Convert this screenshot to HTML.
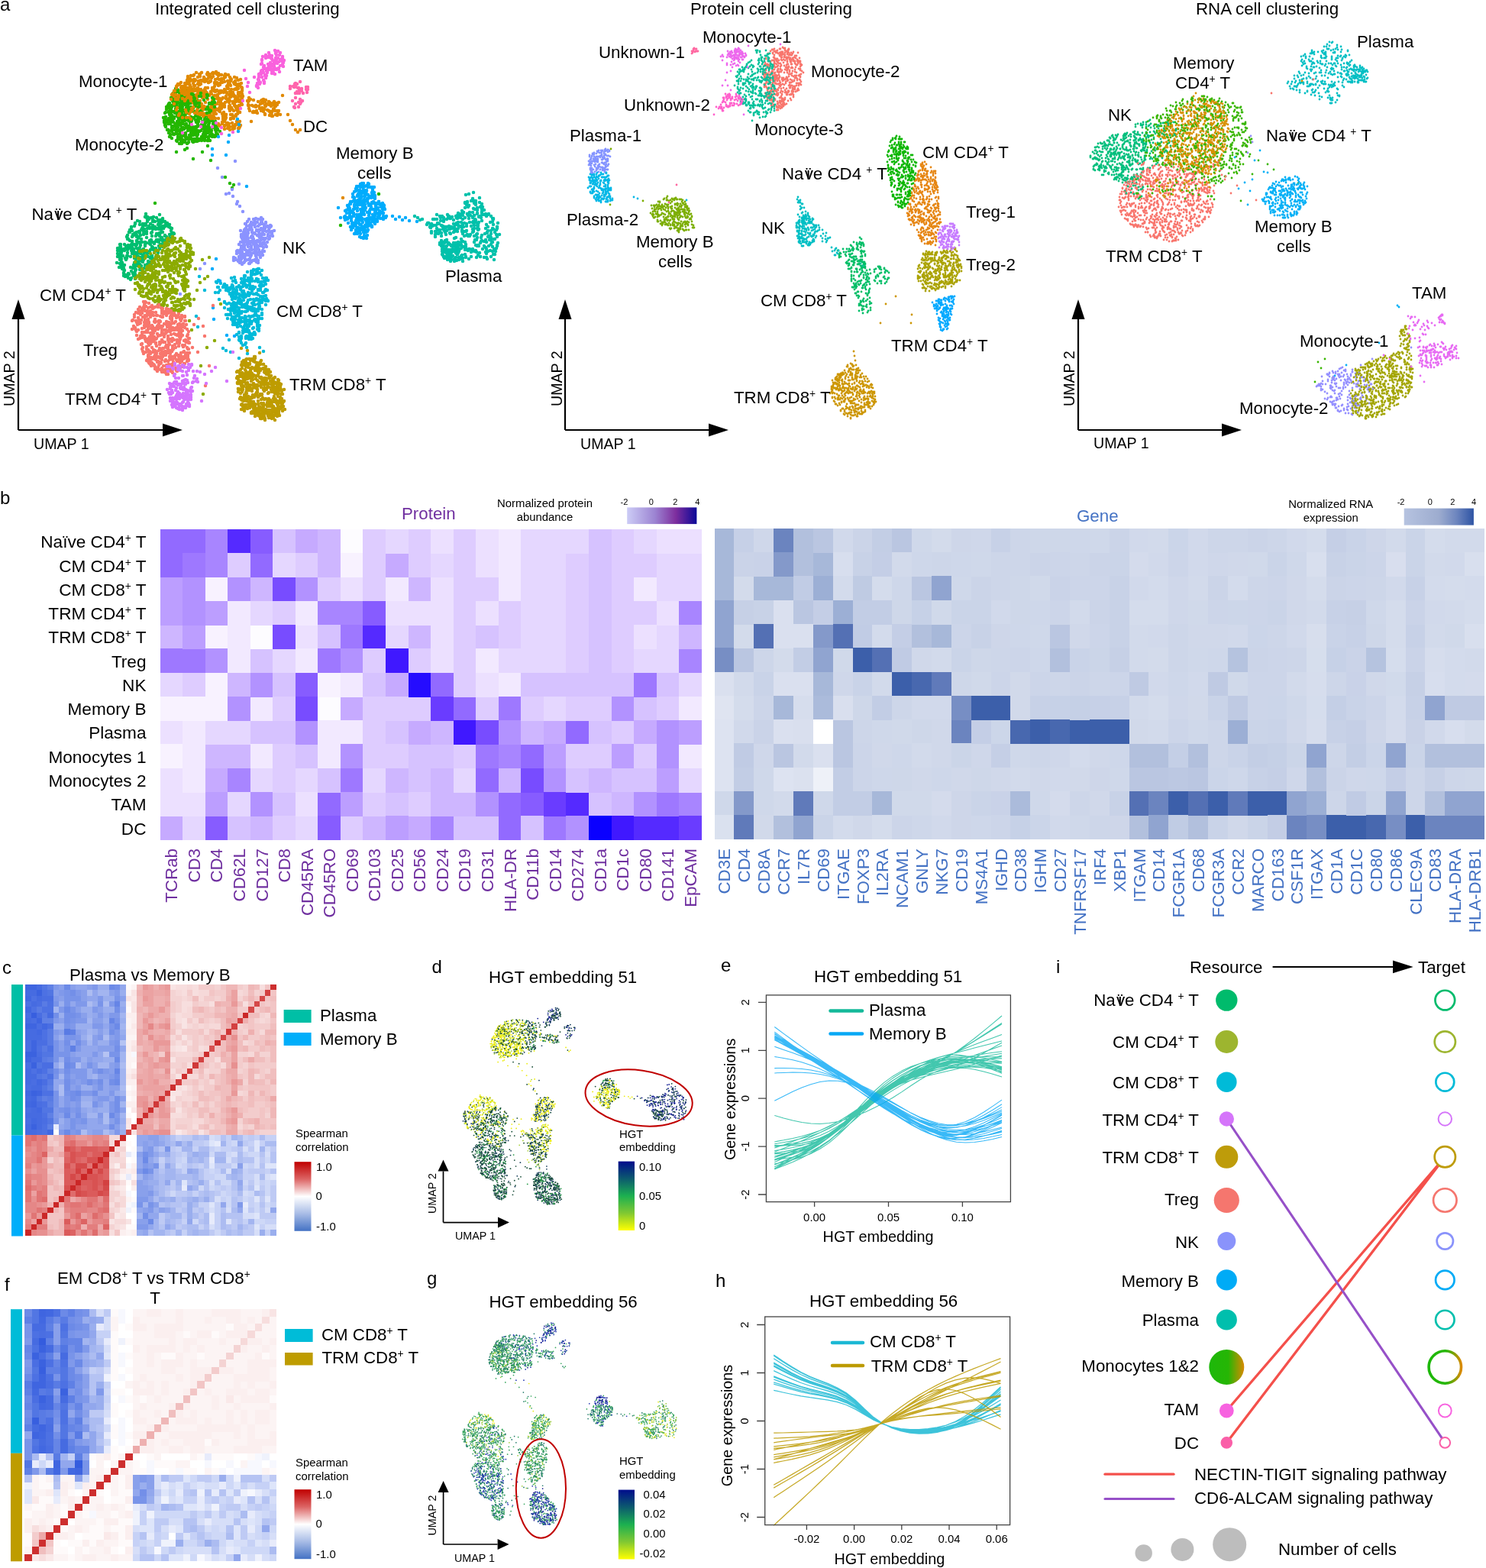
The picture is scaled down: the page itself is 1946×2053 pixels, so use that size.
<!DOCTYPE html>
<html><head><meta charset="utf-8"><title>Figure</title>
<style>
html,body{margin:0;padding:0;background:#fff;overflow:hidden;}
svg{display:block;}
text{font-family:"Liberation Sans", Arial, Helvetica, sans-serif;}
</style></head><body>
<svg width="1946" height="2053" viewBox="0 0 1946 2053">
<rect width="1946" height="2053" fill="#fff"/>
<defs><path id="q0_0" d="M208 299h0m-29 9h0m9-2h0m-6 4h0m-9 6h0m46-22h0m-5 5h0m8 12h0m-43 4h0m13-11h0m-22 11h0m56-3h0m-14-1h0m-7-12h0m-13 4h0m25-7h0m-4 0h0m-6-7h0m-25 14h0m-13 1h0m28-11h0m-30 15h0m49 0h0m-49 4h0"/><path id="q0_1" d="M176 296h0m16 10h0m17 3h0m-11-11h0m25 0h0m-39 10h0m26 6h0m-19-31h0m22 21h0m-20-5h0m26 15h0m-4-17h0m-45 7h0m39 1h0m9 9h0m-24-29h0m1 11h0m13-7h0m0 10h0m-7-9h0m7 1h0m-2 25h0m11-23h0"/><path id="q0_2" d="M199 304h0m9-6h0m-16-13h0m-6 14h0m-10 8h0m35 4h0m14 5h0m-29-1h0m2-10h0m-15-1h0m-10 6h0m27-10h0m-15 17h0m38-5h0m3 2h0m-57-10h0m38-16h0m-8 21h0m-3-10h0m4-11h0m9 4h0m4-5h0m-27 12h0"/><path id="q0_3" d="M185 313h0m42-8h0m-17-17h0m12 19h0m-14-7h0m-7-2h0m27 8h0m-16 8h0m-9-17h0m5 20h0m9-23h0m-16-10h0m-12 16h0m15 9h0m5-28h0m14 34h0m-33-20h0m-11 21h0m6-15h0m27-4h0m0-6h0m4-1h0m9 15h0"/><path id="q0_4" d="M179 304h0m29-5h0m9 15h0m-38-4h0m14-22h0m0-4h0m-3 0h0m16 23h0m-2-7h0m-11-10h0m-2-10h0m-10 32h0m-7-5h0m39 9h0m-26-17h0m-7-10h0m-3 16h0m29 1h0m-11-19h0m-7 16h0m22-13h0m-7 0h0m-13 3h0"/><path id="q0_5" d="M221 297h0m-10 4h0m-36 7h0m35-3h0m-43 8h0m48 3h0m1-20h0m-50 14h0m50-1h0m-16 8h0m18-7h0m-31-17h0m9 23h0m18-20h0m-46 17h0m9-20h0m51 20h0m-28-18h0m5 19h0m4-17h0m-11-12h0m-8 32h0m-7-27h0"/><path id="q0_6" d="M223 307h0m-14 1h0m-39-7h0m18 0h0m25-11h0m-30 4h0m42 5h0m-5 16h0m4-13h0m-17-8h0m-19 13h0m17-22h0m22 21h0m-36-13h0m-5 24h0m-8-11h0m-6-8h0m15-2h0m32-4h0m-15 24h0m9-30h0m-31 31h0m26-3h0"/><path id="q0_7" d="M172 297h0m22-12h0m-21 31h0m3-10h0m38-7h0m-13-10h0m-9 22h0m-15-19h0m35 7h0m-2-6h0m-3 21h0m10 2h0m-15-19h0m-29 5h0m25 12h0m16 0h0m-9-8h0m-5-16h0m20 26h0m2-22h0m-39 11h0m8-10h0m11 2h0"/><path id="q1_0" d="M162 351h0m32-9h0m-20 16h0m10-21h0m22-3h0m-27-1h0m0 11h0m-4-18h0m9 36h0m-11-32h0m9-2h0m25 1h0m-29 17h0m-16 7h0m16-17h0m6 17h0m21-17h0m-11 10h0m-26-24h0m1 3h0m37 4h0m11-8h0m-52 19h0m24 16h0m-31-31h0m8 13h0m34 2h0m-13 19h0m0-16h0"/><path id="q1_1" d="M210 320h0m-35 27h0m-10-23h0m-7 22h0m24-15h0m-3 4h0m-20 4h0m29-3h0m-30-16h0m41 4h0m-11 2h0m-11 39h0m-15-7h0m-4-25h0m0-10h0m41 17h0m-27-12h0m17 28h0m-22-25h0m31 16h0m-39-4h0m-2-18h0m2 23h0m34-2h0m11-20h0m0-1h0m-22 6h0m-3 2h0m-20 17h0"/><path id="q1_2" d="M207 330h0m-31 6h0m22 0h0m-39 10h0m14-14h0m14-5h0m-31 7h0m20 17h0m-7 8h0m7-21h0m5-2h0m15 13h0m-7-18h0m7 17h0m-9-14h0m-22-12h0m15 10h0m-3 17h0m-17-5h0m54-23h0m-35-1h0m33 0h0m-35 39h0m5-12h0m2-15h0m2 7h0m-15-17h0m22 26h0m-26-13h0"/><path id="q1_3" d="M167 362h0m11-20h0m-11-15h0m18 21h0m-7 5h0m21-16h0m5-1h0m-14 11h0m0-11h0m-22 28h0m4-44h0m3 7h0m26 0h0m-33 31h0m15-40h0m5 12h0m-24 8h0m-9-12h0m18-7h0m15 21h0m-7-11h0m7 27h0m0-17h0m-7-13h0m2 27h0m-1-11h0m-4-3h0m-18 13h0"/><path id="q1_4" d="M173 323h0m6 8h0m-23 19h0m19 0h0m-4 16h0m-15-38h0m31 30h0m10-31h0m-9 9h0m-27-1h0m17-13h0m-7 14h0m-17-8h0m5 0h0m17 2h0m23-7h0m-9-3h0m-36 5h0m29 15h0m-6 15h0m5-27h0m27-2h0m-44 34h0m11-40h0m7 26h0m-23-18h0m15 2h0m10-2h0"/><path id="q1_5" d="M190 322h0m-33-2h0m20 23h0m-20-5h0m15 26h0m11-40h0m3 28h0m-32-20h0m5-1h0m50-9h0m1-1h0m-51 22h0m15 8h0m-17-27h0m-2 1h0m8-5h0m21 1h0m-26 10h0m18 3h0m27-6h0m-32 22h0m-14-5h0m0-5h0m7 22h0m-11-18h0m26 4h0m6 4h0m3-17h0"/><path id="q1_6" d="M196 329h0m-1 15h0m16-22h0m-17 14h0m3 2h0m-5-9h0m4-10h0m6 20h0m0-20h0m-10-1h0m7 17h0m-33-10h0m23 26h0m-3-9h0m-14 13h0m-6-20h0m30 8h0m-34 14h0m15-21h0m1 27h0m-14-2h0m15-36h0m34-2h0m-51 38h0m20-15h0m-14-25h0m11-1h0m-20 30h0"/><path id="q1_7" d="M207 331h0m-32 30h0m34-38h0m-12-3h0m-21 40h0m32-38h0m-54 14h0m35-8h0m-5 21h0m-22-2h0m41-8h0m-44-4h0m17 22h0m33-32h0m-10 10h0m-23 9h0m-14-18h0m38-2h0m-37 23h0m-2 5h0m32-20h0m-20-7h0m6 9h0m33-14h0m-35 24h0m-14-16h0m0 26h0m15 8h0"/><path id="q2_0" d="M247 156h0m8-30h0m0 3h0m-32 33h0m23 25h0m28-26h0m3-3h0m-52-3h0m7-5h0m2 7h0m16 14h0m2-42h0m-19 52h0m41-25h0m-26 9h0m34 0h0m-44 2h0m-16-12h0m21-2h0m10-11h0m27 25h0m-36-2h0m39 13h0m-30-47h0m-10 17h0m-12 24h0m24 3h0m-22 1h0m6-41h0m-8 64h0m-5-68h0m33 34h0m12 3h0m-46-1h0m46-11h0m-46 9h0m56 14h0m-29 4h0m-1-1h0m-9-4h0m-25-18h0m19-30h0m-3 49h0m15-9h0m-8-8h0m4-42h0m5 45h0m3-42h0m-22 1h0m-8 33h0m22-16h0m-7 43h0m31-17h0m-9-35h0m-7 51h0m16-3h0m-47-40h0m24 48h0m37-18h0m-14 8h0m-30-25h0m17-17h0m5 19h0m-20-11h0m-13-10h0m-6 28h0m22-43h0m-17 19h0m31 44h0m-10-46h0m-2-6h0m20 49h0m-24-3h0m42-9h0m-66-14h0m40-2h0"/><path id="q2_1" d="M257 177h0m-27-15h0m18-5h0m-6 29h0m-8-66h0m33 48h0m-33-12h0m23 2h0m1 20h0m19 0h0m-3-9h0m-28-1h0m-22-40h0m15 0h0m10-10h0m0 14h0m1 32h0m-11-11h0m6-5h0m-23 2h0m45 12h0m-40-16h0m45 45h0m3-7h0m-22 24h0m-14-84h0m-24 36h0m25-7h0m-13-31h0m8 17h0m-15 31h0m23-39h0m-4-5h0m6 68h0m-19-48h0m-2 11h0m29 20h0m15-15h0m-13-33h0m-34 26h0m23-19h0m-1-5h0m-5-12h0m66 127h0m-66-109h0m11-5h0m20 28h0m-47-25h0m35 4h0m17 13h0m-2 32h0m-37-32h0m24 24h0m-24-56h0m5 31h0m18 9h0m-29 10h0m7 10h0m21-14h0m-14-34h0m-12 16h0m35 28h0m-31-15h0m38-6h0m-21 30h0m6-28h0m-26-9h0m16 20h0m33-7h0m-34-15h0m31 12h0m-42-13h0m6-8h0m35 34h0m-54-32h0m11 19h0"/><path id="q2_2" d="M259 141h0m-21 32h0m29 0h0m-41-3h0m37-20h0m-25-7h0m68 99h0m-18-70h0m-46 12h0m-26-20h0m19 24h0m14-11h0m4-46h0m-2 10h0m-19-23h0m5 67h0m10-52h0m-4 42h0m-9-27h0m-3-28h0m5 25h0m11-26h0m4 35h0m-22-32h0m17 16h0m1 20h0m11 19h0m-25 4h0m17-35h0m11 26h0m22 6h0m-32-4h0m-5-53h0m0 45h0m22-10h0m-52 6h0m18-42h0m3 36h0m11-26h0m-1 24h0m-9-3h0m47 18h0m-34 8h0m-8-22h0m14 4h0m-6-31h0m-6 3h0m28 53h0m-27-37h0m-26 23h0m23-37h0m-5 16h0m1 3h0m21 7h0m-32-4h0m2-38h0m-5 34h0m48 14h0m-8-21h0m-26 6h0m34 13h0m-24-5h0m9 8h0m-34-21h0m30 40h0m-2-10h0m17-7h0m-45 3h0m24-48h0m-30 34h0m54 11h0m-49 11h0m23-39h0m10-12h0m-10 14h0"/><path id="q2_3" d="M264 184h0m-30-22h0m26 3h0m-5 5h0m-3-4h0m7-5h0m-2 11h0m-29-19h0m31 29h0m-18-29h0m-16 19h0m-8-8h0m19 18h0m43-20h0m-41-5h0m-3 25h0m-11-22h0m50 11h0m11-1h0m-7 6h0m-9-15h0m-28 8h0m-13 7h0m16-9h0m-11-21h0m10 31h0m-18-22h0m7 4h0m41 14h0m-35 6h0m-12-21h0m39 1h0m-41-14h0m26-5h0m-3-15h0m-25 54h0m20-59h0m31 44h0m-8 17h0m-35-37h0m4 27h0m-10-29h0m-9 16h0m57-6h0m-51-5h0m4-9h0m28-6h0m25 35h0m-30-43h0m-27 50h0m18-15h0m39 20h0m-43-38h0m11 3h0m-3-7h0m-11-11h0m53 50h0m-46-46h0m20 23h0m-15 9h0m-13-24h0m3 22h0m16-7h0m-47 113h0m81-91h0m-41-44h0m-11 54h0m35-7h0m-34-11h0m42 11h0m-25-48h0m7 40h0m-19-50h0m9 45h0m-10 23h0"/><path id="q2_4" d="M256 185h0m-31-26h0m4-21h0m37 39h0m-40-54h0m12 16h0m-6 30h0m44 41h0m-39-82h0m16 39h0m-6-40h0m9 3h0m4 24h0m-32-17h0m9 32h0m38 8h0m-34-1h0m-1-43h0m-17 10h0m41 36h0m-40-21h0m18 38h0m-11-30h0m-1-44h0m22 47h0m22-2h0m4 10h0m-49-13h0m9-14h0m-18-12h0m52 31h0m-28-12h0m14-10h0m-33-7h0m31 26h0m-12 14h0m29 1h0m3-8h0m-17-15h0m-11 22h0m-26-33h0m16-11h0m-1-2h0m2 6h0m20 20h0m26 10h0m-20-21h0m-22 31h0m-8-45h0m261 119h0m-273-99h0m40 0h0m-27-25h0m44 34h0m-50-27h0m35 25h0m-22-26h0m3 6h0m8 12h0m-15 29h0m-4-60h0m39 36h0m-32-35h0m-12-8h0m29 21h0m-2 37h0m-36-12h0m61-3h0m-63-1h0m49-5h0m-9-7h0m2 7h0m16 22h0m-31-4h0m22-19h0"/><path id="q2_5" d="M273 179h0m-40-61h0m32 81h0m-29-70h0m-9 31h0m5-19h0m-5 35h0m44-7h0m-4 0h0m-31-44h0m1 4h0m-4 24h0m-2 14h0m11-11h0m-8-4h0m-15 18h0m63 7h0m-38-31h0m-20-1h0m20 0h0m11-9h0m-18 35h0m17 4h0m19-7h0m2-14h0m-30-24h0m-7 44h0m35-7h0m-24-10h0m-5 25h0m4 0h0m-15-47h0m21 19h0m-17-31h0m-10 43h0m-2 2h0m30 1h0m-4-11h0m3-12h0m-23 28h0m38 0h0m-12-14h0m-17 7h0m16-15h0m-14 6h0m-13-24h0m19 43h0m-7-32h0m-12-23h0m27 11h0m5 49h0m7 0h0m-45-6h0m27-32h0m-5 3h0m26 19h0m-8-21h0m-20 4h0m41 16h0m-47-12h0m33 26h0m-24-13h0m-7-14h0m-18 10h0m11-44h0m8 37h0m-18 6h0m37 2h0m-6 23h0m7-2h0m9-11h0m-51-30h0m12 32h0m-1-27h0m21-13h0"/><path id="q2_6" d="M235 175h0m23 10h0m3-34h0m-43 9h0m38-3h0m16 17h0m-34-52h0m4 41h0m-19-9h0m-9 0h0m42-6h0m17 24h0m-52-36h0m-5 12h0m49 2h0m-18-6h0m-9-28h0m20 29h0m-32-13h0m53 34h0m-61-26h0m39 8h0m-40-1h0m15-20h0m-16 27h0m230 141h0m-151-63h0m-59-94h0m19 44h0m-15-51h0m20 53h0m-24-23h0m36-2h0m-22 22h0m-12-25h0m26 7h0m-10 9h0m24 6h0m-28-4h0m-16-22h0m47 12h0m-32-3h0m-5-27h0m39 39h0m-45-37h0m4-14h0m-6 42h0m1 7h0m-6-25h0m44 25h0m-44-38h0m6 45h0m1-7h0m0-15h0m-5-25h0m17 29h0m-23-30h0m5 34h0m3-29h0m3 53h0m5-11h0m25-13h0m-8-9h0m-36-5h0m49 14h0m-29 16h0m-2-54h0m-2 42h0m28 11h0m-24-61h0m-5 28h0m32 28h0m-51-4h0m26-28h0m11 33h0"/><path id="q2_7" d="M232 168h0m26-40h0m-14 26h0m-4-18h0m29 36h0m-19-6h0m-19 18h0m1-32h0m27-5h0m-16 7h0m3-15h0m23 37h0m-10-37h0m-12 47h0m-10-23h0m22 11h0m-2-28h0m-15-19h0m-14 38h0m40 4h0m-13-30h0m-10-6h0m7 44h0m16-13h0m-25 10h0m11 8h0m-14-49h0m32 51h0m-44-50h0m39 32h0m-30 7h0m43-6h0m-33 15h0m2-39h0m-27-1h0m40 41h0m-30-66h0m2 42h0m34 25h0m-41-58h0m11 24h0m34 20h0m-45 5h0m38-7h0m-21-12h0m-18-2h0m24-37h0m17 61h0m-8-7h0m-42-5h0m50 13h0m-24-24h0m15-8h0m-41 11h0m27-26h0m-14 10h0m33 29h0m-22 15h0m19-29h0m-36-10h0m29-6h0m-28 40h0m24-63h0m25 37h0m-29-14h0m12-3h0m6 44h0m-27-19h0m-12-24h0m77 101h0m-33-91h0m-16 6h0m-10-11h0m-21 2h0m16 38h0"/><path id="q3_0" d="M268 106h0m14 14h0m-27-8h0m-9-10h0m39 22h0m-16-18h0m17 6h0m6 24h0m-64-17h0m59 23h0m-20-2h0m16 9h0m-8-42h0m13 39h0m-56-34h0m54 21h0m-23-16h0m18 8h0m-14 15h0m15 15h0m5-51h0m-47 9h0m32-15h0m-7 21h0m-24-5h0m4 1h0m16-4h0m1-14h0m18 33h0m-43-22h0m44 1h0m-1 8h0m-14 5h0m-7-3h0m-21-5h0m52-8h0m-14 49h0m-30-29h0m16 6h0m19 11h0m5-44h0m-49 20h0m52-15h0"/><path id="q3_1" d="M266 152h0m26-49h0m-18 49h0m0-27h0m-44-1h0m15-1h0m42 6h0m-9 3h0m6-13h0m-10-22h0m-6 20h0m-11 7h0m16 18h0m14-20h0m-5-3h0m9 20h0m-47-24h0m47 5h0m-41 4h0m22-29h0m-13 15h0m13 40h0m-11-39h0m24 14h0m-54-10h0m38 35h0m-19-51h0m12 51h0m19-42h0m11 20h0m-42 1h0m27-27h0m-1 18h0m-34 0h0m43 7h0m-42-16h0m43 51h0m0-66h0m-13 28h0m7 14h0m-38-19h0m42 10h0m-30-17h0"/><path id="q3_2" d="M250 119h0m-1 1h0m20 14h0m23 18h0m-50-43h0m-4 4h0m25 35h0m21-30h0m-30-20h0m-21 32h0m26-7h0m10 3h0m-7 14h0m-2-34h0m31 56h0m-13-27h0m-37-15h0m13 8h0m-5 1h0m-23-6h0m43-8h0m5 38h0m-7-4h0m-25-34h0m33-9h0m10 37h0m-39-36h0m40 3h0m-11 25h0m-16-20h0m-10-12h0m-6 17h0m44 44h0m-53-39h0m57 24h0m-13-53h0m6 48h0m-26 0h0m15-20h0m-15 23h0m24-38h0m-39 1h0m14 7h0"/><path id="q3_3" d="M280 141h0m-11-18h0m0 4h0m-25-4h0m32-17h0m14 24h0m-52-14h0m-13 8h0m25-10h0m4-10h0m-25 15h0m16-14h0m43 14h0m-64 11h0m44 13h0m-11-14h0m13-8h0m18 25h0m-29-26h0m16 21h0m17 15h0m-31-39h0m18-17h0m10-2h0m-5 38h0m-28-31h0m21 41h0m1-31h0m-30 12h0m24 14h0m-23-29h0m18-11h0m26 50h0m-60-40h0m51-14h0m-50 30h0m55 8h0m1-32h0m-52 16h0m7-13h0m44 15h0m-42-4h0m-5-1h0"/><path id="q3_4" d="M250 127h0m14 13h0m12-18h0m15 15h0m-58-10h0m35-8h0m9 23h0m-7-21h0m-18-2h0m41 2h0m-58-11h0m14-4h0m40 15h0m-41-2h0m40-8h0m-8 42h0m1-7h0m-26-40h0m36 23h0m-12 26h0m-2-11h0m-24-45h0m0 10h0m-5 9h0m32 20h0m-31-22h0m9 11h0m32 15h0m-52-20h0m40-4h0m-17-12h0m12-4h0m-7 47h0m-26-27h0m-7-12h0m55-1h0m-6-5h0m-19 6h0m17 32h0m-20-32h0m-29 3h0m9 0h0m32 29h0"/><path id="q3_5" d="M281 118h0m-5 34h0m-21-48h0m17 45h0m-24-39h0m28 13h0m-18 22h0m22-49h0m-4 51h0m3-52h0m6 8h0m-16 16h0m8 4h0m-10 16h0m-41-16h0m28 9h0m28 10h0m-43-20h0m32-18h0m16 41h0m-22-39h0m14 35h0m-9-17h0m18 16h0m-24-45h0m-25 25h0m7-20h0m-16 24h0m32-24h0m-16 27h0m37 16h0m-11-28h0m-12-7h0m9 14h0m12-9h0m-35-8h0m1 5h0m8 9h0m17 11h0m20 23h0m-55-34h0m43 30h0"/><path id="q3_6" d="M286 163h0m-2-53h0m2 45h0m-19-35h0m-2 28h0m27-9h0m-29-34h0m12-6h0m12 11h0m-26-13h0m28 36h0m-5-8h0m-5 16h0m-34-34h0m31 36h0m-42-32h0m18-6h0m27 47h0m-40-23h0m28-26h0m-27 12h0m40 11h0m-26-10h0m7 8h0m17 30h0m-32-35h0m19 9h0m26-20h0m-61 22h0m32-11h0m9 3h0m-5 21h0m-2-7h0m9-28h0m15 57h0m-11-10h0m-35-36h0m48 0h0m-28 30h0m-16-26h0m7 4h0m28 11h0"/><path id="q3_7" d="M237 115h0m43 4h0m3-25h0m-9 58h0m-6-45h0m23 53h0m-37-41h0m23 19h0m-27-23h0m25 32h0m-14-27h0m10-23h0m-32 32h0m34-21h0m-4-2h0m21-8h0m-12 45h0m-18-10h0m10-27h0m5 44h0m1-14h0m-29-21h0m41 5h0m-33-8h0m24 42h0m-20-53h0m29 36h0m-24 4h0m-17-32h0m19 17h0m21 3h0m-22-23h0m15 25h0m-48-1h0m44 6h0m8-28h0m-8 43h0m-18-35h0m-1-21h0m11 45h0m-9 9h0m9-46h0"/><path id="q4_0" d="M293 103h0m14 64h0m6-42h0m-6 43h0m-3-7h0m-10-62h0m15 17h0m-9 23h0m11 10h0m-4-32h0m5 51h0m3-42h0m-3-21h0m0 19h0m-7 41h0m7-49h0m-18 48h0m1-67h0m9 46h0m7-30h0m-15 16h0m2-15h0m12 3h0"/><path id="q4_1" d="M317 117h0m-8-6h0m-14 42h0m11-29h0m4-22h0m-1 8h0m5 37h0m-14-5h0m-4-16h0m5 6h0m3-11h0m-5 44h0m-1 3h0m2-27h0m4 9h0m-10-43h0m1 49h0m22-27h0m-7-1h0m1 0h0m0 13h0m-12-25h0m1 18h0"/><path id="q4_2" d="M314 159h0m-19-6h0m13-23h0m6 17h0m-11-43h0m-5 59h0m18-49h0m-21 42h0m7-6h0m15-25h0m-23-8h0m7 53h0m-6-51h0m4-13h0m9 57h0m1-33h0m4 37h0m-1-5h0m-6-17h0m2-6h0m-1-2h0m1 27h0m-6-40h0"/><path id="q4_3" d="M294 156h0m18-26h0m-14-24h0m3 4h0m4 23h0m-9 17h0m-1 14h0m20-38h0m-2 42h0m-8-33h0m-1-12h0m-2-17h0m-8 53h0m8-17h0m-8-4h0m18-15h0m-10 33h0m10-13h0m-17-9h0m-1 24h0m3-45h0m9 42h0m-12 14h0"/><path id="q4_4" d="M316 135h0m-22 30h0m13-64h0m-7 23h0m14 40h0m-16-32h0m-3-31h0m11 25h0m2-9h0m1 22h0m-8-1h0m-8 9h0m22-43h0m-14 20h0m16 0h0m-3 9h0m-4 11h0m-14 10h0m4 8h0m5 6h0m-8-46h0m4 23h0m-4-24h0"/><path id="q4_5" d="M297 161h0m6-44h0m7 42h0m-12 2h0m10-53h0m1 33h0m7-32h0m-15 11h0m17 6h0m-4 12h0m-16-26h0m7 40h0m-3 3h0m-4-39h0m4 11h0m11 11h0m-4-6h0m8 5h0m-17-27h0m12 51h0m2-29h0m-14-2h0m15 34h0"/><path id="q4_6" d="M294 140h0m13-30h0m-1 15h0m-5 19h0m1-32h0m4-4h0m-4 17h0m-2 42h0m9-17h0m-1-44h0m-7-5h0m11 20h0m-10-18h0m15 20h0m-18-13h0m-3 40h0m14 13h0m3-30h0m-14-35h0m6 23h0m-6 12h0m15 33h0m-18-68h0"/><path id="q4_7" d="M307 167h0m-4-26h0m4-3h0m-6 28h0m8-33h0m7-6h0m-8-1h0m-1 9h0m7-23h0m-1-2h0m-10 13h0m6 29h0m2-7h0m3-24h0m-14 8h0m0-18h0m17 4h0m-23-14h0m11 68h0m10-38h0m-14-5h0m16-7h0m-18-10h0"/><path id="q5_0" d="M332 147h0m-3 12h0m15-15h0m21-10h0m0 11h0m-18-7h0m-19-8h0m7 10h0m24 2h0m-6 4h0m-28-13h0m16 3h0m18 0h0"/><path id="q5_1" d="M356 152h0m-10-10h0m-1 4h0m-20-8h0m38-1h0m-8-1h0m-17-3h0m16 14h0m95 112h0m-101-120h0m-16 8h0m11-13h0m20 17h0"/><path id="q5_2" d="M350 144h0m-26-12h0m32 15h0m5 3h0m-15-7h0m17 2h0m-2-6h0m-29 0h0m20 6h0m35 25h0m-34-36h0m11 12h0m-15-10h0"/><path id="q5_3" d="M347 132h0m9 14h0m-1-7h0m-3-2h0m-26 5h0m19-8h0m-14 13h0m27-4h0m-3-4h0m-12-8h0m16 2h0m-12 16h0"/><path id="q5_4" d="M349 136h0m-2-3h0m-15 13h0m-6-14h0m27 19h0m-16-3h0m-12-11h0m9 10h0m18-14h0m-26-2h0m35 19h0m6 0h0"/><path id="q5_5" d="M393 170h0m-38-24h0m-29-18h0m31 7h0m-21 10h0m54 28h0m-7-10h0m-39-28h0m18 0h0m-15 15h0m-20-5h0m-2-13h0"/><path id="q5_6" d="M348 131h0m16 17h0m-30-9h0m-4-1h0m12-6h0m28-7h0m-11 19h0m-2 8h0m-18-13h0m1 3h0m-5-4h0m25 7h0"/><path id="q5_7" d="M345 130h0m0 1h0m11 20h0m21-1h0m-18-12h0m-27 8h0m11-5h0m37 17h0m-48-27h0m26 12h0m-32-5h0m16 7h0"/><path id="q6_0" d="M322 489h0m23-6h0m-14 14h0m34 1h0m-50 3h0m43 12h0m-17-8h0m-19-31h0m31 21h0m3 18h0m-45-12h0m35 38h0m17-14h0m-28-9h0m-21-23h0m28 30h0m-5-10h0m19-6h0m10 4h0m-23 24h0m-5-15h0m-13-1h0m-11-9h0m24 19h0m23-16h0m-1-19h0m0 8h0m-4 39h0m-21-3h0m10-39h0m-11-14h0m23 51h0m-42-14h0m50-11h0m-13-27h0m-34 48h0m15-14h0m-11-27h0m51 45h0m-55-31h0m-1 24h0m23 9h0m8-2h0m3 1h0m8-42h0m-15 43h0m-11-33h0m28 32h0m-34-47h0m-12-6h0m18 36h0m29 7h0m-38-7h0m19 23h0m11-15h0m-16 13h0m27-26h0m-54-13h0m51 41h0m-29-14h0m-14-51h0m32 66h0m-14-34h0m-10 24h0m25-12h0m-1-38h0m-17 47h0m6 3h0"/><path id="q6_1" d="M312 497h0m11 23h0m7 6h0m8-35h0m17 46h0m9-2h0m-31-65h0m5 21h0m29 33h0m-22 9h0m-25-58h0m33 62h0m-31-51h0m38 38h0m-15-47h0m-20 13h0m5-9h0m11-7h0m14 36h0m-11 11h0m19-17h0m-48 18h0m15 10h0m-6 2h0m24-33h0m-24 9h0m23-26h0m9 25h0m-8-6h0m3 0h0m-6 42h0m17-35h0m-37 24h0m21-47h0m-25 10h0m1-8h0m36 58h0m-38-57h0m17 14h0m-20-22h0m26 63h0m-12-52h0m14-11h0m5 5h0m-20 54h0m39-7h0m-39-44h0m18 32h0m-12 18h0m-22-47h0m-3 8h0m8 5h0m33-20h0m12 11h0m-23 20h0m8-9h0m-11-17h0m33 41h0m-56-33h0m26 49h0m-14-15h0m22-23h0m-3-7h0m11 30h0m-36-40h0m11 9h0m-12 15h0m20 28h0"/><path id="q6_2" d="M341 477h0m-23 45h0m19-16h0m1 34h0m12-37h0m4 21h0m-27-17h0m13-45h0m-8 29h0m37 31h0m-57-9h0m21 23h0m16 5h0m-26-71h0m40 46h0m-51-14h0m35 46h0m0-60h0m-11 26h0m-14-34h0m11-7h0m4 37h0m9 2h0m8-25h0m-8 50h0m-29-59h0m2-6h0m51 66h0m-54-15h0m38 9h0m-36-22h0m49 10h0m-46 14h0m19-16h0m10 14h0m-19-15h0m11-23h0m-22 44h0m49-6h0m-6 4h0m-22-3h0m-26-44h0m22 29h0m13 20h0m-18-56h0m18 45h0m-14-49h0m-9 45h0m40 3h0m-13-27h0m4 40h0m-9-55h0m-39 3h0m45 5h0m-18 6h0m22 38h0m-37-33h0m-11-17h0m27 58h0m-15-23h0m-6-33h0m-4-2h0m51 21h0m-41-13h0m7 27h0m3 17h0m-11-67h0m49 55h0"/><path id="q6_3" d="M360 540h0m8-8h0m-33-36h0m33 28h0m-31-32h0m-3-25h0m35 65h0m-24-1h0m14 13h0m-8-37h0m2 22h0m9-19h0m-5-14h0m1 0h0m-7 48h0m16-39h0m-42-27h0m-10 42h0m49-8h0m-41 3h0m23-7h0m-23 13h0m-4-47h0m39 33h0m-42-29h0m4 57h0m27 15h0m-23-54h0m42 6h0m-25-1h0m2 16h0m-31-8h0m50 3h0m-6 18h0m-40-25h0m35 10h0m-9-21h0m-19 13h0m37 43h0m-5-6h0m-33-22h0m43 16h0m-47-7h0m12-42h0m7 25h0m2-26h0m-23 48h0m14-5h0m-10 1h0m39-8h0m-35 11h0m36 0h0m-45-20h0m18 26h0m-6-64h0m-6 40h0m28-19h0m-26 13h0m42 17h0m-7 10h0m-36-14h0m42 7h0m-13-43h0m1 19h0m18 26h0m-54-24h0m20-30h0m7 37h0"/><path id="q6_4" d="M320 533h0m9-34h0m12-4h0m25 9h0m-41-9h0m42 11h0m-46 13h0m23 17h0m12-35h0m-45-8h0m6 15h0m8 1h0m20 38h0m11-48h0m8 42h0m-12-55h0m-40 23h0m1-16h0m53 51h0m-36-17h0m15-50h0m-27 12h0m5 41h0m11-1h0m-7-40h0m38 49h0m-29-22h0m28 16h0m-34 7h0m36-29h0m-29-28h0m-9 43h0m20-45h0m-12 37h0m25 21h0m-3-4h0m-28-22h0m13-11h0m-1 47h0m27-32h0m-1-6h0m-9-10h0m-34-12h0m13-5h0m7 47h0m-27-7h0m43-16h0m6 17h0m-36-16h0m6 28h0m-6-32h0m-18-2h0m22-21h0m33 22h0m-9 7h0m-10 20h0m9-17h0m-9-27h0m-26 22h0m40 27h0m-24-2h0m25-32h0m-43-17h0m3 17h0m-7-1h0m46 29h0m-46-16h0m11-31h0"/><path id="q6_5" d="M357 526h0m-14 15h0m15-35h0m-24 39h0m9-3h0m-3-48h0m-16-35h0m-7 17h0m6 16h0m41 14h0m-38 24h0m-9-40h0m25 53h0m-3-43h0m-16 25h0m16 15h0m-23-10h0m43 4h0m-40-37h0m29-2h0m-2 50h0m-19-75h0m25 72h0m-2-38h0m-25-27h0m5 43h0m23 5h0m-2-23h0m-8-5h0m0 44h0m12 6h0m10-10h0m-6-18h0m10 10h0m-31-42h0m-6-16h0m30 30h0m-42-5h0m-4-5h0m36 0h0m-17 17h0m-13 25h0m30-19h0m6 18h0m-2-21h0m-27 19h0m23-4h0m-34-5h0m30-23h0m4 49h0m-7-17h0m-28-6h0m-1-20h0m9 2h0m1 21h0m43-15h0m-44 7h0m21-24h0m14 31h0m-11-36h0m-28 40h0m11-57h0m-15 28h0m42 8h0m-35-17h0m30 0h0m-34-16h0m10 19h0"/><path id="q6_6" d="M314 489h0m27 27h0m-13-31h0m28 63h0m-22-15h0m38-23h0m-27 33h0m16-20h0m-10 15h0m-9-66h0m-24 22h0m38 51h0m-13 3h0m-5-23h0m32-9h0m-14 31h0m-25-56h0m-7 32h0m-1-46h0m-7-21h0m36 39h0m-9 34h0m-14 12h0m13-58h0m-16 5h0m10 47h0m24 4h0m-29-46h0m-2 18h0m13-4h0m-21 14h0m6-30h0m-7 44h0m0-35h0m45 5h0m-30 36h0m-8-54h0m-15-1h0m19-4h0m-4-6h0m2 44h0m34-17h0m-38-22h0m2 11h0m15 12h0m8 19h0m-13-48h0m-2 64h0m23-2h0m-13-9h0m-6-50h0m-11 26h0m1-16h0m3 38h0m9 16h0m-27-20h0m21-30h0m16 40h0m19-4h0m-41-45h0m29 39h0m-22-37h0m-8-13h0m5 60h0m39-7h0m-12-3h0m-9 1h0m7-22h0"/><path id="q6_7" d="M335 504h0m-13 10h0m8-43h0m9 61h0m0-50h0m8 21h0m-2 7h0m-18-18h0m3-22h0m8 49h0m15 19h0m-27-68h0m-16 25h0m7 41h0m7-29h0m35 3h0m8-3h0m-40-12h0m11-19h0m-12 35h0m2-16h0m14 33h0m-20-49h0m34 66h0m6-1h0m-30-9h0m-12-15h0m13-53h0m13 56h0m12-19h0m-29 36h0m12-55h0m-10 41h0m15-22h0m2-19h0m-15-3h0m1-13h0m17 15h0m-18 57h0m35-25h0m-34-42h0m33 61h0m-41-31h0m34 34h0m4-19h0m-44-29h0m-3-16h0m11 54h0m-3-52h0m38 69h0m-44-20h0m10-30h0m36 46h0m-17 0h0m-31-29h0m43 3h0m-3 28h0m-2-40h0m-18 39h0m-14-46h0m19 48h0m25-22h0m-37-13h0m5 7h0m18 25h0m-15-4h0m10-52h0"/><path id="q7_0" d="M339 392h0m-40-11h0m12 47h0m-5-45h0m16 59h0m-10-23h0m-11-40h0m21 63h0m7-18h0m-13 19h0m32-64h0m-12 12h0m3 42h0m-18-19h0m11-36h0m-8 24h0m16 24h0m-43-28h0m25 10h0m-15-3h0m19 28h0m-22-29h0m-36-24h0m60 43h0m-6-8h0m-13 10h0m-10-20h0m25-9h0m-21 22h0m27-41h0m-44-1h0m29 70h0m1-6h0m-3-4h0m-5-13h0m20-31h0m2 29h0m18-34h0m-52 72h0"/><path id="q7_1" d="M332 429h0m-30-22h0m13-14h0m-10-11h0m4 6h0m5-12h0m-12 35h0m-17-35h0m31 0h0m15 61h0m-22-23h0m18-36h0m0 7h0m-3 43h0m-21-24h0m29-19h0m16 9h0m-40 29h0m0-32h0m8 5h0m-6-11h0m7-3h0m4 49h0m7-56h0m19 17h0m-34 19h0m36-20h0m-36 33h0m4-22h0m20-9h0m-2-8h0m-26 18h0m13-5h0m7 42h0m15-51h0m-43-5h0m23 23h0m26-27h0m0 13h0"/><path id="q7_2" d="M315 427h0m13 12h0m-17-30h0m15 18h0m-3 6h0m8 5h0m-26-60h0m8 7h0m-11 27h0m39-24h0m-39 73h0m8-77h0m1 28h0m11 31h0m-22-66h0m12 17h0m-2 44h0m31-43h0m-37 3h0m19 0h0m-17 18h0m22-32h0m-12 26h0m-12-26h0m6-1h0m13 51h0m-21-30h0m25 32h0m-35 20h0m22-69h0m-11 13h0m3-4h0m-24-13h0m39 68h0m3-19h0m1-46h0m2 36h0m-13-27h0m-15-17h0"/><path id="q7_3" d="M315 379h0m4 2h0m26 79h0m-16-16h0m9-64h0m-31 41h0m13-4h0m7 22h0m-4 1h0m28-46h0m-57 1h0m29 24h0m-13-39h0m0 21h0m23 34h0m2-14h0m-21-13h0m-16 4h0m18 37h0m1-49h0m-23 3h0m47-25h0m-32 21h0m4 23h0m-1-32h0m21 4h0m-20 3h0m4-11h0m6 0h0m-18 35h0m36-33h0m-2-8h0m-25 66h0m7-22h0m-7-37h0m-6 15h0m6-11h0m-28-8h0m34 19h0"/><path id="q7_4" d="M324 463h0m2-28h0m-23-31h0m22 38h0m22-61h0m-21 6h0m-15 20h0m13 27h0m-3 0h0m5 10h0m17-52h0m-9 46h0m-26-55h0m5 29h0m18 18h0m-13 22h0m-18-55h0m38-11h0m-38 26h0m-13-20h0m26 15h0m10 48h0m-8-78h0m-9 38h0m7 20h0m-17-55h0m21 1h0m22 49h0m-29-54h0m12 73h0m-19-43h0m-5 11h0m18 25h0m-3 3h0m-13 0h0m10-48h0m13 24h0m9-29h0m12 0h0"/><path id="q7_5" d="M325 383h0m0 2h0m-4 4h0m-15 18h0m24-26h0m-29 4h0m8 22h0m-3-22h0m-7 20h0m14 0h0m-10-17h0m5 37h0m3-2h0m-54-9h0m54 10h0m21-48h0m-13 23h0m2 33h0m20-52h0m-36 45h0m39-32h0m1-10h0m-30 11h0m-7 22h0m30 11h0m-19 6h0m2-25h0m-13 10h0m28-34h0m-18 52h0m-4-20h0m28-22h0m-25 27h0m-2-23h0m-19-21h0m22 12h0m-4 3h0m-22-16h0m33 9h0"/><path id="q7_6" d="M329 421h0m-19 3h0m12-21h0m12 34h0m4-15h0m-25-8h0m-5-6h0m0 8h0m9 0h0m-9 1h0m14 24h0m7-64h0m-23 1h0m31 47h0m0 6h0m-33-33h0m19 4h0m-18-2h0m18 33h0m-2-2h0m17-52h0m-25 62h0m32-53h0m-8 39h0m3-33h0m-31-14h0m19 63h0m-40-63h0m29 28h0m-13 9h0m19 8h0m5-41h0m-13 38h0m-11-7h0m-45 13h0m63-28h0m-14-3h0m32 58h0"/><path id="q7_7" d="M334 376h0m-25 25h0m-2 18h0m37-36h0m-40 9h0m1-17h0m8 28h0m-6 7h0m13 11h0m3-45h0m14 48h0m-15-36h0m2 13h0m-11 68h0m18-26h0m-12-56h0m-1 42h0m1-36h0m0-9h0m1 43h0m6-2h0m-17-42h0m-4 18h0m15-17h0m-22 28h0m26 18h0m-21-54h0m-9 20h0m21 22h0m3 15h0m2-49h0m-14 5h0m9-12h0m15 2h0m-18 15h0m13-1h0m6-18h0m-35 37h0"/><path id="q8_0" d="M338 368h0m5-14h0m-55 14h0m42 0h0m-12 7h0m4-2h0m10-14h0m-5 7h0m15-6h0m-15 12h0m9-14h0m4-1h0"/><path id="q8_1" d="M349 364h0m-88-2h0m44 6h0m38 5h0m-2-3h0m-52 1h0m59 1h0m-10-3h0m-22-4h0m30 3h0m-9-10h0m7 6h0"/><path id="q8_2" d="M308 367h0m14 0h0m-15-4h0m13-2h0m13-2h0m-13 12h0m8-7h0m23 3h0m-38 7h0m-19-1h0m33-4h0m21-2h0"/><path id="q8_3" d="M342 369h0m-38 4h0m30-5h0m-13 0h0m15-3h0m7 4h0m-12-14h0m3 13h0m0-9h0m11 15h0m-6-22h0m-15 4h0"/><path id="q8_4" d="M338 366h0m-35-2h0m1 10h0m-18-7h0m39-1h0m7-13h0m-14 18h0m30-7h0m-16-10h0m-8 20h0m0-7h0m-3-6h0"/><path id="q8_5" d="M340 374h0m-11-13h0m-4 7h0m17 3h0m-33-1h0m16-6h0m-28 10h0m25 0h0m8-9h0m-10 1h0m16-13h0m-7 3h0"/><path id="q8_6" d="M342 375h0m-5-19h0m-19 14h0m-34 0h0m-1-1h0m53-11h0m-6 1h0m8-7h0m-2 4h0m-17 13h0m30-3h0m-56 8h0"/><path id="q8_7" d="M347 370h0m-9-4h0m-21 3h0m20-16h0m-8 6h0m-35 13h0m33-6h0m2 0h0m-13 4h0m13-15h0m-9 8h0m22 7h0"/><path id="q9_0" d="M333 407h0m1 11h0m9-1h0m-9-6h0m14-12h0m-15 14h0m-4-8h0"/><path id="q9_1" d="M341 396h0m2 9h0m-16 14h0m11 0h0m-8-17h0m-3 2h0m2 2h0"/><path id="q9_2" d="M325 404h0m2-2h0m6 2h0m-7 10h0m2 1h0m7-7h0"/><path id="q9_3" d="M326 419h0m9-8h0m-4-4h0m7 12h0m-10-14h0m3 9h0"/><path id="q9_4" d="M332 399h0m3 20h0m1-6h0m-6 1h0m10 3h0m0-22h0"/><path id="q9_5" d="M340 404h0m-2-6h0m-7 16h0m12-4h0m-3-9h0m-10-4h0"/><path id="q9_6" d="M333 419h0m4-12h0m3-10h0m-1 17h0m4-2h0m-9-13h0"/><path id="q9_7" d="M343 396h0m-5 11h0m-6-11h0m7 6h0m-2 3h0m1 11h0"/><path id="q10_0" d="M316 307h0m-8-96h0m44 86h0m-32 10h0m4 22h0m22-15h0m-14-20h0m-16 50h0m8-13h0m5-39h0m-5 9h0m15 26h0m1-16h0m0 19h0m2-43h0m-10 30h0m-22-50h0m28 55h0m1-13h0m-3 16h0m15-17h0m-24-9h0m-91 86h0m99-56h0m15-33h0m1 11h0m5-1h0m-38-29h0m19 45h0m-10-3h0m13-25h0m8 18h0m-15 6h0m-15-3h0m11 17h0m15-45h0m-25 28h0m20-11h0"/><path id="q10_1" d="M321 333h0m2-16h0m-4-11h0m8 21h0m5-9h0m9-31h0m-18 22h0m6-14h0m1 14h0m-10 3h0m9-2h0m-14 32h0m-1-72h0m10 20h0m-8 34h0m13 0h0m-4 6h0m7-17h0m-26 28h0m27-21h0m-10 12h0m25-40h0m-5-1h0m-14 52h0m-11-20h0m38-20h0m-40 36h0m4-16h0m14 4h0m19-15h0m-53-59h0m19 84h0m2-33h0m9-3h0m8-5h0m14 5h0m-18 22h0m0-31h0"/><path id="q10_2" d="M262 352h0m79-15h0m12-28h0m-8 15h0m-32 16h0m19-21h0m25-10h0m-34 8h0m31-20h0m-39 20h0m44-15h0m-42 32h0m16-46h0m6 13h0m-4 34h0m10-23h0m8-8h0m-34 40h0m5-36h0m3-13h0m-16 36h0m10-31h0m17 16h0m-16-17h0m14 3h0m6-11h0m14 15h0m-34 7h0m32-18h0m-31 33h0m11-35h0m-13 48h0m-13-3h0m-2-1h0m36-17h0m-8-30h0m-22 52h0m35-43h0"/><path id="q10_3" d="M332 287h0m24 17h0m-29 35h0m21-48h0m-25 5h0m-32-64h0m40 78h0m7-9h0m-32 38h0m23-5h0m8 7h0m8-34h0m-11 34h0m-17-17h0m26 7h0m3-34h0m-12 29h0m-1-9h0m5 9h0m8-8h0m-4 4h0m-23-1h0m-10 19h0m4-3h0m21-45h0m-3 2h0m-2 6h0m-1 31h0m10-16h0m0 29h0m-10-26h0m-2 27h0m25-48h0m-15 23h0m-16-19h0m14 39h0m-18-3h0m31-40h0"/><path id="q10_4" d="M323 305h0m-7 17h0m21-7h0m-21 24h0m4-18h0m16 17h0m-3-45h0m4-2h0m-21 18h0m18 12h0m15 2h0m-11 18h0m-27-13h0m-15-74h0m39 32h0m-10 48h0m15-4h0m12-17h0m-25-17h0m6 35h0m11 3h0m0-28h0m-1 7h0m-26 18h0m23-14h0m-72 28h0m47-12h0m-2-4h0m8-36h0m32 5h0m-32 29h0m17-40h0m6 41h0m-11 13h0m-16-29h0m0 18h0m38-34h0m-38 31h0"/><path id="q10_5" d="M337 331h0m-3 0h0m-12 10h0m18-35h0m-14 10h0m-6-6h0m24-6h0m-10-7h0m-10 14h0m-9 16h0m-1 17h0m22-1h0m6-29h0m-11-2h0m-12-8h0m-8-40h0m17 78h0m-8-17h0m6-24h0m20 1h0m-20-15h0m-3 44h0m2-8h0m25-6h0m-32-9h0m11 3h0m7 23h0m11-21h0m-19-19h0m7 40h0m-18 3h0m8 3h0m-4-5h0m-2-17h0m22-7h0m1-2h0m-17-4h0m11 11h0"/><path id="q10_6" d="M325 312h0m-5 21h0m-10-4h0m32-44h0m-29-44h0m10 75h0m19-17h0m7 4h0m-21 33h0m2-42h0m16 13h0m-10-6h0m-16 35h0m24-18h0m-13-13h0m9 5h0m-18-17h0m11 0h0m-2-1h0m10 27h0m-5 5h0m-7-8h0m4-24h0m11 28h0m-5 2h0m-9-6h0m-15-14h0m-10-45h0m8 79h0m11-29h0m-8 10h0m8 3h0m5-22h0m-2 47h0m10-37h0m-7 19h0m-45-107h0m36 119h0"/><path id="q10_7" d="M335 340h0m-1-48h0m-30-44h0m37 53h0m-7 5h0m-4-2h0m-14 6h0m18 17h0m8-17h0m1 3h0m5 8h0m-11-13h0m-8-9h0m-5 21h0m-11 0h0m-3 12h0m30 2h0m11-25h0m-22-18h0m-1 26h0m18-23h0m-14 22h0m3 18h0m-3-3h0m-3-9h0m-12 24h0m26-53h0m-30 37h0m18 11h0m2-10h0m-13 12h0m13-38h0m-15 4h0m28 20h0m-11-13h0m-13 0h0m22-16h0"/><path id="q11_0" d="M495 280h0m-30-16h0m3 12h0m30 10h0m-1-4h0m-38 15h0m27-2h0m-20 9h0m18-13h0m-16-6h0m13 23h0m9-42h0m12 13h0m-12 6h0m-15 12h0m13-23h0m-7-11h0m15 1h0m-38 3h0m18 11h0m6 18h0m-3 6h0m-21-29h0m37-6h0m-17-3h0m24 4h0m-8 22h0m-32 2h0m27-4h0m-30-24h0m2 14h0m26-13h0m-4 28h0m-204 110h0m218-122h0m-30 19h0m-160 140h0"/><path id="q11_1" d="M464 306h0m9-27h0m-1-16h0m26 4h0m-13 7h0m9 15h0m-33 4h0m37-25h0m-36 29h0m26-16h0m-37 3h0m41-8h0m-30 22h0m30-30h0m7 3h0m-47 17h0m8 1h0m0-3h0m3-7h0m18 24h0m-22-36h0m6-3h0m13 31h0m-12 1h0m19-10h0m16 0h0m-16 8h0m-26-18h0m21 17h0m10-6h0m-23-19h0m12 20h0m16-4h0m-2-12h0m-30 2h0m24 22h0"/><path id="q11_2" d="M469 304h0m32-18h0m-23 12h0m-10 8h0m1-8h0m22-16h0m-16 9h0m-8 13h0m17-25h0m10-5h0m-30-6h0m14 42h0m17-38h0m41 17h0m-72-19h0m12 42h0m-24-28h0m20-3h0m-3-19h0m-15 23h0m39-6h0m-13 33h0m13-23h0m-1-23h0m-11 31h0m-10-9h0m15-15h0m-28 6h0m10 9h0m18-21h0m-15 21h0m28-10h0m-13 17h0m-10-28h0m6 34h0m-12-14h0"/><path id="q11_3" d="M288 368h0m178-67h0m10-22h0m-8-11h0m12 21h0m-3 22h0m-11-19h0m20-7h0m-19 1h0m-1 6h0m-7-7h0m46 0h0m-50-16h0m16 41h0m31-27h0m-39-2h0m33 1h0m22 5h0m-39 22h0m-12-22h0m21 2h0m-1 8h0m-7-6h0m-200 127h0m266-128h0m-72-4h0m-11-23h0m18 23h0m-10-18h0m1 38h0m-11-42h0m4 29h0m-1 0h0m4-10h0m12-20h0m-28 13h0"/><path id="q11_4" d="M452 283h0m16-11h0m21 17h0m-16-7h0m-18 5h0m24-15h0m-7 13h0m-12-1h0m-2-7h0m18-14h0m-20 22h0m15 18h0m12-15h0m1-12h0m1 16h0m18-20h0m-14-8h0m-3 7h0m41 17h0m-28-20h0m-22 2h0m1 32h0m6-7h0m-5 9h0m-201 48h0m212-61h0m-31 6h0m0-19h0m8 3h0m11 6h0m-5-11h0m19 3h0m-22-13h0m1 0h0m32 3h0m20 15h0"/><path id="q11_5" d="M456 274h0m20 30h0m-30-19h0m10 7h0m21 12h0m24-26h0m-29 3h0m30-11h0m-40 8h0m3 28h0m23-41h0m-34 14h0m29-10h0m-186 170h0m157-164h0m6 26h0m11-7h0m29-15h0m-40 22h0m20-12h0m-22-13h0m20-1h0m18-11h0m-17 46h0m-6-11h0m0-33h0m4 15h0m-2-18h0m39 20h0m-32-17h0m10 12h0m-16-1h0m-1-4h0m3-1h0m13 6h0m6-2h0"/><path id="q11_6" d="M503 274h0m-220 65h0m189-54h0m4-17h0m15 7h0m10-1h0m-26-3h0m14 17h0m-14 23h0m2-3h0m-8-42h0m4 45h0m19-41h0m-12 26h0m17-16h0m-35 18h0m39-32h0m-31 34h0m2-26h0m16-8h0m-37 19h0m43 1h0m-36-4h0m73 3h0m-58 13h0m23-31h0m-22 22h0m0 12h0m-9-28h0m26 20h0m-19-25h0m18 6h0m-47-2h0m27 20h0m-2-25h0m4 0h0"/><path id="q11_7" d="M504 274h0m-26 28h0m1 0h0m12-20h0m-8 0h0m9-16h0m-22 17h0m3 11h0m30-10h0m-39 10h0m-1-20h0m24 23h0m-4-11h0m-5-18h0m-11 24h0m-4-9h0m18-5h0m21 9h0m-14 3h0m-14-4h0m16-4h0m-2 3h0m9-8h0m-40-6h0m-1 0h0m14 10h0m-4 8h0m30-24h0m10 18h0m-39-20h0m0 22h0m-4 7h0m23-5h0m3 2h0m-12 11h0m-11 4h0"/><path id="q12_0" d="M462 254h0m24 3h0m-5 4h0m4-16h0m-8 16h0m11-12h0m-10-5h0m8 1h0m-14 5h0m3-5h0m1-5h0m-4 5h0"/><path id="q12_1" d="M482 255h0m0-15h0m-9 13h0m-9-2h0m24 3h0m-165-10h0m146 12h0m2 6h0m9-13h0m-14 1h0m12 1h0"/><path id="q12_2" d="M472 243h0m18 9h0m-9 8h0m-6-17h0m-3-2h0m0 11h0m3-1h0m12 1h0m-10 1h0m-4-9h0m-5 13h0"/><path id="q12_3" d="M467 248h0m21 6h0m3 4h0m-3-13h0m-15 9h0m15-6h0m-6 12h0m-12-10h0m6-2h0m7-7h0m-14 8h0"/><path id="q12_4" d="M480 254h0m7-1h0m-9 4h0m-11-13h0m2 0h0m-158-88h0m155 91h0m11 10h0m-13 2h0m16-9h0m10-5h0"/><path id="q12_5" d="M477 244h0m10 14h0m4 2h0m-1-1h0m-11-5h0m-201-51h0m195 54h0m-4-3h0m3-4h0m-186-71h0m177 79h0"/><path id="q12_6" d="M472 259h0m19-3h0m-27 5h0m16-18h0m-1 7h0m-17 8h0m20-13h0m7 10h0m-189-78h0m-4 26h0m16-31h0"/><path id="q12_7" d="M467 247h0m-154-84h0m-35 32h0m21-9h0m184 71h0m-9-17h0m-3 20h0m0-11h0m15 10h0m-13 0h0m-5-3h0"/><path id="q13_0" d="M579 333h0m12 7h0m-7-15h0m1 13h0m12-7h0m-1 7h0m-2-17h0m-3 16h0m-11-3h0m19-14h0m-8 11h0"/><path id="q13_1" d="M595 342h0m-12-14h0m0-2h0m-4 0h0m1 0h0m-2-4h0m21 4h0m-3-4h0m-6 19h0m7-12h0m-8 3h0"/><path id="q13_2" d="M591 322h0m3 7h0m-4-2h0m8-5h0m-9 8h0m-10-9h0m13 7h0m8-8h0m-19 16h0m17 5h0m-12-4h0"/><path id="q13_3" d="M589 329h0m6 10h0m2-2h0m3-11h0m-13 8h0m3 0h0m10-9h0m-13 13h0m-6-16h0m8 6h0m7 1h0"/><path id="q13_4" d="M584 337h0m7-1h0m-7-10h0m12 1h0m-7-7h0m9 2h0m-5 4h0m7 5h0m-13-1h0m-2 2h0"/><path id="q13_5" d="M598 332h0m-11-5h0m-5 3h0m16-4h0m-5 9h0m-1-13h0m-10 16h0m10-17h0m5 1h0m-7 17h0"/><path id="q13_6" d="M591 335h0m2-12h0m-9 13h0m-4-13h0m14-3h0m-7 12h0m1 0h0m7-3h0m4 4h0m-14-11h0"/><path id="q13_7" d="M590 342h0m-11-13h0m18-4h0m-21-5h0m6 10h0m17 3h0m-14-3h0m-4 6h0m6 1h0m-1 3h0"/><path id="q14_0" d="M604 297h0m13-1h0m3-6h0m17 27h0m-48-18h0m51 10h0m-53-25h0m-26 8h0m30 5h0m-12-1h0m-3 8h0m47-36h0m0 53h0m-26-10h0m33-26h0m8 20h0m-65-4h0m26-16h0m38 47h0m5-18h0m-10-43h0m-6 22h0m-46 7h0m51-23h0m19 48h0m-41-8h0m1 19h0m-21-16h0m27-13h0m-52-9h0m68-17h0m-49 23h0m-6-15h0m4-1h0m8-3h0m57 2h0m-42 34h0m-24-25h0m30 27h0m31-9h0m2-8h0m-24-21h0m-8 8h0m-11-14h0m3 2h0m35 23h0m-12 17h0"/><path id="q14_1" d="M597 319h0m49-19h0m-73-7h0m46-33h0m20 50h0m9-6h0m-50-19h0m-23 8h0m-16 1h0m42 46h0m5-58h0m-34 5h0m-2 16h0m52-16h0m-1 30h0m16-34h0m-65 22h0m25-22h0m54 14h0m-46 4h0m29-26h0m8 16h0m-64 14h0m22-21h0m-19 14h0m40-33h0m-1 8h0m-77 10h0m52 20h0m10-27h0m6 32h0m-8-12h0m22 3h0m-25 18h0m26-16h0m-61 4h0m38-24h0m-22 36h0m42-26h0m-19 0h0m-28 10h0m36-21h0m-3 47h0m-33-44h0m5 2h0m58 17h0m-10 34h0"/><path id="q14_2" d="M643 283h0m-6 43h0m-24-55h0m-7 35h0m12 21h0m-41-42h0m27 28h0m11 13h0m6 3h0m-2-2h0m12-12h0m-46-18h0m-32-10h0m42 10h0m56 2h0m-26 12h0m-13-47h0m2-10h0m9 74h0m-12-26h0m-7 33h0m27-46h0m-31 38h0m-21-44h0m42-1h0m24 4h0m-18 14h0m-26 21h0m13 18h0m-13-19h0m45-34h0m-21-13h0m20 17h0m1 43h0m-41 1h0m37-23h0m-58-4h0m6-1h0m38-41h0m11 16h0m4 39h0m-17-24h0m-52 5h0m4 14h0m6-17h0m-6 11h0m11-23h0"/><path id="q14_3" d="M623 288h0m-22 49h0m18-53h0m6 38h0m-53-23h0m50-12h0m-9 22h0m-40-17h0m56 26h0m-24-15h0m2-6h0m36 5h0m-49 16h0m13 5h0m17-16h0m19 5h0m-5 27h0m-7-65h0m-20-6h0m-4 10h0m38 39h0m-32-35h0m37 25h0m-89-15h0m8-5h0m37 7h0m8-8h0m6-23h0m-9 33h0m24 10h0m-15-14h0m23 19h0m-26-48h0m13 7h0m-67 27h0m63-3h0m-26 31h0m31-58h0m-11 36h0m-10 0h0m-1-31h0m23 54h0m-27-29h0m14-36h0m-20 25h0m-25 20h0m69 8h0"/><path id="q14_4" d="M621 309h0m7 22h0m-64-33h0m40-18h0m43 60h0m-40-62h0m-31 40h0m24-27h0m15 0h0m-12 48h0m-24-22h0m58-23h0m-23 15h0m-19 3h0m-10-25h0m36 12h0m8 37h0m-28 2h0m-33-43h0m-3-2h0m5 14h0m49-7h0m15-19h0m13 45h0m-3-9h0m-49-14h0m-12-6h0m47 19h0m-16-47h0m-2 38h0m7 19h0m6-47h0m-1 51h0m-35-25h0m47-6h0m-13-33h0m-9 60h0m-4-71h0m-8 83h0m28-27h0m-35-12h0m-6 1h0m48 37h0m5-9h0m10-10h0m-26 16h0"/><path id="q14_5" d="M645 323h0m-39 15h0m6-58h0m9 15h0m0-13h0m-1-30h0m-33 66h0m19 24h0m40-48h0m-27 10h0m32 6h0m-3 3h0m-56-29h0m42 53h0m-9-62h0m-12 53h0m-21-29h0m32 15h0m-18 2h0m-2 1h0m-33-22h0m-5 1h0m61-5h0m-17 29h0m-6 5h0m47-4h0m-75-1h0m-4-39h0m47 10h0m21-11h0m-15 15h0m-47 0h0m33 32h0m9-37h0m-3 46h0m-23-43h0m28 21h0m0-51h0m-1 3h0m-13 43h0m-58-21h0m38 31h0m-6-17h0m43-22h0m-24 49h0m26-45h0"/><path id="q14_6" d="M616 282h0m-56 10h0m67 30h0m24-25h0m-15 33h0m14-29h0m-21-18h0m-1-24h0m-29 44h0m1 15h0m20-16h0m23 34h0m9-44h0m-38-23h0m-14 26h0m-10-9h0m49 11h0m-39 2h0m25-27h0m-27 20h0m44 17h0m-40 29h0m-38-44h0m81 5h0m-64-9h0m50 18h0m-49 10h0m33-9h0m-48-22h0m69 43h0m11-17h0m-11 11h0m-26 13h0m-1-71h0m20 5h0m-6 58h0m-36-11h0m35-44h0m14 6h0m-27 53h0m-6-48h0m-20 30h0m2 2h0m60 12h0m-47-44h0m25-22h0"/><path id="q14_7" d="M570 310h0m79 19h0m-68-31h0m-34-13h0m65-20h0m22 51h0m20-9h0m-67 11h0m38-12h0m4-23h0m-20-18h0m39 68h0m-40-41h0m7-14h0m-27 18h0m43-17h0m-14 51h0m-8-6h0m-15-36h0m42 26h0m-39-20h0m-32 9h0m74 26h0m-42-29h0m25 29h0m-34-46h0m18 4h0m-9 31h0m12-33h0m-21 15h0m31-22h0m-25 10h0m8 38h0m6-23h0m-4 18h0m-5-39h0m25 55h0m-39-23h0m0-12h0m55 20h0m-54-41h0m48 41h0m17 0h0m-57-18h0m16 22h0m-1-1h0"/><path id="q15_0" d="M343 92h0m22-2h0m-15 5h0m20-16h0m-24 11h0m-1-2h0m3-16h0m4-3h0m10 9h0m-8 4h0m-1-10h0m11 18h0m-2 1h0m-42 1h0m41-23h0m1 13h0m-15 16h0"/><path id="q15_1" d="M348 102h0m13-26h0m-8 15h0m10-9h0m-13 11h0m4-10h0m-3-9h0m8 10h0m-13 4h0m3 2h0m-2 9h0m11-14h0m-25 16h0m6 5h0m5-13h0m-2 3h0m1-17h0"/><path id="q15_2" d="M356 86h0m0 10h0m5-26h0m-5 23h0m-18 11h0m29-35h0m-5 3h0m3 9h0m-10-7h0m-6 25h0m7-15h0m5 6h0m-18-7h0m-53 92h0m25-33h0m36-58h0m1 2h0"/><path id="q15_3" d="M356 77h0m-4-3h0m20 5h0m-27 16h0m25-21h0m-25 31h0m-7 10h0m21-33h0m-22 27h0m9-23h0m19 3h0m-15-14h0m-1 15h0m-10 7h0m4-19h0m5-5h0m13 8h0"/><path id="q15_4" d="M360 66h0m9 11h0m-8 0h0m-15 32h0m24-25h0m-4 10h0m-25 2h0m23-29h0m-6 17h0m1 7h0m-13 16h0m-10 6h0m3-8h0m9-3h0m1-9h0m20-15h0m-17-3h0"/><path id="q15_5" d="M359 87h0m8-1h0m-25 7h0m-17 15h0m41-36h0m-8 18h0m-4-3h0m8 3h0m-22 20h0m30-34h0m-33 37h0m-32 60h0m48-88h0m4-6h0m-9-3h0m21 4h0m-25-6h0"/><path id="q15_6" d="M357 84h0m-33 29h0m36-33h0m-38 23h0m5 18h0m35-30h0m-19 10h0m-2 7h0m16-12h0m14-14h0m-32 19h0m32-14h0m-15-14h0m-2 18h0m-3-2h0m12-6h0"/><path id="q15_7" d="M360 97h0m-10-4h0m17-15h0m-31 34h0m6-28h0m22-8h0m-25 22h0m-21 34h0m44-64h0m-20 29h0m11-8h0m11-22h0m-6 28h0m-3-19h0m0 14h0m4-3h0"/><path id="q16_0" d="M393 130h0m-3-15h0m-3 7h0m4 18h0m-2-30h0m12 4h0"/><path id="q16_1" d="M385 140h0m5-18h0m-3-13h0m8 7h0m-8 12h0m-7-15h0"/><path id="q16_2" d="M392 122h0m-1 12h0m-5 7h0m-6-25h0m22 5h0m-16-11h0"/><path id="q16_3" d="M387 122h0m8-3h0m-8-6h0m5 5h0m9-1h0"/><path id="q16_4" d="M394 134h0m-7 2h0m-2-22h0m18 3h0m-14 3h0"/><path id="q16_5" d="M386 114h0m10 18h0m-5-17h0m-4-5h0m-4 22h0"/><path id="q16_6" d="M397 122h0m-4 14h0m10-22h0m-10-7h0m-9 6h0"/><path id="q17_0" d="M207 380h0m-1 13h0m16-59h0m-14 33h0m16-39h0m2-13h0m-19 84h0m-4-26h0m-7-1h0m20-23h0m-3 33h0m19-65h0m7 23h0m-13 37h0m16 4h0m-35-1h0m3-1h0m7 2h0m13-30h0m-38 26h0m31-13h0m1-49h0m-37 67h0m28-12h0m-20 13h0m51-8h0m-36-35h0m29 27h0m-25-28h0m-10 10h0m13-18h0m-25 22h0m51-17h0m-21 50h0m15-55h0m-54 52h0m98 63h0m-37-118h0m-62 47h0m64 11h0m-29-67h0m37 73h0m-36-17h0m4-42h0m-29 20h0m19 14h0m-9-6h0m45 24h0m-3 11h0m1-10h0m-16-55h0m-14 31h0m-18-1h0m23-27h0m28 58h0m-60-4h0m47-46h0m-10-24h0m-6 24h0m-1 3h0m2 8h0m14 52h0"/><path id="q17_1" d="M228 332h0m-26 48h0m-2-1h0m51-38h0m-35 28h0m31-17h0m-64 6h0m13 10h0m42-31h0m-34 42h0m31-41h0m-54 36h0m61 14h0m4 9h0m-53-35h0m19 6h0m-4-9h0m25-1h0m-32 15h0m0-21h0m36 40h0m-5-12h0m-4 27h0m-11-14h0m-14 1h0m18-44h0m17 12h0m3 8h0m-31-21h0m19 19h0m-31-15h0m45 13h0m-28-26h0m-16 11h0m19-22h0m18-14h0m-11 34h0m-6-35h0m-21 54h0m27-21h0m-17 9h0m24-16h0m-48 38h0m43-34h0m8 13h0m-29 37h0m16-8h0m4-75h0m14 65h0m5-47h0m-14 72h0m-38-52h0m-1 17h0m36 14h0m16-44h0m-21 13h0m-10 14h0m15-20h0m-41 45h0m33-17h0m18 1h0m11-38h0"/><path id="q17_2" d="M250 333h0m15 7h0m-86 31h0m70-23h0m-31 4h0m-33 15h0m59-36h0m-15 15h0m-33 23h0m48 6h0m-26 14h0m-8-41h0m-3 42h0m24-6h0m3 11h0m4-62h0m-17 51h0m12 8h0m-39-29h0m21 32h0m11-20h0m-32-3h0m16-50h0m20 48h0m-19 22h0m9-5h0m-1-60h0m6 27h0m-12 0h0m-25 24h0m52 13h0m-38-29h0m13 36h0m10-2h0m11-47h0m-16 34h0m-21-18h0m9-29h0m27 12h0m-26 43h0m24 15h0m-51-22h0m51-36h0m-31 1h0m-9 25h0m0 14h0m52-67h0m-4 40h0m31 1h0m-37 45h0m-24-8h0m-8-35h0m31-8h0m-39 24h0m26-26h0m7 51h0m-30-52h0m34-8h0m-3 38h0m-21 5h0m16-71h0"/><path id="q17_3" d="M201 374h0m2-25h0m-13 20h0m13 26h0m31-54h0m9 57h0m20 81h0m-19-144h0m-45 8h0m21-16h0m27 23h0m-2-26h0m-16 81h0m-20-35h0m40 28h0m-8-33h0m-42-21h0m41 34h0m-6 30h0m-11-73h0m-45 29h0m41-29h0m-4 4h0m-32 38h0m58-11h0m-17-17h0m7 57h0m18-80h0m-8 77h0m-22-71h0m-1 5h0m2-25h0m29 9h0m-50 21h0m42 32h0m-40 5h0m3-6h0m-2-33h0m27-28h0m-42 48h0m19-13h0m12 2h0m-7 26h0m-11-1h0m44-15h0m-29 32h0m32-46h0m-65 28h0m55 27h0m-12-72h0m17-12h0m2 55h0m-67 0h0m62 3h0m0-59h0m-35 60h0m30-14h0m-49 26h0m22-7h0m23 15h0m-43-40h0"/><path id="q17_4" d="M183 374h0m5-9h0m34 14h0m31-48h0m-67 31h0m29 27h0m21 18h0m-22-69h0m3-16h0m27 11h0m-8-20h0m-40 37h0m27-21h0m-29 38h0m52 8h0m-11-46h0m-43 57h0m-4 2h0m17-50h0m-17 18h0m10 20h0m48-8h0m-38-22h0m22 33h0m-47-3h0m65 21h0m-41-69h0m6 0h0m28 10h0m-42 11h0m24 11h0m-14 34h0m32-31h0m-25-9h0m1-34h0m26 28h0m2-11h0m-26-20h0m-5 83h0m-7-6h0m17-14h0m50-43h0m-46 9h0m3-20h0m-50 35h0m45-51h0m3 22h0m-10 68h0m21-58h0m-7-16h0m10 30h0m-12-5h0m7 51h0m-29-28h0m44-41h0m-14 14h0m-49 16h0m52 16h0m7-30h0m-41-1h0m-7 45h0"/><path id="q17_5" d="M228 390h0m-30-5h0m5-13h0m25-46h0m-1 8h0m-1 55h0m7 11h0m-38-35h0m22-24h0m-2-17h0m10 4h0m-25 63h0m36-39h0m-40 15h0m6 13h0m18-24h0m3-12h0m-1-16h0m-14 18h0m27-12h0m-18 51h0m-21-1h0m43 21h0m-14-24h0m11-59h0m-20 26h0m-6 22h0m23 24h0m12-27h0m-17 33h0m-24-42h0m58 12h0m-57-36h0m17 8h0m19 55h0m-38-9h0m-9-23h0m18 12h0m19 23h0m-23-2h0m-7-20h0m88 20h0m-97-12h0m35-34h0m6 17h0m14 19h0m-5-23h0m-13 14h0m-14-35h0m36 88h0m-26-28h0m33-24h0m-9-37h0m17 173h0m-26-175h0m-20 33h0m16-23h0m-56 11h0m49-26h0m-7-1h0m-29 18h0"/><path id="q17_6" d="M250 325h0m-51 35h0m29-18h0m-1 37h0m-29-16h0m40 37h0m-58-30h0m69-32h0m-46 7h0m28 9h0m6 44h0m-40-16h0m7-27h0m-21 10h0m21 2h0m-2-10h0m21-43h0m21 72h0m-67-7h0m70-56h0m-35 46h0m25 29h0m-8-48h0m-12-7h0m-11 20h0m19 20h0m22 13h0m-27-42h0m27-5h0m-17 52h0m17-4h0m-33-51h0m32-11h0m-4 57h0m-16-82h0m11 2h0m-18 64h0m52 79h0m-85-98h0m60-37h0m-44 38h0m-10 8h0m22-44h0m-2 9h0m2 8h0m-12 4h0m15-8h0m8 16h0m-9-33h0m21 16h0m9 56h0m-22 1h0m-23-49h0m42 3h0m-2 8h0m-64 11h0m39 19h0m-17-29h0m17-16h0m10 58h0m13-60h0"/><path id="q17_7" d="M228 357h0m-14 39h0m-1-60h0m10 35h0m-1-10h0m-39 21h0m37-34h0m12-31h0m-31 65h0m50-52h0m-43 26h0m28-18h0m-6 42h0m12-62h0m-42 39h0m42-4h0m-26 9h0m-20 2h0m48 4h0m-31 11h0m7-53h0m-35 37h0m12-15h0m-7 9h0m7-3h0m-1 8h0m32-46h0m19 74h0m-36-50h0m45 12h0m-36-14h0m-26 52h0m33-25h0m3-22h0m14 7h0m4 70h0m-13-104h0m-39 75h0m45-25h0m0-33h0m-21-12h0m48 44h0m-64-28h0m45-7h0m-43 53h0m16-3h0m18-45h0m1 45h0m-55-5h0m44-51h0m-38 60h0m50-6h0m7 22h0m-55-41h0m-9 5h0m29 23h0m26-49h0m-5 57h0m-14-75h0m23 19h0m-27-10h0"/><path id="q18_0" d="M217 454h0m3-14h0m-2 40h0m27-13h0m-54-45h0m31 61h0m13-42h0m2-11h0m-27 46h0m-32-44h0m39 22h0m8-22h0m-27 16h0m39-28h0m-21 44h0m22 9h0m-18-11h0m-2 16h0m19-42h0m-41 36h0m27 9h0m11-10h0m-40-6h0m-2-8h0m34-28h0m-45 15h0m63 19h0m-16-40h0m-25 42h0m-8-38h0m34 5h0m40 73h0m-68-47h0m-20-14h0m57 27h0m-1-30h0m-12 36h0m-1-8h0m20-44h0m-49-3h0m20 10h0m17 17h0m-15-17h0m27 16h0m-19 12h0m-36-20h0m27 44h0m15-55h0m-7-5h0m-15 5h0m21 36h0m-26-44h0m31 25h0m-23-18h0m-11 8h0m7-15h0m25 5h0m13 43h0"/><path id="q18_1" d="M205 429h0m26 56h0m-17 2h0m4-35h0m-26-8h0m22 4h0m34 14h0m-48-31h0m7 52h0m-20-28h0m5-33h0m21 14h0m-3 33h0m31-2h0m-15-14h0m-11-14h0m-11 32h0m23-39h0m-27 0h0m37 2h0m-45 38h0m13-19h0m69 26h0m-28-41h0m-46-10h0m-6 21h0m1 3h0m8-30h0m-4 53h0m18-15h0m8-28h0m-26-6h0m24 43h0m-37-12h0m12-20h0m32 1h0m-4 46h0m-7-56h0m-30-2h0m37-3h0m19 50h0m-24-11h0m-14 5h0m-22-16h0m11 10h0m42-34h0m-24 37h0m32 0h0m-35-6h0m-20 3h0m37-31h0m-14 49h0m13-5h0m13-50h0m-43 50h0m15-39h0m0 36h0m-5 10h0"/><path id="q18_2" d="M226 488h0m17-41h0m3 24h0m-22-33h0m22 28h0m-39-37h0m9 19h0m-6-27h0m29 31h0m-54-1h0m24 5h0m-14-7h0m52 22h0m-9-46h0m6 40h0m-63-33h0m13 35h0m0-39h0m13 55h0m14-57h0m1 25h0m-25-1h0m23 32h0m-28-49h0m14 4h0m31 33h0m-24-43h0m29 25h0m-7 19h0m-9 8h0m-18-55h0m14 47h0m26-22h0m-22-6h0m-8-8h0m9-5h0m-44 13h0m21 18h0m10 24h0m-23-50h0m10-3h0m3 17h0m-9-6h0m25 9h0m-22-13h0m-4 34h0m53-16h0m-27 5h0m-10 22h0m0-35h0m29-16h0m-13 23h0m-14-19h0m-5 3h0m6 24h0m16 5h0m-13-9h0m1 5h0"/><path id="q18_3" d="M210 439h0m10 34h0m1-29h0m-18 39h0m-11-61h0m48 47h0m-50-25h0m35 16h0m-6-35h0m-15 38h0m6 4h0m-7-6h0m35 19h0m-5-55h0m9 51h0m-28-13h0m20 16h0m-3-8h0m-19-11h0m11-33h0m-33 15h0m57 7h0m-14-17h0m-29 18h0m-9 0h0m16-23h0m19 28h0m-34 15h0m38-3h0m1-43h0m-49 14h0m5-14h0m27 64h0m10-51h0m-16 50h0m20-57h0m-35 38h0m35-23h0m-17-21h0m7 9h0m13 7h0m-25 23h0m35-16h0m-13-8h0m-16 34h0m-30-23h0m20 36h0m34-58h0m-38 2h0m-7 17h0m37 39h0m4-6h0m16-25h0m-28 28h0m-22-38h0m29 18h0m3-10h0m6 1h0"/><path id="q18_4" d="M235 449h0m-12 33h0m-29-24h0m23-22h0m-20 35h0m47-8h0m-31 4h0m-8 16h0m54-22h0m-50 13h0m-11-44h0m-23-3h0m60 12h0m-2-10h0m-32 18h0m45 0h0m-43 33h0m-26-51h0m46 34h0m16-24h0m-53-9h0m26 8h0m8 19h0m-33 3h0m8-36h0m29 62h0m13-20h0m10 6h0m-52-11h0m9-12h0m-27-19h0m39 33h0m-14-42h0m16 31h0m-23 15h0m19-11h0m9 3h0m11 6h0m-31-45h0m23 38h0m-20 16h0m28-42h0m-39 11h0m22 28h0m5-43h0m7 38h0m-6-22h0m-24-4h0m3 39h0m16-58h0m27 19h0m-42 19h0m37-5h0m-20-21h0m-24 8h0m-7-12h0m18 10h0"/><path id="q18_5" d="M217 488h0m-26-41h0m44-15h0m8 32h0m-27 1h0m-14-24h0m-1-11h0m-2-1h0m-20 5h0m13 20h0m28 36h0m-10-41h0m-10-21h0m18-3h0m-45-5h0m20 27h0m19-2h0m56-5h0m-35-8h0m-20 15h0m8 30h0m-19-17h0m45-26h0m-61 8h0m54 28h0m-28 12h0m-14-44h0m-4-7h0m36 51h0m-28-15h0m-13-32h0m-9-10h0m12 2h0m44 15h0m-15 17h0m-16 2h0m-1-1h0m44-17h0m-27-21h0m-16 41h0m-21-23h0m41-11h0m-20 14h0m23 2h0m-27-2h0m22-9h0m-27 26h0m-1 15h0m9 8h0m-3-47h0m36-6h0m-2-5h0m-38 16h0m35 32h0m13-18h0m-19 16h0m-33 0h0"/><path id="q18_6" d="M213 456h0m-13-16h0m8 38h0m39-30h0m-61-13h0m20-8h0m1 41h0m15-1h0m-23-21h0m38 16h0m-28-14h0m-2-22h0m-4 7h0m-3 37h0m7 3h0m20-16h0m39-30h0m-32 26h0m-11 27h0m2 5h0m-2-1h0m-16-53h0m13 54h0m1-41h0m-33 19h0m54 6h0m-30-37h0m12 54h0m-23-9h0m24-33h0m-25-11h0m29 18h0m14-6h0m-40 24h0m-3-8h0m35-27h0m-17 21h0m-21 22h0m46-11h0m-40-46h0m33 24h0m-39-8h0m-13-13h0m57 37h0m-49-36h0m48 37h0m-6 12h0m13-30h0m-10-15h0m-34 3h0m-14-9h0m33 9h0m-10 14h0m16 22h0m-35-32h0m28 13h0m20-20h0"/><path id="q18_7" d="M241 476h0m-62-37h0m17 37h0m29-9h0m-9-30h0m16-6h0m-23 20h0m13-17h0m12 48h0m8-53h0m-17 18h0m-26 8h0m37 27h0m-25-7h0m-7-31h0m-11-10h0m-14-12h0m37 39h0m-11 23h0m-10-15h0m17 14h0m18-62h0m6 54h0m-2-38h0m-26 22h0m-32-29h0m20 15h0m44 23h0m-57-47h0m61 42h0m-32 23h0m-15-43h0m48-12h0m-7 39h0m-18-16h0m26 3h0m-39 26h0m13-38h0m-38-21h0m33 17h0m4-18h0m-21 56h0m20 11h0m-12-23h0m-8 1h0m-1-5h0m44-17h0m-23 38h0m14-36h0m13 14h0m-25-19h0m-18 35h0m1-57h0m51 4h0m-81 6h0m49 47h0m0-11h0"/><path id="q19_0" d="M194 408h0m3-1h0m-16-2h0m31 10h0m13 2h0m-22 1h0m-12-22h0m34 24h0m0-1h0m5-6h0m-30-4h0m23 6h0m-9-4h0m-18-2h0m-15 1h0m37-6h0"/><path id="q19_1" d="M224 413h0m14 4h0m-49-21h0m6 1h0m-1 21h0m15 2h0m-24-13h0m28 8h0m-31 4h0m-4-10h0m37-1h0m-5 6h0m2-7h0m-23-2h0m11-2h0m-18 4h0"/><path id="q19_2" d="M186 404h0m17-2h0m-7 7h0m38 2h0m-27-9h0m27 13h0m-3 1h0m-7-9h0m-33 7h0m32-5h0m-26-7h0m-8 1h0m-6-1h0m23-1h0m-5 2h0m-7 17h0"/><path id="q19_3" d="M186 410h0m31-2h0m-33 4h0m9-5h0m4 1h0m3-4h0m-8 10h0m20-4h0m11 7h0m-8-9h0m-14 5h0m78-13h0m-74 13h0m-17-18h0m30 10h0m15 10h0"/><path id="q19_4" d="M181 416h0m10-15h0m-5 9h0m-2-1h0m40 5h0m-4-4h0m8 0h0m-2 0h0m16 4h0m-68 5h0m20-16h0m27 2h0m0 3h0m21 12h0m-52-7h0m0-6h0"/><path id="q19_5" d="M213 404h0m-19 8h0m-18 3h0m0-3h0m67 8h0m-50-10h0m19-6h0m-1-1h0m-21 15h0m48-5h0m-54-6h0m76 10h0m-63-4h0m39 5h0m-50-14h0"/><path id="q19_6" d="M218 410h0m-14-1h0m38 6h0m-34-16h0m-20 3h0m7 10h0m4-12h0m-14 19h0m2-4h0m38 1h0m-28-1h0m1-6h0m-8 10h0m-2-17h0m30 11h0"/><path id="q19_7" d="M208 420h0m25-6h0m-18-4h0m-9 3h0m-24 6h0m17-9h0m29 1h0m-3 6h0m-47 3h0m10-5h0m2-20h0m48 19h0m-50-8h0m1-7h0m39 14h0"/><path id="q20_0" d="M246 513h0m-6-13h0m-12 32h0m2-37h0m14 23h0m6-1h0m-10-2h0m-9 4h0m11 4h0m-21-9h0m7-8h0m17-15h0m-10 41h0m42-46h0m-38 48h0m0-56h0m6 20h0m-15 29h0m5-12h0m-7 7h0m-1 8h0m19-18h0m-1-1h0m-12 18h0m4-20h0m8-28h0"/><path id="q20_1" d="M244 530h0m-18-9h0m10-4h0m-1 19h0m35-34h0m-28 1h0m-13-27h0m12 31h0m-14 19h0m17-14h0m14-16h0m-32 18h0m13-15h0m20 1h0m-12 12h0m4-5h0m-29-5h0m18 24h0m5-13h0m1 18h0m-16-29h0m11-23h0m-15 46h0m20-24h0m0 26h0"/><path id="q20_2" d="M237 504h0m-15 12h0m4 11h0m-1-2h0m10-22h0m0 26h0m19-34h0m-8 36h0m-2-14h0m2 12h0m-15-29h0m19 13h0m-13 6h0m2-33h0m-13 36h0m2 0h0m11-30h0m29-2h0m-49-10h0m45 45h0m-39-22h0m18 31h0m-18-20h0m18-12h0m-11 25h0"/><path id="q20_3" d="M241 522h0m7 10h0m-1-49h0m-13-4h0m-8 25h0m16 17h0m-9-17h0m24-5h0m-35-19h0m12 49h0m15-48h0m4 19h0m-17 3h0m26-16h0m-36-5h0m14 28h0m3 0h0m-12-10h0m-5 33h0m-1-3h0m13-22h0m-2 0h0m-8-7h0m15 31h0m9-20h0"/><path id="q20_4" d="M229 490h0m3 39h0m12-10h0m-19-8h0m57-30h0m23-20h0m-62 36h0m8-20h0m-3 53h0m-25-21h0m25 12h0m-6-19h0m-11 20h0m2-19h0m5 14h0m-5-37h0m8 1h0m-2 18h0m-16 26h0m24-40h0m-2 37h0m-6 15h0m11-14h0m-21-23h0m18 22h0"/><path id="q20_5" d="M249 511h0m-11 25h0m2-18h0m10-10h0m-21-30h0m-5 38h0m7-8h0m18 15h0m-5-10h0m-21-6h0m9 9h0m65-17h0m-61 19h0m2 2h0m-11-37h0m20 47h0m-8-3h0m-7-24h0m-9 0h0m24 25h0m-10-21h0m-7 13h0m4-17h0m-6-11h0m12 42h0"/><path id="q20_6" d="M250 520h0m-11 12h0m-16-18h0m2-8h0m26-28h0m-28 43h0m2-15h0m15 13h0m-8-16h0m5 17h0m-4-7h0m0 22h0m22-43h0m-14 17h0m6-32h0m-16 52h0m13 0h0m-5 6h0m8-18h0m-17 13h0m0-19h0m4 6h0m-3 17h0m-7-29h0m12-20h0"/><path id="q20_7" d="M243 503h0m-24 7h0m22 0h0m-5-29h0m4 40h0m4-34h0m-5 15h0m19-16h0m-23 35h0m18-35h0m-13 6h0m-7 27h0m-2 4h0m15 1h0m6-23h0m-17 21h0m-2-38h0m8 14h0m-10 20h0m3-23h0m10 20h0m-7 14h0m-14-13h0m-3-30h0m28 35h0"/></defs>
<g stroke-width="4.5" stroke-linecap="round" fill="none"><g stroke="#00BE70"><use href="#q0_0"/><use href="#q0_1"/><use href="#q0_2"/><use href="#q0_3"/><use href="#q0_4"/><use href="#q0_5"/><use href="#q0_6"/><use href="#q0_7"/><use href="#q1_0"/><use href="#q1_1"/><use href="#q1_2"/><use href="#q1_3"/><use href="#q1_4"/><use href="#q1_5"/><use href="#q1_6"/><use href="#q1_7"/></g><g stroke="#24B700"><use href="#q2_0"/><use href="#q2_1"/><use href="#q2_2"/><use href="#q2_3"/><use href="#q2_4"/><use href="#q2_5"/><use href="#q2_6"/><use href="#q2_7"/></g><g stroke="#E18A00"><use href="#q3_0"/><use href="#q3_1"/><use href="#q3_2"/><use href="#q3_3"/><use href="#q3_4"/><use href="#q3_5"/><use href="#q3_6"/><use href="#q3_7"/><use href="#q4_0"/><use href="#q4_1"/><use href="#q4_2"/><use href="#q4_3"/><use href="#q4_4"/><use href="#q4_5"/><use href="#q4_6"/><use href="#q4_7"/><use href="#q5_0"/><use href="#q5_1"/><use href="#q5_2"/><use href="#q5_3"/><use href="#q5_4"/><use href="#q5_5"/><use href="#q5_6"/><use href="#q5_7"/></g><g stroke="#BE9C00"><use href="#q6_0"/><use href="#q6_1"/><use href="#q6_2"/><use href="#q6_3"/><use href="#q6_4"/><use href="#q6_5"/><use href="#q6_6"/><use href="#q6_7"/></g><g stroke="#00BBDA"><use href="#q7_0"/><use href="#q7_1"/><use href="#q7_2"/><use href="#q7_3"/><use href="#q7_4"/><use href="#q7_5"/><use href="#q7_6"/><use href="#q7_7"/><use href="#q8_0"/><use href="#q8_1"/><use href="#q8_2"/><use href="#q8_3"/><use href="#q8_4"/><use href="#q8_5"/><use href="#q8_6"/><use href="#q8_7"/><use href="#q9_0"/><use href="#q9_1"/><use href="#q9_2"/><use href="#q9_3"/><use href="#q9_4"/><use href="#q9_5"/><use href="#q9_6"/><use href="#q9_7"/></g><g stroke="#8B93FF"><use href="#q10_0"/><use href="#q10_1"/><use href="#q10_2"/><use href="#q10_3"/><use href="#q10_4"/><use href="#q10_5"/><use href="#q10_6"/><use href="#q10_7"/></g><g stroke="#00ACFC"><use href="#q11_0"/><use href="#q11_1"/><use href="#q11_2"/><use href="#q11_3"/><use href="#q11_4"/><use href="#q11_5"/><use href="#q11_6"/><use href="#q11_7"/><use href="#q12_0"/><use href="#q12_1"/><use href="#q12_2"/><use href="#q12_3"/><use href="#q12_4"/><use href="#q12_5"/><use href="#q12_6"/><use href="#q12_7"/></g><g stroke="#00C1AB"><use href="#q13_0"/><use href="#q13_1"/><use href="#q13_2"/><use href="#q13_3"/><use href="#q13_4"/><use href="#q13_5"/><use href="#q13_6"/><use href="#q13_7"/><use href="#q14_0"/><use href="#q14_1"/><use href="#q14_2"/><use href="#q14_3"/><use href="#q14_4"/><use href="#q14_5"/><use href="#q14_6"/><use href="#q14_7"/></g><g stroke="#F962DD"><use href="#q15_0"/><use href="#q15_1"/><use href="#q15_2"/><use href="#q15_3"/><use href="#q15_4"/><use href="#q15_5"/><use href="#q15_6"/><use href="#q15_7"/></g><g stroke="#FF65AC"><use href="#q16_0"/><use href="#q16_1"/><use href="#q16_2"/><use href="#q16_3"/><use href="#q16_4"/><use href="#q16_5"/><use href="#q16_6"/></g><g stroke="#8CAB00"><use href="#q17_0"/><use href="#q17_1"/><use href="#q17_2"/><use href="#q17_3"/><use href="#q17_4"/><use href="#q17_5"/><use href="#q17_6"/><use href="#q17_7"/></g><g stroke="#F8766D"><use href="#q18_0"/><use href="#q18_1"/><use href="#q18_2"/><use href="#q18_3"/><use href="#q18_4"/><use href="#q18_5"/><use href="#q18_6"/><use href="#q18_7"/><use href="#q19_0"/><use href="#q19_1"/><use href="#q19_2"/><use href="#q19_3"/><use href="#q19_4"/><use href="#q19_5"/><use href="#q19_6"/><use href="#q19_7"/></g><g stroke="#D575FE"><use href="#q20_0"/><use href="#q20_1"/><use href="#q20_2"/><use href="#q20_3"/><use href="#q20_4"/><use href="#q20_5"/><use href="#q20_6"/><use href="#q20_7"/></g></g>
<path d="M253 140h0m-11-16h0m17 18h0m-28-13h0m19-8h0m4 9h0m5 7h0m-10-17h0m-21 16h0m20 18h0m-4-7h0m4 2h0m5-23h0m-8-4h0m-6 32h0m13-10h0m7-9h0m-28 9h0m23-11h0m-4 13h0m5 2h0m-5 8h0m-5-28h0m-1 26h0m-1-10h0m8-23h0m-7 1h0m-10 29h0m12-29h0m6 8h0m-21 0h0m11 2h0m6 22h0m-13-5h0m-7-23h0m15 4h0m-11 11h0m18-9h0m1 10h0m2-7h0" stroke="#E18A00" stroke-width="4.5" stroke-linecap="round" fill="none"/>
<path d="M257 135h0m13 8h0m2-1h0m2-7h0m-20-7h0m27 12h0m-3-12h0m-4 8h0m7-2h0m-14-3h0m13-1h0m-6 14h0m-11-18h0m8 17h0m7-9h0m0 2h0m-27-13h0m5 14h0m15 11h0m5-3h0m-22-13h0m17-8h0m-8-2h0m-8 7h0m0 6h0m17 5h0m-11-1h0m10-11h0m-10-2h0m-8-2h0m7 16h0m1-5h0m-2 0h0m15 12h0m-2-22h0" stroke="#24B700" stroke-width="4.5" stroke-linecap="round" fill="none"/>
<path d="M204 328h0m-12 24h0m4-3h0m-5-14h0m-3-7h0m-7 10h0m26 3h0m-17-3h0m-7-9h0m9-1h0m2 23h0m7-7h0m7 1h0m-6-14h0m-19 8h0m-7-3h0m30-1h0m-9-3h0m-1 15h0m14-8h0m-14 10h0m-10-20h0m-9 14h0m5 6h0m4 3h0" stroke="#8CAB00" stroke-width="4.5" stroke-linecap="round" fill="none"/>
<path d="M283 161h0m7 6h0m-12-1h0m-15 0h0m-12-3h0m-12 11h0m26-14h0" stroke="#F962DD" stroke-width="4.5" stroke-linecap="round" fill="none"/>
<text x="0.0" y="14.0" font-size="24" text-anchor="start" fill="#000">a</text>
<text x="203.0" y="19.0" font-size="22.3" text-anchor="start" fill="#000">Integrated cell clustering</text>
<text x="384.0" y="93.0" font-size="22.3" text-anchor="start" fill="#000">TAM</text>
<text x="103.0" y="114.0" font-size="22.3" text-anchor="start" fill="#000">Monocyte-1</text>
<text x="397.0" y="173.0" font-size="22.3" text-anchor="start" fill="#000">DC</text>
<text x="98.0" y="197.0" font-size="22.3" text-anchor="start" fill="#000">Monocyte-2</text>
<text x="440.0" y="208.0" font-size="22.3" text-anchor="start" fill="#000">Memory B</text>
<text x="468.0" y="234.0" font-size="22.3" text-anchor="start" fill="#000">cells</text>
<text x="583.0" y="369.0" font-size="22.3" text-anchor="start" fill="#000">Plasma</text>
<text x="370.0" y="332.0" font-size="22.3" text-anchor="start" fill="#000">NK</text>
<text x="41.5" y="288.0" font-size="22.3" text-anchor="start" fill="#000">Na<tspan dx="3.1">ï</tspan><tspan dx="-8.1">ve</tspan> CD4 <tspan font-size="13.8" dy="-8">+</tspan><tspan dy="8"> T</tspan></text>
<text x="52.0" y="394.0" font-size="22.3" text-anchor="start" fill="#000">CM CD4<tspan font-size="13.8" dy="-8.0">+</tspan><tspan dy="8.0"> T</tspan></text>
<text x="109.0" y="466.0" font-size="22.3" text-anchor="start" fill="#000">Treg</text>
<text x="85.0" y="530.0" font-size="22.3" text-anchor="start" fill="#000">TRM CD4<tspan font-size="13.8" dy="-8.0">+</tspan><tspan dy="8.0"> T</tspan></text>
<text x="362.0" y="415.0" font-size="22.3" text-anchor="start" fill="#000">CM CD8<tspan font-size="13.8" dy="-8.0">+</tspan><tspan dy="8.0"> T</tspan></text>
<text x="379.0" y="511.0" font-size="22.3" text-anchor="start" fill="#000">TRM CD8<tspan font-size="13.8" dy="-8.0">+</tspan><tspan dy="8.0"> T</tspan></text>
<path d="M24 563V418M24 563H213" stroke="#000" stroke-width="2.2" fill="none"/>
<path d="M15.5 418L24 392L32.5 418Z" fill="#000"/>
<path d="M213 554.5L239 563L213 571.5Z" fill="#000"/>
<text transform="translate(19 532) rotate(-90)" font-size="19.6">UMAP 2</text>
<text x="44.0" y="588.0" font-size="19.6" text-anchor="start" fill="#000">UMAP 1</text>
<path d="M1022 111h0m-14 9h0m23-14h0m0-29h0m-9 58h0m-5-51h0m8 45h0m-3-21h0m12-37h0m-16 23h0m12-2h0m-15-15h0m18 11h0m-23 50h0m9-52h0m-16 19h0m14 5h0m-2-9h0m5-22h0m13 33h0m-16 27h0m32-42h0m-24 39h0m20-67h0m-21 1h0m18 14h0m-26 4h0m20 1h0m-15 45h0m0 5h0m25-40h0m-35 41h0m17-49h0m-26 10h0m-1 13h0m18-28h0m-8 39h0m14-57h0m-10 38h0m30 10h0m-28 4h0m22-4h0m-21 9h0m0-33h0m-4-20h0m4 68h0m29-59h0m-33 15h0m34-12h0m-10 31h0m6-30h0m-25 55h0m17-59h0m-14 2h0m23-1h0m-1 3h0m-7-1h0m-2 30h0m-18 30h0m29-54h0m-38 0h0m20 47h0m13-56h0m-12 22h0m-6-25h0m-11 27h0m13 1h0m-3 27h0m-15-56h0m39 34h0m-16-10h0m-8-10h0m4 39h0m-18-27h0m33-30h0m-8 39h0m-6 19h0m-21-51h0m-1 38h0m18-2h0m5 14h0m13-50h0m-31 40h0m-8-25h0m41 4h0m-37-10h0m36-5h0m-32 30h0m23-14h0m15-8h0m-35-13h0m28 34h0m-40-17h0m6-11h0m5 24h0m36-28h0m-34 2h0m-12 27h0m25 1h0m21-1h0m-18 26h0m14-31h0m-13-13h0m-7 10h0m2-20h0m4 3h0m-15 3h0m24-20h0m-8 13h0m-10 20h0m28 10h0m-31-30h0m24 39h0m-26-16h0m-10 23h0m29-55h0m11 40h0m-9 0h0m-23-29h0m-2-13h0m18 51h0m-10 17h0m14-30h0m-29-23h0m27 34h0m-13 3h0m-12-33h0m40-13h0m-17 1h0m-9-13h0m-5 5h0m7 59h0m26-42h0m-34-3h0m-5 52h0m3-60h0m-7 47h0m15-28h0m14 21h0m-13-2h0m-6-15h0m17-34h0m-13 30h0m-5 10h0m19 20h0m5-11h0m-6-41h0m-5-9h0m14 13h0m-21-4h0m-13 29h0m18 32h0m-16 2h0m1-40h0m37 10h0m-36-6h0m-8 6h0m14-36h0m4 18h0m0 4h0m-2 7h0m-1-8h0m2 49h0m-12-34h0m27 26h0m-32-35h0m39 16h0m-37-15h0m19-35h0m-5 40h0m28 3h0m-23-36h0m-24 31h0m30-20h0m-3-11h0m-15 36h0m2-5h0m20-23h0m6 17h0m-10-23h0m5 53h0m-25-31h0m19 23h0m1 8h0m11-23h0m-38 6h0m31 22h0m-9-14h0m-13 24h0m20-52h0m-20 12h0m12 33h0m-3-11h0m-6-20h0m-1-6h0m20-14h0m-11 43h0m-25-28h0m39 21h0m3-34h0m-10 5h0m-27 39h0m10-4h0m0 6h0m-3-12h0m-9 5h0m30-55h0m-3 54h0m-18-24h0m7 20h0m-10-9h0m3-29h0m27 28h0m1 10h0m3-15h0m-32 28h0m-1-26h0m5 13h0m9 15h0m-1-60h0m-7 37h0m-2 11h0m8 8h0m24-45h0m-34 52h0m9-40h0m9 12h0m12 10h0m-6-20h0m-10 35h0m18-20h0m-14-24h0m-6-10h0m1-10h0m-12 17h0m11 34h0m-18-4h0m33-39h0m-32-6h0m25 25h0m-13-29h0m21 12h0m-22 62h0m7-68h0m-10 27h0m34-19h0m-15 40h0m11-2h0m-26-19h0m5 12h0m3-40h0m12 22h0m-8-5h0m11 3h0m-16 47h0m-2 2h0m18-38h0m-15 3h0m-13-14h0m8 15h0m22-4h0m-15 19h0m8-9h0m0-40h0m0 8h0m-12-1h0m-3 53h0m-8-18h0m-10-1h0m32 0h0m-11 10h0m-14-5h0m4-51h0m4 58h0m-11 1h0m10-23h0m-14-27h0m10 43h0m20-32h0m-32 16h0m47-13h0m-15-15h0m1 2h0m-13 23h0m9-33h0m-10 48h0m6-37h0m-12 29h0m-2 26h0m-3-30h0m32 14h0m-36-33h0m14 20h0m29-13h0m-30 15h0m-8 25h0m36-41h0m-8 33h0m0-6h0m-11-31h0m-6-14h0m10 33h0m-15-27h0m-7 48h0m7-59h0m25 32h0m-9 22h0m4-13h0m1 12h0m-15-30h0m26 20h0m-2-29h0m-39 43h0m26-27h0m-8 42h0m9-31h0m-20-32h0m4 11h0m25-2h0m-29 27h0m28-24h0m-29 14h0m26-2h0m5 19h0m-43-34h0m25 19h0m-23-18h0m16 18h0m7-41h0m2 55h0m-3-8h0m9 5h0m5-35h0m-37 17h0m37 27h0m-20 0h0m20 3h0m9-26h0m-32 17h0m-10-40h0m-2 37h0m-3-13h0m36-18h0m-27 27h0m13 26h0m8-35h0m-19 29h0m3-1h0m20-22h0m-6 12h0m-22-22h0m-6 12h0m14-33h0m5 64h0m24-61h0m-11-11h0m-32 44h0m35-34h0m-13-4h0m18-2h0m-31 50h0m14 10h0m20-30h0m-21 23h0m13-37h0m11 15h0m-35-10h0m8 9h0m-4-3h0m-3-13h0m5-6h0m-8 21h0m11-33h0m5 33h0m6 3h0m-28 10h0m13-38h0m-7 18h0m-5-8h0m30-11h0m-10 27h0m-11-20h0m-9 20h0m26-8h0m-4 0h0m6 24h0m4-31h0m-18-6h0m-13 6h0m6-2h0m11 8h0m13-10h0m-12 45h0m-21-45h0m0 19h0m15-1h0m-7-37h0m-3 58h0m9 0h0m13 1h0m20-39h0m-6-7h0m-4-3h0m-31 22h0m1 32h0m-9-38h0m27 37h0m21-21h0m-40-26h0m21-6h0m-8 67h0m-13-58h0m17 51h0m-8-2h0m10-61h0m-14 19h0m18-1h0m-8 2h0m7-17h0m-12 60h0m-5-33h0m24 18h0m-15-52h0m16 58h0m-16-32h0m-1-21h0m-13 46h0m28 0h0m-8-44h0m-11 66h0m30-54h0m-30-10h0m-1 22h0m-4 38h0m-10-39h0m0-6h0m35-22h0m-9 39h0m-1-5h0m3-20h0m-18 43h0m-5 4h0m37-22h0m-32-10h0m12 21h0m22-22h0m-38-11h0m38-7h0m-35-15h0m18 36h0m11 14h0m-8 4h0m-10-33h0m-23 9h0m18 11h0m0-26h0m20 9h0m-21-9h0m-14 45h0m19-17h0m5 27h0m-4-50h0m1-10h0m-6 6h0m4-11h0m-1 39h0m12-9h0m1-22h0m-4 25h0m16 15h0m-11-38h0m-12 52h0m20-59h0m-29 7h0m26 26h0m-4-37h0m-14 39h0m-8 8h0m18-32h0m11 25h0m-31-1h0m-6 12h0m20 19h0m-7-48h0m-16 12h0m19-39h0m-17 66h0m42-21h0m-26-36h0m18 47h0m-5-26h0m-20-13h0m16 8h0m2-23h0m-18 20h0m14-20h0m-17 73h0m-10-48h0m23-20h0m-10 43h0m2-5h0m17-44h0m-14 57h0m29-22h0m-17 3h0m-4 32h0m-15-11h0m19-34h0m1-23h0m-20 27h0m20-29h0m-6 72h0m-7 7h0m0-26h0m-19-27h0m0 7h0m11-4h0m-6 30h0m29-13h0m-13 1h0m-3 5h0m0 19h0m-3-17h0m22-23h0m-23-32h0m35 20h0m-42 26h0m37-32h0m-32-9h0m22 23h0m-1-27h0m4 7h0m12 13h0m-25 45h0m7-61h0m6 36h0m-30 11h0m8 15h0m1-13h0m11-43h0m-25 36h0m30 21h0m-17-1h0m22-53h0m0 21h0m-28-17h0m7 42h0m-9-9h0m33-10h0m-13-31h0m-17 56h0m33-35h0m-26-16h0m30 19h0m-2-19h0m-42 30h0m14-7h0m-14-25h0m21 27h0m12 19h0m-18-24h0m-4-24h0m5 35h0m-12-22h0m6 40h0m11 13h0m4-76h0m-17 31h0m-5 13h0m-4-27h0m33 22h0m-26-37h0m0 20h0m11-4h0m-13 11h0m21 10h0m-6 4h0m28-15h0m-22-14h0m-9-9h0m29 30h0m4-5h0" stroke="#F8766D" stroke-width="2.8" stroke-linecap="round" fill="none"/>
<path d="M1223 291h0m-4-65h0m-25 31h0m3-1h0m23 5h0m-28 7h0m21-7h0m-11 13h0m14 15h0m1-5h0m-14-30h0m4 32h0m2-29h0m11 38h0m-25-49h0m34 51h0m-20-10h0m-9-40h0m8-24h0m-19 60h0m14-18h0m-6 6h0m-6 16h0m21-15h0m-16-25h0m6-14h0m9-11h0m-5 20h0m24 51h0m-20 13h0m7-42h0m-19 28h0m28 18h0m-2-64h0m-11-4h0m-6 26h0m-10 14h0m10 16h0m10-41h0m2 15h0m-24-9h0m24 18h0m10 0h0m-24-20h0m10-10h0m10 23h0m-4 31h0m2-37h0m-23 1h0m27 27h0m-20-54h0m-1 67h0m25-18h0m-41-11h0m12-35h0m1-16h0m-12 53h0m14-4h0m8 15h0m-21-26h0m12 10h0m3-32h0m2-15h0m14 39h0m-20 7h0m-7-28h0m5 5h0m17 63h0m-1-55h0m-14 18h0m25-27h0m-30-16h0m19 32h0m-2-36h0m14 26h0m-32 6h0m11 34h0m11-79h0m-3 59h0m13 14h0m-17-19h0m1 18h0m11-47h0m-15-26h0m10 58h0m-14-9h0m22-22h0m-25 8h0m6-21h0m-1 72h0m-9-70h0m28 14h0m-1 42h0m0-57h0m-15 46h0m2-44h0m-3 68h0m12-55h0m8 28h0m-7 30h0m4-65h0m-19-5h0m4 30h0m-5-27h0m0-11h0m10 80h0m11-20h0m-14-64h0m-14 54h0m25 19h0m-9-29h0m-25 19h0m35-4h0m-22-5h0m11-4h0m1 24h0m7 1h0m-27-25h0m29-2h0m-27-24h0m3 12h0m0-25h0m6 75h0m19-13h0m-14-48h0m-9 39h0m29-7h0m-13 12h0m-17-2h0m12-76h0m-4 46h0m14 35h0m-10 5h0m9-71h0m2 10h0m-13-10h0m5 34h0m-21 20h0m0 6h0m-1-2h0m5-44h0m7 56h0m8-60h0m11 47h0m-11 1h0m-16-51h0m3-7h0m15 89h0m8-34h0m-26-2h0m7-25h0m-9 32h0m35-12h0m-15 29h0m-23-48h0m15-37h0m10 29h0m-7 14h0m-4-47h0m-1 69h0m0-56h0m6 42h0m-5 43h0m1-65h0m7 53h0m2-47h0m8-20h0m-7 59h0m-18-60h0m11 52h0m2-17h0m-21 3h0m23 26h0m0-33h0m0-43h0m10 0h0m-21 27h0m19 35h0m-18-50h0m9 7h0m14 23h0m-14-39h0m-2-6h0m-16 71h0m4-32h0m9-28h0m13 46h0m-16 7h0m19 36h0m-8-31h0m-12-40h0m9 8h0m1-10h0m-6 38h0m11-62h0m-13 29h0m18-14h0m-14-27h0m16 60h0m-28-4h0m32 19h0m-22 12h0m5-39h0m5-19h0m-5-10h0m0 88h0m1-2h0m10-75h0m-12-14h0m5 80h0m2-26h0m-13 5h0m-2 21h0m3-22h0m2 6h0m-3-1h0m-1-52h0m14 68h0m-18-23h0m-11-7h0m27-40h0m-11-7h0m-9 12h0m30 7h0m-11 46h0m-22-39h0m34 2h0m-19 21h0m-15-16h0m34 4h0m-31-15h0m22 21h0m9-13h0m-8-24h0m-2 81h0m-11-62h0m8-20h0m-7 25h0m4 47h0m-2-64h0m13 7h0m-15 30h0m4-32h0m-5 17h0m18 49h0m-6-26h0m0 9h0m-1 23h0m-19-50h0m2-42h0m19 64h0m-16 20h0m25-21h0m-13-45h0m15 45h0m-24-56h0m12 67h0m-7-66h0m16 40h0m-18-53h0m-6 29h0m-8-2h0m29-4h0m1 47h0m-2 11h0m-19-16h0m8-56h0m-4 3h0m-4 46h0m19-49h0m-19 69h0m0-14h0m4 2h0m0 25h0m16-9h0m-11-35h0m-13-36h0m2 31h0m10-38h0m-11 77h0m21-66h0m-19-2h0m-12 58h0m4-6h0m31-19h0m-15 14h0m-8-60h0m17 93h0m-27-38h0m4 6h0m18-8h0m6 0h0m-16 37h0m13-16h0m-3-19h0m8 18h0m3-14h0m-23 2h0m10-9h0m9 35h0m-4-27h0m4 0h0m-17-6h0m5-29h0m-9-19h0m23 10h0m-3 57h0m-20 12h0m22 5h0m-16-48h0m20 5h0m-36 6h0m26-44h0m9 35h0m-24 42h0m20-59h0m-18-35h0m20 101h0m-26-25h0m7-49h0m0 10h0m16 1h0m-12-6h0m3-19h0m-21 32h0m-5 19h0m35-55h0m-1 26h0m-28 25h0m35-2h0m-15 40h0m-15-36h0m5-2h0m19 5h0m-6 37h0m5-25h0m4-15h0m-17 34h0m-6-64h0m8 20h0m-12 7h0m19 17h0m7-64h0m4 33h0m-31 15h0m28-3h0m-28-28h0m9 70h0m-10-55h0m12 29h0m19-21h0m-26 0h0m6-6h0m8-16h0m9 14h0m-31 18h0m22 9h0m3-32h0m2-9h0m0-8h0m-6 41h0m13-33h0m-8 49h0m-10-5h0m7-13h0m-23-23h0m0 32h0m15-65h0m-1-5h0m8 29h0m-25 44h0m2-14h0m29-39h0m-33 45h0m33 32h0m-28-33h0m22-32h0m-24 13h0m20 44h0m-8-70h0m6-17h0m17 26h0m-8 65h0m0-12h0m3-70h0m-22 50h0m27 10h0m-37-19h0m14 16h0m6-21h0m1 46h0m-4-18h0m-15-2h0m14 23h0m17-4h0m1-62h0m-13 74h0m15-61h0m-7 59h0m0-83h0m-1 4h0m-3 13h0m-20 11h0m27 23h0m-8 3h0m-3 6h0m14-27h0m-5 45h0m0-30h0m1 15h0m-32-23h0m15 15h0m13-1h0m-14-63h0m19 44h0m-19 24h0m23-5h0m-26-38h0m6 55h0m16-54h0m-27 35h0m26 32h0m-27-66h0m5 26h0m-1-42h0m17 2h0m13 63h0m-22-84h0m-9 78h0m25-53h0m-13 20h0m1 19h0m3-53h0m5 90h0m-9-28h0m10 27h0m0-12h0m-11-92h0m15 94h0m-30-36h0m34-8h0m-19-43h0m-4 65h0m4 26h0m17-65h0m-8 58h0m-16-3h0m2-65h0m14 63h0m-28-27h0m35-36h0m-21 1h0m12 33h0m3 23h0m-15-69h0m4 90h0m3-12h0m0-75h0m1 46h0m11-45h0m-18 62h0m12-12h0" stroke="#E68613" stroke-width="2.8" stroke-linecap="round" fill="none"/>
<path d="M1122 483h0m-8 26h0m-11 26h0m36-20h0m-36-16h0m13-10h0m-10 48h0m-10-35h0m15 39h0m-6-21h0m33 7h0m-19 13h0m2-21h0m-23-29h0m29 21h0m-19 30h0m4 0h0m24-14h0m-13-22h0m5 22h0m3-24h0m6 26h0m-21-34h0m-20 8h0m35 8h0m-29 16h0m20-10h0m17 2h0m-40-1h0m34 12h0m-34-2h0m26-13h0m-18-21h0m19 26h0m-6 18h0m23-19h0m-39-13h0m17-13h0m-16 32h0m23-31h0m-32 2h0m48 18h0m-35 15h0m20-27h0m-17-19h0m31 25h0m-30 5h0m23-8h0m3 22h0m-22 6h0m-10-11h0m13 10h0m-9-34h0m3 45h0m31-18h0m-7-17h0m-5 15h0m-33 7h0m3-8h0m19-24h0m1-9h0m-1 41h0m-19-18h0m18-28h0m-23 39h0m8-23h0m13 28h0m-9-48h0m-20 18h0m4-2h0m35 46h0m0-43h0m-7 20h0m3 15h0m0-16h0m17-14h0m-16 7h0m-15-3h0m13-2h0m-32 19h0m15-23h0m33 16h0m-48-15h0m29-19h0m-27 24h0m16 13h0m12-4h0m-12-6h0m6 14h0m7-20h0m-15 3h0m-7 29h0m13-12h0m9 20h0m-26-49h0m-3 33h0m29 13h0m-19-54h0m28 31h0m0-14h0m-16-14h0m-11-1h0m33 9h0m6 28h0m-17 5h0m-37-17h0m46 0h0m-36-7h0m8-6h0m-8-7h0m37 27h0m-6-29h0m-19 32h0m14 9h0m-28-16h0m12-4h0m-8 1h0m-1-5h0m12-4h0m-19-11h0m51 31h0m-19-19h0m5 6h0m-18 8h0m7-28h0m-17 15h0m16-7h0m-10-11h0m11 48h0m18-31h0m-30 25h0m-11-33h0m-4 9h0m19-10h0m-2 44h0m-13-19h0m27 13h0m-24-46h0m20 5h0m27 31h0m-46-37h0m-12 21h0m22-16h0m3-11h0m10 2h0m-1 50h0m7-23h0m-13-3h0m9-2h0m-30-9h0m2 13h0m0-20h0m39 32h0m-5 7h0m-22-21h0m10 26h0m2-26h0m-9 16h0m-10-36h0m-4 9h0m30 17h0m-39 5h0m29 19h0m15-46h0m-17 23h0m19 3h0m-18 5h0m3-14h0m-16-2h0m0 18h0m6-11h0m-11-20h0m-1 15h0m20 2h0m2-16h0m-9 16h0m10-7h0m11 9h0m-6-4h0m16 7h0m-35-3h0m30-1h0m-12-1h0m19 16h0m-43-13h0m20 20h0m2-5h0m-33-23h0m8 4h0m23 24h0m-4-56h0m8 55h0m-21-22h0m-2-9h0m27 0h0m-10 6h0m8 4h0m16 9h0m-6-16h0m-17 33h0m20-19h0m3 6h0m-30 21h0m-1-33h0m13-15h0m4 1h0m-16-11h0m13 4h0m5 3h0m-33 5h0m7 38h0m35-27h0m-27-25h0m8 8h0m-5 39h0m27-4h0m-51-10h0m7-28h0m-4 1h0m3 11h0m21 19h0m-23-27h0m4 25h0m36 5h0m-21 18h0m7-22h0m5 10h0m-29-14h0m0-24h0m18 13h0m-18-10h0m10 16h0m-3 3h0m-10-8h0m19 1h0m-7 26h0m35-22h0m-44-8h0m10 29h0m11-3h0m6-46h0m-2 3h0m-12-3h0m12-3h0m22 37h0m-33-28h0m1 36h0m-8-42h0m34 28h0m-5-6h0m-17 30h0m-29-31h0m36 34h0m-15-31h0m8-12h0m13 24h0m-6-6h0m-11 33h0m-16-27h0m12-11h0m6 18h0m10-21h0m11 22h0m-24 4h0m19-5h0m4-23h0m-8 37h0m-1-30h0m-5-28h0m-25 22h0m27 35h0m18-26h0m-19-2h0m-22-20h0m1 22h0m0-4h0m21 3h0m-26 17h0m19 1h0m15 8h0m-21-37h0m4 11h0m-20-13h0m-4 20h0m39 19h0m-42-25h0m35-1h0m-10 22h0m2-54h0m28 50h0m-11-8h0m10-21h0m-19-4h0m-27-5h0m-1 28h0m9-25h0m-2-6h0m19 16h0m18 26h0m-22-49h0m-2 59h0m-7-28h0m-13-18h0m42 29h0m-8 9h0m-32-19h0m-6-5h0m45 11h0m1-26h0m-32 16h0m2-1h0m33 21h0m-46-31h0m37 5h0m-40 4h0m17-14h0m1 36h0m-8-23h0m12-7h0m-6 9h0m7 25h0m3-58h0m2 66h0m4 1h0m-22-22h0m17-43h0m-10 43h0m-10-25h0m42 30h0m-37-37h0m-9 35h0m21 2h0m31-15h0m-48-4h0m5 17h0m19-34h0m-5 2h0m10 26h0m-14-15h0m-6 21h0m-3-24h0m19 12h0m8 26h0m5-18h0m-19-45h0m-23 38h0m26-4h0m-17-13h0m9 12h0m11 29h0m-6-44h0m19 32h0m5-14h0m-27-15h0m15 40h0m5-16h0m-23 12h0m27-20h0m-18-12h0m-5-26h0m-10 59h0m16-44h0m17 40h0m-3-38h0m10 33h0m-13-11h0m-28 3h0m3-10h0m-6-3h0m9 8h0m-18-7h0m24 31h0m-9-13h0m2-22h0m27 28h0m-26-50h0m-12 23h0m36-4h0m-7 0h0m-10 11h0m9-9h0m-24-7h0m32 45h0m2-9h0m-25 15h0m-15-42h0m35 30h0m-2-10h0m-3 2h0m-14-38h0m-8 1h0m34 34h0m-16 8h0m-30-26h0m-2 5h0m44 28h0m-36-47h0m37 14h0m3 29h0m-26-10h0m-16-13h0m-4-6h0m0-3h0m41 12h0m-18-22h0m13 0h0m-36 23h0m25 0h0m-13-23h0m-2 47h0m14-18h0m3 8h0m-2-31h0m-6-19h0m21 32h0m1 23h0m-37-4h0m46-22h0m-24 10h0m3 26h0m-31-30h0m11-22h0m-11 17h0m42-3h0m7 9h0m-32 29h0m15-54h0m-10-3h0m15 30h0m-34-8h0m13-5h0m16-16h0m15 13h0m-11 25h0m-12 15h0m14-37h0m-15 32h0m33-20h0m-3 10h0m-19-40h0m3 9h0m-6 37h0m-12-39h0m32 43h0m-35 7h0m37-21h0m-16-1h0m-19-2h0m8 22h0m-18-19h0m19-18h0m-13 10h0m20-20h0m-5 29h0m22-18h0m-11-15h0m-22-1h0m-9 22h0m28 32h0m-19-46h0m-8-5h0m47 32h0m-28-63h0m1 6h0m1 6h0m1 6h0m-3 6h0m42-86h0m13-10h0m21 24h0m-1 11h0m-40 0h0" stroke="#CD9600" stroke-width="2.8" stroke-linecap="round" fill="none"/>
<path d="M1209 341h0m7 11h0m6 11h0m11-10h0m-10 20h0m24-3h0m-29-20h0m24 12h0m0 10h0m2-14h0m-20-18h0m29 20h0m0 7h0m-37-37h0m27 39h0m-22-36h0m-8 22h0m-4 12h0m3-17h0m-6 5h0m10-24h0m1 50h0m-5-10h0m34-17h0m8 13h0m-29-26h0m4 20h0m1 15h0m10-26h0m-19 11h0m22 0h0m-31-29h0m8 1h0m14 8h0m5-2h0m-13 36h0m-12-30h0m19 31h0m7-48h0m-11 24h0m17 23h0m-35-41h0m-8 28h0m12-1h0m28 10h0m-34-39h0m9 27h0m-8-19h0m14 33h0m6-25h0m-17 24h0m1-22h0m16-12h0m11-7h0m-11 20h0m25-10h0m-31 30h0m28-2h0m-8-25h0m-18 14h0m-18 14h0m25-34h0m15-8h0m-35-1h0m15 24h0m24 1h0m-25-12h0m-11-2h0m20 31h0m-20-20h0m27-5h0m-33 4h0m44 0h0m-27-19h0m1 23h0m-14-9h0m30 26h0m-26-15h0m-7-15h0m18 8h0m3 3h0m-16 6h0m-7 9h0m7-35h0m13 8h0m-3 14h0m20-19h0m9 11h0m-22 24h0m8-34h0m-37 28h0m21-1h0m13 7h0m20-24h0m-3 2h0m-15 1h0m-30-9h0m27-11h0m-15 12h0m32 26h0m-32 10h0m6-35h0m-15-4h0m42 3h0m-31 0h0m4 11h0m17 16h0m-11-30h0m-13 13h0m-8 27h0m0-8h0m11-25h0m-13 6h0m12-10h0m-3 30h0m16-10h0m-20 4h0m32-8h0m-20 8h0m12 7h0m2-24h0m14-8h0m-43 17h0m4-27h0m4 32h0m16 9h0m-21-24h0m22 16h0m-1-28h0m-17 23h0m-3-28h0m12 48h0m6-48h0m1 14h0m-24 17h0m40-27h0m-32 8h0m-2 7h0m31 23h0m8-31h0m-4 0h0m-42 36h0m22-24h0m-21-9h0m15 19h0m26-34h0m-3 32h0m-25-29h0m1 40h0m0 0h0m-9-14h0m-7-13h0m0 14h0m14-20h0m26-13h0m-13 25h0m-10 21h0m-17-8h0m25 11h0m11-9h0m-33-11h0m36-17h0m-16 4h0m6-7h0m13 9h0m-10 22h0m-32-4h0m44-25h0m-4-4h0m-35 34h0m13-13h0m19 17h0m-38-8h0m43 5h0m-32-30h0m-17 18h0m44-5h0m-43-4h0m27 22h0m25-15h0m-10-20h0m-27 4h0m19 39h0m5-15h0m-24 1h0m19-18h0m-3-8h0m15 16h0m-12 4h0m-27 7h0m35-6h0m2-12h0m-3 20h0m-33 15h0m21-31h0m-8-9h0m15 12h0m-15 27h0m10-34h0m4 3h0m-25-16h0m7 18h0m21 9h0m-17-29h0m5 25h0m12-19h0m-27 34h0m29-6h0m-29 10h0m9 3h0m21-30h0m-43 4h0m10-18h0m11 22h0m34 11h0m-22-37h0m5 21h0m-11 22h0m-10-30h0m16 26h0m-25-5h0m8-8h0m-6-16h0m12-3h0m6 0h0m-6 30h0m-4 11h0m0-47h0m39 18h0m-45 13h0m4-24h0m0 37h0m-5-30h0m33-20h0m1 43h0m-45-3h0m37-2h0m-21 7h0m3-40h0m12 14h0m-23 32h0m25-17h0m-32-10h0m33-21h0m-6 44h0m8-9h0m18-10h0m3 2h0m-21 6h0m-3 8h0m-2-38h0m12 13h0m-30 9h0m-3-16h0m20 6h0m-27 14h0m13 19h0m8-21h0m-10-3h0m1-19h0m-11 35h0m16-16h0m28-26h0m-11 5h0m-31 7h0m28 25h0m11 0h0m-35 18h0m42-38h0m-24 32h0m18-26h0m-6 22h0m-27-38h0m32 33h0m3 4h0m-14-8h0m11-28h0m-30-4h0m34-5h0m-42 48h0m16 6h0m32-31h0m-24 1h0m-25 11h0m23-3h0m3-20h0m-31 11h0m28 16h0m-5-30h0m-14 0h0m9 4h0m24 1h0m-20 23h0m20-2h0m-43 1h0m20-9h0m21-10h0m-19 4h0m14 13h0m12-8h0m-19 3h0m7 14h0m-17 10h0m10-14h0m-19-15h0m2-8h0m-9 10h0m20 11h0m-13 16h0m3-42h0m39-1h0m0 15h0m-16 17h0m11-23h0m-40-11h0m37-2h0m-17 34h0m9-20h0m-8 16h0m16-5h0m-36 7h0m11-24h0m27 14h0m-10-18h0m3 19h0m-25-6h0m31 12h0m-6-18h0m3 4h0m-37-2h0m44 10h0m-34-9h0m9-13h0m7 36h0m-9-34h0m5 10h0m-11 21h0m38-9h0m-7-8h0m-38 21h0m34 1h0m-7-13h0m17-18h0m-17 36h0m16-17h0m-51 10h0m5-16h0m30 2h0m-11 24h0m10-15h0m-22 2h0m3 5h0m26-10h0m-21-19h0m2 12h0m-15 4h0m4 3h0m26-23h0m-38 26h0m16 13h0m20-46h0m-1 33h0m-3-17h0m13 8h0m-17 16h0m-25-15h0m33 2h0m-36-5h0m32-8h0m8 28h0m-30-4h0m41-12h0m-2 9h0m-23-20h0m-3 13h0m-10-27h0m4 26h0m10 9h0m7-31h0m13 10h0m-46 17h0m40 1h0m-6-9h0m-6-13h0m4-10h0m-2 8h0m1 2h0m18-1h0m-16 31h0m-7-22h0m28-2h0m-29 6h0m10-5h0m-19-16h0m25 29h0m15-10h0m-34 14h0m-10-1h0m13 13h0m12-8h0m-1-21h0m-34 15h0m3 14h0m7-15h0m26-32h0m9 40h0m-4-3h0m-26-6h0m4 11h0m28-29h0m-36-4h0m9 26h0m15 7h0m-31 5h0m23-47h0m14 9h0m-27 18h0m12 14h0m-13-38h0m-7 14h0m38-12h0m-11 24h0m-18 16h0m-4-4h0m11-4h0m24-40h0m-35 38h0m23-14h0m14-3h0m-44 11h0m46-9h0m-28-2h0m-19 14h0m38-36h0m-28 38h0m35 5h0m-26-39h0m18-2h0m-34 22h0m26-16h0m7-5h0m-31 37h0m39-23h0m-22 20h0m10-1h0m1-1h0m8-22h0m-11 0h0m-12 27h0m21 0h0m5-4h0m-45-22h0m26-8h0m4 40h0m11-9h0m5-16h0m-17-11h0m-24 11h0m19 12h0m-16-13h0m4-6h0m5 15h0" stroke="#ABA300" stroke-width="2.8" stroke-linecap="round" fill="none"/>
<path d="M860 272h0m-3 4h0m4 4h0m25 1h0m-4-20h0m-2 24h0m4-3h0m3-21h0m-3 23h0m12-8h0m-2 1h0m-37-3h0m44 10h0m-29 1h0m26-7h0m-40 6h0m32-5h0m-9 16h0m3-28h0m8 4h0m-2-10h0m-23 10h0m6-12h0m21 37h0m-21-9h0m-14-7h0m43-2h0m-32 9h0m18-5h0m-3-23h0m-10 24h0m-8-4h0m13-3h0m-9 15h0m20 5h0m-32-22h0m40 5h0m-29 9h0m21-21h0m-11-3h0m-12 8h0m-16 7h0m34 13h0m15 3h0m-26-7h0m31 6h0m-23-32h0m5 31h0m-6-10h0m14-15h0m6 23h0m-13 11h0m4-6h0m-22-29h0m32 14h0m-25-19h0m14 8h0m-17 6h0m23 25h0m-32-26h0m24 24h0m-29-29h0m30 30h0m-4-25h0m14 19h0m-40-17h0m-6 6h0m26 2h0m16-21h0m-35 10h0m25 5h0m11 14h0m-20-27h0m4 10h0m10 7h0m1-14h0m-7 29h0m-5-15h0m-8 10h0m-1-21h0m11 18h0m0-13h0m11-3h0m0 10h0m-24-14h0m24 30h0m14-2h0m-30-27h0m-4-14h0m-9 32h0m23 10h0m-1-4h0m-7-31h0m18 3h0m-3 10h0m-39 8h0m16-13h0m4 20h0m13 0h0m-11-12h0m13 17h0m1-23h0m-19 20h0m14-9h0m-26 3h0m21-27h0m24 33h0m-27-17h0m-6-15h0m-9 8h0m5 21h0m19 1h0m-23-19h0m23 14h0m2-2h0m-36-4h0m49-5h0m-13-6h0m-19 18h0m29-18h0m-9 26h0m-30-6h0m41-17h0m-35 20h0m18-13h0m-5-4h0m4-8h0m-9 16h0m31-1h0m-30-3h0m19-14h0m-17 28h0m29 4h0m-22-1h0m-19-25h0m21 30h0m7-36h0m-2 24h0m-30-9h0m31 14h0m-15-12h0m-2-20h0m-1 10h0m3 27h0m9-17h0m10 7h0m-15 0h0m-16-9h0m-3-13h0m20 10h0m-13 12h0m-15-13h0m30 1h0m-2 21h0m-6-10h0m22 4h0m-2-22h0m9 19h0m-10 12h0m0-28h0m-15 18h0m15 10h0m-32-38h0m41 23h0m-49-6h0m33-9h0m-14 23h0m-12-26h0m17-9h0m-13 35h0m33-22h0m-13 10h0m-25-13h0m15 29h0m6-5h0m3-27h0m9 24h0m-21-29h0m24 6h0m0 17h0m-7-2h0m-1-6h0m11 3h0m5 4h0m-43-11h0m18 21h0m-26-17h0m2 8h0m12-11h0m22 4h0m-30-7h0m7 22h0m17 5h0m-9-20h0m12 23h0m12-29h0m-44-3h0m53 29h0m-22 4h0m-14-25h0m-19-4h0m9 10h0m11 6h0m13-16h0m-24-4h0m35 22h0m-29-7h0m19-10h0m5-10h0m7 26h0m-26-20h0m4-4h0m17 35h0m1-23h0m-13 9h0m-12-6h0m29-6h0m-40 5h0m23-20h0m16 11h0m-35 11h0m20 9h0m0-19h0m-15-11h0m-1 9h0m31 0h0m-3 7h0m-17 5h0m-15-17h0m14 6h0m3 16h0m7 7h0m-27-16h0m41 23h0m-37-8h0m6 1h0m15-20h0m2 19h0m1 11h0m-18-29h0m4-4h0m-1 13h0m9 12h0m-16-27h0m-6 12h0m36 0h0m2-9h0m1 21h0m5-13h0m-19-19h0m8 1h0m-16 26h0m-25-19h0m8 11h0m30 18h0m3-5h0m-7-15h0m-2-18h0m-6 13h0m2-12h0m-20 23h0m28-11h0m0 15h0m-9-18h0m-18-6h0m-4 5h0m45 18h0m-20-7h0m-14 0h0m9 15h0m-11-1h0m8-26h0m22 26h0m3-11h0m-3-8h0m-7 0h0m7 0h0m-10-6h0m-29 8h0m34 18h0m8-10h0m-10-4h0m-34 0h0m11 10h0m21-15h0m-8-3h0m10 12h0m-33-14h0m16-3h0m23 12h0m-7 20h0m-15-6h0m23-11h0m3-8h0m-31-14h0m-2 7h0m32 24h0m5-6h0m-44-18h0m28 9h0m10 20h0m-10-30h0m20 28h0m-18-18h0m-7-15h0m4 4h0m-32 14h0m47-4h0m-38 6h0m25-3h0m2 5h0m6 7h0m-35-1h0m4-20h0m23 31h0m2-8h0m6-10h0m3-13h0m-1 31h0m-29-41h0m22 1h0m-13 38h0m-79-104h0m-1 73h0m43-5h0" stroke="#7CAE00" stroke-width="2.8" stroke-linecap="round" fill="none"/>
<path d="M1172 213h0m13 46h0m9-29h0m-24 27h0m16-50h0m-10-5h0m-2 58h0m5-66h0m7 0h0m-1 74h0m13-56h0m-6 18h0m7-17h0m-27-19h0m-1 13h0m12-17h0m6 39h0m-14-5h0m3 46h0m-5-90h0m13 53h0m-8-12h0m2 28h0m-10-27h0m3-28h0m17 59h0m-6-27h0m-7 14h0m6-38h0m-9 2h0m23 31h0m-20-32h0m7 60h0m-6-71h0m-2 16h0m0 22h0m6-35h0m1 42h0m6 14h0m-2-35h0m1 29h0m12-32h0m-30 14h0m-4 9h0m1-17h0m13-33h0m1 46h0m-3-41h0m-15 33h0m20-22h0m-19-5h0m4 6h0m12-15h0m-13 37h0m29-16h0m0 17h0m-15 46h0m1-33h0m-3-42h0m2 49h0m-3-46h0m-8 55h0m10 16h0m4-46h0m9-22h0m-13 60h0m2-32h0m-1-38h0m8 43h0m7-12h0m-4 32h0m-11-27h0m6-34h0m-16 7h0m15 41h0m-3-24h0m6 0h0m-18 26h0m-3-13h0m-1-4h0m11-27h0m-7 10h0m18 44h0m2-3h0m-22-27h0m17-21h0m-3 8h0m1 27h0m-8-14h0m4-36h0m9 23h0m-9 34h0m5 24h0m-7-15h0m1 11h0m-17-54h0m20 53h0m0-33h0m-2 32h0m-16-44h0m12 45h0m16-34h0m-1 14h0m-23-10h0m22 16h0m-14-41h0m2-28h0m6 38h0m-7 23h0m15 7h0m-20-48h0m0 41h0m5-44h0m-8-6h0m0 64h0m12-63h0m9 23h0m-18 44h0m6-27h0m20-22h0m-29 23h0m26-11h0m-11-26h0m-8 36h0m8-42h0m-1 39h0m-6 4h0m8 32h0m-17-16h0m22-21h0m-21 5h0m-3-13h0m8-44h0m-3 37h0m-3-10h0m26 7h0m-15-14h0m7 23h0m-3 21h0m-20-37h0m1-7h0m30 24h0m-15 16h0m-5-48h0m1 58h0m-9-15h0m25-17h0m-18 7h0m15-31h0m-14 6h0m4 43h0m6-41h0m5-5h0m10 22h0m-22-15h0m7-16h0m-21 30h0m5 5h0m-5-22h0m35 30h0m-4-3h0m-19-36h0m7 82h0m13-69h0m-4 21h0m-6-26h0m-13-2h0m13-10h0m1 13h0m-12 30h0m-2-48h0m9 36h0m15 9h0m-25 1h0m5 32h0m1-23h0m0-37h0m7 23h0m-1 2h0m2 18h0m-5 13h0m8 6h0m-2-7h0m-10 15h0m-1-22h0m14-47h0m0 11h0m5 36h0m5-20h0m-15-20h0m12 33h0m-18 2h0m11 9h0m-21-58h0m20 21h0m3 19h0m-17-11h0m17 11h0m-4-39h0m-16-5h0m13 59h0m-7-53h0m17 29h0m-4-16h0m-6 53h0m-13-24h0m-6-28h0m19 16h0m5-8h0m-12 12h0m-10-35h0m14-12h0m-13 53h0m-2-31h0m11 43h0m11-36h0m-22-25h0m2 53h0m11 9h0m9-8h0m-14-38h0m-1-9h0m8 47h0m-18-20h0m28 34h0m-1-32h0m-16 38h0m7 8h0m12-59h0m1 25h0m-28-1h0m6-46h0m10 81h0m-7-13h0m1-45h0m16 26h0m-6-2h0m-9 37h0m17-41h0m-11-15h0m-4-14h0m-11-11h0m-5 27h0m15-27h0m8 54h0m-14-49h0m6 64h0m13-53h0m-2 25h0m-10-49h0m3 29h0m8 7h0m9 0h0m-5-6h0m-6 45h0m-7 1h0m5 2h0m-6-68h0m-8 4h0m19 23h0m-27 3h0m25-15h0m-15-3h0m22 28h0m-16-13h0m-3 1h0m18 11h0m-1 10h0m-4-6h0m9-18h0m-15 49h0m-2-67h0m-6 66h0m11-40h0m9-9h0m-16 55h0m2-71h0m12 36h0m-7 31h0m-19-26h0m9-53h0m-9 24h0m18 18h0m2-20h0m-18-11h0m-1 56h0m14-32h0m-2-7h0m-14-32h0m5 75h0m8 11h0m11-21h0m-11-17h0m-13 11h0m3-22h0m21 31h0m-1-46h0m-20-11h0m15 47h0m-7-16h0m-8-29h0m-8 6h0m16 17h0m19 13h0m-8 7h0m-20-5h0m4-53h0m16 11h0m1 64h0m-2-41h0m-20-8h0m7-7h0m8 40h0m-9-29h0m20 8h0m-4-14h0m-15 22h0m-10-37h0m13-12h0m13 52h0m-22-19h0m11 39h0m-13-9h0m24-27h0m-8-22h0m-17 33h0m17-22h0m-8 45h0m17-22h0m-18-21h0m16 48h0m1-32h0m-12-20h0m15 19h0m-4 40h0m-1 4h0m-13-1h0m-12-43h0m13-35h0m0 29h0m15 38h0m-7-39h0m-11 10h0m-10 5h0m22-10h0m3-18h0m-12-19h0m-4 86h0m-4-87h0m17 71h0m-4-42h0m1 30h0m-6-33h0m-8-24h0m5 25h0m9 34h0m-9-45h0m11 50h0m8-21h0m-19 29h0m-7-16h0m15 5h0m-9-45h0m6 60h0" stroke="#0CB702" stroke-width="2.8" stroke-linecap="round" fill="none"/>
<path d="M1116 376h0m-5-31h0m27 37h0m-20-11h0m-7-19h0m8 27h0m10-31h0m0-5h0m-6 3h0m-7-14h0m23 63h0m-6-38h0m5 7h0m-13-45h0m0 26h0m-6 28h0m1-6h0m7-25h0m-15-9h0m21 18h0m-24-6h0m19-24h0m1 15h0m0 18h0m-1-41h0m0 5h0m7 84h0m3-22h0m-15 2h0m-10-53h0m25 40h0m-3 30h0m-13-79h0m-8 1h0m1 1h0m3 25h0m23 50h0m-11-23h0m-3-38h0m7 24h0m-7 39h0m-1-46h0m11 6h0m-6 5h0m-3 3h0m-20-23h0m20-16h0m2 49h0m-2 5h0m2 11h0m0-75h0m-12 26h0m13 29h0m-7 17h0m3 6h0m0-56h0m-2 48h0m6-38h0m-16 16h0m10-4h0m0 6h0m-7-32h0m7 37h0m-2-31h0m8-22h0m-19 25h0m15 14h0m-10-17h0m14 49h0m-19-51h0m17-22h0m2 42h0m-3-9h0m0-31h0m-3 22h0m-7-25h0m2 67h0m19 6h0m-11 5h0m11-23h0m-21-33h0m10 61h0m6-16h0m-7-55h0m-11 47h0m6-24h0m-5-28h0m12 82h0m-20-63h0m24-8h0m-8 63h0m-10-61h0m12 3h0m-5 13h0m-10-20h0m15-13h0m2 57h0m-1 18h0m-2-78h0m-11 33h0m9 37h0m7-67h0m1 9h0m1 46h0m-4-35h0m-1 17h0m-3-16h0m3-11h0m-5 26h0m14 51h0m-16-36h0m15 16h0m-3-38h0m-11-10h0m8 17h0m-5 44h0m9-21h0m2-12h0m-8 33h0m7-1h0m0-35h0m-20 4h0m11-57h0m7 22h0m7 73h0m-13-82h0m-4-2h0m8 83h0m-19-79h0m19 37h0m-13-2h0m5-40h0m2 67h0m2-20h0m5-39h0m-17 26h0m18-9h0m-18 9h0m0-13h0m0 20h0m17 10h0m-21-43h0m6 18h0m-2 9h0m20-2h0m-12 15h0m7 32h0m-13-77h0m12 30h0m-15-26h0m20 42h0m0 24h0m-5-43h0m1 59h0m0-67h0m-11-2h0m14 4h0m-12 32h0m-3-1h0m2-36h0m15 23h0m-16-7h0m3-38h0m14 51h0m-2 32h0m2 8h0m-1-36h0m-6-38h0m-7 40h0m2-3h0m-2-16h0m-2-20h0m19 42h0m-7-35h0m-13 1h0m4-21h0m17 80h0m-2-20h0m-14-1h0m-8-45h0m6-12h0m-11 16h0m10 11h0m-6-1h0m21 41h0m-18-27h0m7-4h0m-2-35h0m14 58h0m-7-55h0m6 33h0m-20-36h0m11 22h0m-5-22h0m2 1h0m-13 2h0m25 29h0m-14 29h0m9-40h0m-10 37h0m18 14h0m-25-65h0m11 74h0m6-6h0m0-6h0m-6-49h0m-7-20h0m15 51h0m-22-29h0m1-1h0m22 19h0m-3-21h0m-16 15h0m-2-8h0m25 13h0m-25-29h0m18-6h0m-16 35h0m12 29h0m-10-66h0m12 76h0m7-18h0m-15-13h0m0-37h0m10-14h0m-3 10h0m-8 43h0m-7-23h0m6 23h0m8-4h0m-20-38h0m1 2h0m0 0h0m-7-3h0m3-6h0m4 4h0m1-4h0m-10 7h0m-1-5h0m7 2h0m-6 7h0m2-1h0m-2-1h0m1-4h0m-3-3h0m50 24h0m7 1h0m4 9h0m-6-10h0m7 13h0m-5 6h0m10-14h0m-5 0h0m-12 5h0m5-4h0m8-4h0m-15 13h0m17-1h0m-13-6h0m-4-7h0m14 3h0m4 8h0m-14 7h0m-2-7h0m6-14h0m-1 18h0m2 0h0m-14-10h0m10-9h0m-11 4h0m11 9h0m8-10h0m-8 9h0m9 10h0m2-2h0m-4-6h0m1-12h0m4 4h0m-10-6h0m-6 19h0m4-7h0m-5-5h0m6-6h0m13 14h0m-10-7h0" stroke="#00BE67" stroke-width="2.8" stroke-linecap="round" fill="none"/>
<path d="M989 122h0m18-7h0m4-27h0m-41 12h0m10-3h0m27-7h0m5 13h0m-31 32h0m31-24h0m-7-23h0m-24 29h0m-6-28h0m-3-1h0m34 48h0m-38-40h0m32 46h0m-8-12h0m-17 5h0m31-34h0m-11 21h0m-33-10h0m23-13h0m23-29h0m-31 49h0m17 0h0m2 1h0m-3-36h0m-9 1h0m24 4h0m-6 52h0m-4-39h0m-11 12h0m7 36h0m-18-16h0m36-47h0m-23 60h0m8-39h0m2 45h0m-30-62h0m1 43h0m36-57h0m-40 17h0m32 40h0m-12-12h0m24 22h0m-42-15h0m35 17h0m-19-67h0m3 18h0m-5 41h0m15-12h0m0-50h0m-32 24h0m42 23h0m-2-2h0m-5 21h0m13-11h0m-8-60h0m-31 21h0m-5 30h0m8 10h0m33-5h0m-26-6h0m24 8h0m0-8h0m-42-7h0m27-23h0m16-5h0m-39 7h0m10 52h0m17-70h0m2 67h0m-32-32h0m8-20h0m27 63h0m-25-40h0m17-34h0m4 53h0m-29-14h0m4 15h0m4-7h0m20-10h0m-16 18h0m6-29h0m12-11h0m4 11h0m-2 23h0m11-27h0m-23 1h0m11-15h0m13 46h0m-17-42h0m9 57h0m-1-1h0m4-40h0m-42 7h0m45 26h0m-16-8h0m3-26h0m-30-15h0m21 26h0m21-33h0m-27 29h0m-7-4h0m15-41h0m21 45h0m-41 17h0m16-43h0m-4 21h0m-1-21h0m2 17h0m15-22h0m-33 39h0m31-42h0m-3 46h0m1-38h0m-12 60h0m-13-32h0m33 17h0m-17-46h0m10 20h0m16-18h0m-6 17h0m-9 18h0m4-19h0m-16 0h0m17 22h0m-6-54h0m-19 32h0m8-6h0m25 38h0m-7 11h0m-2-55h0m8 10h0m-29 5h0m3 35h0m22-10h0m-31-28h0m-10-4h0m47-10h0m-3-10h0m-8 7h0m-14 33h0m-6-38h0m13 55h0m-18-7h0m-7-7h0m10-38h0m9 18h0m5 43h0m1-53h0m2-26h0m-4 79h0m13 3h0m-12-11h0m7-47h0m-2-1h0m-11 50h0m21-34h0m-36-13h0m16 55h0m0 2h0m23-34h0m-7-26h0m-35 29h0m-3-13h0m30 27h0m14-50h0m-1 26h0m-13-2h0m12-15h0m-10 38h0m-2 2h0m2-14h0m0-41h0m-12 17h0m16 17h0m-1 15h0m10 16h0m-23-1h0m17-68h0m-31 54h0m21 11h0m-21-29h0m32-11h0m-1 6h0m-23 20h0m26 19h0m-27-23h0m3 21h0m21-17h0m2-14h0m-13-31h0m6 11h0m-16 30h0m13-5h0m-21 9h0m22-7h0m-6-48h0m20 27h0m-34 10h0m37 33h0m-22 10h0m-13-43h0m-8-3h0m40 21h0m-20-11h0m5 6h0m-10-9h0m-19-5h0m31-21h0m-21 53h0m29-62h0m-22 63h0m19-72h0m-24 35h0m35 22h0m-19 16h0m-11-1h0m-19-37h0m18-1h0m7 13h0m-17 23h0m16-40h0m24 32h0m-21-33h0m-17-4h0m19-9h0m-13 21h0m-14 4h0m22 40h0m-4-21h0m13-46h0m-7 25h0m18-7h0m-12 3h0m10 27h0m-22 2h0m16-50h0m-1 67h0m-1-10h0m16 0h0m-28-22h0m16 7h0m-26 16h0m-3-44h0m32-18h0m-29 11h0m2 14h0m28-25h0m-30 54h0m4-20h0m-2 5h0m0-10h0m10 33h0m1-15h0m7 7h0m-11 5h0m23 12h0m-39-15h0m7-44h0m37 57h0m-11-42h0m11 13h0m0 13h0m-8 15h0m-11-76h0m13 35h0m-34 8h0m-4-5h0m24-1h0m-21-14h0m36 35h0m-22 25h0m-2-39h0m6 33h0m-1-15h0m-6-39h0m-4-2h0m6 29h0m20-38h0m-20 33h0m20 15h0m-11-3h0m-9 13h0m20-22h0m-38-13h0m10 35h0m2-35h0m2-22h0m10 21h0m20 18h0m2 22h0m-13-65h0m-5 17h0m-9 39h0m5-43h0m-12 30h0m7 18h0m28-22h0m-35 20h0m28-1h0m-41-18h0m38-16h0m1-22h0m-16 36h0m14-14h0m-28 28h0m-8-32h0m19 39h0m-2-21h0m13 10h0m15-19h0m-21-40h0m-19 45h0m0 5h0m33-45h0m-31 38h0m18-8h0m17 15h0m-8-21h0m-20 47h0m12 5h0m4-72h0m-32 24h0m33-2h0m3 8h0m-25 8h0m17-36h0m0 2h0m20 34h0m-41-20h0m20 32h0m7-21h0m-5 11h0m-17-31h0m5 43h0m-13-5h0m28 16h0m5-12h0m-9 21h0m18-62h0m-16 2h0m-30 29h0m7 19h0m13-47h0m10 49h0m-14 10h0m20-74h0m0 13h0m-4 54h0m-29-46h0m40 14h0m-29 26h0m1-26h0m5 14h0m12 10h0m-8-66h0m12 69h0m-1-31h0m-16 54h0m10-4h0m8-2h0m124 193h0m3 3h0" stroke="#00C19A" stroke-width="2.8" stroke-linecap="round" fill="none"/>
<path d="M1049 319h0m5-35h0m-8 9h0m4-2h0m15-4h0m-15 16h0m18 8h0m-12-23h0m8 10h0m-17 1h0m5-15h0m4 16h0m-5-9h0m1 17h0m-6-16h0m10 10h0m7-4h0m-10-11h0m-2-1h0m13 2h0m0 21h0m-1 1h0m-20-12h0m21-12h0m-6 12h0m-3 9h0m0-26h0m-4 34h0m-1-36h0m-4 23h0m18 13h0m5-6h0m-17 3h0m-5-24h0m2 18h0m5-15h0m3 25h0m-10 2h0m19-10h0m-16-2h0m-7-14h0m11 21h0m-7 4h0m3-14h0m-6 6h0m9-23h0m-6 16h0m6 12h0m13 2h0m-6 2h0m0-12h0m-14 5h0m12-30h0m1 5h0m1 31h0m2-19h0m-12 12h0m0 2h0m1 5h0m1 5h0m-9-26h0m3 11h0m1 7h0m-4-19h0m12 22h0m-11-20h0m9-8h0m-1 4h0m-4 19h0m8 4h0m1-30h0m-1 0h0m-4-4h0m1 14h0m-7 2h0m0 12h0m4-25h0m16 29h0m1-19h0m-19 21h0m-2 0h0m17-14h0m-17 15h0m19-10h0m-7 14h0m-7-25h0m0 3h0m0-11h0m9 19h0m-15-16h0m15-1h0m-4 28h0m3-29h0m-3 30h0m-11-38h0m16 25h0m-7 2h0m-7-19h0m15 29h0m-4-13h0m-11 7h0m12-29h0m-7 8h0m8 30h0m-6-22h0m14 4h0m-20 13h0m3-23h0m12-3h0m-5 2h0m-3-9h0m-8 14h0m18-10h0m-2 5h0m-11-10h0m3 10h0m-9 13h0m8-12h0m-7 4h0m-3-5h0m7-14h0m6 33h0m-7 11h0m8-41h0m-3-4h0m7 32h0m-8-25h0m-10 14h0m14-19h0m-2 4h0m5 4h0m-5 26h0m-13-18h0m4-4h0m6-5h0m6 33h0m-15-16h0m10-3h0m-7-16h0m6 19h0m-3 19h0m11-32h0m-9 9h0m15 1h0m-17 7h0m-2 4h0m17-2h0m0 4h0m-18-3h0m14-18h0m5 5h0m-13-14h0m-3 6h0m-2 17h0m16 11h0m-9-31h0m4 24h0m9 1h0m-16-22h0m-2-3h0m3-1h0m6 15h0m-15 2h0m9 15h0m-1-26h0m-6-2h0m21 16h0m-19-9h0m12-12h0m-6 0h0m1 20h0m-8-9h0m3 15h0m10-26h0m-4 10h0m-6 3h0m-7 0h0m7 5h0m11 18h0m-8-24h0m-7 8h0m1 9h0m16-21h0m-4 9h0m2 4h0m-1-15h0m0 2h0m6 3h0m1 9h0m-22 8h0m6-45h0m-3-2h0m-2-2h0m-1-5h0m5 21h0m0-12h0m-2 3h0m-3-5h0m8 7h0m-5 2h0m0-12h0m0 3h0m2 7h0m-3-7h0m2 8h0m-5-12h0m50 73h0m-28-27h0m-1-6h0m17 4h0m-14-7h0m14 19h0m-5-16h0m-4-3h0m21 28h0m-9-14h0m-10-3h0m-2-8h0m20 27h0m3 3h0m-18-25h0m15 28h0m-6-23h0m-10 1h0m18 13h0m-12-10h0m1-3h0m-3-3h0m-10-7h0m1-7h0m-2 8h0m20 26h0m-9-16h0m-4 3h0m20 16h0m-8-8h0m-22-20h0m2-9h0m-4-1h0m4 3h0m29 31h0" stroke="#00BFC4" stroke-width="2.8" stroke-linecap="round" fill="none"/>
<path d="M778 228h0m18 34h0m-14-26h0m-5 2h0m6 20h0m1-12h0m-4 9h0m1-12h0m16 14h0m-1-8h0m-22-21h0m17 8h0m-15-2h0m17 30h0m7-2h0m-19-25h0m13-10h0m-14 10h0m13 14h0m-16-10h0m11-9h0m8 14h0m-20 4h0m18-18h0m-9 21h0m-12-25h0m12 15h0m12-13h0m-19 15h0m18 0h0m-4-9h0m-6 4h0m14 9h0m-13 15h0m-13-25h0m7 20h0m-9-25h0m6 2h0m14-1h0m-8-5h0m-6 8h0m-1 3h0m6 10h0m17-4h0m-2-11h0m-10 13h0m-15-5h0m23-5h0m-18 8h0m8 16h0m1-26h0m-12-5h0m6 30h0m12-15h0m-9-16h0m-8-2h0m10 17h0m-11-17h0m2 18h0m17 0h0m-13-6h0m16 5h0m-5-14h0m-12 4h0m0 25h0m-6-33h0m25 35h0m-5-12h0m-18 0h0m1-2h0m18-18h0m-4 24h0m-10-18h0m8 16h0m-11 4h0m12 4h0m-17-22h0m0-6h0m5 26h0m16-12h0m-2 10h0m0-20h0m-10-5h0m12 29h0m-8-24h0m10-1h0m-12 27h0m10-27h0m-1 18h0m-15-15h0m4 16h0m-12-9h0m30 2h0m-11 12h0m1-28h0m6-2h0m-7 2h0m-4 13h0m9-13h0m3 6h0m0 19h0m0-17h0m-13 20h0m-6-31h0m-5 7h0m23 15h0m2-2h0m-20 2h0m8-22h0m13 31h0m-8-12h0m-9-4h0m14-9h0m-3-9h0m-9 29h0m15 4h0m-16 2h0m-1-20h0m-11-9h0m16 15h0m11 10h0m-26-13h0m16 3h0m-14-15h0m16 7h0m12 21h0m-18-2h0m4-2h0m-15-16h0m19 8h0m2 4h0m-19-4h0m10-18h0m2 35h0m-11-17h0m17-4h0m0 8h0m-1-16h0m4 2h0m-2 22h0m4-5h0m-3 9h0m-5-14h0m8 6h0m-4-5h0m-10 11h0m7-18h0m-1-16h0m-8 29h0m-6-4h0m-2-21h0m4 14h0m7 11h0m2-21h0m10-2h0m-25 2h0m10-10h0m3 33h0m-4 4h0m15 1h0m3-5h0m-18-9h0m-5-14h0m11-10h0m4 34h0m5-2h0m-12-12h0m7-6h0m-4 22h0m1-2h0m-15-9h0m0-12h0m20 3h0m-13-9h0m16 9h0m-8-14h0m-12 0h0m23 29h0m-4 2h0m3-1h0m4 4h0m-2-16h0m-6 15h0m-20-8h0m16-5h0m3 1h0m-3 3h0m-18-17h0m9-4h0m-1 9h0m11 4h0m2-9h0m-15-5h0m2 25h0m5 2h0m-6-15h0m-5 2h0m22 18h0m0-26h0m-18-4h0m3 3h0m-8 17h0m18 5h0m-8-18h0m15 8h0m-3 11h0m6 4h0m-3-8h0m-17-26h0m3 6h0m-5 2h0m17 7h0m-2 11h0m0-28h0m-8 32h0m7-3h0m-7-13h0m-10-9h0m-1 4h0m1 4h0m5-5h0m18 27h0m-2-10h0m-20-14h0m53 19h0m5 2h0m64 2h0" stroke="#00B8E7" stroke-width="2.8" stroke-linecap="round" fill="none"/>
<path d="M1226 398h0m10 10h0m0-5h0m4 12h0m-5-4h0m13-22h0m-1 15h0m-9 9h0m4 12h0m-4-9h0m0 8h0m-3-1h0m8-29h0m3 18h0m-20-18h0m14 37h0m9-33h0m-3 2h0m-12-1h0m8-10h0m6 5h0m-7 18h0m-18-11h0m6-7h0m3-1h0m0 39h0m-1-7h0m16-37h0m-14 10h0m12-10h0m-9 43h0m-8-31h0m6 14h0m-5-18h0m9 18h0m8-25h0m-14 11h0m-3 16h0m19-20h0m-11 24h0m-4-27h0m3 21h0m4 13h0m-5-28h0m6 4h0m4 8h0m-18-9h0m13 10h0m4-12h0m-3 25h0m3-6h0m2-28h0m-19 13h0m9 12h0m-9-9h0m5 2h0m10 8h0m-13-12h0m5 7h0m-8-8h0m10 7h0m-7 8h0m13-27h0m-12 11h0m-1-6h0m12 24h0m-5-5h0m-1-11h0m2-1h0m6-15h0m-4 20h0m-8 8h0m-4-6h0m0-10h0m13 7h0m2 5h0m-2 6h0m-9-23h0m14 12h0m-15-16h0m8 11h0m1 1h0m4-9h0m2 9h0m-15-9h0m16 0h0m-16 9h0m6 3h0m11-6h0m-5-10h0m-4 3h0m-4 39h0m-1-36h0m5 31h0m5-36h0m-6-2h0m-11 14h0m8 6h0m15-18h0m-17 37h0m8-2h0m2-3h0m-7 8h0m5-30h0m-10 22h0m5 7h0m3-25h0m1-4h0m0-11h0m5 16h0m-2-3h0m-14-10h0m16 12h0m-13-10h0m8 28h0m-18-28h0m22 23h0m-10-23h0m6 10h0m3 3h0m-11 19h0m18-36h0m-5 24h0m-11-8h0m5-10h0m-7 0h0m-5 3h0m14-1h0m-12 1h0m1-9h0m-3 10h0m12 19h0m-7 4h0m9-20h0m-10 15h0m11-5h0m-15-17h0m11 28h0m-14-27h0m18-7h0m-9 36h0m-1-1h0m10-4h0m0-7h0m1-23h0m-11 31h0m0-3h0m-2-5h0m2-13h0m5-11h0m-3 17h0m17-21h0m-3 13h0m-4-12h0m2 16h0m-9-14h0m5 39h0m0-16h0m-8 8h0m1-8h0m-1-15h0m15-10h0m-6 22h0m-7 7h0m4-12h0m-15-2h0m13-1h0m-12-3h0" stroke="#00A9FF" stroke-width="2.8" stroke-linecap="round" fill="none"/>
<path d="M779 210h0m17 7h0m-7-8h0m-4-9h0m3 13h0m0-4h0m-9 9h0m-5-10h0m18-12h0m-3 27h0m-16-3h0m16-1h0m2-18h0m-6 14h0m-3-3h0m-1-7h0m3 11h0m9-13h0m-19 19h0m21-14h0m-21-1h0m18-10h0m-9 2h0m6 14h0m4-11h0m-3 5h0m-15-2h0m21-6h0m-11 1h0m13-2h0m-5 0h0m-16 24h0m5-24h0m9 23h0m0-16h0m5-9h0m-5 19h0m-8-5h0m6 12h0m6 0h0m3-25h0m-6 16h0m5-9h0m-7 10h0m-9 6h0m12-1h0m-4-22h0m-6 20h0m9 8h0m3-15h0m-7-11h0m-5 9h0m-2 0h0m6 11h0m9-8h0m-19 0h0m22-6h0m-23-3h0m13 17h0m4-17h0m2 2h0m-5 4h0m-4 14h0m-12 2h0m13-27h0m-9 11h0m7-3h0m-10 6h0m13-7h0m6 8h0m-21 4h0m7-1h0m13-20h0m-11 13h0m-6-7h0m2 15h0m11-10h0m-1-4h0m-5 3h0m-11 0h0m22 13h0m-19 6h0m0-10h0m7 7h0m13-24h0m-17 3h0m9 0h0m7 15h0m-19 5h0m-2 2h0m3-11h0m0 15h0m14-4h0m3-25h0m-7 8h0m5-1h0m0 19h0m-19-20h0m13 15h0m-1 1h0m9-10h0m-2 11h0m-18-8h0m5-10h0m-4 21h0m18-16h0m-12-1h0m16 2h0m-12 8h0m7-9h0m2 15h0m-14 3h0m-2-17h0m15 13h0m-9-2h0m-12-3h0m10-15h0m0 10h0m-8 3h0m20 3h0m-7-13h0m-5 19h0m-10-12h0m6-10h0m-1 0h0m-2 25h0m2-25h0m4 7h0m16 14h0m-23-1h0m17-14h0m-6 18h0m0-28h0m-6 12h0m0-4h0m12 17h0m-15 0h0m-2-13h0m2-5h0m18 12h0m-4-10h0m-8 16h0m-3-21h0m-6 13h0m2 3h0m5-5h0m18 3h0m-6-16h0m5 10h0m-7 11h0m-6 1h0m0-9h0m3-6h0m6 17h0" stroke="#8494FF" stroke-width="2.8" stroke-linecap="round" fill="none"/>
<path d="M1236 323h0m9-22h0m9 3h0m-3 3h0m-10 7h0m0 7h0m0-15h0m2 10h0m8-9h0m-4 13h0m2-25h0m-11 12h0m-2 10h0m-1-7h0m9-5h0m1-1h0m1 23h0m1-17h0m-3-17h0m-7 16h0m-7 7h0m19-4h0m-8-10h0m8 3h0m-15 4h0m0-7h0m-4 22h0m21-17h0m-15 6h0m-2-16h0m8 10h0m-10 11h0m21-15h0m-11 20h0m8-28h0m-4 8h0m10 14h0m-24-6h0m15 6h0m9 4h0m-25-20h0m-1 10h0m19-15h0m-1 21h0m3-8h0m-14 15h0m12-28h0m-11 0h0m-3 21h0m13-20h0m-14 19h0m8-4h0m6 13h0m-5-9h0m-2 10h0m7-29h0m-19 9h0m26 5h0m-15 9h0m9-21h0m-12 1h0m5 2h0m7-4h0m-6 17h0m9-2h0m-10-3h0m-11 7h0m15-7h0m-7-14h0m-3 29h0m4-9h0m6-23h0m-4 27h0m2-12h0m4-15h0m2 5h0m-5 22h0m0-27h0m-4 20h0m11-8h0m2 0h0m-12-1h0m7 12h0m-13-5h0m-3 4h0m4-2h0m11-3h0m-16-5h0m3 6h0m15 2h0m-15-13h0m18 4h0m-21 17h0m18-19h0m-12-3h0m9-2h0m-4 4h0m-2-5h0m14 18h0m-6-5h0m-15 7h0m1 9h0m21-16h0m-27 3h0m11 11h0m10 1h0m-18-14h0m21-1h0m-14 15h0m15-10h0m-18-16h0m-4 12h0m5-3h0m10 0h0m-1 11h0m-13-11h0m23 10h0m-9-1h0m-8 2h0m-5-9h0m19-8h0m-9-4h0m1 27h0m-6-1h0m0-4h0m-6-4h0m2-12h0m-5 2h0m4 15h0m3-24h0m17 17h0m-19 11h0m2-24h0m4 15h0m-2-5h0m-3-10h0m8 2h0m2 21h0m-12-10h0m7 13h0m5-9h0m-11 0h0m18-13h0m-10 5h0m7 1h0m2-4h0m-20-1h0m4 17h0m6-9h0m-13-6h0m3 10h0m14-15h0m-3 12h0m2 9h0" stroke="#C77CFF" stroke-width="2.8" stroke-linecap="round" fill="none"/>
<path d="M973 74h0m-17-3h0m15 4h0m1-7h0m0 0h0m-16 1h0m10-1h0m2 5h0m-9 0h0m3 1h0m-1 2h0m2-4h0m7-1h0m-14-3h0m11-5h0m6 10h0m-13 0h0m2 2h0m0-9h0m13 8h0m-3-2h0m1-2h0m-5-6h0m-1 12h0m3-1h0m-5 2h0m-2-12h0m6 5h0m-6 6h0m-6-3h0m6-1h0m2-7h0m1 12h0m-12-6h0m23 1h0m-21-2h0m2 4h0m8-6h0m-7 9h0m13-7h0m-9 5h0m-6-7h0m9-3h0m-3 10h0m-9-5h0m8 8h0m14-8h0m-4-1h0m-15 3h0m-2 2h0m10-9h0m12 8h0m-7-4h0m-12-2h0m13 1h0m-1 3h0m-13 0h0m9-3h0m-9 5h0m6-8h0m5 6h0m-3 1h0m-2-2h0m2 5h0m-1-6h0m6-3h0m-17 6h0m14 5h0m-4-1h0m5-9h0m-6 1h0m5 9h0m-5-11h0m0 2h0m1-4h0m4 9h0m5 5h0m-10-5h0m2-6h0m11 8h0m-23 10h0m15-5h0m2 2h0m-12 3h0m-11-6h0m15-7h0m5 13h0m-19-11h0m-1-2h0m15 7h0m-9 4h0m0 0h0m5-8h0m5 8h0m5 3h0m-14-19h0m-1 8h0m16 3h0m-12-10h0m12 0h0m-4 18h0m5-16h0m-12 23h0m3-9h0m-1-15h0m20 19h0m-21-7h0m-14-7h0m15 14h0m14-10h0m-21 17h0m-2 10h0m3 7h0m4 6h0m-11-6h0m28 38h0m48-92h0m-42 2h0" stroke="#ED68ED" stroke-width="2.8" stroke-linecap="round" fill="none"/>
<path d="M950 123h0m15 13h0m-11 4h0m-7-12h0m-2 14h0m26-6h0m-23-7h0m22-1h0m-19 11h0m13-16h0m-16 18h0m4-2h0m15-1h0m-4-11h0m1 3h0m-11 9h0m12-13h0m-4 9h0m-6 4h0m16-5h0m-25 0h0m27-4h0m-23 4h0m-3 11h0m-6-3h0m15-16h0m-3-2h0m3 0h0m-10 19h0m6-4h0m15-10h0m-25 11h0m5-8h0m21-3h0m-12 6h0m-2 5h0m7-5h0m9-4h0m-16-7h0m-9 16h0m19-16h0m-13 13h0m1-6h0m5 0h0m-9-3h0m24 5h0m-3 4h0m-14-9h0m1 9h0m11-9h0m-19 2h0m5-1h0m5 6h0m-14 2h0m-2 3h0m1 0h0m25-15h0m-20 8h0m7-10h0m13 3h0m-16 5h0m0-5h0m10 5h0m-5-2h0m-11 16h0m5-17h0m3 11h0m-6 2h0m6-15h0m-3 0h0m15 6h0m4 3h0m-16 5h0m5-2h0m-15 4h0m12-3h0m6-3h0m-11 2h0m4-14h0m-2 16h0m6-13h0m0 2h0m-8 10h0m10-1h0m-26 12h0m3-10h0" stroke="#FF61CC" stroke-width="2.8" stroke-linecap="round" fill="none"/>
<path d="M906 67h0m2 0h0m4-3h0m0 3h0m1 0h0m-2 0h0m-3 0h0m-2 3h0m4-6h0m-1 0h0m3 0h0m-4 2h0m2 2h0m4-1h0m-6-3h0m1-1h0m-2 6h0m-31 196h0m10-23h0" stroke="#FF68A1" stroke-width="2.8" stroke-linecap="round" fill="none"/>
<text x="904.0" y="19.0" font-size="22.3" text-anchor="start" fill="#000">Protein cell clustering</text>
<text x="920.0" y="56.0" font-size="22.3" text-anchor="start" fill="#000">Monocyte-1</text>
<text x="784.0" y="76.0" font-size="22.3" text-anchor="start" fill="#000">Unknown-1</text>
<text x="1062.0" y="101.0" font-size="22.3" text-anchor="start" fill="#000">Monocyte-2</text>
<text x="817.0" y="145.0" font-size="22.3" text-anchor="start" fill="#000">Unknown-2</text>
<text x="988.0" y="177.0" font-size="22.3" text-anchor="start" fill="#000">Monocyte-3</text>
<text x="746.0" y="185.0" font-size="22.3" text-anchor="start" fill="#000">Plasma-1</text>
<text x="742.0" y="295.0" font-size="22.3" text-anchor="start" fill="#000">Plasma-2</text>
<text x="833.0" y="324.0" font-size="22.3" text-anchor="start" fill="#000">Memory B</text>
<text x="862.0" y="350.0" font-size="22.3" text-anchor="start" fill="#000">cells</text>
<text x="1024.0" y="235.0" font-size="22.3" text-anchor="start" fill="#000">Na<tspan dx="3.1">ï</tspan><tspan dx="-8.1">ve</tspan> CD4 <tspan font-size="13.8" dy="-8">+</tspan><tspan dy="8"> T</tspan></text>
<text x="1208.0" y="207.0" font-size="22.3" text-anchor="start" fill="#000">CM CD4<tspan font-size="13.8" dy="-8.0">+</tspan><tspan dy="8.0"> T</tspan></text>
<text x="997.0" y="306.0" font-size="22.3" text-anchor="start" fill="#000">NK</text>
<text x="1265.0" y="285.0" font-size="22.3" text-anchor="start" fill="#000">Treg-1</text>
<text x="1265.0" y="354.0" font-size="22.3" text-anchor="start" fill="#000">Treg-2</text>
<text x="996.0" y="401.0" font-size="22.3" text-anchor="start" fill="#000">CM CD8<tspan font-size="13.8" dy="-8.0">+</tspan><tspan dy="8.0"> T</tspan></text>
<text x="1167.0" y="460.0" font-size="22.3" text-anchor="start" fill="#000">TRM CD4<tspan font-size="13.8" dy="-8.0">+</tspan><tspan dy="8.0"> T</tspan></text>
<text x="961.0" y="528.0" font-size="22.3" text-anchor="start" fill="#000">TRM CD8<tspan font-size="13.8" dy="-8.0">+</tspan><tspan dy="8.0"> T</tspan></text>
<path d="M740 563V418M740 563H928" stroke="#000" stroke-width="2.2" fill="none"/>
<path d="M731.5 418L740 392L748.5 418Z" fill="#000"/>
<path d="M928 554.5L954 563L928 571.5Z" fill="#000"/>
<text transform="translate(736 532) rotate(-90)" font-size="19.6">UMAP 2</text>
<text x="760.0" y="588.0" font-size="19.6" text-anchor="start" fill="#000">UMAP 1</text>
<path d="M1758 108h0m-4 17h0m-47-52h0m54 20h0m-32-10h0m-12 4h0m26 24h0m8 5h0m-65-7h0m55 16h0m11-8h0m0 8h0m-15-51h0m-35 22h0m62-4h0m-7-27h0m30 28h0m-20-7h0m-47 2h0m28-5h0m-37 4h0m73 15h0m-44 18h0m-2-56h0m-40 50h0m36-43h0m34 10h0m-4 18h0m-75 14h0m27-22h0m17 19h0m3 0h0m-36 0h0m58 2h0m-42-10h0m57-10h0m-61 15h0m73-11h0m-41-18h0m21-11h0m-9 6h0m0 23h0m16 6h0m8-11h0m-62-23h0m18 2h0m-29 33h0m-6-9h0m-7 23h0m-7-10h0m64 24h0m14-47h0m-49-14h0m47 19h0m-14 45h0m-45-26h0m53-11h0m-36-29h0m3 32h0m-1 3h0m13-35h0m-22 32h0m17 7h0m-16 4h0m20-25h0m23-9h0m-32 5h0m28 44h0m-6-57h0m-41 15h0m36 45h0m9-56h0m-13 43h0m34-24h0m-47 23h0m-30-2h0m32-1h0m-13-32h0m-20 23h0m-5 13h0m56-26h0m-41 14h0m9-26h0m27-18h0m-5 16h0m-2-6h0m44 33h0m-13-37h0m-21 69h0m-26-69h0m30 46h0m-33-38h0m19 36h0m10-36h0m26 26h0m-25-15h0m-33 28h0m6 5h0m46-30h0m-8 12h0m-11 31h0m34-26h0m-44-6h0m7-5h0m2 13h0m-34-31h0m38 21h0m-49 15h0m43 16h0m-2-32h0m-49 14h0m19-34h0m37 34h0m-48-11h0m47 14h0m-16-6h0m43-8h0m6-5h0m-8 14h0m-19-13h0m17 12h0m-13-22h0m30 21h0m-63-11h0m0 15h0m60-5h0m3 0h0m-60 1h0m25 16h0m-15-1h0m-28-41h0m23-4h0m-13 8h0m47 10h0m-9-33h0m33 31h0m-51 27h0m9-26h0m-36 9h0m34 10h0m-21-25h0m25-9h0m-29-9h0m40 24h0m6 5h0m5 10h0m-36-1h0m21-39h0m-23-2h0m30 32h0m10-12h0m-64 9h0m5 18h0m69-16h0m-45-39h0m8 7h0m-42 9h0m32-2h0m-8 58h0m0-4h0m-2-58h0m-4 57h0m25-42h0m-40 25h0m20 14h0m15-10h0m-35-14h0m42-12h0m-6 45h0m-14-51h0m2 47h0m26-48h0m-18 49h0m-21-37h0m-26 16h0m60-6h0m15-29h0m6 14h0m-70 23h0m40-12h0m-22-14h0m24 45h0m15-14h0m-23-53h0m-42 38h0m14 23h0m2-33h0m53-7h0m10 4h0m-56 24h0m1-6h0m41-1h0m26-10h0m-55 16h0m-6-29h0m-8 44h0m18-17h0m-18-14h0m57 8h0m-78 12h0m39-44h0m-18 11h0m11 9h0m3 10h0m1-15h0m-20 25h0m64-12h0m-6-18h0m-19-17h0m-20 22h0m6-4h0m3 3h0m-28 37h0m18-45h0m35 32h0m-23 23h0m4-20h0m-6-46h0m-18 56h0m-18-21h0m7 4h0m9 8h0m-22 7h0m21-36h0m55 3h0m-12-13h0m-46 40h0m-4 7h0m9-23h0m-19 25h0m7-38h0m14 28h0m34-10h0m-53-21h0m12 30h0m-20-2h0m48-17h0m30 12h0m-38-19h0m8-28h0m40 38h0m-15-4h0m0 18h0m-32-16h0m45 13h0m-89 11h0m62-42h0m-12 9h0m-21 37h0m-1-49h0m32 36h0m-53-6h0m58-25h0m-8 11h0m-8 48h0m1-69h0m-2-11h0m27 30h0m-63-7h0m26-11h0m35 16h0m6 8h0m-67-5h0m59-3h0m-58-1h0m54 1h0m-16 31h0m-5 5h0m-20-2h0m26-19h0m-43 10h0m7-37h0m12 50h0m-19-16h0m48-29h0m17 31h0m-65 11h0m50-35h0m-57 30h0m68-9h0m-22 10h0m8-50h0m-43 44h0m24-13h0m22-30h0m32 37h0m-59 5h0m13-19h0m-4-12h0m25 29h0m-61 8h0m42-2h0m4-22h0m7-30h0m-6-4h0m17 20h0m-28 41h0m-27-6h0m56-37h0m-16 24h0m-28-20h0m4 41h0m32-22h0m-23-27h0m48 32h0m-11 2h0m-37 3h0m-4-11h0m32-21h0m-44-4h0m3 51h0m-5-25h0m29-6h0m-33-16h0m29 28h0m-37-6h0m42-20h0m-26-6h0m18 25h0m12 13h0m18-1h0m-27 13h0m7-51h0m30 23h0m-11 5h0m-8-9h0m-45 2h0m9-2h0m36 3h0m-5-15h0m-18-15h0m-4 31h0m34 5h0m-13-17h0m-31 2h0m16-7h0m24 13h0m-30-15h0m18-5h0m-51 38h0m86-17h0m3 11h0m-7-9h0m2 2h0m-8-5h0m6 20h0m-6-20h0m15 19h0m-17-16h0m16 13h0m3-1h0m-12 5h0m1-9h0m-1 4h0m8 4h0m-5-21h0m-6 13h0m0 2h0m-5 3h0m3-17h0m4 1h0m-11 6h0m17 5h0m-6-8h0m4 8h0m-9-7h0m1 1h0m18 9h0m-1-10h0m-8 8h0m2 5h0m-7-5h0m11-6h0m-21-3h0m3 0h0m0 5h0m2 3h0m3-12h0m3 20h0m4-6h0m-6 1h0m13 5h0m-26-10h0m19 8h0m4-12h0m-2-5h0m-4 17h0m-2-7h0m3-7h0m3 0h0m-17 10h0m7 2h0m0 0h0m9-9h0m-12 12h0m12-8h0m6 0h0m-5-6h0m-10-1h0m13 10h0m-13 6h0m1-12h0m12-1h0m-13-8h0m1 10h0m-7 7h0m17-8h0m-4-7h0m10 6h0m-5-4h0" stroke="#00BFC4" stroke-width="2.8" stroke-linecap="round" fill="none"/>
<path d="M1474 177h0m-10 24h0m31-18h0m-47 24h0m24-26h0m5 49h0m15-39h0m-61 8h0m41 7h0m-32-8h0m14-3h0m-5 8h0m11-4h0m36 13h0m-48-21h0m34 31h0m7 8h0m-36-32h0m10 25h0m-5-43h0m22 35h0m17-33h0m-59 21h0m17-3h0m-15 21h0m43-18h0m-14 29h0m-20-12h0m20-1h0m-9 0h0m-1-32h0m-7 12h0m2 6h0m16 20h0m2-37h0m8 8h0m10 17h0m11-14h0m-40-17h0m27 30h0m-26-32h0m-12 25h0m-8-17h0m33-12h0m12 24h0m-21 34h0m14-47h0m-7 9h0m-34-3h0m21 19h0m25-17h0m-23 27h0m3-22h0m16-8h0m-6 4h0m12 7h0m-25 0h0m-7 1h0m10-14h0m1 14h0m-2-4h0m8 1h0m5 20h0m-2-41h0m20 29h0m-28 21h0m9 3h0m4-26h0m-14 22h0m-5-28h0m36 21h0m-65-14h0m30 24h0m36-38h0m-20 3h0m-34-2h0m45 36h0m-5-36h0m-25-13h0m-26 35h0m18-26h0m18 38h0m-3-26h0m5 16h0m-19-10h0m-8-21h0m3 31h0m20-19h0m3-16h0m24 45h0m-7-29h0m-8 5h0m-23-15h0m35 25h0m-31-7h0m12 0h0m-7 21h0m-23-12h0m26 12h0m-32-13h0m21 0h0m40-21h0m-11 14h0m-9-6h0m22 6h0m-22-25h0m1 41h0m7-41h0m-31 35h0m13-24h0m13-5h0m-1 26h0m-21-16h0m-1-10h0m20 7h0m20-11h0m-34 1h0m7 18h0m-37 12h0m4-25h0m14 23h0m47-4h0m-10-12h0m-24 24h0m11-30h0m4 19h0m-26 5h0m36 5h0m-30-20h0m17 33h0m-2-54h0m-2 55h0m-6-22h0m-7-19h0m19 18h0m-40-4h0m47 20h0m-23-9h0m4-15h0m-7 30h0m16-18h0m5-11h0m11-1h0m-17 17h0m-2 0h0m-10-26h0" stroke="#00BF7D" stroke-width="2.8" stroke-linecap="round" fill="none"/>
<path d="M1561 273h0m-9-29h0m18 40h0m-100-25h0m36 11h0m-19 19h0m103-36h0m-62 37h0m-16 2h0m27-50h0m8 33h0m-49-44h0m-13 44h0m80 6h0m3-19h0m-23-33h0m-65 15h0m92 17h0m-5-34h0m-37 17h0m-31 48h0m-14-37h0m69-27h0m4 41h0m-76-2h0m50-5h0m-38 26h0m69-12h0m5-14h0m-12-4h0m-90 0h0m86 4h0m-19 12h0m48-25h0m-89-14h0m-13 18h0m83-18h0m-50 30h0m2-28h0m4 71h0m-6-68h0m52-9h0m-23 9h0m-3 28h0m-37-28h0m-27 11h0m26 28h0m6-56h0m48 24h0m-7 42h0m-7 8h0m-24-34h0m-51 8h0m66 23h0m17 8h0m-6-11h0m-32 1h0m-24-10h0m-7-41h0m102-1h0m-40-17h0m-8 61h0m-26-42h0m15 22h0m-18-27h0m-27 1h0m46 5h0m-26 33h0m80-5h0m-19-3h0m-61-19h0m-27-3h0m67 3h0m45 25h0m-104 8h0m62 5h0m-65-37h0m31-24h0m-30 17h0m22 35h0m79-27h0m-83-3h0m74 24h0m-88-23h0m11 38h0m31 9h0m9-73h0m-16 59h0m-31-48h0m36 53h0m-13-49h0m4 29h0m51-9h0m15-10h0m-2 29h0m-107-8h0m17-26h0m68 62h0m-3-27h0m-65-42h0m40 68h0m-2-19h0m29-10h0m-34-46h0m26 66h0m-42-33h0m10 26h0m23 28h0m4-22h0m-25-13h0m-23-10h0m50 39h0m19-42h0m4 16h0m-49 3h0m23-58h0m-19 62h0m-17-6h0m57-50h0m-80 32h0m80-13h0m24 19h0m6-23h0m-74 6h0m6 18h0m-16-51h0m11 48h0m40 28h0m-33-43h0m16 56h0m-3-78h0m-20 21h0m13-24h0m51 46h0m-21 27h0m-60-22h0m23 7h0m31 14h0m-17-22h0m-13-15h0m12 7h0m-39-28h0m42 48h0m23-18h0m13-25h0m-43 66h0m-3-66h0m-56-8h0m38-9h0m16 57h0m-17-46h0m13-20h0m-25 12h0m58 20h0m-13 13h0m26 27h0m-38-29h0m-7 6h0m-8 39h0m-28-77h0m49 16h0m4-18h0m-52 25h0m16-22h0m27 69h0m-18-10h0m8-33h0m-9 11h0m-31-16h0m2 10h0m77-13h0m-49-9h0m33 30h0m-77 1h0m73 10h0m-67-27h0m14 12h0m100-5h0m-74-30h0m65 51h0m-76-2h0m-9-48h0m82 54h0m-49 4h0m41-22h0m-68-41h0m4 2h0m-20 42h0m36 30h0m19-63h0m6 27h0m-26-31h0m34 4h0m26 41h0m-102-18h0m50 22h0m-13-15h0m-3-32h0m0 46h0m-14-52h0m16 74h0m38-84h0m-53 1h0m52 13h0m-41 45h0m-19-29h0m-20-1h0m72-17h0m33 52h0m-45-41h0m-27-24h0m80 52h0m-40 6h0m43-36h0m-106-1h0m90 8h0m-86 41h0m94-48h0m-71 62h0m-12-12h0m-19-28h0m-6 4h0m21-17h0m43 45h0" stroke="#F8766D" stroke-width="2.8" stroke-linecap="round" fill="none"/>
<path d="M1540 134h0m-3 19h0m12 18h0m-15 43h0m-6-9h0m84-65h0m-25 24h0m-57 41h0m12-58h0m-16 70h0m69-17h0m43-13h0m-78-43h0m-28 1h0m60-9h0m27 59h0m-45-41h0m46-3h0m-50 48h0m38-55h0m8 38h0m-82 36h0m96-30h0m-51-24h0m-24 58h0m67-48h0m-95-32h0m50 11h0m-22 15h0m-16-25h0m85 34h0m-55-47h0m2 13h0m-42 18h0m1-7h0m84 23h0m-94-23h0m26 66h0m39-57h0m15 46h0m-59-47h0m37-15h0m1 69h0m-68-10h0m36-25h0m-1-43h0m67 56h0m-52-12h0m70-22h0m-40-24h0m11 5h0m-55 61h0m15 5h0m-29-41h0m80 24h0m-34 5h0m19 0h0m-6-41h0m-32 14h0m-21 23h0m27 21h0m-41-51h0m74 47h0m23-11h0m-115-19h0m119-31h0m-57-4h0m21 25h0m-21-9h0m-49 2h0m52-9h0m26 1h0m24 5h0m-11 46h0m-21 7h0m-40 14h0m-31-60h0m42 0h0m-44 45h0m111 5h0m-18 5h0m-95-68h0m42 68h0m42 1h0m-66-41h0m80 41h0m-73-13h0m-4-69h0m84 88h0m-81-67h0m15 45h0m68-49h0m-89 47h0m83-49h0m-27-1h0m3 68h0m-13-16h0m-4-51h0m11-20h0m-16 85h0m3 7h0m-45-10h0m66-80h0m4 15h0m-13 38h0m3 11h0m-72 10h0m9-11h0m51-73h0m5 92h0m11 22h0m-7-62h0m-12 12h0m8-45h0m-6 57h0m-16-65h0m-36 13h0m65 30h0m23 12h0m-106 12h0m114 1h0m-64-71h0m-7 30h0m0 3h0m34-5h0m48 1h0m-115 3h0m36 49h0m9-19h0m-22 7h0m43 3h0m-25-25h0m-30 34h0m0-61h0m20 18h0m-31-19h0m105 24h0m-97 3h0m104 22h0m-24 13h0m-11-35h0m8-12h0m-98 32h0m112 3h0m-10 28h0m-24-59h0m16-40h0m-36 63h0m14 0h0m10 15h0m52-5h0m-70-24h0m-48-23h0m89-7h0m9 33h0m-3 27h0m-64-81h0m-7 62h0m89-9h0m-115 12h0m117-27h0m-62 45h0m31-37h0m-63 10h0m54-11h0m35 28h0m-29-45h0m27 23h0m-15 26h0m-64-51h0m-14-18h0m14 59h0m8-64h0m17 25h0m36-21h0m-42 51h0m-32 25h0m52 6h0m33-66h0m-79 36h0m55-22h0m-88 23h0m58-42h0" stroke="#39B600" stroke-width="2.8" stroke-linecap="round" fill="none"/>
<path d="M1585 186h0m-32 26h0m33-51h0m-65 25h0m78-40h0m-60 38h0m53-28h0m-48 59h0m36-58h0m-32 25h0m48 31h0m-4-43h0m8 38h0m-3-43h0m-4 34h0m-15-12h0m-53-14h0m79-12h0m-48 54h0m11-23h0m-30-18h0m53 10h0m14-20h0m-38 5h0m-17 53h0m37-39h0m-25-49h0m-37 53h0m74 20h0m-1-38h0m-66-11h0m44 67h0m-56-25h0m31 13h0m29-82h0m-42 75h0m7 6h0m20-66h0m-32 70h0m50-26h0m-57-11h0m10-8h0m46 28h0m18-6h0m-61-11h0m28 43h0m-27-28h0m47-17h0m-43-16h0m30-34h0m-20 82h0m11-51h0m39 1h0m-35 59h0m-21-5h0m23-39h0m26-40h0m-20-1h0m7 50h0m-1 35h0m-49-23h0m7-22h0m29-20h0m-57 41h0m63 23h0m-11-10h0m-42-11h0m55-49h0m-17 30h0m42-7h0m-54 3h0m53-6h0m-4-18h0m-8 10h0m-67 44h0m81-58h0m-58-4h0m46 68h0m3-35h0m-77 18h0m57-2h0m-47-17h0m68-3h0m-48 25h0m-17-18h0m65-44h0m-25-7h0m-43 33h0m-1 35h0m6-22h0m16 22h0m22-52h0m3 8h0m19 70h0m-30-33h0m8 19h0m-33 4h0m41-54h0m5 65h0m-10-91h0m-15 41h0m-11 6h0m-1-33h0m19-8h0m20 67h0m-21-40h0m6 38h0m7-42h0m-1 10h0m-12-2h0m5-36h0m28 12h0m-21 66h0m-49-41h0m50-24h0m27 12h0m2-1h0m-65 52h0m-13-48h0m31-16h0m24 9h0m-30 35h0m-17-21h0m70-16h0m-38 37h0m-11 0h0m-18-15h0m-13-6h0m43 18h0m-10-36h0m-32 40h0m53-55h0m2 82h0m1-21h0m-60-26h0m83-19h0m-67 19h0m61-19h0m-72 57h0m41 3h0m-6 2h0m14 6h0m-15-82h0m24 19h0m-31 2h0m15-28h0m3 37h0m26-33h0m-36 54h0m-37 21h0m24-21h0m-11-19h0m51 48h0m-63-42h0m73-22h0m2 31h0m-69-21h0m36 30h0m2-37h0m1 50h0m-43-14h0m-11-14h0m77 37h0m-31-23h0m-43 12h0m2-1h0m85-31h0m-23 14h0m-28 34h0m32-29h0m-3-42h0m-4-12h0m-33 10h0m-1 45h0m16 1h0m-35-25h0m65 47h0m-25-19h0" stroke="#D89000" stroke-width="2.8" stroke-linecap="round" fill="none"/>
<path d="M1447 220h0m28-25h0m14 16h0m-26 21h0m9-55h0m-1 46h0m12 10h0m-40-26h0m11-3h0m36-1h0m-56 20h0m30-14h0m-19 8h0m42-34h0m-35 45h0m-6-9h0m-15-11h0m46-2h0m22-12h0m-26-16h0m12 14h0m-17 24h0m-35-9h0m50 32h0m-9-6h0m6-57h0m17 10h0m-50 8h0m-11 13h0m32 8h0m-17-7h0m43 13h0m-26-14h0m-27-20h0m56 6h0m-42 25h0m47-20h0m-37 9h0m-28-8h0m17 4h0m-22 19h0m42 15h0m7-46h0m-33 20h0m38-24h0m-15 30h0m9-34h0m-23 28h0m-1 11h0m13-6h0m19-40h0m9 39h0m-47-2h0m8-29h0m-1-7h0m26 27h0m10 17h0m-33-15h0m39 1h0m-24-22h0m-17-1h0m11 48h0m-11-52h0m38 42h0m-26-2h0m15-30h0m-29-12h0m15 27h0m-25-19h0m-6 33h0m12-7h0m10-20h0m27 36h0m-40-8h0m40-9h0m-36-31h0m13 50h0m9-28h0m-47 2h0m52 1h0m-3-20h0m11-4h0m-51 34h0m44-36h0m-26 32h0m10 9h0m-26-11h0m41 8h0m-8-41h0m-2 14h0m-5 47h0m2-8h0m27-23h0m-39 14h0m40-22h0m5 6h0m-39 29h0m-17-22h0m2-20h0m-12 2h0m-2 25h0m55-31h0m-17 6h0m-20-9h0m29 22h0m-20-3h0m-4-2h0m21 11h0m-8-29h0m11 27h0m7-31h0m-46 38h0m8 7h0m28-27h0m-17 25h0m12 3h0m-26 4h0m8-43h0m28 13h0m7-5h0m-42 29h0m25-28h0m-21 20h0m39 15h0m-13-33h0m-18 11h0m25 2h0m14 10h0m-55-21h0m10-10h0m31 25h0m7-4h0m1-7h0m-39 24h0m2-46h0m-2 45h0m17-27h0m-34-2h0m46 37h0m-30-35h0m8 1h0m14-25h0m5 36h0m-23-15h0m8-18h0m2 51h0" stroke="#00BF7D" stroke-width="2.8" stroke-linecap="round" fill="none"/>
<path d="M1537 302h0m-40-5h0m70-56h0m-49-2h0m16 6h0m8-19h0m-18 21h0m-17 16h0m-23-11h0m70 30h0m-26-60h0m-42 67h0m44-14h0m-49 4h0m24-13h0m56 3h0m-70 26h0m75 1h0m-69-3h0m-12-27h0m30-16h0m-38 31h0m107-4h0m-55-16h0m5 46h0m6-36h0m-59 7h0m4-21h0m54 26h0m-6-34h0m52 30h0m-89-28h0m15 56h0m49-80h0m-47 73h0m34-68h0m-20-3h0m30 40h0m-39-39h0m27 76h0m-67-46h0m47 27h0m-57-9h0m86-19h0m28-14h0m-76 27h0m40 33h0m-45-46h0m7-29h0m5-1h0m27 86h0m-51-69h0m76-4h0m-23-11h0m14-3h0m-71 9h0m32 34h0m15-18h0m-11 23h0m37-35h0m-14 7h0m10 47h0m-35-2h0m30-9h0m13-35h0m16 36h0m-95-32h0m22-17h0m-6 54h0m-20-9h0m84-25h0m-44-29h0m-39 42h0m105-8h0m-51 29h0m-32-63h0m46 25h0m-2 44h0m-51-36h0m11-12h0m71 18h0m-7-12h0m0 42h0m-69-41h0m29 24h0m32 23h0m-63-28h0m25-30h0m7 48h0m7 5h0m27-62h0m-23 58h0m23 2h0m-90-41h0m14-13h0m24 61h0m-8-82h0m39 39h0m8 1h0m-41 1h0m24 49h0m-11 4h0m-9-50h0m-13 36h0m26 7h0m-48-14h0m57 3h0m-7 1h0m-8-56h0m7-1h0m-37 1h0m47 21h0m2 32h0m-4 13h0m-32-36h0m39 8h0m-16 35h0m18-71h0m-54 39h0m57-43h0m-4 9h0m26 35h0m-47 15h0m-8-32h0m65-18h0m-96 33h0m59 25h0m-45-30h0m21 4h0m-26-8h0m-20-18h0m80 24h0m-67 17h0m45 5h0m-3-32h0m32-12h0m-47 48h0m-30-27h0m1-47h0m71 38h0m-84-8h0m4 11h0m43 32h0m-5-16h0m-15-21h0m81-19h0m-37-6h0m-52-5h0m91 16h0m-106 27h0m33-26h0m50 36h0m-6-57h0m21 1h0m-15 21h0m-76 36h0m71-3h0m-10 19h0m-29-8h0m-35-63h0m11 38h0m-8-36h0m21 19h0m77 7h0m-12-7h0m-36-19h0m-62 38h0m34-50h0m22 35h0m-38-12h0m20 5h0m79 18h0m-55-48h0m-35 69h0m22 17h0m-31-14h0m17-5h0m53-27h0m-56 41h0m23-67h0m34 56h0m-75 4h0m84-1h0m2-1h0m-56-4h0m-10-57h0m14 74h0m-3-73h0m56 43h0m-2-28h0m-9-16h0m-74 26h0m-13 16h0m67-53h0m-12 77h0m8 15h0m13-64h0m-3-2h0m-60-3h0m19 9h0m43 3h0m-28-24h0m-2 44h0m43-18h0m-57 28h0m-31-39h0m73 16h0m-28-34h0m60 36h0m-98 16h0m34 27h0m-33-34h0m-9 10h0m43 0h0m17 23h0m31-71h0m-33 27h0m-30 22h0m53-12h0m-27 12h0m-7-62h0m18 78h0m-24-28h0m-36-21h0" stroke="#F8766D" stroke-width="2.8" stroke-linecap="round" fill="none"/>
<path d="M1580 143h0m10-12h0m-52 45h0m-23-21h0m-3 38h0m79 23h0m-1-72h0m-49 35h0m49 43h0m-75-27h0m100-37h0m-61 24h0m-15 9h0m22-58h0m63 75h0m-87 7h0m28-2h0m49-13h0m-33-43h0m32 16h0m-35-19h0m0 43h0m26-21h0m-28 1h0m16 55h0m-92-32h0m69 19h0m17-49h0m-66 21h0m8-23h0m54-22h0m20-1h0m-82 55h0m70-22h0m-66-2h0m59 33h0m-32 5h0m12-49h0m40-19h0m-15 54h0m0-61h0m36 13h0m-61 13h0m70 26h0m-79-27h0m8-32h0m19 8h0m28 87h0m-58-56h0m12 56h0m52-11h0m-54-88h0m49 82h0m-37-7h0m-5-18h0m-8-4h0m14 31h0m-3-12h0m-16 6h0m7-43h0m17 29h0m47-48h0m-93 71h0m55-14h0m-70-25h0m15 35h0m94-20h0m-99-15h0m47-6h0m-51 2h0m67-37h0m-8 101h0m7-34h0m-32-62h0m71 22h0m-52 47h0m48-10h0m-68 23h0m26-66h0m-29-8h0m22 60h0m5-81h0m-68 81h0m121-22h0m-28 30h0m-61-41h0m-24-20h0m51 18h0m-10-44h0m-17 6h0m-14 36h0m39 47h0m40 1h0m-96-11h0m55-43h0m62 6h0m-30 66h0m23-96h0m-83 65h0m-27 5h0m69-14h0m-9-56h0m49 71h0m-37-45h0m-2 11h0m-8 23h0m-59-36h0m8 0h0m-10-12h0m1-2h0m32-19h0m26 75h0m8 25h0m27-93h0m12 62h0m-93-51h0m94 69h0m-45-85h0m-10 86h0m20-89h0m-36 8h0m72 84h0m9-33h0m-103-10h0m-10 8h0m59-4h0m35 49h0m-11-14h0m8-78h0m-21 57h0m-52 11h0m-9-19h0m69 40h0m8 1h0m-71-35h0m95-23h0m-16 0h0m-84-22h0m107 29h0m-36 8h0m14-1h0m-35-22h0m-47 34h0m96-9h0m-26 14h0m14-58h0m-18 68h0m-9-8h0m-21-54h0m-63 33h0m110-29h0m-16 52h0m-13 27h0m17-36h0m24-37h0m-41 17h0m-83 14h0m66 26h0m28 5h0m-84-21h0m46-33h0m-32-10h0m39 34h0m-6-64h0m37 54h0m-55 38h0m38-67h0m-69 27h0m0 29h0m85-1h0m20 16h0m-2-57h0m-98 39h0m63 4h0m1-28h0m32 5h0m1 1h0m-76-40h0m37 78h0m6-12h0m-25-24h0m-51-8h0m30-37h0" stroke="#39B600" stroke-width="2.8" stroke-linecap="round" fill="none"/>
<path d="M1546 196h0m34-18h0m-10 45h0m-31-73h0m54-16h0m-25 82h0m5-68h0m2 76h0m22-85h0m-42 62h0m9 24h0m37-65h0m2-5h0m-5-12h0m-6-9h0m-19 83h0m9 11h0m20-83h0m-48 29h0m0 1h0m32 43h0m-22-56h0m9 42h0m-21-42h0m46 22h0m-52 10h0m14 21h0m-4-70h0m41-1h0m-5 21h0m-37 46h0m28-27h0m-5-48h0m-27 33h0m-23 17h0m62-52h0m-67 64h0m40 18h0m-19-74h0m34-5h0m30 26h0m-47 42h0m2-32h0m-29-9h0m1-10h0m32 54h0m-15 1h0m4-13h0m-16-8h0m42-5h0m-63-6h0m40 38h0m-27-12h0m40-5h0m-21-29h0m27 29h0m-7-69h0m-5 68h0m0-36h0m-26-15h0m11 39h0m53 4h0m-18 24h0m-3-37h0m18 13h0m-69-4h0m6 14h0m46-53h0m-49 32h0m-10-6h0m51 41h0m4 5h0m-31-13h0m45-52h0m-48 64h0m41-17h0m-9-42h0m-45 35h0m19-10h0m-3-36h0m-20 53h0m28-42h0m-31 9h0m61-35h0m11 77h0m-76-30h0m78-31h0m-72 17h0m22 46h0m-10-55h0m34 15h0m-8 39h0m27-17h0m1-7h0m-42-2h0m36-30h0m-66 49h0m48 20h0m-27-28h0m14-17h0m18-23h0m-27 33h0m8-27h0m5 52h0m-42-21h0m70-59h0m0 85h0m-45-63h0m43 43h0m4 6h0m-31-41h0m-17-12h0m3 3h0m10 49h0m-15-54h0m-20 21h0m66 16h0m-50 22h0m10-5h0m29-74h0m-27 34h0m-7 35h0m-24-23h0m88-16h0m-88 20h0m58-48h0m-7 59h0m24 1h0m-38-16h0m35 17h0m11-1h0m-11-45h0m-11 77h0m13-72h0m-28-3h0m9 54h0m23-33h0m-5 58h0m-32-41h0m2 26h0m10-5h0m-29-13h0m32 29h0m-16-83h0m37 7h0m-39 21h0m8 13h0m22-30h0m-53 17h0m66 2h0m-1 4h0m-26-2h0m-19 49h0m-22-38h0m45-20h0m1 26h0m-11-48h0m-16 61h0m-30-6h0m66-9h0m13 17h0m-4-20h0m8 8h0m-55-33h0m-35 29h0m71 8h0m7 14h0m-1-29h0m-61-24h0m-10 21h0m66 34h0m7 0h0m-21 13h0m-18-16h0m51-45h0m4 4h0m-87 34h0m69-19h0m6 34h0" stroke="#D89000" stroke-width="2.8" stroke-linecap="round" fill="none"/>
<path d="M1464 232h0m-10-36h0m19 8h0m17 30h0m-2-12h0m11-14h0m-40-21h0m1 46h0m-16-41h0m34-14h0m-12 24h0m16 20h0m-13-2h0m-4-30h0m-4-13h0m-26 31h0m43-6h0m-44 14h0m61 10h0m-37-25h0m2-18h0m-20 40h0m-4-22h0m35-12h0m-10 35h0m-3-28h0m28-16h0m-9 54h0m18-48h0m-14 30h0m-21 18h0m-9-33h0m41-12h0m-51 30h0m58-13h0m-42 2h0m-18 13h0m35-1h0m9-5h0m-7 4h0m6 13h0m15-44h0m-6 43h0m-33-6h0m-8-31h0m-8 9h0m39 31h0m-39-19h0m21-21h0m-35 11h0m56 2h0m-11-21h0m-2 49h0m-3-28h0m25 7h0m-59-17h0m9 32h0m20 3h0m-25-10h0m52 11h0m-51-23h0m-6-9h0m46 11h0m-23 17h0m11-34h0m-31 20h0m32 13h0m2-15h0m-38 8h0m38-4h0m0 18h0m21-51h0m8 20h0m-65 2h0m17 21h0m-2-37h0m15-14h0m-2 52h0m40-32h0m-74 10h0m50 16h0m-3 17h0m-7-32h0m-5 8h0m8 15h0m-25-5h0m-6-16h0m-2-21h0m33-10h0m16 31h0m-51-1h0m49 23h0m-39-40h0m13 38h0m-8-45h0m18 38h0m2 2h0m-29-6h0m-5-10h0m-1 6h0m3 4h0m28 10h0m16-7h0m-11-2h0m14 13h0m-15-25h0m4-32h0m-16 7h0m22-6h0m2 34h0m4 1h0m-25 8h0m32-22h0m-59-4h0m45 14h0m-18 28h0m1-15h0m-16-31h0m50 25h0m-25-31h0m-1-2h0m-22 15h0m-1 22h0m24-40h0m-29 42h0m27 19h0m-26-40h0m12 3h0m-4-18h0m24-10h0m-3 59h0m-18-38h0m15-3h0m-27 20h0m11-31h0m15 45h0m-10-43h0m-12 5h0m-7 17h0m14-16h0m7 9h0m-2-4h0m20-7h0m-6 22h0m27 0h0m-21 29h0" stroke="#00BF7D" stroke-width="2.8" stroke-linecap="round" fill="none"/>
<path d="M1578 246h0m-97 23h0m-9 6h0m51 22h0m-15-39h0m-8-21h0m6 3h0m50 22h0m-59 26h0m32 10h0m-33-26h0m30 39h0m-15-74h0m-36 10h0m14-16h0m-7 17h0m63 51h0m-25-46h0m-28 14h0m40-31h0m-2 17h0m49 19h0m-48 27h0m-54-12h0m61 28h0m-23-68h0m60 29h0m-75-14h0m60 35h0m-42-62h0m44 51h0m-51-58h0m35 77h0m-23-37h0m-20 36h0m-1-25h0m16-58h0m4 78h0m-39-15h0m51-16h0m8 5h0m33-31h0m-82 20h0m3-19h0m8 56h0m80-47h0m-21-25h0m14 60h0m-42-57h0m19 34h0m-28 44h0m-52-27h0m35 0h0m38 16h0m10-8h0m-69-60h0m59 76h0m29-41h0m-16 19h0m-15-13h0m-60-30h0m-10 10h0m26-13h0m-14-3h0m85 22h0m-69 5h0m53-6h0m-29-2h0m-32-5h0m-11 4h0m-16 12h0m82 10h0m-21 37h0m27-13h0m-58-74h0m-9 73h0m50-7h0m-27-7h0m12 20h0m-14-64h0m63 36h0m8-12h0m-35 17h0m8-3h0m14 13h0m-16-27h0m16-22h0m-30 39h0m-63 7h0m35 22h0m43-34h0m-46 35h0m78-38h0m-104-28h0m54 67h0m22-67h0m-32 46h0m45-33h0m-70 47h0m45-23h0m-15 13h0m29-10h0m-1-6h0m-71-9h0m49-7h0m20-24h0m3 48h0m-12-53h0m22 26h0m-6-20h0m-30 41h0m30-25h0m-30 35h0m35 5h0m-66-31h0m-15 30h0m6-32h0m74 1h0m8-14h0m-104 22h0m41 19h0m3-58h0m52 17h0m3 34h0m10-41h0m-73 26h0m-18 16h0m70-17h0m-34 15h0m-12 2h0m-36-44h0m67 17h0m-66 0h0m-11 5h0m66-7h0m-46 22h0m29 33h0m39-80h0m-75 8h0m66 4h0m30 45h0m-102-48h0m27 18h0m-16 22h0m50 23h0m9-44h0m-43-25h0m79 31h0m-41-15h0m31 14h0m-19 1h0m-24-30h0m2 47h0m32-31h0m-9 58h0m-13-79h0m-13 28h0m22 32h0m-57-35h0m-4 31h0m31-35h0m3 30h0m43-14h0m-45-22h0m0 48h0m25-32h0m1-37h0m8 62h0m-33 10h0m25-3h0m14-5h0m3 13h0m-8-63h0m-41 74h0m40-41h0m15 0h0m-72-40h0m23 30h0m51 14h0m-35-31h0m-13 0h0m-14 48h0m19-17h0m47-34h0m7 38h0m-86-12h0m70 27h0m-43-21h0m-29-28h0m15 5h0m9 39h0m15-51h0m50 35h0m-50 11h0m-47 4h0m64 22h0m-33-59h0m72 18h0m-63-15h0m-22 5h0m39-1h0m-67 25h0m9 13h0m-7-37h0m-10 8h0m46 39h0m47-64h0m-69 54h0m30-20h0m49-40h0m4 33h0m-58 3h0m32 37h0m-13-84h0m-19 34h0m-13-10h0m79 3h0m-7-12h0m-26 70h0m-50-18h0m2 7h0m-32-47h0m74 63h0m11-28h0" stroke="#F8766D" stroke-width="2.8" stroke-linecap="round" fill="none"/>
<path d="M1530 184h0m44-45h0m-69 45h0m115 27h0m-37-2h0m-60 4h0m66-57h0m3-7h0m-90 25h0m16 42h0m7-46h0m66 62h0m-6-27h0m30-70h0m23 51h0m-98-43h0m55 52h0m-6-6h0m-38 25h0m57-33h0m-48-40h0m57 37h0m8-38h0m-83 44h0m10 17h0m49-9h0m-65-14h0m-22-15h0m76 74h0m-41-59h0m73-30h0m-19-7h0m-37 20h0m52 56h0m-89-17h0m78-21h0m-27-39h0m23 72h0m-88-41h0m91 44h0m-56-47h0m17 10h0m56-2h0m-4-35h0m-116 29h0m15-11h0m106 56h0m-65-55h0m58-6h0m-101 41h0m64-54h0m51 50h0m-82 32h0m51-2h0m-90-67h0m52 71h0m4-19h0m21-29h0m-24-39h0m-26 81h0m20-39h0m12 19h0m-22-44h0m68 18h0m12 18h0m-24-12h0m-24-49h0m35 5h0m-16 16h0m-55 43h0m37-29h0m15-3h0m-67-17h0m39 18h0m55 5h0m-103 36h0m68-41h0m50 39h0m-20-35h0m-70 3h0m-12 34h0m82-65h0m-40-9h0m-37 10h0m56 46h0m-39 32h0m7 0h0m15-51h0m-29 8h0m17-10h0m13 13h0m-31 20h0m48-69h0m-8 67h0m33-29h0m-93-12h0m88 40h0m-46-57h0m17 14h0m-52 63h0m11-73h0m18 86h0m-32-83h0m51-1h0m-3 12h0m-58 40h0m44-53h0m-35 13h0m46 44h0m-21-37h0m75 5h0m-64-18h0m-18 64h0m87-31h0m-136-1h0m33-23h0m94 45h0m-21-13h0m-91 2h0m111-20h0m-66-7h0m51 13h0m-17-46h0m1 79h0m-64-61h0m28 45h0m15-14h0m-65-5h0m46-33h0m7 62h0m-11-42h0m69-13h0m-16-3h0m-58-10h0m47 67h0m-45-61h0m49 45h0m-32-26h0m31-26h0m-83 73h0m63-70h0m-17 82h0m66-21h0m-30 36h0m3-62h0m-91 2h0m113-36h0m-72 43h0m25 7h0m-19-21h0m-57 14h0m93-43h0m42 43h0m-28 15h0m-85-47h0m24 60h0m28-8h0m-20-32h0m15 21h0m-41-22h0m56 36h0m-52 1h0m54-77h0m-83 73h0m31-53h0m15 13h0m-8 34h0m59-18h0m33-13h0m0-5h0m-57 16h0m-44 35h0m65-59h0m17 36h0m-20 9h0m13-65h0m-97 58h0m108-16h0m16 23h0m-71-1h0m52 10h0m-70-39h0m-32 26h0" stroke="#39B600" stroke-width="2.8" stroke-linecap="round" fill="none"/>
<path d="M1532 161h0m15 59h0m55-42h0m-36-23h0m36 16h0m-41 4h0m18-27h0m-33 51h0m54-44h0m-17 72h0m-25-52h0m16 1h0m27 5h0m-30 45h0m-22-29h0m31 29h0m4-23h0m1 19h0m-6-32h0m-36 16h0m12 14h0m18-39h0m-12-47h0m-7 33h0m-21 8h0m-3 27h0m13-43h0m34 38h0m-20-34h0m1 13h0m-20-24h0m48 76h0m-43-43h0m50-38h0m-26 32h0m-1 37h0m20-19h0m15-37h0m-75 9h0m53 24h0m-58-19h0m29-18h0m56 38h0m-30-41h0m-50 28h0m71-36h0m-31 36h0m15-48h0m-27 83h0m34-11h0m-32-53h0m42 3h0m-38 7h0m28 15h0m-53-1h0m-7 15h0m6-40h0m40-1h0m-19 62h0m21 9h0m-32-14h0m24 5h0m1 12h0m-39-24h0m3-24h0m71 9h0m-18 2h0m-31-51h0m-37 39h0m52-7h0m-40 42h0m23-15h0m-3-39h0m44 41h0m-40-51h0m-10 39h0m32 24h0m15-30h0m-37 42h0m6-72h0m30 54h0m13-39h0m-63 39h0m29 14h0m-40-52h0m61-5h0m7-21h0m-56 30h0m24-15h0m4 37h0m-7 23h0m-28-2h0m42 10h0m10-87h0m-21 24h0m-11 51h0m5-29h0m-24-17h0m26 35h0m18 4h0m17-9h0m-12-9h0m-53-13h0m48-28h0m3 42h0m-35 4h0m39-56h0m-46 30h0m13 39h0m49-5h0m-18 20h0m-46-29h0m-1-34h0m24 2h0m33 9h0m-16 35h0m-36-33h0m-17 9h0m41 4h0m23 16h0m-50 7h0m39-16h0m-62-10h0m19-12h0m68-18h0m-59 48h0m39-10h0m-37 9h0m39-56h0m-37 79h0m35-79h0m5 60h0m-59-42h0m4 1h0m46 17h0m2-36h0m-10 48h0m29 9h0m-50-45h0m38 49h0m21-31h0m-60 41h0m6-14h0m-16 10h0m24 9h0m1-63h0m-43 19h0m43 11h0m-24-3h0m51-5h0m-23-11h0m-41 30h0m53-20h0m-7-23h0m-20-10h0m29 30h0m-44 14h0m34-44h0m-24 63h0m47-51h0m-62 45h0m55-9h0m-59 17h0m65 8h0m-25 11h0m30-62h0m-49-10h0m17 9h0m-30 31h0m38-52h0m15 59h0m-53-28h0m28-24h0m0-16h0m-33 83h0m44-1h0m-20-39h0m36-8h0" stroke="#D89000" stroke-width="2.8" stroke-linecap="round" fill="none"/>
<path d="M1455 205h0m-16 17h0m73-49h0m-5 33h0m4-26h0m22 11h0m-22-26h0m19-1h0m-30 28h0m34-33h0m4 17h0m-13 1h0m-6-4h0m-3-9h0m-4 4h0m10 39h0m12-47h0m-33 20h0m8 28h0m20-48h0m-15 55h0m26-44h0m-13 26h0m-15-3h0m13 0h0m0 5h0m-2-38h0m-27 13h0m10 46h0m11-56h0m-7 23h0m-11 1h0m7-15h0m-2 7h0m-3 5h0m39-16h0m-16-1h0m-8 45h0m0-26h0m-8 11h0m29-38h0m-24 37h0m15 1h0m11-21h0m-4 8h0m-3-8h0m-12-15h0m10 0h0m-12 28h0m-5 15h0m18-18h0m-11-5h0m-3-14h0m4 18h0m-12 31h0m13-42h0m-19 45h0m22-49h0m-14 1h0m6 33h0m-11-4h0m0 7h0m-20-33h0m19 3h0m-2 0h0m-16-15h0m3-1h0m-5 11h0m0 19h0m15-3h0m-13-23h0m13 26h0m-11-16h0m10 2h0m-13-6h0m12 25h0m6-32h0m-3 2h0m4-9h0m8 17h0m-22 14h0m6 1h0m4-30h0m6 7h0m-10-4h0m11 20h0m-22 6h0m15 0h0m-2-12h0m-13 15h0m10 4h0m-11 2h0m9-36h0m-1 21h0m4-23h0m-9 26h0m8-2h0m10-27h0m-13 24h0m-2 2h0m3-19h0m2 19h0m-6-10h0m5 24h0m-8-14h0m2 11h0m17-7h0m-5-24h0m-17 10h0m1 11h0m18-7h0m2-13h0m2-2h0m-6 25h0m0-12h0m-10 25h0m-6-22h0m14 19h0m-9-21h0m11-3h0m-8 4h0m3-13h0m5 2h0m-5 1h0m5 19h0m-12 2h0m2-12h0m-10 76h0m10 8h0m-14-16h0m14 1h0m0 4h0m-9-2h0m-9 3h0m15-11h0m-1 4h0m9-1h0m-13-7h0m14 10h0m-2 12h0m-10-3h0m9-6h0m2-1h0m-12-4h0m-9 10h0m17 6h0m-17-24h0" stroke="#00BF7D" stroke-width="2.8" stroke-linecap="round" fill="none"/>
<path d="M1561 228h0m24 50h0m-25-42h0m-53 47h0m56-8h0m-93-28h0m72 54h0m31-55h0m-61 14h0m12-22h0m-6 46h0m-9 14h0m-13-56h0m44 71h0m29-51h0m-2 24h0m-77-28h0m71 17h0m-92 1h0m25 6h0m76-14h0m-92-15h0m58 62h0m-67-34h0m54-38h0m-45 12h0m85-26h0m-35 55h0m-17 11h0m26 3h0m-54-31h0m31-29h0m56 53h0m-14-25h0m23-14h0m-46 52h0m6 0h0m0-47h0m-38 14h0m37-5h0m24 2h0m22-19h0m-32-13h0m-6 6h0m-41 50h0m17-21h0m18-16h0m4 28h0m-8-43h0m-4 68h0m-54-60h0m33 26h0m60 10h0m-97-26h0m16 21h0m-17-8h0m44-3h0m-16-17h0m-20 19h0m32-20h0m58-2h0m-52 59h0m-34-12h0m1-12h0m77-15h0m-52 26h0m49-7h0m-36-40h0m-16 16h0m-15-7h0m33 19h0m-39-35h0m9 53h0m15 5h0m51-66h0m-19 6h0m-26 70h0m-14-71h0m20 65h0m-22-26h0m-1-4h0m-33-18h0m94 21h0m-25 40h0m9-69h0m-40 27h0m53-4h0m-70 26h0m38-54h0m-39 53h0m35-3h0m-11-22h0m7 37h0m51-47h0m-10 31h0m-69 7h0m-18-46h0m83 51h0m-80-59h0m84 56h0m-52-13h0m56-23h0m-18 18h0m13-1h0m15-11h0m-7-23h0m-78 0h0m21 30h0m-32 13h0m35 22h0m-18-83h0m48 71h0m2-74h0m-12 4h0m-36-4h0m-9 51h0m8-6h0m48 34h0m31-56h0m-59 31h0m68 5h0m-2-31h0m-59 47h0m-19-59h0m-25 21h0m15 35h0m-11-56h0m23-4h0m59 44h0m-98-19h0m120 13h0m-111-28h0m57 11h0m0 22h0m45-48h0m-96 62h0m41-64h0m60 37h0m-103 13h0m68-16h0m-11-25h0m-21 27h0m-17-6h0m60-33h0m-35 70h0m2-53h0m-40 39h0m23-15h0m37-40h0m-48-13h0m87 4h0m-48 12h0m23 4h0m36-23h0m-25 26h0m-44 3h0m4-21h0m49 19h0m-62-17h0m12 7h0m76 2h0m-28-15h0m-5 3h0m-62 1h0m-8 2h0m-12-8h0m61 14h0m1-4h0m17 1h0m-78 6h0m39-5h0m23 6h0m3 9h0m-21-26h0m-10-1h0m64 1h0m0 3h0m-94-2h0m53 23h0m50-16h0m-19-4h0m-85 15h0m60-4h0m21 13h0m2-8h0m-82-19h0m63 4h0m-42 13h0m47-5h0m-65-15h0m4 16h0m64-17h0m-54 25h0m-2-19h0m-7 3h0m87 22h0m-37-6h0m-26-18h0m-15 8h0m49 12h0m-24 3h0m2-9h0m-39 8h0m20-22h0m58 7h0m-85 12h0m31 5h0m19-25h0m-43 18h0m12-19h0m8 26h0m-3-27h0m83 13h0m-63-10h0m-33 10h0m18 1h0m0-1h0m27 11h0m116-118h0m55-18h0m-108 149h0m8-10h0m-16-8h0m41 27h0" stroke="#F8766D" stroke-width="2.8" stroke-linecap="round" fill="none"/>
<path d="M1550 221h0m38-71h0m-81 43h0m41 0h0m-17 21h0m88 11h0m-97-10h0m0-14h0m79 15h0m-16-84h0m-28 69h0m-39-24h0m84-20h0m-24 49h0m-1 12h0m-13-61h0m26 34h0m21-19h0m7 48h0m-17-80h0m-91 56h0m80 30h0m-71-22h0m55-78h0m-54 73h0m41 18h0m5 9h0m21-97h0m-10 60h0m-78-11h0m119-24h0m-95 62h0m54 15h0m-25-63h0m-8 38h0m-43-21h0m104-1h0m-89 5h0m76-45h0m-18-12h0m11-2h0m11 101h0m-47-95h0m65 16h0m6 15h0m-20-34h0m26 22h0m-27-6h0m-98 19h0m17 20h0m0-17h0m75 30h0m0-36h0m27-18h0m-1 54h0m-20 16h0m-31-31h0m41-39h0m-99 53h0m72-31h0m-5-43h0m35 70h0m-67 13h0m45-42h0m4-3h0m-79 9h0m14 15h0m15 14h0m76-25h0m-57 42h0m18-74h0m-4-1h0m-35 45h0m-24-32h0m59-18h0m-23 2h0m10 50h0m14-40h0m17-14h0m-54 1h0m-17 57h0m42-4h0m-36-33h0m-29 16h0m102-22h0m1 30h0m-83-17h0m65 25h0m13 49h0m-66-77h0m64-9h0m29 17h0m-89 17h0m41-55h0m-66 31h0m70 10h0m39 29h0m-51-6h0m-1-54h0m17 7h0m-25-21h0m9 87h0m-53-40h0m56 45h0m55-33h0m-55 34h0m36-38h0m-41-28h0m71 27h0m-12-35h0m-24 37h0m-75-5h0m47 49h0m-10-34h0m36 14h0m-22-19h0m-8-45h0m1-14h0m3 38h0m11 50h0m29-3h0m-11-77h0m29 54h0m-47 15h0m-83-48h0m114-15h0m-24 92h0m-27-2h0m-20-1h0m41 2h0m-78 18h0m21-4h0m-11-10h0m68 18h0m-53-3h0m7-15h0m-9-4h0m6 8h0m60-9h0m-32 9h0m4 12h0m-16-5h0m-29 8h0m49-25h0m-51 18h0m-35-16h0m2 18h0m71-17h0m-9 24h0m-42-12h0m76 9h0m-64-8h0m29-8h0m-18 7h0m28 1h0m1 5h0m25-17h0m2-4h0m1 28h0m-97-3h0m89-1h0m-16-10h0m12-8h0m-52 11h0m32 2h0m-70 1h0m60-4h0m-30-5h0m-24-12h0m9 12h0m37-9h0m44 4h0m64-29h0m12 5h0m-20 13h0m-15 35h0m101 211h0m4 8h0m5-12h0m-13 30h0m23-5h0m-45-255h0m-32-18h0" stroke="#39B600" stroke-width="2.8" stroke-linecap="round" fill="none"/>
<path d="M1536 185h0m21-41h0m-10 73h0m0-37h0m36-42h0m-11 19h0m23 30h0m-52-14h0m53 2h0m10-13h0m-33 57h0m-4-2h0m-24-39h0m2-35h0m32 84h0m-12-51h0m24-32h0m-50 32h0m28-11h0m13 43h0m-18 17h0m-11-51h0m-27 19h0m66-21h0m-11 38h0m5-1h0m0-67h0m-52 57h0m33-51h0m-53 42h0m16 23h0m-1-36h0m37 6h0m-26 32h0m-6-56h0m23 4h0m48 33h0m-4-60h0m-41 5h0m-17 45h0m40-6h0m-23-28h0m-21 54h0m30-10h0m31 6h0m-21 16h0m-31-61h0m-21 53h0m23-36h0m-14-3h0m-9 15h0m60-24h0m-37 5h0m32 25h0m-39-18h0m7 48h0m35-60h0m-9 21h0m-3-43h0m-21 41h0m-2-41h0m33 47h0m-35 18h0m40-37h0m-17 15h0m19-48h0m-72 37h0m71 11h0m-42-35h0m3 7h0m13-9h0m27-11h0m12 5h0m-15 24h0m-49 20h0m50 11h0m6-37h0m-44 43h0m43-34h0m-65 41h0m61-11h0m-35 23h0m53-48h0m-6-7h0m-38 42h0m11-19h0m-17 14h0m44-41h0m-40 43h0m36 6h0m0-69h0m7 42h0m-15 6h0m-44 26h0m40-6h0m-31-68h0m5 28h0m36-23h0m-26 53h0m34-52h0m-57 67h0m-15-48h0m13 32h0m58-28h0m4 9h0m0-21h0m-15 42h0m3-21h0m-27-11h0m11-32h0m-19 48h0m-13-13h0m27 26h0m18 6h0m-47-39h0m34-14h0m-14 4h0m38 39h0m-70 17h0m75-54h0m-12-18h0m-4 28h0m-30-30h0m-37 45h0m57 37h0m8-41h0m-34 27h0m-17-22h0m23-14h0m31 55h0m-31-26h0m13 26h0m6-6h0m-10-56h0m-11 13h0m-7 25h0m-15-11h0m33-36h0m-11 49h0m11-3h0m-34-7h0m15 55h0m29-8h0m-52 10h0m-22 9h0m22-13h0m23-4h0m3-1h0m-18 16h0m42-13h0m-60 6h0m-14 5h0m47-17h0m6 1h0m15 2h0m-48 17h0m-17-12h0m50 1h0m-32 13h0m5-18h0m6 8h0m-14-3h0m-8-10h0m19 4h0m50 0h0m-68 4h0m25-6h0m-24-1h0m3 16h0m17-3h0m48-4h0m-70-8h0m16 18h0m26-5h0m-10 0h0m24-3h0m135-141h0m-139 16h0m-3 4h0" stroke="#D89000" stroke-width="2.8" stroke-linecap="round" fill="none"/>
<path d="M1679 235h0m21 13h0m-31-7h0m9 22h0m14 11h0m-11-25h0m21 9h0m-31 1h0m23-14h0m4 36h0m-22-27h0m15 15h0m-8-1h0m0-9h0m3-5h0m-19 12h0m29-4h0m-13-30h0m16 47h0m-41-15h0m45 6h0m-36-5h0m32-33h0m13 12h0m-59 17h0m52-9h0m-25 5h0m-14 9h0m36-22h0m-48 19h0m43 7h0m-17 11h0m-3-21h0m17-15h0m-30 32h0m26-20h0m-2-10h0m11 21h0m-32-28h0m-9 13h0m34-9h0m-5 26h0m-9 3h0m-11-4h0m8-26h0m-14 15h0m38-11h0m-9 8h0m-8 27h0m-2-13h0m11-25h0m7-2h0m4 21h0m-40 1h0m22-25h0m-2 16h0m-15-3h0m13 25h0m9-42h0m17 12h0m-7 21h0m-16 7h0m17-34h0m-16 6h0m-20 11h0m42 7h0m-41 5h0m32-6h0m5 10h0m-25-24h0m22 18h0m-40-14h0m32 12h0m16-25h0m-16 4h0m1 8h0m-14-16h0m17 40h0m-3-16h0m-13 20h0m22-43h0m-9 4h0m5 14h0m-40 11h0m7-9h0m38 8h0m-32-5h0m16-9h0m19-5h0m-17-14h0m-18 44h0m-2 1h0m12-20h0m18 21h0m6-32h0m4-1h0m-31 23h0m1-17h0m4 8h0m-15-7h0m2 29h0m25-42h0m10 2h0m-38 11h0m18 23h0m-17-30h0m16 8h0m17 8h0m9 4h0m-20-33h0m21 24h0m-33 15h0m18-32h0m-9 16h0m-8-11h0m29 20h0m-39 10h0m33-41h0m-28 32h0m15-33h0m-9 15h0m-11 1h0m39 19h0m-28 1h0m2 9h0m3-43h0m9 47h0m4-29h0m-3 29h0m-1-35h0m-8 22h0m-24-21h0m5 27h0m3-28h0m-14 14h0m9 18h0m25-20h0m-3 24h0m-10-7h0m-1-3h0m12-30h0m-24 16h0m6 19h0m35-15h0m-11 7h0m-30 2h0m1-14h0m13-2h0m12-1h0m22-1h0m-31 18h0m14-23h0m17 11h0m-30 25h0m-10-30h0m-1-5h0m-6 2h0m39 6h0m-5 19h0m10-33h0m-8-8h0m-9 47h0m18-20h0m-29-27h0m3 30h0m2-17h0m-22 25h0m17-24h0m-19 13h0m12-21h0m13 9h0m-24-5h0m25 39h0m16-42h0m-44 15h0m17 24h0m-8-33h0m-3 12h0m11 8h0m4-13h0m-2 10h0m-8-19h0m12-11h0m17 28h0m-19-28h0m-4 19h0m-9 10h0m18-9h0m-11 2h0m29 14h0m-35-24h0m9-5h0m31-4h0m4 13h0m-22-1h0m5 17h0m-39-4h0m10-21h0m30-12h0m-22 31h0m-7 4h0m19-16h0m-22 2h0m23-18h0m16 12h0m-23 39h0m6-16h0m4 10h0m8 0h0m-18-7h0m30-7h0m-8-3h0m-16 19h0m-6-37h0m-21 9h0m42-7h0m-37 14h0m25 11h0m20-23h0m-9 26h0m-12-22h0m14 20h0m-5-1h0m-11 2h0m-6-8h0m3-3h0m-12-18h0m-8 26h0m12-31h0m28 31h0m-32-32h0m16-3h0m3 1h0m16 26h0m-15 19h0m4-3h0m-5-26h0m6-1h0m-18 17h0m5-3h0m-4 7h0m-17-6h0m20-16h0m9-8h0m-27 9h0m43-8h0m-6 14h0m-8-22h0m-7 42h0m4 4h0m5-1h0m-26-25h0m26-13h0m-20 32h0m-8 4h0m16 7h0m0-25h0m20-8h0m-10-4h0m-24 1h0m4 33h0m0-8h0m23-24h0m-25 2h0m16 33h0m-12-35h0m16-2h0m10 22h0m-21-35h0m-11 43h0m37-23h0m-41-3h0m25 11h0m-27-17h0m23 6h0m-19-2h0m14 7h0m-4 13h0m-7-3h0m23-13h0m-37 5h0m15 4h0m13-27h0m-26 19h0m5-10h0m32 19h0m-14-16h0m0-11h0m8 10h0m8 11h0m-12-9h0m-20-3h0m15 31h0m-10-6h0m25-24h0m8-7h0m-25 15h0m22 0h0m4 4h0m126 141h0m2 2h0m-182-205h0m-7 13h0m12 15h0m-15 10h0m-10 4h0m-8 8h0m15 3h0m-20-44h0m17 62h0m26-42h0m88 266h0m15-14h0m43-29h0" stroke="#00B0F6" stroke-width="2.8" stroke-linecap="round" fill="none"/>
<path d="M1769 535h0m-45-29h0m36-2h0m-6-21h0m-26 22h0m32-14h0m-4 7h0m15 30h0m-27-30h0m-19 7h0m26 16h0m2-29h0m29 40h0m-34-17h0m11-22h0m33 16h0m3-6h0m-21 31h0m-9-38h0m-24-8h0m1 32h0m28 6h0m-26-25h0m1 25h0m-5-36h0m24 0h0m17 9h0m-13 22h0m11-31h0m7 8h0m-22 38h0m1-36h0m-22 7h0m25-10h0m-2 44h0m-9-53h0m-12 41h0m24-37h0m-20-3h0m5 5h0m-6 8h0m14 5h0m27 17h0m-37 13h0m4 1h0m7-36h0m-8 20h0m-10-36h0m8 30h0m-3-20h0m10 39h0m0-50h0m-5 30h0m12-20h0m11 8h0m-30-1h0m35 13h0m-21-29h0m-30 17h0m61 10h0m-5 16h0m-15-4h0m17-21h0m-60 5h0m27 22h0m19 3h0m-46-23h0m63 17h0m-41-42h0m-11 3h0m24 40h0m-9-36h0m-4-7h0m18 56h0m4-20h0" stroke="#9590FF" stroke-width="2.8" stroke-linecap="round" fill="none"/>
<path d="M1840 474h0m-43 42h0m13 11h0m16-35h0m9-3h0m-22 14h0m-9 30h0m-29-2h0m35-38h0m-22-12h0m37 32h0m10-32h0m-44 9h0m25-21h0m-31 15h0m45 29h0m-20-2h0m-14 33h0m-9-36h0m16-28h0m20 9h0m2 25h0m-5 8h0m-38-41h0m62 30h0m-23 17h0m26-48h0m-64 26h0m32 4h0m19 2h0m3-13h0m-13-28h0m-13 32h0m18-16h0m-19 51h0m11-18h0m-26-1h0m30-26h0m4 0h0m18-6h0m-43-4h0m25 0h0m6 5h0m-65 13h0m6 15h0m10-6h0m-11 29h0m53-42h0m-4 15h0m-16-44h0m-18 19h0m-13 47h0m4 10h0m-10-33h0m64 1h0m-16-26h0m-47 39h0m17-4h0m43-10h0m-22-38h0m23-3h0m-13 24h0m-27 43h0m7 4h0m11-19h0m-26 8h0m39-47h0m12 21h0m-60 34h0m12-12h0m2-37h0m16 26h0m42-44h0m-51 8h0m0 15h0m32 28h0m-9-42h0m-24 50h0m15 12h0m-29-21h0m31-53h0m25 24h0m-27 18h0m29-33h0m-26 22h0m22 15h0m10-4h0m-18-31h0m-40 20h0m42 3h0m-38-22h0m-11 15h0m24-9h0m-23 57h0m36-40h0m-11-10h0m41-11h0m-6-1h0m4 3h0m-26 9h0m-33 21h0m48-32h0m-59 36h0m20-40h0m33 52h0m-24-18h0m-3 7h0m-2 22h0m32-77h0m-13 13h0m26-24h0m4 43h0m-54 14h0m27-39h0m11-4h0m-53 46h0m68-33h0m-69 37h0m71-29h0m-58-2h0m52-16h0m-46 37h0m25 1h0m-26-32h0m6 7h0m3 0h0m14 9h0m9 19h0m-27 35h0m18-72h0m-26 69h0m19-16h0m33-45h0m-2 33h0m-14-36h0m-57 50h0m50-63h0m6 1h0m-29 35h0m40 18h0m-40 9h0m42-52h0m-29 65h0m-31-50h0m62 6h0m5-2h0m-75 32h0m73-47h0m-2 32h0m-55 6h0m5 5h0m40-26h0m-13-7h0m15 1h0m-47 4h0m6 19h0m8-37h0m-13 0h0m51 6h0m0 23h0m-47-30h0m-4 60h0m31-71h0m-1 26h0m12 3h0m-43 26h0m37 0h0m-31 3h0m35-12h0m-33 31h0m47-36h0m-2-46h0m0 41h0m-48-22h0m25 18h0m16 15h0m-57 3h0m-1 27h0m12-51h0m-2 54h0m-4-65h0m5 67h0m19-41h0m15-9h0m-48 24h0m58-24h0m7-25h0m-38 61h0m-30-3h0m53-11h0m-1 0h0m2-30h0m21 12h0m-68 36h0m58-45h0m6-18h0m-34 68h0m-14-3h0m-3 6h0m-13-30h0m40-42h0m-10 51h0m-25 1h0m61-49h0m-36 17h0m1 26h0m2-15h0m8 31h0m6-39h0m-3-1h0m-8 38h0m-25-58h0m47 15h0m6-40h0m-31 60h0m-5-9h0m20-15h0m8-18h0m-18 53h0m-7-39h0m8 25h0" stroke="#A3A500" stroke-width="2.8" stroke-linecap="round" fill="none"/>
<path d="M1726 505h0m22 6h0m31-20h0m-32 21h0m32-13h0m-34-4h0m-15 11h0m53-12h0m-16 7h0m11 29h0m2 6h0m-9-4h0m-6-8h0m13 16h0m4-34h0m-29 2h0m38 2h0m-42-23h0m13-3h0m34 19h0m-14 20h0m-39-18h0m3-17h0m7 44h0m-15-42h0m33-3h0m-42 16h0m21-1h0m26 4h0m-11-9h0m-16 6h0m26-10h0m-21 26h0m38-11h0m1 2h0m-61-11h0m37-1h0m4 4h0m-21 36h0m-14-15h0m50-27h0m-20 31h0m21-7h0m4-20h0m-29 33h0m-2 8h0m-3-32h0m-13-14h0m32 11h0m-46 4h0m33-6h0m-24-11h0m6 32h0m27-6h0m-32 7h0m-12-24h0m28 28h0m-9-1h0m25-10h0m-29-8h0m17-26h0m-17 45h0m20 7h0m-15-16h0m7-4h0m10 0h0m-31-14h0m51 1h0m-35 19h0m6-42h0m3 16h0m-13 34h0m-9-40h0m26 29h0m11-17h0m-26 21h0" stroke="#9590FF" stroke-width="2.8" stroke-linecap="round" fill="none"/>
<path d="M1827 465h0m-8 13h0m-36 13h0m52 21h0m-38 1h0m-17-27h0m50 36h0m16-38h0m-21 17h0m-6 24h0m-28-33h0m1-11h0m32-10h0m-49 14h0m67-20h0m-5 43h0m-3 5h0m11-1h0m-50-36h0m30 4h0m-49 61h0m14-44h0m22-3h0m-39 34h0m17-33h0m18 24h0m34-12h0m-29 30h0m-31-35h0m21 3h0m-14 40h0m30-61h0m-1 28h0m9 10h0m-19-19h0m23 14h0m-56 8h0m39-15h0m-36-22h0m22 31h0m-18 22h0m-7-19h0m32-45h0m16 15h0m-52 42h0m27-6h0m-22-10h0m21-41h0m2 19h0m-2-3h0m27 35h0m-48-3h0m70-20h0m-37-25h0m11-4h0m5 44h0m7-30h0m-40-9h0m38 18h0m-16-33h0m-16 44h0m17-32h0m-10 8h0m34-12h0m-54 46h0m33-39h0m-22 54h0m26-56h0m-1 48h0m-5-11h0m-3-14h0m-44 13h0m41-18h0m32 5h0m-49 34h0m-4-39h0m42-36h0m-54 27h0m48 28h0m-34 17h0m23-43h0m-11 6h0m35 1h0m-49 47h0m21-13h0m36-68h0m-12 45h0m-41-27h0m5 3h0m12 31h0m9-42h0m-7 57h0m-23-12h0m54-67h0m-57 30h0m19 32h0m43-6h0m-19-44h0m15-13h0m-19 43h0m-15-21h0m7 43h0m-21 24h0m26-45h0m-51 28h0m57-3h0m-26-48h0m-7 15h0m25 43h0m-43-44h0m25 42h0m19-4h0m3-47h0m1-4h0m-30 52h0m13-35h0m-26 22h0m0-12h0m11 24h0m31-12h0m-45-27h0m62 31h0m4-46h0m-21 36h0m7 10h0m-42 22h0m46-25h0m-55-7h0m14-15h0m-13 42h0m46-60h0m-23 24h0m-5-23h0m-6 63h0m46-65h0m-49 67h0m52-40h0m-15 17h0m-6-36h0m27 22h0m-35-13h0m31-34h0m-64 82h0m64-25h0m-13-21h0m3-3h0m-34-9h0m-20 56h0m22-22h0m47-19h0m-19 20h0m-41 16h0m57-29h0m-27 32h0m-5-52h0m23-17h0m-27 24h0m-29 23h0m67-26h0m-48 36h0m25-10h0m-32-36h0m-15 29h0m63 16h0m-69 19h0m49-64h0m-18 9h0m20 10h0m-26 53h0m14-31h0m-27 17h0m45-27h0m-11 17h0m5-45h0m14-14h0m-66 55h0m7 5h0m35-8h0m1-8h0m-24-13h0m0 41h0m-6-3h0m26 0h0m-21-3h0m-18-4h0m23-13h0m-19 12h0m18-49h0m29 18h0m22 6h0m-5-11h0m-23 25h0m-1-14h0m-16 24h0m-20 7h0m4-23h0m-12 30h0m53-37h0m1-7h0m-21 50h0m16-35h0m20-4h0m-25-23h0m15 9h0m-51 0h0m47 41h0m-15-59h0m21 25h0m-30 3h0m12 25h0m-27-37h0m44 41h0m-38-24h0m38-37h0m6 50h0m-41-31h0m32 6h0m-40 55h0m18-13h0m-25-8h0m7-44h0" stroke="#A3A500" stroke-width="2.8" stroke-linecap="round" fill="none"/>
<path d="M1765 497h0m15 34h0m-37-12h0m-4-20h0m11 7h0m15-13h0m-5 8h0m12 24h0m-18 14h0m35-32h0m-22 5h0m-24-3h0m39 12h0m-1 1h0m-27-31h0m-4 43h0m-12-19h0m21-8h0m19-5h0m-1 16h0m-1-22h0m-29-2h0m24 49h0m15-44h0m-34-9h0m19 18h0m-11-6h0m38 7h0m-41 3h0m-10-17h0m38-1h0m-37 4h0m-21 5h0m15 5h0m33 10h0m18-18h0m-55-10h0m1 7h0m30 25h0m-34 0h0m10-15h0m21 25h0m-31-19h0m7-8h0m29-18h0m-25 10h0m1 32h0m24-45h0m-27 36h0m31-31h0m-20 19h0m-11 19h0m18-29h0m15 33h0m-28 3h0m27-6h0m-37-7h0m36 8h0m-5-29h0m10-12h0m-26 2h0m-8 3h0m10-11h0m28 36h0m-15-28h0m-6 10h0m-32-7h0m29 44h0m33-30h0m-12 2h0m-143-331h0m2 8h0m-6 14h0m214 255h0m-51 15h0m-15 8h0" stroke="#9590FF" stroke-width="2.8" stroke-linecap="round" fill="none"/>
<path d="M1791 489h0m0 39h0m29-4h0m-45 9h0m42-41h0m-13-12h0m2 59h0m5-19h0m-11-2h0m7-30h0m20 2h0m-41 4h0m19-24h0m6 18h0m-9 33h0m15-38h0m5-14h0m-20 42h0m22 12h0m-33 21h0m-1-22h0m-7 3h0m27-13h0m20-9h0m-20 36h0m-12-13h0m4-36h0m-27-7h0m23 41h0m20 1h0m1-36h0m13 9h0m-48 46h0m23-12h0m33-76h0m8 37h0m-20-3h0m-2 18h0m-19 27h0m13-41h0m-45 45h0m6-50h0m30-20h0m14 58h0m-11-21h0m-13-6h0m-4 35h0m-26-16h0m78-12h0m-13-46h0m-20 55h0m-32-2h0m18 5h0m4-2h0m33-15h0m-19 30h0m4-67h0m-14 71h0m27-42h0m-44 16h0m52 2h0m-18-19h0m17 9h0m-48-25h0m-15 8h0m6 41h0m58-33h0m-29-16h0m-11 49h0m-9 2h0m7-28h0m-5 28h0m-3-18h0m7-34h0m-11 22h0m44 9h0m12-13h0m-71-3h0m12 34h0m15-20h0m20-23h0m-28 27h0m-3-24h0m-20 56h0m53-30h0m-2-13h0m-33 22h0m-15-6h0m51-28h0m-28 6h0m15-20h0m11 14h0m18 11h0m-24 38h0m-42-37h0m12-21h0m57-9h0m-37 50h0m-36-18h0m32-28h0m38 5h0m-33 30h0m27-12h0m-63-1h0m1 23h0m52 8h0m-1-36h0m8 18h0m-28 33h0m38-48h0m-20-10h0m14 21h0m-43-9h0m55 0h0m-51 51h0m-15-8h0m-12-10h0m75-17h0m-51-13h0m50 3h0m-53-25h0m-5 54h0m55-23h0m-34-6h0m-8 29h0m25-23h0m-8 16h0m28-64h0m-40 42h0m14-16h0m-10 1h0m14 27h0m-18-4h0m14 10h0m23-28h0m-17-27h0m7 58h0m18-38h0m-2-17h0m-38 64h0m-15-2h0m42-66h0m-40 70h0m9-46h0m9 13h0m-16 27h0m-23-36h0m31 16h0m-29 22h0m28-31h0m-28 20h0m55-24h0m-23 32h0m14-43h0m-29 10h0m50-1h0m-45 17h0m-17 22h0m-6-36h0m9 13h0m14-11h0m3 47h0m4-9h0m36-76h0m-62 40h0m-9 21h0m11 9h0m4-15h0m22 25h0m-6-65h0m-11 28h0m28-33h0m-24 53h0m-8 11h0m3-53h0m45 22h0m-33 39h0m-14-34h0m46-9h0m-11 17h0m9-52h0m-53 83h0m59-110h0m-5 9h0m8 11h0m-7-19h0m3 11h0m2-3h0m6 2h0m-1-8h0m-9-1h0m10 10h0m-3-4h0m-8-6h0m5 2h0m3-2h0m-1 8h0m-4 6h0m-5-11h0m6-1h0m1-12h0m-5 23h0m11-3h0m-1-7h0m-4 17h0m5-17h0m-7 16h0m-5-3h0m0-19h0m7-7h0m1 4h0m-4 1h0m1 14h0m1-17h0m6 19h0m-10-14h0m1 5h0m4-8h0m-6 1h0m10 9h0m-8-9h0" stroke="#A3A500" stroke-width="2.8" stroke-linecap="round" fill="none"/>
<path d="M1896 466h0m-39-11h0m30-1h0m21 8h0m-39-2h0m36-5h0m-12 14h0m6-3h0m-37 10h0m40-11h0m5-8h0m-44 21h0m-3-14h0m23-13h0m9 16h0m-13-5h0m6 7h0m3-21h0m-5 30h0m3-24h0m-9 3h0m-12 2h0m0 1h0m17 1h0m-8 20h0m6-26h0m-5 3h0m3 23h0m-10-12h0m5 9h0m18-14h0m11-3h0m-6 3h0m-2-6h0m10 9h0m-31 8h0m-1-13h0m12 0h0m-25-8h0m15 4h0m-8 21h0m-8-13h0m49 0h0m-39-11h0m-1 11h0m24 0h0m-8 8h0m-9-2h0m36-3h0m-43 4h0m-5-8h0m36-1h0m0-2h0m-24 16h0m-7-17h0m-6 8h0m8 5h0m-1-15h0m10 6h0m29-8h0m-33 10h0m15-18h0m-22 16h0m20 8h0m-3 3h0m-2 2h0m6-17h0m-12-4h0m-4 2h0m35 10h0m-22-1h0m-17-12h0m31 4h0m-31 8h0m28-1h0m-24-15h0m29 1h0m-21 16h0m7 1h0m15-1h0m-27-16h0m-15 12h0m32-9h0m-23-2h0m-1 21h0m6 4h0m27-19h0m-23-7h0m13 5h0m-12 11h0m0-10h0m-20 16h0m1-11h0m47-7h0m-45 23h0m17-28h0m3 18h0m-12 5h0m7-14h0m4 10h0m-4 4h0m-13-13h0m26-6h0m-23 5h0m26-7h0m-3-4h0m-30 22h0m2 1h0m20-12h0m20 7h0m-8 0h0m-20-6h0m-6 4h0m6-7h0m-1-8h0m7 4h0m-6 10h0m32-9h0m-31 14h0m4-9h0m-9 20h0m37-28h0m-29-3h0m18 16h0m-16-5h0m-17 2h0m23-2h0m14 0h0m-12 16h0m-28-18h0m35 8h0m-31-12h0m16 15h0m21-16h0m-2 17h0m-31 8h0m-4-25h0m36 2h0m-14 11h0m-3-2h0m15-8h0m-16 12h0m1 9h0m-2-3h0m21-9h0m-34 5h0m29-10h0m5-9h0m-22 23h0m16-13h0m8-4h0m-41 1h0m7 0h0m12 8h0m-15-12h0m-4 17h0m-4-25h0m5-23h0m15 2h0m-21-7h0m-8 13h0m-1-17h0m-3 12h0m6-1h0m8 5h0m-13 12h0m6 0h0m10-6h0m3-5h0m-15-10h0m2 3h0m17 4h0m-11 13h0m-15-5h0m4-22h0m17 11h0m-18-9h0m2-2h0m26 8h0m-30 7h0m12-9h0m13 1h0m-1 5h0m-25-13h0m12 9h0m-3-8h0m6 32h0m10-27h0m-15 6h0m13 12h0m-20 6h0m15-16h0m9 2h0m-7 8h0m-4 8h0m28-24h0m-3-7h0m4 5h0m1 1h0m1 2h0m-7-7h0m4-4h0m4 12h0m-6-10h0m2 8h0m-1-9h0m5 10h0m-6-4h0m-1-1h0m2 0h0m2-6h0m0 1h0m1 9h0m-5 0h0m2-8h0m-39 66h0m12 12h0m5 8h0m-45-30h0m-8-5h0" stroke="#E76BF3" stroke-width="2.8" stroke-linecap="round" fill="none"/>
<text x="1566.0" y="19.0" font-size="22.3" text-anchor="start" fill="#000">RNA cell clustering</text>
<text x="1777.0" y="62.0" font-size="22.3" text-anchor="start" fill="#000">Plasma</text>
<text x="1536.0" y="90.0" font-size="22.3" text-anchor="start" fill="#000">Memory</text>
<text x="1539.0" y="116.0" font-size="22.3" text-anchor="start" fill="#000">CD4<tspan font-size="13.8" dy="-8.0">+</tspan><tspan dy="8.0"> T</tspan></text>
<text x="1451.0" y="158.0" font-size="22.3" text-anchor="start" fill="#000">NK</text>
<text x="1658.0" y="185.0" font-size="22.3" text-anchor="start" fill="#000">Na<tspan dx="3.1">ï</tspan><tspan dx="-8.1">ve</tspan> CD4 <tspan font-size="13.8" dy="-8">+</tspan><tspan dy="8"> T</tspan></text>
<text x="1643.0" y="304.0" font-size="22.3" text-anchor="start" fill="#000">Memory B</text>
<text x="1672.0" y="330.0" font-size="22.3" text-anchor="start" fill="#000">cells</text>
<text x="1448.0" y="343.0" font-size="22.3" text-anchor="start" fill="#000">TRM CD8<tspan font-size="13.8" dy="-8.0">+</tspan><tspan dy="8.0"> T</tspan></text>
<text x="1849.0" y="391.0" font-size="22.3" text-anchor="start" fill="#000">TAM</text>
<text x="1702.0" y="454.0" font-size="22.3" text-anchor="start" fill="#000">Monocyte-1</text>
<text x="1623.0" y="542.0" font-size="22.3" text-anchor="start" fill="#000">Monocyte-2</text>
<path d="M1412 563V418M1412 563H1600" stroke="#000" stroke-width="2.2" fill="none"/>
<path d="M1403.5 418L1412 392L1420.5 418Z" fill="#000"/>
<path d="M1600 554.5L1626 563L1600 571.5Z" fill="#000"/>
<text transform="translate(1407 532) rotate(-90)" font-size="19.6">UMAP 2</text>
<text x="1432.0" y="587.0" font-size="19.6" text-anchor="start" fill="#000">UMAP 1</text>
<g transform="translate(209.5 693.3) scale(29.55 31.27)" stroke-width="1.02" fill="none" shape-rendering="crispEdges"><path stroke="#926aff" d="M0 0.5h2M0 1.5h1M4 1.5h1M12 6.5h1M13 7.5h1M18 8.5h1M16 9.5h1M14 10.5h1M7 11.5h1M15 11.5h1M15 12.5h1"/><path stroke="#a885ff" d="M2 0.5h1M2 1.5h1M7 3.5h2M23 3.5h1M23 5.5h1M15 9.5h1M3 10.5h1M23 11.5h1M12 12.5h1"/><path stroke="#552aff" d="M3 0.5h1M9 4.5h1M18 11.5h1M21 12.5h2"/><path stroke="#875cff" d="M4 0.5h1M9 3.5h1M6 6.5h1M16 11.5h1M2 12.5h1M7 12.5h1"/><path stroke="#d6c2ff" d="M5 0.5h1M19 0.5h1M19 1.5h1M19 2.5h1M19 3.5h1M7 4.5h1M14 4.5h1M19 4.5h1M4 5.5h1M19 5.5h1M5 6.5h1M9 6.5h1M16 6.5h5M22 6.5h1M21 7.5h1M4 8.5h2M10 8.5h1M19 8.5h1M6 9.5h1M11 9.5h2M7 10.5h1M11 10.5h1M18 10.5h1M20 10.5h2M5 11.5h1M10 11.5h1M19 11.5h1M3 12.5h1M13 12.5h2M16 12.5h1"/><path stroke="#c6aaff" d="M6 0.5h1M10 1.5h1M10 6.5h1M8 7.5h1M11 8.5h1M17 8.5h1M21 8.5h1M2 10.5h1M0 12.5h1M11 12.5h1"/><path stroke="#ceb6ff" d="M7 0.5h1M7 1.5h1M4 2.5h1M11 2.5h1M0 4.5h1M11 4.5h1M23 4.5h1M3 6.5h1M12 8.5h1M16 8.5h1M2 9.5h2M10 10.5h1M12 10.5h1M15 10.5h1M19 10.5h1M12 11.5h2M20 11.5h1M4 12.5h1M9 12.5h1"/><path stroke="#fdfcff" d="M8 0.5h1M4 4.5h1M7 7.5h1"/><path stroke="#deccff" d="M9 0.5h1M11 0.5h1M13 0.5h1M20 0.5h1M3 1.5h1M6 1.5h1M9 1.5h1M11 1.5h1M13 1.5h1M18 1.5h1M20 1.5h2M7 2.5h1M9 2.5h1M13 2.5h2M18 2.5h1M20 2.5h1M5 3.5h1M13 3.5h1M15 3.5h1M18 3.5h1M20 3.5h2M13 4.5h1M15 4.5h1M18 4.5h1M20 4.5h1M9 5.5h1M11 5.5h1M13 5.5h1M18 5.5h1M20 5.5h1M1 6.5h1M13 6.5h1M5 7.5h1M9 7.5h3M14 7.5h1M16 7.5h1M18 7.5h2M22 7.5h1M9 8.5h1M20 8.5h1M5 9.5h1M9 9.5h2M13 9.5h1M18 9.5h2M21 9.5h1M5 10.5h1M9 11.5h1M11 11.5h1M5 12.5h1M8 12.5h1"/><path stroke="#e5d7ff" d="M10 0.5h1M16 0.5h3M21 0.5h1M5 1.5h1M12 1.5h1M16 1.5h2M22 1.5h2M16 2.5h2M22 2.5h2M4 3.5h1M16 3.5h2M10 4.5h1M16 4.5h2M22 4.5h1M5 5.5h1M15 5.5h3M21 5.5h2M0 6.5h1M23 6.5h1M17 7.5h1M2 8.5h2M4 10.5h1M6 10.5h1M9 10.5h1M13 10.5h1M23 10.5h1M3 11.5h1M1 12.5h1M6 12.5h1"/><path stroke="#ece0ff" d="M12 0.5h1M14 0.5h1M22 0.5h2M14 1.5h1M8 2.5h1M12 2.5h1M10 3.5h3M14 3.5h1M22 3.5h1M6 4.5h1M12 4.5h1M21 4.5h1M12 5.5h1M14 6.5h1M0 8.5h1M0 10.5h1M0 11.5h2M6 11.5h1"/><path stroke="#f2e9ff" d="M15 0.5h1M15 1.5h1M10 2.5h1M15 2.5h1M21 2.5h1M3 3.5h1M6 3.5h1M3 4.5h1M3 5.5h1M6 5.5h1M14 5.5h1M8 6.5h1M15 6.5h1M4 7.5h1M23 7.5h1M1 8.5h1M7 8.5h2M1 9.5h1M4 9.5h1M7 9.5h1M23 9.5h1M1 10.5h1"/><path stroke="#9e78ff" d="M1 1.5h1M8 4.5h1M0 5.5h2M7 5.5h1M21 6.5h1M15 7.5h1M14 9.5h1M8 10.5h1M22 11.5h1M17 12.5h1"/><path stroke="#f8f2ff" d="M8 1.5h1M2 2.5h1M2 4.5h1M2 6.5h1M7 6.5h1M0 7.5h3M0 9.5h1"/><path stroke="#bc9eff" d="M0 2.5h1M0 3.5h1M2 3.5h1M1 4.5h1M23 8.5h1M17 9.5h1M20 9.5h1M22 10.5h1M2 11.5h1M8 11.5h1M10 12.5h1"/><path stroke="#b292ff" d="M1 2.5h1M3 2.5h1M6 2.5h1M1 3.5h1M2 5.5h1M8 5.5h1M4 6.5h1M3 7.5h1M20 7.5h1M6 8.5h1M15 8.5h1M22 8.5h1M8 9.5h1M22 9.5h1M17 10.5h1M4 11.5h1M14 11.5h1M21 11.5h1M18 12.5h1"/><path stroke="#784cff" d="M5 2.5h1M5 4.5h1M6 7.5h1M14 8.5h1M16 10.5h1"/><path stroke="#4018ff" d="M10 5.5h1M13 8.5h1M20 12.5h1"/><path stroke="#250cff" d="M11 6.5h1"/><path stroke="#6a3cff" d="M12 7.5h1M17 11.5h1M23 12.5h1"/><path stroke="#0a00ff" d="M19 12.5h1"/></g>
<g transform="translate(935.5 692.2) scale(25.86 31.27)" stroke-width="1.02" fill="none" shape-rendering="crispEdges"><path stroke="#a7b8d9" d="M0 0.5h1M0 1.5h1M5 1.5h1M0 2.5h1M2 2.5h2M11 4.5h1M5 6.5h1M3 7.5h1M8 11.5h1"/><path stroke="#c6d0e7" d="M1 0.5h1M19 7.5h1"/><path stroke="#cfd7ea" d="M2 0.5h1M13 0.5h1M25 1.5h1M23 2.5h1M23 3.5h1M6 6.5h1M23 7.5h1M2 9.5h1M13 9.5h1M17 9.5h1M29 10.5h1M32 10.5h1"/><path stroke="#6b84bf" d="M3 0.5h1M12 8.5h1M22 11.5h1M29 12.5h1M36 12.5h3"/><path stroke="#b2c0dd" d="M4 0.5h1M4 1.5h1M10 4.5h1M17 5.5h1M21 9.5h2M24 9.5h1M36 9.5h3M30 10.5h1M36 11.5h1M3 12.5h1M21 12.5h1M24 12.5h1"/><path stroke="#bac6e1" d="M5 0.5h1M9 0.5h1M10 2.5h1M4 3.5h1M17 4.5h1M1 5.5h1M6 8.5h1M3 9.5h1M6 9.5h1M21 10.5h2M24 10.5h1"/><path stroke="#d1d9eb" d="M6 0.5h1M21 0.5h1M24 0.5h1M29 0.5h1M22 1.5h1M24 1.5h1M37 1.5h1M21 2.5h1M34 2.5h1M14 3.5h1M36 3.5h1M22 4.5h1M26 4.5h1M29 4.5h1M22 6.5h1M24 6.5h1M10 7.5h2M1 8.5h1M36 8.5h1M17 10.5h1M11 12.5h1M17 12.5h1"/><path stroke="#cbd4e8" d="M7 0.5h1M20 0.5h1M27 0.5h1M16 1.5h1M19 1.5h1M13 2.5h1M25 2.5h1M31 2.5h1M19 3.5h1M27 5.5h1M18 6.5h1M31 10.5h1"/><path stroke="#c3cee5" d="M8 0.5h1M27 9.5h1M32 9.5h1"/><path stroke="#cfd8ea" d="M10 0.5h1M19 0.5h1M13 1.5h1M29 1.5h1M12 2.5h1M33 3.5h1M16 4.5h1M24 5.5h1M29 7.5h1M8 8.5h1M24 8.5h1M15 9.5h1M2 10.5h1M20 10.5h1M0 11.5h1M2 11.5h1M5 11.5h1M16 11.5h1M18 12.5h1"/><path stroke="#d3dbeb" d="M11 0.5h1M1 2.5h1M1 4.5h1M3 5.5h1M22 5.5h1M38 8.5h1"/><path stroke="#ced6e9" d="M12 0.5h1M33 0.5h1M14 4.5h1M33 8.5h1M19 10.5h1M12 11.5h1M12 12.5h1M20 12.5h1"/><path stroke="#c7d1e7" d="M14 0.5h1M35 2.5h1M31 3.5h1M32 4.5h1M35 4.5h1M16 7.5h1M20 7.5h1M35 7.5h1M31 8.5h1M27 10.5h1"/><path stroke="#cdd6e9" d="M15 0.5h1M25 0.5h2M28 0.5h1M11 1.5h1M14 1.5h2M18 1.5h1M14 2.5h1M27 2.5h1M33 2.5h1M23 4.5h1M28 4.5h1M2 5.5h1M14 5.5h1M23 5.5h1M29 5.5h1M17 6.5h1M19 6.5h1M31 6.5h1M9 7.5h1M7 8.5h1M25 8.5h1M16 9.5h1M25 9.5h1M31 9.5h1M35 10.5h1M37 10.5h1M18 11.5h1M31 11.5h1M35 11.5h1M19 12.5h1"/><path stroke="#ced7e9" d="M16 0.5h2M15 2.5h1M9 3.5h1M15 3.5h1M33 4.5h1M13 5.5h1M12 6.5h1M7 7.5h1M10 8.5h1M9 10.5h1M13 10.5h1M38 10.5h1"/><path stroke="#ced7ea" d="M18 0.5h1M10 1.5h1M12 1.5h1M9 2.5h1M16 3.5h1M15 4.5h1M16 5.5h1M25 5.5h1M23 6.5h1M9 9.5h1M20 9.5h1M8 10.5h1M11 10.5h1M26 10.5h1M33 10.5h1M10 12.5h1M13 12.5h1"/><path stroke="#d2daeb" d="M22 0.5h1M34 0.5h1M37 0.5h2M9 1.5h1M36 1.5h1M24 2.5h1M18 3.5h1M30 3.5h1M37 3.5h1M21 4.5h1M36 4.5h1M11 5.5h1M21 5.5h1M38 5.5h1M1 6.5h1M8 6.5h1M29 6.5h1M21 7.5h1M22 8.5h1M4 9.5h1M10 9.5h1M15 10.5h1M3 11.5h1"/><path stroke="#cbd5e9" d="M23 0.5h1M27 4.5h1M28 7.5h1M33 9.5h1M25 10.5h1M16 12.5h1"/><path stroke="#d4dcec" d="M30 0.5h1M36 0.5h1M8 2.5h1M30 2.5h1M37 2.5h1M21 3.5h2M34 3.5h1M38 3.5h1M34 4.5h1M1 7.5h1M22 7.5h1M8 12.5h1"/><path stroke="#c5cfe6" d="M31 0.5h1M32 8.5h1M14 9.5h1M28 10.5h1"/><path stroke="#c9d3e8" d="M32 0.5h1M31 4.5h1M18 5.5h1M2 6.5h1M7 6.5h1M25 7.5h1M32 7.5h1M28 8.5h1M26 9.5h1M25 12.5h1"/><path stroke="#cad4e8" d="M35 0.5h1M20 1.5h1M28 1.5h1M32 1.5h1M35 1.5h1M12 3.5h2M28 3.5h1M12 5.5h1M27 8.5h1M35 9.5h1M13 11.5h1M5 12.5h1M27 12.5h1"/><path stroke="#cad3e8" d="M1 1.5h1M17 2.5h1M35 3.5h1M32 5.5h1M35 5.5h1M2 8.5h1"/><path stroke="#c9d2e8" d="M2 1.5h1M32 6.5h1M14 11.5h1"/><path stroke="#8499ca" d="M3 1.5h1M5 4.5h1M1 11.5h1"/><path stroke="#d7deee" d="M6 1.5h1M36 6.5h1M37 8.5h1"/><path stroke="#c8d2e7" d="M7 1.5h1M31 1.5h1M20 2.5h1M2 3.5h1M20 3.5h1M13 4.5h1M20 4.5h1M20 11.5h1"/><path stroke="#c4cee6" d="M8 1.5h1M5 3.5h1M9 4.5h1M13 8.5h1M34 10.5h1"/><path stroke="#ccd5e9" d="M17 1.5h1M23 1.5h1M33 1.5h1M18 2.5h2M28 2.5h1M32 2.5h1M17 3.5h1M25 3.5h1M27 3.5h1M12 4.5h1M19 4.5h1M15 5.5h1M28 5.5h1M14 6.5h1M16 6.5h1M20 6.5h1M27 6.5h2M2 7.5h1M27 7.5h1M33 7.5h1M23 8.5h1M7 9.5h1M7 10.5h1M9 12.5h1M14 12.5h1"/><path stroke="#d4dbec" d="M21 1.5h1M38 6.5h1M34 8.5h1M11 11.5h1M17 11.5h1"/><path stroke="#d0d8ea" d="M26 1.5h1M29 2.5h1M29 3.5h1M18 4.5h1M24 4.5h2M10 5.5h1M33 6.5h1M11 8.5h1M29 8.5h1M8 9.5h1M11 9.5h1M19 9.5h1M10 10.5h1M12 10.5h1M14 10.5h1M16 10.5h1M19 11.5h1M7 12.5h1M26 12.5h1"/><path stroke="#d0d9ea" d="M27 1.5h1M16 2.5h1M11 3.5h1M24 3.5h1M37 4.5h1M6 5.5h1M13 6.5h1M26 6.5h1M9 8.5h1M9 11.5h2"/><path stroke="#d8dfee" d="M30 1.5h1M38 1.5h1M38 4.5h1"/><path stroke="#d8deee" d="M34 1.5h1"/><path stroke="#c1cce5" d="M4 2.5h1M7 4.5h1"/><path stroke="#9cafd5" d="M5 2.5h1M6 3.5h1M26 8.5h1M30 11.5h1"/><path stroke="#d3dbec" d="M6 2.5h1M22 2.5h1M26 2.5h1M36 2.5h1M38 2.5h1M8 4.5h1M37 5.5h1M37 6.5h1M34 7.5h1M18 9.5h1M6 12.5h1"/><path stroke="#bfcbe3" d="M7 2.5h1"/><path stroke="#90a4d0" d="M11 2.5h1M0 3.5h1M0 4.5h1M5 5.5h1M36 7.5h1M30 9.5h1M34 9.5h1M29 11.5h1M34 11.5h1M37 11.5h2M4 12.5h1M22 12.5h1"/><path stroke="#c6d0e6" d="M1 3.5h1M32 3.5h1M20 5.5h1M35 6.5h1M36 10.5h1"/><path stroke="#dae0ef" d="M3 3.5h1M3 4.5h2M0 6.5h1M3 6.5h2M3 8.5h1M5 9.5h1"/><path stroke="#c2cde5" d="M7 3.5h2M4 5.5h1M8 7.5h1M1 10.5h1M6 10.5h1M6 11.5h2"/><path stroke="#c6d1e7" d="M10 3.5h1M31 5.5h1M17 7.5h1M15 12.5h1"/><path stroke="#ccd6e9" d="M26 3.5h1M14 8.5h1"/><path stroke="#5470b4" d="M2 4.5h1M6 4.5h1M8 5.5h1M21 11.5h1M24 11.5h1"/><path stroke="#d7deed" d="M30 4.5h1"/><path stroke="#778ec4" d="M0 5.5h1M12 7.5h1M30 12.5h1M34 12.5h1"/><path stroke="#3c5faa" d="M7 5.5h1M9 6.5h1M13 7.5h2M16 8.5h1M18 8.5h3M23 11.5h1M25 11.5h1M27 11.5h2M31 12.5h2M35 12.5h1"/><path stroke="#c0cbe4" d="M9 5.5h1M1 9.5h1M32 11.5h1"/><path stroke="#cbd5e8" d="M19 5.5h1M12 9.5h1M29 9.5h1M33 11.5h1"/><path stroke="#b5c3df" d="M26 5.5h1M33 5.5h1"/><path stroke="#d6deed" d="M30 5.5h1"/><path stroke="#d5dded" d="M34 5.5h1M30 7.5h1"/><path stroke="#d6dded" d="M36 5.5h1M30 6.5h1M4 7.5h1M30 8.5h1"/><path stroke="#4868af" d="M10 6.5h1M15 8.5h1M17 8.5h1M33 12.5h1"/><path stroke="#607aba" d="M11 6.5h1M4 11.5h1M26 11.5h1M1 12.5h1"/><path stroke="#d1d9ea" d="M15 6.5h1M15 7.5h1M24 7.5h1M21 8.5h1M18 10.5h1M2 12.5h1"/><path stroke="#bfcae3" d="M21 6.5h1M25 6.5h1M26 7.5h1M37 7.5h2"/><path stroke="#d1daeb" d="M34 6.5h1"/><path stroke="#dfe4f1" d="M0 7.5h1"/><path stroke="#abbbdb" d="M5 7.5h1M15 11.5h1"/><path stroke="#d9dfee" d="M6 7.5h1M4 8.5h1"/><path stroke="#c5d0e6" d="M18 7.5h1M28 9.5h1"/><path stroke="#c4cfe6" d="M31 7.5h1M23 9.5h1"/><path stroke="#dde3f1" d="M0 8.5h1M0 9.5h1M0 10.5h1M3 10.5h1"/><path stroke="#ffffff" d="M5 8.5h1"/><path stroke="#c9d2e7" d="M35 8.5h1"/><path stroke="#dbe1ef" d="M4 10.5h1"/><path stroke="#eef1f8" d="M5 10.5h1"/><path stroke="#bcc8e2" d="M23 10.5h1"/><path stroke="#dae1ef" d="M0 12.5h1"/><path stroke="#c0cce4" d="M23 12.5h1"/><path stroke="#c3cde5" d="M28 12.5h1"/></g>
<text x="0.0" y="660.0" font-size="24" text-anchor="start" fill="#000">b</text>
<text x="191.5" y="717.2" font-size="22.6" text-anchor="end" fill="#000">Naïve CD4<tspan font-size="13.8" dy="-8">+</tspan><tspan dy="8"> T</tspan></text>
<text x="191.5" y="748.5" font-size="22.6" text-anchor="end" fill="#000">CM CD4<tspan font-size="13.8" dy="-8.0">+</tspan><tspan dy="8.0"> T</tspan></text>
<text x="191.5" y="779.8" font-size="22.6" text-anchor="end" fill="#000">CM CD8<tspan font-size="13.8" dy="-8.0">+</tspan><tspan dy="8.0"> T</tspan></text>
<text x="191.5" y="811.0" font-size="22.6" text-anchor="end" fill="#000">TRM CD4<tspan font-size="13.8" dy="-8.0">+</tspan><tspan dy="8.0"> T</tspan></text>
<text x="191.5" y="842.3" font-size="22.6" text-anchor="end" fill="#000">TRM CD8<tspan font-size="13.8" dy="-8.0">+</tspan><tspan dy="8.0"> T</tspan></text>
<text x="191.5" y="873.6" font-size="22.6" text-anchor="end" fill="#000">Treg</text>
<text x="191.5" y="904.9" font-size="22.6" text-anchor="end" fill="#000">NK</text>
<text x="191.5" y="936.1" font-size="22.6" text-anchor="end" fill="#000">Memory B</text>
<text x="191.5" y="967.4" font-size="22.6" text-anchor="end" fill="#000">Plasma</text>
<text x="191.5" y="998.7" font-size="22.6" text-anchor="end" fill="#000">Monocytes 1</text>
<text x="191.5" y="1029.9" font-size="22.6" text-anchor="end" fill="#000">Monocytes 2</text>
<text x="191.5" y="1061.2" font-size="22.6" text-anchor="end" fill="#000">TAM</text>
<text x="191.5" y="1092.5" font-size="22.6" text-anchor="end" fill="#000">DC</text>
<text transform="translate(232.3 1111) rotate(-90)" font-size="22.3" text-anchor="end" fill="#7030A0">TCRab</text>
<text transform="translate(261.8 1111) rotate(-90)" font-size="22.3" text-anchor="end" fill="#7030A0">CD3</text>
<text transform="translate(291.4 1111) rotate(-90)" font-size="22.3" text-anchor="end" fill="#7030A0">CD4</text>
<text transform="translate(320.9 1111) rotate(-90)" font-size="22.3" text-anchor="end" fill="#7030A0">CD62L</text>
<text transform="translate(350.5 1111) rotate(-90)" font-size="22.3" text-anchor="end" fill="#7030A0">CD127</text>
<text transform="translate(380.0 1111) rotate(-90)" font-size="22.3" text-anchor="end" fill="#7030A0">CD8</text>
<text transform="translate(409.6 1111) rotate(-90)" font-size="22.3" text-anchor="end" fill="#7030A0">CD45RA</text>
<text transform="translate(439.1 1111) rotate(-90)" font-size="22.3" text-anchor="end" fill="#7030A0">CD45RO</text>
<text transform="translate(468.7 1111) rotate(-90)" font-size="22.3" text-anchor="end" fill="#7030A0">CD69</text>
<text transform="translate(498.2 1111) rotate(-90)" font-size="22.3" text-anchor="end" fill="#7030A0">CD103</text>
<text transform="translate(527.8 1111) rotate(-90)" font-size="22.3" text-anchor="end" fill="#7030A0">CD25</text>
<text transform="translate(557.3 1111) rotate(-90)" font-size="22.3" text-anchor="end" fill="#7030A0">CD56</text>
<text transform="translate(586.9 1111) rotate(-90)" font-size="22.3" text-anchor="end" fill="#7030A0">CD24</text>
<text transform="translate(616.4 1111) rotate(-90)" font-size="22.3" text-anchor="end" fill="#7030A0">CD19</text>
<text transform="translate(646.0 1111) rotate(-90)" font-size="22.3" text-anchor="end" fill="#7030A0">CD31</text>
<text transform="translate(675.5 1111) rotate(-90)" font-size="22.3" text-anchor="end" fill="#7030A0">HLA-DR</text>
<text transform="translate(705.1 1111) rotate(-90)" font-size="22.3" text-anchor="end" fill="#7030A0">CD11b</text>
<text transform="translate(734.6 1111) rotate(-90)" font-size="22.3" text-anchor="end" fill="#7030A0">CD14</text>
<text transform="translate(764.2 1111) rotate(-90)" font-size="22.3" text-anchor="end" fill="#7030A0">CD274</text>
<text transform="translate(793.7 1111) rotate(-90)" font-size="22.3" text-anchor="end" fill="#7030A0">CD1a</text>
<text transform="translate(823.3 1111) rotate(-90)" font-size="22.3" text-anchor="end" fill="#7030A0">CD1c</text>
<text transform="translate(852.8 1111) rotate(-90)" font-size="22.3" text-anchor="end" fill="#7030A0">CD80</text>
<text transform="translate(882.4 1111) rotate(-90)" font-size="22.3" text-anchor="end" fill="#7030A0">CD141</text>
<text transform="translate(911.9 1111) rotate(-90)" font-size="22.3" text-anchor="end" fill="#7030A0">EpCAM</text>
<text transform="translate(956.4 1111) rotate(-90)" font-size="22.3" text-anchor="end" fill="#4472C4">CD3E</text>
<text transform="translate(982.3 1111) rotate(-90)" font-size="22.3" text-anchor="end" fill="#4472C4">CD4</text>
<text transform="translate(1008.1 1111) rotate(-90)" font-size="22.3" text-anchor="end" fill="#4472C4">CD8A</text>
<text transform="translate(1034.0 1111) rotate(-90)" font-size="22.3" text-anchor="end" fill="#4472C4">CCR7</text>
<text transform="translate(1059.9 1111) rotate(-90)" font-size="22.3" text-anchor="end" fill="#4472C4">IL7R</text>
<text transform="translate(1085.7 1111) rotate(-90)" font-size="22.3" text-anchor="end" fill="#4472C4">CD69</text>
<text transform="translate(1111.6 1111) rotate(-90)" font-size="22.3" text-anchor="end" fill="#4472C4">ITGAE</text>
<text transform="translate(1137.5 1111) rotate(-90)" font-size="22.3" text-anchor="end" fill="#4472C4">FOXP3</text>
<text transform="translate(1163.3 1111) rotate(-90)" font-size="22.3" text-anchor="end" fill="#4472C4">IL2RA</text>
<text transform="translate(1189.2 1111) rotate(-90)" font-size="22.3" text-anchor="end" fill="#4472C4">NCAM1</text>
<text transform="translate(1215.0 1111) rotate(-90)" font-size="22.3" text-anchor="end" fill="#4472C4">GNLY</text>
<text transform="translate(1240.9 1111) rotate(-90)" font-size="22.3" text-anchor="end" fill="#4472C4">NKG7</text>
<text transform="translate(1266.8 1111) rotate(-90)" font-size="22.3" text-anchor="end" fill="#4472C4">CD19</text>
<text transform="translate(1292.6 1111) rotate(-90)" font-size="22.3" text-anchor="end" fill="#4472C4">MS4A1</text>
<text transform="translate(1318.5 1111) rotate(-90)" font-size="22.3" text-anchor="end" fill="#4472C4">IGHD</text>
<text transform="translate(1344.3 1111) rotate(-90)" font-size="22.3" text-anchor="end" fill="#4472C4">CD38</text>
<text transform="translate(1370.2 1111) rotate(-90)" font-size="22.3" text-anchor="end" fill="#4472C4">IGHM</text>
<text transform="translate(1396.0 1111) rotate(-90)" font-size="22.3" text-anchor="end" fill="#4472C4">CD27</text>
<text transform="translate(1421.9 1111) rotate(-90)" font-size="22.3" text-anchor="end" fill="#4472C4">TNFRSF17</text>
<text transform="translate(1447.8 1111) rotate(-90)" font-size="22.3" text-anchor="end" fill="#4472C4">IRF4</text>
<text transform="translate(1473.6 1111) rotate(-90)" font-size="22.3" text-anchor="end" fill="#4472C4">XBP1</text>
<text transform="translate(1499.5 1111) rotate(-90)" font-size="22.3" text-anchor="end" fill="#4472C4">ITGAM</text>
<text transform="translate(1525.4 1111) rotate(-90)" font-size="22.3" text-anchor="end" fill="#4472C4">CD14</text>
<text transform="translate(1551.2 1111) rotate(-90)" font-size="22.3" text-anchor="end" fill="#4472C4">FCGR1A</text>
<text transform="translate(1577.1 1111) rotate(-90)" font-size="22.3" text-anchor="end" fill="#4472C4">CD68</text>
<text transform="translate(1602.9 1111) rotate(-90)" font-size="22.3" text-anchor="end" fill="#4472C4">FCGR3A</text>
<text transform="translate(1628.8 1111) rotate(-90)" font-size="22.3" text-anchor="end" fill="#4472C4">CCR2</text>
<text transform="translate(1654.7 1111) rotate(-90)" font-size="22.3" text-anchor="end" fill="#4472C4">MARCO</text>
<text transform="translate(1680.5 1111) rotate(-90)" font-size="22.3" text-anchor="end" fill="#4472C4">CD163</text>
<text transform="translate(1706.4 1111) rotate(-90)" font-size="22.3" text-anchor="end" fill="#4472C4">CSF1R</text>
<text transform="translate(1732.2 1111) rotate(-90)" font-size="22.3" text-anchor="end" fill="#4472C4">ITGAX</text>
<text transform="translate(1758.1 1111) rotate(-90)" font-size="22.3" text-anchor="end" fill="#4472C4">CD1A</text>
<text transform="translate(1784.0 1111) rotate(-90)" font-size="22.3" text-anchor="end" fill="#4472C4">CD1C</text>
<text transform="translate(1809.8 1111) rotate(-90)" font-size="22.3" text-anchor="end" fill="#4472C4">CD80</text>
<text transform="translate(1835.7 1111) rotate(-90)" font-size="22.3" text-anchor="end" fill="#4472C4">CD86</text>
<text transform="translate(1861.5 1111) rotate(-90)" font-size="22.3" text-anchor="end" fill="#4472C4">CLEC9A</text>
<text transform="translate(1887.4 1111) rotate(-90)" font-size="22.3" text-anchor="end" fill="#4472C4">CD83</text>
<text transform="translate(1913.2 1111) rotate(-90)" font-size="22.3" text-anchor="end" fill="#4472C4">HLA-DRA</text>
<text transform="translate(1939.1 1111) rotate(-90)" font-size="22.3" text-anchor="end" fill="#4472C4">HLA-DRB1</text>
<text x="526.0" y="679.5" font-size="22.3" text-anchor="start" fill="#7030A0">Protein</text>
<text x="713.5" y="664.4" font-size="14.9" text-anchor="middle" fill="#000">Normalized protein</text>
<text x="713.5" y="682.0" font-size="14.9" text-anchor="middle" fill="#000">abundance</text>
<defs><linearGradient id="pgrad" x1="0" x2="1" y1="0" y2="0"><stop offset="0" stop-color="#CCCCF6"/><stop offset="0.4" stop-color="#9C84D2"/><stop offset="0.7" stop-color="#7E2E9E"/><stop offset="1" stop-color="#0C0898"/></linearGradient><linearGradient id="ggrad" x1="0" x2="1" y1="0" y2="0"><stop offset="0" stop-color="#B6C3E0"/><stop offset="0.5" stop-color="#9DACCF"/><stop offset="0.75" stop-color="#6E86BF"/><stop offset="1" stop-color="#2E54A4"/></linearGradient></defs>
<rect x="821.2" y="664.4" width="91.2" height="21.7" fill="url(#pgrad)"/>
<text x="817.5" y="660.9" font-size="11" text-anchor="middle" fill="#000">-2</text>
<text x="852.7" y="660.9" font-size="11" text-anchor="middle" fill="#000">0</text>
<text x="884.2" y="660.9" font-size="11" text-anchor="middle" fill="#000">2</text>
<text x="913.2" y="660.9" font-size="11" text-anchor="middle" fill="#000">4</text>
<text x="1410.0" y="682.5" font-size="22.3" text-anchor="start" fill="#4472C4">Gene</text>
<text x="1742.7" y="665.2" font-size="14.9" text-anchor="middle" fill="#000">Normalized RNA</text>
<text x="1742.7" y="683.0" font-size="14.9" text-anchor="middle" fill="#000">expression</text>
<rect x="1838.7" y="665.6" width="91.2" height="22" fill="url(#ggrad)"/>
<text x="1834.6" y="661.3" font-size="11" text-anchor="middle" fill="#000">-2</text>
<text x="1872.7" y="661.3" font-size="11" text-anchor="middle" fill="#000">0</text>
<text x="1902.2" y="661.3" font-size="11" text-anchor="middle" fill="#000">2</text>
<text x="1930.0" y="661.3" font-size="11" text-anchor="middle" fill="#000">4</text>
<g transform="translate(33.2 1289.1) scale(7.3 7.3)" stroke-width="1.02" fill="none" shape-rendering="crispEdges"><path stroke="#3f65e0" d="M0 0.5h2M2 6.5h1M0 7.5h2M1 10.5h1M1 11.5h1M0 13.5h1M2 19.5h1M1 21.5h1"/><path stroke="#466be1" d="M2 0.5h1M0 1.5h2M2 2.5h1M1 3.5h1M4 5.5h1M0 6.5h1M0 8.5h2M0 9.5h3M1 13.5h2M0 15.5h1M2 15.5h1M0 16.5h2M0 17.5h1M1 18.5h2M0 20.5h1M1 22.5h1M0 23.5h3M2 24.5h1M0 25.5h1M2 25.5h1M0 26.5h2"/><path stroke="#5276e3" d="M3 0.5h1M4 1.5h1M3 12.5h2M2 14.5h1M2 16.5h1M3 18.5h1M2 20.5h1M3 22.5h2M4 24.5h1"/><path stroke="#5f80e5" d="M4 0.5h1M3 6.5h2M8 8.5h1M8 11.5h1M4 13.5h1M4 15.5h1M4 18.5h1M3 20.5h1M4 21.5h1M4 23.5h1M4 25.5h1"/><path stroke="#8099ea" d="M5 0.5h1M12 0.5h1M6 1.5h1M9 1.5h1M16 1.5h1M5 2.5h1M13 2.5h1M9 3.5h2M15 3.5h1M6 4.5h1M12 4.5h1M13 5.5h1M15 5.5h2M5 6.5h1M9 6.5h2M8 7.5h1M12 7.5h2M5 8.5h1M16 8.5h1M9 9.5h1M13 9.5h1M16 9.5h1M15 10.5h1M9 11.5h1M12 12.5h1M8 13.5h2M16 14.5h1M8 15.5h3M12 15.5h1M14 15.5h1M9 16.5h2M15 16.5h1M8 17.5h1M10 17.5h1M12 17.5h1M9 18.5h1M10 19.5h2M15 19.5h1M7 20.5h1M13 20.5h2M7 21.5h1M9 21.5h1M15 21.5h1M5 22.5h1M8 22.5h1M15 22.5h1M5 23.5h1M13 23.5h1M16 23.5h1M9 24.5h1M6 26.5h1M8 26.5h1M16 26.5h1M22 29.5h1M22 30.5h1M21 32.5h1M20 33.5h1M22 37.5h1M20 38.5h2M38 39.5h1M22 40.5h1M20 43.5h2"/><path stroke="#89a0eb" d="M6 0.5h1M8 0.5h1M11 0.5h1M5 1.5h1M10 1.5h1M15 1.5h1M6 2.5h1M10 2.5h1M17 2.5h1M9 4.5h1M13 4.5h1M10 5.5h1M6 6.5h1M12 6.5h2M6 8.5h1M9 8.5h1M13 8.5h1M5 9.5h1M12 9.5h1M15 9.5h1M6 10.5h1M10 10.5h1M12 10.5h1M6 11.5h1M13 11.5h3M8 12.5h1M11 13.5h1M12 14.5h1M15 14.5h1M6 15.5h1M15 15.5h1M8 16.5h1M13 16.5h2M9 17.5h1M8 18.5h1M12 18.5h1M15 18.5h2M12 20.5h1M17 20.5h1M8 21.5h1M13 21.5h1M17 22.5h1M6 23.5h1M8 23.5h1M10 23.5h1M7 24.5h1M13 24.5h1M15 24.5h1M7 25.5h1M9 25.5h2M16 25.5h1M12 26.5h2M22 27.5h2M21 28.5h1M23 28.5h1M21 29.5h1M20 30.5h1M22 32.5h1M38 32.5h1M21 34.5h1M20 35.5h1M20 36.5h2M20 37.5h2M23 39.5h1M21 40.5h1M24 40.5h1M20 42.5h2"/><path stroke="#6c8ae7" d="M7 0.5h1M15 0.5h1M7 4.5h1M16 7.5h1M16 13.5h1M7 14.5h1M16 17.5h1M9 19.5h1M7 23.5h1M15 23.5h1M7 26.5h1M21 31.5h1M21 33.5h1M22 42.5h1"/><path stroke="#92a7ed" d="M9 0.5h2M17 0.5h1M12 1.5h1M11 2.5h2M8 3.5h1M17 4.5h1M12 5.5h1M14 5.5h1M14 7.5h1M10 8.5h1M17 9.5h1M8 10.5h1M10 11.5h3M17 11.5h1M9 12.5h3M13 12.5h1M12 13.5h2M5 14.5h1M10 14.5h1M5 17.5h2M14 17.5h1M5 18.5h1M14 18.5h1M13 19.5h2M6 20.5h1M15 20.5h1M6 21.5h1M10 22.5h1M12 22.5h1M11 24.5h2M6 25.5h1M11 25.5h4M11 26.5h1M20 27.5h2M20 28.5h1M22 28.5h1M24 28.5h1M27 28.5h1M38 28.5h1M23 30.5h1M20 31.5h1M22 31.5h1M20 32.5h1M25 32.5h1M29 33.5h1M22 34.5h1M21 35.5h1M25 35.5h1M38 35.5h1M22 36.5h1M29 36.5h1M22 38.5h1M35 39.5h1M20 40.5h1M25 40.5h1M38 40.5h1M44 40.5h1M22 41.5h2M29 42.5h1M22 43.5h1M25 43.5h1M21 44.5h1"/><path stroke="#9aaeee" d="M13 0.5h2M17 1.5h1M14 2.5h2M6 3.5h1M12 3.5h1M17 3.5h1M10 4.5h2M14 4.5h2M6 5.5h1M11 5.5h1M14 6.5h1M17 6.5h1M5 7.5h2M9 7.5h3M12 8.5h1M14 8.5h1M17 8.5h1M6 9.5h1M10 9.5h1M13 10.5h2M6 13.5h1M10 13.5h1M14 13.5h2M11 15.5h1M11 16.5h1M10 18.5h2M16 19.5h1M10 20.5h2M14 21.5h1M11 22.5h1M13 22.5h2M6 24.5h1M17 24.5h1M15 26.5h1M17 26.5h1M24 27.5h1M29 28.5h1M25 30.5h1M30 30.5h1M30 33.5h1M37 33.5h1M22 35.5h2M31 35.5h1M38 36.5h1M23 37.5h1M24 38.5h1M26 38.5h1M30 38.5h1M32 38.5h1M29 39.5h1M23 40.5h1M29 40.5h1M29 41.5h1M20 44.5h1M42 44.5h1M44 44.5h1"/><path stroke="#738fe8" d="M16 0.5h1M8 1.5h1M16 4.5h1M5 5.5h1M7 5.5h2M7 6.5h1M15 8.5h1M7 10.5h1M9 10.5h1M16 11.5h1M7 13.5h1M8 14.5h1M5 15.5h1M7 15.5h1M13 15.5h1M16 16.5h1M7 17.5h1M11 17.5h1M13 17.5h1M15 17.5h1M7 18.5h1M8 19.5h1M12 19.5h1M8 20.5h1M16 20.5h1M16 21.5h1M7 22.5h1M16 22.5h1M9 23.5h1M15 25.5h1M21 30.5h1M21 41.5h1"/><path stroke="#fefafa" d="M18 0.5h1M18 4.5h1M19 14.5h1M18 18.5h1M18 20.5h1M18 23.5h1M18 28.5h1M19 29.5h1M19 31.5h1M18 35.5h1M19 38.5h1M19 40.5h1M18 43.5h2"/><path stroke="#fcf4f4" d="M19 0.5h1M18 1.5h1M18 3.5h1M18 6.5h1M18 7.5h1M18 9.5h2M18 12.5h1M18 13.5h2M18 14.5h1M19 18.5h1M18 19.5h1M19 20.5h1M17 34.5h1M19 34.5h1M18 38.5h1M18 44.5h1"/><path stroke="#efb7b7" d="M20 0.5h1M36 0.5h2M40 0.5h1M36 1.5h1M20 2.5h1M40 2.5h1M20 3.5h1M35 3.5h2M21 4.5h1M31 4.5h1M43 4.5h1M20 5.5h1M34 5.5h2M44 5.5h1M20 6.5h1M23 6.5h1M20 7.5h1M34 8.5h1M43 8.5h2M21 9.5h1M39 9.5h1M44 10.5h1M39 11.5h1M23 12.5h1M20 13.5h1M23 13.5h1M30 13.5h1M35 13.5h2M31 14.5h1M36 14.5h1M24 15.5h1M40 15.5h1M33 16.5h1M40 16.5h1M40 17.5h1M44 17.5h1M34 18.5h1M40 19.5h1M42 19.5h1M37 20.5h1M36 21.5h1M35 22.5h1M44 22.5h1M44 23.5h1M23 24.5h1M35 24.5h1M40 24.5h1M41 25.5h1M40 26.5h1M6 27.5h1M6 28.5h1M4 30.5h2M6 33.5h1M4 34.5h1M5 36.5h1M5 38.5h1M4 39.5h1M5 40.5h1M6 42.5h1M6 43.5h1M5 44.5h2"/><path stroke="#e99999" d="M21 0.5h1M25 0.5h1M21 2.5h1M37 3.5h1M24 4.5h1M22 5.5h1M21 6.5h1M24 7.5h1M21 8.5h1M23 10.5h3M23 11.5h1M37 11.5h1M21 12.5h1M24 13.5h1M23 14.5h1M20 17.5h1M23 17.5h1M37 17.5h1M37 19.5h1M20 20.5h2M23 20.5h1M20 21.5h1M24 21.5h1M24 22.5h1M37 22.5h1M22 23.5h1M24 23.5h2M37 24.5h1M21 26.5h1M23 26.5h1M9 27.5h2M11 28.5h1M3 31.5h1M1 32.5h1M3 32.5h1M1 35.5h1M9 38.5h1M3 39.5h1M0 41.5h1M2 41.5h1M7 41.5h1M3 42.5h1M8 42.5h1M11 42.5h1M14 44.5h1"/><path stroke="#eba2a2" d="M22 0.5h1M24 0.5h1M21 1.5h2M25 1.5h1M37 1.5h1M22 2.5h1M37 2.5h1M21 3.5h2M25 3.5h1M25 6.5h1M36 6.5h1M21 7.5h1M24 9.5h1M37 10.5h1M25 11.5h1M36 11.5h1M37 12.5h1M22 13.5h1M37 13.5h1M22 14.5h1M24 14.5h2M22 15.5h1M22 16.5h1M25 16.5h1M22 17.5h1M21 18.5h4M37 18.5h1M23 19.5h1M25 22.5h1M37 23.5h1M36 24.5h1M20 25.5h3M24 25.5h1M22 26.5h1M1 33.5h1M1 37.5h1M10 41.5h1M1 42.5h1M13 44.5h1"/><path stroke="#eeb0b0" d="M23 0.5h1M20 1.5h1M23 2.5h2M36 2.5h1M23 3.5h2M34 3.5h1M20 4.5h1M25 4.5h1M36 4.5h2M24 5.5h2M36 5.5h1M24 6.5h1M39 6.5h1M36 7.5h1M23 8.5h2M37 8.5h1M40 8.5h1M25 9.5h1M21 10.5h1M43 10.5h1M21 11.5h2M20 12.5h1M22 12.5h1M35 12.5h1M21 14.5h1M20 15.5h1M23 15.5h1M36 16.5h1M24 17.5h2M36 17.5h1M20 19.5h1M22 20.5h1M25 20.5h1M20 22.5h1M23 22.5h1M20 23.5h1M33 23.5h1M36 23.5h1M38 23.5h1M41 24.5h1M36 25.5h1M4 32.5h1M4 35.5h1M6 39.5h1M10 43.5h1"/><path stroke="#f8e4e4" d="M26 0.5h1M19 1.5h1M18 2.5h1M19 3.5h1M19 4.5h1M28 6.5h1M28 7.5h1M28 9.5h1M19 11.5h1M27 11.5h1M26 13.5h1M27 16.5h1M28 18.5h1M26 19.5h2M27 22.5h1M18 24.5h1M19 26.5h1M31 26.5h1M17 28.5h1M16 34.5h1M16 36.5h1M17 37.5h1M17 41.5h1M15 42.5h1M18 42.5h1M17 43.5h1"/><path stroke="#f7dede" d="M27 0.5h2M30 0.5h1M42 0.5h1M28 1.5h1M30 1.5h1M28 3.5h2M33 3.5h1M39 3.5h1M28 4.5h1M27 5.5h1M27 6.5h1M27 8.5h1M27 10.5h1M29 10.5h1M26 11.5h1M31 11.5h1M34 13.5h1M29 14.5h1M26 15.5h1M19 16.5h1M27 18.5h1M26 23.5h2M30 25.5h1M28 26.5h1M16 29.5h1M17 30.5h1M15 32.5h1M17 35.5h1M19 35.5h1M16 38.5h1M15 39.5h1M16 43.5h1M15 44.5h1"/><path stroke="#f6d9d9" d="M29 0.5h1M27 1.5h1M31 1.5h2M38 1.5h1M28 2.5h1M31 2.5h1M29 4.5h1M28 5.5h2M43 5.5h1M30 6.5h1M42 6.5h1M29 7.5h1M31 7.5h1M33 7.5h2M32 8.5h1M42 8.5h1M26 9.5h1M39 10.5h1M32 11.5h1M27 12.5h3M40 12.5h1M35 14.5h1M32 15.5h1M29 16.5h2M41 16.5h1M33 17.5h1M29 18.5h1M31 18.5h1M28 19.5h1M38 19.5h1M28 20.5h2M27 21.5h1M28 23.5h1M26 24.5h1M30 24.5h2M26 25.5h1M38 25.5h1M15 27.5h2M15 28.5h1M15 31.5h3M15 36.5h1M17 38.5h1M17 39.5h1M16 40.5h1M16 42.5h2"/><path stroke="#f3cccc" d="M31 0.5h3M38 0.5h1M29 1.5h1M34 1.5h2M42 1.5h1M32 2.5h2M35 2.5h1M26 3.5h1M30 3.5h1M43 3.5h1M26 4.5h1M33 4.5h1M38 4.5h2M41 4.5h1M30 5.5h2M26 6.5h1M29 6.5h1M32 6.5h1M34 6.5h1M26 7.5h1M39 7.5h1M41 7.5h3M28 8.5h3M35 8.5h1M38 8.5h1M41 8.5h1M27 9.5h1M30 9.5h1M33 9.5h1M40 9.5h2M30 10.5h1M32 10.5h1M30 11.5h1M40 11.5h2M24 12.5h1M31 12.5h1M33 12.5h1M32 13.5h2M38 13.5h1M43 13.5h1M28 14.5h1M34 14.5h1M38 14.5h1M41 14.5h4M27 15.5h1M30 15.5h1M39 15.5h1M42 15.5h1M39 16.5h1M42 16.5h1M28 17.5h2M32 17.5h1M43 17.5h1M30 18.5h1M32 18.5h2M39 18.5h1M44 18.5h1M30 19.5h1M32 19.5h1M41 19.5h1M44 19.5h1M34 20.5h1M39 20.5h1M28 21.5h1M41 21.5h2M29 22.5h2M33 22.5h2M40 22.5h2M43 22.5h1M29 23.5h1M32 23.5h1M39 23.5h3M32 24.5h1M27 25.5h2M39 25.5h1M30 26.5h1M38 26.5h1M41 26.5h1M4 27.5h1M5 28.5h1M15 33.5h1M6 35.5h1M16 35.5h1M16 39.5h1"/><path stroke="#f4d3d3" d="M34 0.5h1M39 0.5h1M26 1.5h1M39 1.5h1M41 1.5h1M26 2.5h2M29 2.5h1M34 2.5h1M38 2.5h1M27 3.5h1M31 3.5h2M27 4.5h1M26 5.5h1M42 5.5h1M33 6.5h1M41 6.5h1M43 6.5h1M27 7.5h1M30 7.5h1M32 7.5h1M38 7.5h1M39 8.5h1M29 9.5h1M31 9.5h1M26 10.5h1M28 10.5h1M31 10.5h1M40 10.5h1M29 11.5h1M26 12.5h1M30 12.5h1M38 12.5h2M42 12.5h2M27 13.5h3M26 14.5h2M33 14.5h1M39 14.5h1M28 15.5h1M33 15.5h2M38 15.5h1M43 15.5h1M26 16.5h1M32 16.5h1M31 17.5h1M39 17.5h1M29 19.5h1M39 19.5h1M27 20.5h1M30 20.5h1M26 21.5h1M29 21.5h1M31 21.5h1M33 21.5h1M28 22.5h1M30 23.5h1M43 23.5h1M27 24.5h3M38 24.5h1M29 25.5h1M33 25.5h1M40 25.5h1M26 26.5h1M29 26.5h1M32 26.5h1M42 26.5h3M17 29.5h1M15 30.5h1M4 31.5h1M17 32.5h1M16 33.5h1M15 34.5h1M15 37.5h2M15 38.5h1M15 40.5h1M15 43.5h1"/><path stroke="#f2c5c5" d="M35 0.5h1M43 0.5h1M33 1.5h1M44 1.5h1M39 2.5h1M41 2.5h1M43 2.5h1M40 3.5h1M42 3.5h1M44 3.5h1M32 4.5h1M35 4.5h1M44 4.5h1M32 5.5h2M38 5.5h1M40 6.5h1M44 6.5h1M40 7.5h1M26 8.5h1M31 8.5h1M33 8.5h1M32 9.5h1M38 9.5h1M42 9.5h1M44 9.5h1M33 10.5h1M42 10.5h1M34 11.5h1M43 11.5h1M34 12.5h1M32 14.5h1M40 14.5h1M31 16.5h1M34 16.5h1M38 16.5h1M26 17.5h1M30 17.5h1M34 17.5h1M38 18.5h1M40 18.5h4M33 19.5h2M43 19.5h1M33 20.5h1M41 20.5h2M32 21.5h1M34 21.5h1M38 21.5h2M43 21.5h1M26 22.5h1M39 22.5h1M42 22.5h1M34 23.5h1M42 23.5h1M33 24.5h2M42 24.5h3M31 25.5h1M34 25.5h2M43 25.5h1M35 26.5h1M4 28.5h1M16 30.5h1M6 31.5h1M4 33.5h1M5 34.5h2M15 35.5h1M4 36.5h1M4 37.5h2M4 38.5h1M6 40.5h1M4 41.5h3M15 41.5h1M4 42.5h2M5 43.5h1M16 44.5h1"/><path stroke="#f0bebe" d="M41 0.5h1M40 1.5h1M30 2.5h1M44 2.5h1M38 3.5h1M30 4.5h1M34 4.5h1M42 4.5h1M40 5.5h2M31 6.5h1M35 6.5h1M35 7.5h1M44 7.5h1M34 9.5h1M43 9.5h1M35 10.5h1M38 10.5h1M41 10.5h1M20 11.5h1M35 11.5h1M38 11.5h1M42 11.5h1M44 11.5h1M36 12.5h1M41 12.5h1M44 12.5h1M39 13.5h1M41 13.5h2M44 13.5h1M31 15.5h1M35 15.5h1M41 15.5h1M44 15.5h1M35 16.5h1M43 16.5h2M35 17.5h1M41 17.5h2M35 18.5h2M31 19.5h1M35 19.5h2M31 20.5h2M35 20.5h1M38 20.5h1M40 20.5h1M43 20.5h1M30 21.5h1M35 21.5h1M37 21.5h1M40 21.5h1M44 21.5h1M31 22.5h2M38 22.5h1M31 23.5h1M35 23.5h1M39 24.5h1M23 25.5h1M32 25.5h1M42 25.5h1M44 25.5h1M33 26.5h2M39 26.5h1M5 27.5h1M5 29.5h2M5 31.5h1M5 32.5h2M5 33.5h1M5 35.5h1M6 36.5h1M6 37.5h1M4 43.5h1"/><path stroke="#cd2f2f" d="M44 0.5h1M34 10.5h1M32 12.5h1M28 16.5h1M26 18.5h1M22 22.5h1M21 23.5h1M19 25.5h1"/><path stroke="#3b62df" d="M2 1.5h1M0 12.5h2M1 14.5h1M1 19.5h1M1 25.5h1"/><path stroke="#4d71e3" d="M3 1.5h1M1 2.5h1M0 3.5h1M4 3.5h1M1 4.5h1M3 4.5h2M3 8.5h1M3 9.5h1M2 11.5h1M4 11.5h1M1 15.5h1M3 15.5h1M4 16.5h1M3 19.5h2M3 21.5h1M3 23.5h1M3 25.5h1M3 26.5h1"/><path stroke="#7994e9" d="M7 1.5h1M7 2.5h3M16 2.5h1M5 3.5h1M7 3.5h1M13 3.5h1M8 4.5h1M9 5.5h1M8 6.5h1M16 6.5h1M7 7.5h1M15 7.5h1M7 9.5h2M5 10.5h1M16 10.5h1M5 11.5h1M7 11.5h1M5 12.5h3M15 12.5h2M5 13.5h1M11 14.5h1M5 16.5h1M7 16.5h1M13 18.5h1M5 19.5h1M7 19.5h1M5 20.5h1M9 20.5h1M5 21.5h1M12 21.5h1M6 22.5h1M9 22.5h1M5 24.5h1M8 24.5h1M10 24.5h1M16 24.5h1M8 25.5h1M9 26.5h1M25 29.5h1M23 32.5h1M22 33.5h1M20 39.5h1M22 39.5h1"/><path stroke="#acbcf1" d="M11 1.5h1M11 3.5h1M14 3.5h1M11 9.5h1M14 9.5h1M6 14.5h1M9 14.5h1M17 14.5h1M6 18.5h1M17 18.5h1M6 19.5h1M14 23.5h1M14 24.5h1M10 26.5h1M14 26.5h1M30 27.5h1M32 27.5h1M38 27.5h1M42 27.5h1M26 28.5h1M28 28.5h1M43 28.5h2M20 29.5h1M31 29.5h2M29 30.5h1M34 30.5h2M38 30.5h1M25 31.5h1M30 31.5h1M38 31.5h1M26 32.5h1M35 33.5h1M24 34.5h1M27 34.5h3M36 34.5h1M38 34.5h1M42 34.5h1M24 35.5h1M30 35.5h1M24 36.5h1M27 36.5h1M24 37.5h1M32 37.5h1M38 37.5h1M41 37.5h1M23 38.5h1M28 38.5h1M31 38.5h1M25 39.5h1M30 39.5h1M37 40.5h1M25 41.5h1M30 41.5h1M32 41.5h1M35 41.5h1M26 42.5h1M32 42.5h1M35 42.5h1M29 43.5h2M35 43.5h1M29 44.5h1M31 44.5h2M36 44.5h1M38 44.5h1"/><path stroke="#a3b5f0" d="M13 1.5h2M5 4.5h1M17 5.5h1M11 6.5h1M17 7.5h1M11 8.5h1M11 10.5h1M17 12.5h1M17 13.5h1M13 14.5h2M17 15.5h1M6 16.5h1M12 16.5h1M17 16.5h1M17 17.5h1M17 19.5h1M10 21.5h2M17 21.5h1M11 23.5h2M17 23.5h1M17 25.5h1M25 27.5h1M37 27.5h1M25 28.5h1M35 28.5h1M23 29.5h1M28 29.5h2M42 29.5h1M24 30.5h1M31 30.5h2M23 31.5h1M29 31.5h1M31 31.5h1M34 31.5h2M23 33.5h1M25 33.5h2M38 33.5h1M20 34.5h1M23 34.5h1M25 34.5h2M30 34.5h1M37 34.5h1M27 35.5h1M23 36.5h1M30 36.5h1M25 38.5h1M29 38.5h1M21 39.5h1M26 40.5h1M20 41.5h1M26 41.5h2M23 42.5h1M25 42.5h1M40 42.5h1M23 43.5h1M26 43.5h1M38 43.5h1M23 44.5h2M27 44.5h1M30 44.5h1"/><path stroke="#eca9a9" d="M23 1.5h2M25 2.5h1M22 4.5h2M21 5.5h1M23 5.5h1M37 5.5h1M22 6.5h1M37 6.5h1M23 7.5h1M20 8.5h1M22 8.5h1M25 8.5h1M20 9.5h1M23 9.5h1M36 9.5h1M20 10.5h1M22 10.5h1M36 10.5h1M24 11.5h1M21 13.5h1M40 13.5h1M20 14.5h1M21 15.5h1M36 15.5h2M20 16.5h2M23 16.5h2M37 16.5h1M21 17.5h1M38 17.5h1M20 18.5h1M25 18.5h1M21 19.5h2M24 19.5h1M36 20.5h1M44 20.5h1M22 21.5h1M25 21.5h1M36 22.5h1M23 23.5h1M21 24.5h2M24 24.5h2M25 25.5h1M37 25.5h1M20 26.5h1M36 26.5h2M4 29.5h1M6 30.5h1M8 38.5h1M13 43.5h1M4 44.5h1"/><path stroke="#d34141" d="M43 1.5h1M38 6.5h1M37 7.5h1M31 13.5h1M27 17.5h1M9 33.5h1M14 35.5h1"/><path stroke="#4268e1" d="M0 2.5h1M0 4.5h1M3 7.5h1M2 8.5h1M2 17.5h1M0 19.5h1M1 20.5h1M0 21.5h1M2 22.5h1M1 24.5h1M4 26.5h1"/><path stroke="#4a6ee2" d="M3 2.5h2M2 3.5h1M0 5.5h1M2 5.5h1M1 6.5h1M2 7.5h1M4 7.5h1M0 10.5h1M2 10.5h2M0 11.5h1M2 12.5h1M0 14.5h1M3 14.5h2M1 17.5h1M3 17.5h1M0 18.5h1M2 21.5h1M0 22.5h1M0 24.5h1M3 24.5h1M2 26.5h1"/><path stroke="#fae9e9" d="M19 2.5h1M19 7.5h1M19 10.5h1M28 11.5h1M19 15.5h1M18 16.5h1M26 20.5h1M19 22.5h1M18 25.5h1M27 26.5h1M17 33.5h1M19 33.5h1M17 36.5h1M17 40.5h1M16 41.5h1"/><path stroke="#d54949" d="M42 2.5h1M41 3.5h1M40 4.5h1M35 9.5h1M18 26.5h1M9 32.5h2M13 33.5h1M8 34.5h1M14 36.5h1M9 37.5h1M13 37.5h1"/><path stroke="#597be4" d="M3 3.5h1M2 4.5h1M3 5.5h1M4 8.5h1M7 8.5h1M4 9.5h1M4 10.5h1M3 11.5h1M3 13.5h1M3 16.5h1M4 17.5h1M4 20.5h1"/><path stroke="#6685e6" d="M16 3.5h1M15 6.5h1M16 15.5h1"/><path stroke="#385fdf" d="M1 5.5h1"/><path stroke="#fbefef" d="M18 5.5h2M19 6.5h1M18 8.5h2M18 10.5h1M18 11.5h1M18 15.5h1M18 17.5h2M19 19.5h1M18 21.5h2M16 32.5h1M19 32.5h1M18 33.5h1M19 36.5h1M17 44.5h1M19 44.5h1"/><path stroke="#cb2727" d="M39 5.5h1M20 24.5h1M17 27.5h1M16 28.5h1M15 29.5h1M14 30.5h1M13 31.5h1M12 32.5h1M11 33.5h1M10 34.5h1M9 35.5h1M8 36.5h1M7 37.5h1M6 38.5h1M5 39.5h1M4 40.5h1M3 41.5h1M2 42.5h1M1 43.5h1M0 44.5h1"/><path stroke="#e58787" d="M22 7.5h1M8 27.5h1M12 27.5h2M1 28.5h1M3 28.5h1M9 28.5h2M13 28.5h1M0 29.5h1M3 29.5h1M1 30.5h1M0 31.5h2M1 34.5h2M2 35.5h1M2 36.5h1M10 38.5h1M0 39.5h2M13 39.5h1M0 40.5h2M7 40.5h1M11 40.5h2M0 42.5h1M12 42.5h2M1 44.5h1"/><path stroke="#e79090" d="M25 7.5h1M22 9.5h1M37 9.5h1M25 12.5h1M25 13.5h1M37 14.5h1M25 15.5h1M21 21.5h1M21 22.5h1M24 26.5h2M11 27.5h1M14 27.5h1M1 29.5h1M0 30.5h1M2 32.5h1M0 33.5h1M2 33.5h2M3 34.5h1M3 35.5h1M1 38.5h1M13 38.5h1M2 39.5h1M11 41.5h1M14 41.5h1M2 44.5h2M9 44.5h1M11 44.5h1"/><path stroke="#d03838" d="M36 8.5h1M30 14.5h1M29 15.5h1M25 19.5h1M24 20.5h1M23 21.5h1"/><path stroke="#b5c3f3" d="M17 10.5h1M14 12.5h1M26 27.5h1M31 27.5h1M35 27.5h1M24 29.5h1M38 29.5h1M26 30.5h1M42 30.5h1M44 30.5h1M26 31.5h1M32 31.5h1M39 31.5h2M44 31.5h1M29 32.5h1M32 32.5h1M42 32.5h1M24 33.5h1M27 33.5h1M31 33.5h1M44 33.5h1M31 34.5h1M29 35.5h1M32 35.5h1M34 35.5h1M37 35.5h1M25 36.5h1M32 36.5h1M37 36.5h1M40 36.5h1M29 37.5h1M31 37.5h1M33 37.5h1M42 37.5h1M27 38.5h1M33 38.5h1M37 38.5h1M24 39.5h1M26 39.5h2M37 39.5h1M42 39.5h1M28 40.5h1M31 40.5h1M35 40.5h1M36 41.5h3M27 42.5h1M31 42.5h1M38 42.5h1M24 43.5h1M28 43.5h1M32 43.5h1M36 43.5h1M39 43.5h1M22 44.5h1M25 44.5h1M37 44.5h1"/><path stroke="#d85252" d="M33 11.5h1M7 29.5h1M8 30.5h1M8 31.5h1M11 31.5h2M14 31.5h1M7 32.5h1M14 32.5h1M11 34.5h2M12 35.5h1M7 36.5h1M9 36.5h1M12 36.5h1M10 37.5h1M14 37.5h1"/><path stroke="#f7f8fe" d="M19 12.5h1M19 30.5h1M18 32.5h1M18 37.5h1M18 39.5h1"/><path stroke="#ffffff" d="M18 22.5h1M19 23.5h1M19 24.5h1M5 26.5h1M18 27.5h2M19 28.5h1M18 29.5h1M18 31.5h1M18 36.5h1M19 37.5h1M18 41.5h2M19 42.5h1"/><path stroke="#e7ebfb" d="M5 25.5h1M34 28.5h1M18 30.5h1M33 31.5h1M18 34.5h1M28 36.5h1M39 39.5h1M33 41.5h1M33 42.5h1"/><path stroke="#e17575" d="M0 27.5h1M3 27.5h1M0 28.5h1M7 28.5h1M2 31.5h1M11 32.5h1M0 35.5h1M0 37.5h1M2 37.5h1M0 38.5h1M2 38.5h1M7 38.5h1M11 38.5h2M8 39.5h2M14 39.5h1M2 40.5h1M13 40.5h1M1 41.5h1M7 43.5h1M9 43.5h1M10 44.5h1"/><path stroke="#df6c6c" d="M1 27.5h1M8 28.5h1M9 29.5h1M7 30.5h1M11 30.5h1M10 31.5h1M8 32.5h1M0 36.5h1M8 37.5h1M3 38.5h1M14 38.5h1M11 39.5h1M14 40.5h1M9 41.5h1M12 41.5h1M12 44.5h1"/><path stroke="#e37e7e" d="M2 27.5h1M7 27.5h1M2 28.5h1M12 28.5h1M14 28.5h1M2 29.5h1M2 30.5h1M0 32.5h1M0 34.5h1M1 36.5h1M3 36.5h1M3 37.5h1M7 39.5h1M10 39.5h1M12 39.5h1M3 40.5h1M8 40.5h3M8 41.5h1M13 41.5h1M9 42.5h1M14 42.5h1M0 43.5h1M2 43.5h2M8 43.5h1M11 43.5h2"/><path stroke="#c6d1f6" d="M27 27.5h1M36 27.5h1M39 27.5h1M41 27.5h1M43 27.5h2M32 28.5h1M36 28.5h1M40 28.5h1M42 28.5h1M27 29.5h1M30 29.5h1M33 29.5h1M35 29.5h2M28 30.5h1M39 30.5h1M24 31.5h1M27 31.5h1M28 32.5h1M31 32.5h1M40 32.5h1M28 33.5h1M32 33.5h1M34 33.5h1M39 33.5h1M43 33.5h1M32 34.5h2M39 34.5h2M42 35.5h1M44 35.5h1M34 36.5h1M36 36.5h1M39 36.5h1M30 37.5h1M36 37.5h1M35 38.5h1M40 38.5h1M31 39.5h2M34 39.5h1M40 39.5h1M44 39.5h1M32 40.5h1M34 40.5h1M34 41.5h1M28 42.5h1M34 42.5h1M39 42.5h1M43 42.5h2M31 43.5h1M34 43.5h1M42 43.5h1M28 44.5h1M43 44.5h1"/><path stroke="#becaf4" d="M28 27.5h2M40 27.5h1M30 28.5h2M39 28.5h1M26 29.5h1M37 29.5h1M40 29.5h1M44 29.5h1M27 30.5h1M37 31.5h1M42 31.5h1M24 32.5h1M30 32.5h1M34 32.5h3M40 33.5h3M26 35.5h1M40 35.5h1M26 36.5h1M35 36.5h1M42 36.5h1M44 36.5h1M25 37.5h1M27 37.5h2M34 37.5h1M37 37.5h1M44 37.5h1M38 38.5h1M42 38.5h1M44 38.5h1M28 39.5h1M27 40.5h1M30 40.5h1M40 40.5h1M42 40.5h1M24 41.5h1M28 41.5h1M31 41.5h1M42 41.5h3M24 42.5h1M37 42.5h1M27 43.5h1M37 43.5h1M40 43.5h1M26 44.5h1M33 44.5h1M35 44.5h1M39 44.5h2"/><path stroke="#d6def8" d="M33 27.5h1M39 29.5h1M37 30.5h1M43 30.5h1M36 31.5h1M41 31.5h1M41 32.5h1M36 33.5h1M41 34.5h1M43 34.5h1M33 35.5h1M41 35.5h1M39 37.5h1M34 38.5h1M33 40.5h1M36 40.5h1M43 40.5h1M39 41.5h2M33 43.5h1M43 43.5h2M41 44.5h1"/><path stroke="#ced8f7" d="M34 27.5h1M37 28.5h1M34 29.5h1M43 29.5h1M33 30.5h1M36 30.5h1M40 30.5h2M28 31.5h1M43 31.5h1M27 32.5h1M37 32.5h1M39 32.5h1M33 33.5h1M34 34.5h2M35 35.5h2M39 35.5h1M43 35.5h1M31 36.5h1M33 36.5h1M43 36.5h1M26 37.5h1M35 37.5h1M40 37.5h1M43 37.5h1M36 38.5h1M39 38.5h1M36 39.5h1M41 39.5h1M43 39.5h1M41 40.5h1M30 42.5h1M41 42.5h2M34 44.5h1"/><path stroke="#dee5fa" d="M33 28.5h1M41 28.5h1M41 29.5h1M33 32.5h1M43 32.5h2M44 34.5h1M28 35.5h1M41 36.5h1M41 38.5h1M43 38.5h1M33 39.5h1M39 40.5h1M41 41.5h1M36 42.5h1M41 43.5h1"/><path stroke="#db5b5b" d="M8 29.5h1M10 29.5h3M9 30.5h2M12 30.5h2M7 33.5h1M7 34.5h1M9 34.5h1M13 34.5h1M7 35.5h2M10 35.5h2M13 35.5h1M11 36.5h1M11 37.5h2M7 42.5h1M7 44.5h1"/><path stroke="#dd6363" d="M13 29.5h2M3 30.5h1M7 31.5h1M9 31.5h1M13 32.5h1M8 33.5h1M10 33.5h1M12 33.5h1M14 33.5h1M14 34.5h1M10 36.5h1M13 36.5h1M10 42.5h1M14 43.5h1M8 44.5h1"/><path stroke="#eff2fc" d="M19 39.5h1M18 40.5h1"/></g>
<rect x="15" y="1289.1" width="15" height="197.5" fill="#00BFA6"/>
<rect x="15" y="1486.6" width="15" height="131.9" fill="#00AEFA"/>
<g transform="translate(32.1 1714.2) scale(9.43 9.43)" stroke-width="1.02" fill="none" shape-rendering="crispEdges"><path stroke="#6c8ae7" d="M0 0.5h1M5 0.5h1M4 1.5h1M6 2.5h1M4 5.5h1M0 6.5h1M7 7.5h1M6 8.5h1M0 9.5h1M6 9.5h1M0 12.5h1M0 15.5h1M7 16.5h1M7 19.5h2"/><path stroke="#5276e3" d="M1 0.5h1M1 1.5h1M5 3.5h1M5 5.5h1M1 8.5h1M5 8.5h1M5 9.5h1M3 11.5h1M1 13.5h1M5 13.5h1M1 14.5h1M5 16.5h1M5 17.5h1M1 18.5h1M0 21.5h1"/><path stroke="#3f65e0" d="M2 0.5h1M2 9.5h1M1 10.5h2M2 16.5h1M1 17.5h1M4 21.5h1M7 22.5h1"/><path stroke="#4268e1" d="M3 0.5h1M2 1.5h1M1 11.5h1M2 13.5h1M2 17.5h1M2 19.5h1M4 22.5h1M6 22.5h1"/><path stroke="#4d71e3" d="M4 0.5h1M5 2.5h1M1 3.5h1M3 3.5h1M1 5.5h1M3 7.5h1M5 7.5h1M1 9.5h1M3 9.5h1M5 10.5h1M5 14.5h1M3 15.5h1M5 15.5h1M3 17.5h1M3 18.5h1M1 19.5h1"/><path stroke="#5f80e5" d="M6 0.5h1M0 1.5h1M3 2.5h1M3 4.5h1M5 4.5h1M3 6.5h1M3 8.5h2M6 10.5h1M0 11.5h1M6 12.5h1M3 14.5h1M7 15.5h1M0 16.5h1M6 19.5h1M7 20.5h1M0 22.5h1"/><path stroke="#738fe8" d="M7 0.5h1M6 1.5h1M7 2.5h1M6 5.5h1M7 9.5h1M7 11.5h1M0 14.5h1M4 14.5h1M7 14.5h1M6 15.5h1M4 17.5h1M16 25.5h1"/><path stroke="#7994e9" d="M8 0.5h1M7 1.5h1M0 2.5h1M8 2.5h1M0 3.5h1M6 3.5h1M6 6.5h1M0 8.5h1M4 9.5h1M7 10.5h1M4 12.5h1M7 12.5h1M6 13.5h1M4 15.5h1M0 18.5h1M0 19.5h1M0 20.5h1M8 21.5h1M8 22.5h1M15 26.5h2"/><path stroke="#acbcf1" d="M9 0.5h1M10 5.5h1M9 6.5h1M9 15.5h2M9 16.5h1M8 17.5h1M10 17.5h1M1 20.5h1M2 22.5h1M4 23.5h1M19 23.5h1M20 27.5h1M30 28.5h1M23 30.5h1M28 31.5h1M26 32.5h1M34 33.5h1"/><path stroke="#d6def8" d="M10 0.5h1M11 1.5h1M11 2.5h1M11 5.5h1M11 8.5h1M11 14.5h1M18 23.5h1M33 23.5h1M18 24.5h1M20 24.5h1M23 24.5h1M25 24.5h2M31 24.5h1M33 25.5h1M20 26.5h1M32 26.5h1M34 26.5h1M16 27.5h1M25 27.5h1M30 27.5h1M26 28.5h1M28 28.5h1M32 28.5h1M20 29.5h2M24 29.5h1M26 29.5h3M30 29.5h1M32 29.5h1M15 30.5h1M19 30.5h1M25 30.5h1M27 30.5h1M31 31.5h1M34 31.5h1M17 32.5h1M29 32.5h2M33 32.5h1M15 33.5h1M22 33.5h4M27 33.5h1M26 34.5h1M31 34.5h1M33 34.5h1"/><path stroke="#becaf4" d="M11 0.5h1M10 4.5h1M11 7.5h1M10 8.5h1M9 14.5h2M20 23.5h2M24 23.5h2M34 23.5h1M18 25.5h1M22 25.5h1M29 25.5h1M26 26.5h1M17 27.5h1M28 27.5h2M32 27.5h1M23 28.5h1M25 28.5h1M27 28.5h1M18 29.5h2M34 29.5h1M18 30.5h1M24 30.5h1M30 30.5h1M21 31.5h1M30 31.5h1M24 32.5h1M16 33.5h1M20 33.5h1"/><path stroke="#fefafa" d="M12 0.5h1M14 2.5h1M28 2.5h1M12 3.5h1M22 3.5h1M26 3.5h1M12 4.5h1M14 4.5h1M12 5.5h1M12 6.5h1M14 6.5h1M19 6.5h2M24 6.5h1M33 6.5h1M12 7.5h1M12 8.5h1M14 8.5h1M12 9.5h1M12 11.5h2M14 12.5h1M16 12.5h1M34 12.5h1M12 13.5h1M12 14.5h1M14 14.5h1M12 16.5h1M12 17.5h1M14 17.5h1M25 18.5h1M12 19.5h1M14 19.5h1M9 20.5h1M12 20.5h1M17 20.5h1M24 20.5h1M26 20.5h3M31 20.5h1M15 21.5h1M18 21.5h3M11 22.5h1M15 22.5h2M20 22.5h1M22 22.5h2M26 22.5h1M34 22.5h1M2 23.5h1M13 23.5h1M2 24.5h2M11 24.5h1M13 24.5h1M6 25.5h1M10 25.5h1M13 25.5h2M2 26.5h2M12 26.5h2M1 27.5h2M5 27.5h1M14 27.5h1M0 28.5h1M5 28.5h1M8 28.5h1M12 28.5h1M4 29.5h1M10 29.5h1M13 29.5h2M5 30.5h1M9 30.5h2M12 30.5h2M0 31.5h1M8 31.5h3M13 31.5h1M0 32.5h1M4 32.5h1M6 32.5h2M9 32.5h1M13 32.5h2M4 33.5h2M8 33.5h1M12 33.5h1M6 34.5h1"/><path stroke="#f7f8fe" d="M13 0.5h1M13 1.5h1M13 6.5h1M13 7.5h1M13 9.5h1M13 12.5h1M13 15.5h1M13 16.5h1M13 17.5h1M13 18.5h1M32 20.5h1M17 21.5h1M25 21.5h1M28 21.5h1M31 21.5h2M34 21.5h1M17 22.5h1M21 22.5h1M27 22.5h1M29 22.5h4M31 25.5h1M9 28.5h1M18 33.5h1M24 34.5h1"/><path stroke="#ffffff" d="M14 0.5h1M14 1.5h1M13 2.5h1M13 3.5h2M13 5.5h2M14 7.5h1M13 8.5h1M14 9.5h1M12 10.5h2M14 11.5h1M12 12.5h1M13 13.5h2M13 14.5h1M12 15.5h1M14 15.5h1M14 16.5h1M12 18.5h1M14 18.5h1M13 19.5h1M15 20.5h2M19 20.5h4M29 20.5h2M34 20.5h1M9 21.5h1M11 21.5h1M16 21.5h1M23 21.5h2M26 21.5h2M29 21.5h1M33 21.5h1M18 22.5h2M24 22.5h1M28 22.5h1M7 25.5h1M11 25.5h1M11 26.5h1M6 29.5h1M7 31.5h1M20 31.5h1M5 32.5h1M6 33.5h1M13 33.5h1"/><path stroke="#fcf4f4" d="M15 0.5h2M19 0.5h2M22 0.5h4M30 0.5h3M12 1.5h1M16 1.5h5M22 1.5h3M26 1.5h2M30 1.5h1M32 1.5h1M34 1.5h1M12 2.5h1M17 2.5h1M22 2.5h6M31 2.5h1M33 2.5h2M15 3.5h3M21 3.5h1M23 3.5h1M27 3.5h1M32 3.5h3M15 4.5h5M21 4.5h1M24 4.5h3M28 4.5h2M33 4.5h1M16 5.5h1M21 5.5h1M23 5.5h1M25 5.5h4M31 5.5h2M34 5.5h1M15 6.5h2M18 6.5h1M22 6.5h2M25 6.5h3M29 6.5h3M34 6.5h1M15 7.5h2M18 7.5h1M22 7.5h1M24 7.5h3M28 7.5h3M15 8.5h4M21 8.5h2M29 8.5h2M34 8.5h1M15 9.5h1M17 9.5h4M22 9.5h1M26 9.5h3M34 9.5h1M14 10.5h1M16 10.5h1M18 10.5h1M20 10.5h3M25 10.5h4M30 10.5h1M32 10.5h2M18 11.5h1M20 11.5h2M24 11.5h1M26 11.5h2M31 11.5h1M34 11.5h1M15 12.5h1M17 12.5h1M19 12.5h3M23 12.5h3M27 12.5h1M29 12.5h1M15 13.5h1M17 13.5h3M23 13.5h3M27 13.5h2M30 13.5h4M16 14.5h2M19 14.5h1M22 14.5h1M24 14.5h4M29 14.5h1M31 14.5h1M34 14.5h1M17 15.5h2M20 15.5h1M24 15.5h1M26 15.5h2M29 15.5h1M31 15.5h1M34 15.5h1M15 16.5h2M20 16.5h4M30 16.5h1M32 16.5h3M18 17.5h2M26 17.5h3M30 17.5h1M32 17.5h2M15 18.5h1M18 18.5h1M20 18.5h2M27 18.5h4M18 19.5h2M22 19.5h1M25 19.5h4M33 19.5h2M10 20.5h1M13 20.5h1M18 20.5h1M23 20.5h1M10 21.5h1M12 21.5h1M14 21.5h1M21 21.5h2M30 21.5h1M9 22.5h2M13 22.5h2M25 22.5h1M33 22.5h1M1 23.5h1M3 23.5h1M5 23.5h2M9 23.5h1M12 23.5h1M1 24.5h1M6 24.5h1M9 24.5h1M12 24.5h1M1 25.5h2M8 25.5h1M12 25.5h1M5 26.5h1M7 26.5h1M9 26.5h2M0 27.5h1M4 27.5h1M8 27.5h2M11 27.5h1M13 27.5h1M1 28.5h2M4 28.5h1M7 28.5h1M10 28.5h2M13 28.5h1M1 29.5h1M3 29.5h1M7 29.5h3M6 30.5h1M8 30.5h1M11 30.5h1M6 31.5h1M11 32.5h2M0 33.5h1M7 33.5h1M9 33.5h2M4 34.5h2M7 34.5h1M10 34.5h2M13 34.5h2"/><path stroke="#fbefef" d="M17 0.5h2M21 0.5h1M26 0.5h4M33 0.5h1M15 1.5h1M21 1.5h1M25 1.5h1M28 1.5h2M31 1.5h1M15 2.5h2M18 2.5h4M29 2.5h2M18 3.5h3M24 3.5h2M28 3.5h3M20 4.5h1M22 4.5h2M27 4.5h1M31 4.5h2M34 4.5h1M15 5.5h1M17 5.5h4M22 5.5h1M24 5.5h1M30 5.5h1M33 5.5h1M17 6.5h1M21 6.5h1M32 6.5h1M17 7.5h1M19 7.5h3M23 7.5h1M31 7.5h4M19 8.5h2M23 8.5h3M27 8.5h2M31 8.5h3M16 9.5h1M21 9.5h1M23 9.5h2M29 9.5h5M15 10.5h1M17 10.5h1M19 10.5h1M23 10.5h1M29 10.5h1M31 10.5h1M34 10.5h1M15 11.5h3M19 11.5h1M22 11.5h1M25 11.5h1M28 11.5h3M32 11.5h2M18 12.5h1M26 12.5h1M30 12.5h4M16 13.5h1M20 13.5h1M22 13.5h1M26 13.5h1M29 13.5h1M34 13.5h1M15 14.5h1M18 14.5h1M21 14.5h1M23 14.5h1M28 14.5h1M30 14.5h1M32 14.5h2M15 15.5h2M21 15.5h3M25 15.5h1M28 15.5h1M30 15.5h1M32 15.5h2M17 16.5h1M19 16.5h1M24 16.5h6M31 16.5h1M15 17.5h2M20 17.5h6M29 17.5h1M31 17.5h1M34 17.5h1M17 18.5h1M19 18.5h1M22 18.5h3M26 18.5h1M31 18.5h4M16 19.5h2M20 19.5h2M23 19.5h2M29 19.5h4M11 20.5h1M10 23.5h1M14 23.5h1M5 24.5h1M8 24.5h1M14 24.5h1M3 25.5h1M5 25.5h1M6 26.5h1M14 26.5h1M3 27.5h1M6 27.5h1M10 27.5h1M12 27.5h1M3 28.5h1M14 28.5h1M0 29.5h1M2 29.5h1M11 29.5h2M0 30.5h1M3 30.5h1M7 30.5h1M14 30.5h1M4 31.5h2M12 31.5h1M14 31.5h1M8 32.5h1M10 32.5h1M11 33.5h1M14 33.5h1M8 34.5h2M12 34.5h1"/><path stroke="#f8e4e4" d="M34 0.5h1"/><path stroke="#597be4" d="M3 1.5h1M5 1.5h1M0 10.5h1M4 10.5h1M2 11.5h1M2 14.5h1M2 15.5h1M7 17.5h1M4 20.5h1M3 22.5h1"/><path stroke="#9aaeee" d="M8 1.5h1M10 1.5h1M9 2.5h1M9 4.5h1M8 6.5h1M9 7.5h1M10 10.5h1M10 12.5h1M10 13.5h1M8 15.5h1M27 23.5h1M16 24.5h1M17 26.5h1M21 32.5h1M25 32.5h1"/><path stroke="#92a7ed" d="M9 1.5h1M9 3.5h1M10 6.5h1M8 7.5h1M8 11.5h1M8 13.5h2M6 14.5h1M0 17.5h1M9 17.5h1M9 18.5h1M9 19.5h1M8 20.5h1M5 21.5h2M15 25.5h1M17 25.5h1M33 30.5h1M29 34.5h1"/><path stroke="#f7dede" d="M33 1.5h1M32 2.5h1M1 30.5h1M2 34.5h1"/><path stroke="#466be1" d="M1 2.5h2M1 4.5h1M3 5.5h1M5 6.5h1M3 12.5h1M5 12.5h1M3 13.5h1M1 16.5h1M2 18.5h1M5 18.5h1M5 19.5h1"/><path stroke="#89a0eb" d="M4 2.5h1M4 3.5h1M4 4.5h1M4 6.5h1M7 6.5h1M7 8.5h1M8 9.5h1M8 10.5h1M4 11.5h1M8 14.5h1M4 16.5h1M8 18.5h1M7 23.5h1M15 23.5h1M17 23.5h1M15 24.5h1M17 24.5h1"/><path stroke="#e7ebfb" d="M10 2.5h1M11 4.5h1M11 15.5h1M11 17.5h1M11 19.5h1M2 20.5h1M25 20.5h1M1 21.5h1M3 21.5h1M19 24.5h1M27 24.5h1M21 25.5h1M26 25.5h1M32 25.5h1M4 26.5h1M24 26.5h1M29 26.5h1M15 27.5h1M24 27.5h1M31 28.5h1M25 29.5h1M20 30.5h1M31 30.5h1M17 31.5h1M34 32.5h1M28 33.5h1M25 34.5h1M30 34.5h1"/><path stroke="#4a6ee2" d="M2 3.5h1M2 6.5h1M1 7.5h1M3 10.5h1M1 12.5h1M3 16.5h1M3 19.5h1"/><path stroke="#8099ea" d="M7 3.5h2M0 4.5h1M8 5.5h1M0 7.5h1M6 7.5h1M6 11.5h1M10 11.5h1M8 12.5h1M8 16.5h1M6 17.5h1M7 18.5h1M1 22.5h1M5 22.5h1M16 23.5h1"/><path stroke="#c6d1f6" d="M10 3.5h2M9 8.5h1M11 10.5h1M11 12.5h1M6 20.5h1M22 24.5h1M30 24.5h1M32 24.5h2M34 25.5h1M22 26.5h2M25 26.5h1M28 26.5h1M18 27.5h1M27 27.5h1M31 27.5h1M33 27.5h1M16 28.5h1M34 28.5h1M16 29.5h1M15 31.5h1M18 31.5h1M23 31.5h1M25 31.5h1M33 31.5h1M15 32.5h1M18 32.5h1M31 32.5h1M28 34.5h1"/><path stroke="#f6d9d9" d="M31 3.5h1M30 4.5h1"/><path stroke="#345cde" d="M2 4.5h1M7 21.5h1"/><path stroke="#6685e6" d="M6 4.5h2M0 5.5h1M7 5.5h1M4 7.5h1M0 13.5h1M4 13.5h1M7 13.5h1M6 16.5h1M4 18.5h1M6 18.5h1M4 19.5h1"/><path stroke="#a3b5f0" d="M8 4.5h1M9 5.5h1M10 7.5h1M8 8.5h1M9 12.5h1M10 19.5h1M5 20.5h1M19 27.5h1"/><path stroke="#eff2fc" d="M13 4.5h1M11 9.5h1M33 20.5h1M29 23.5h1M0 24.5h1M24 25.5h1M30 25.5h1M19 26.5h1M26 27.5h1M15 28.5h1M17 28.5h1M15 29.5h1M19 32.5h2M22 34.5h1M32 34.5h1"/><path stroke="#3b62df" d="M2 5.5h1M1 6.5h1M2 7.5h1M5 11.5h1M2 12.5h1"/><path stroke="#f4d3d3" d="M29 5.5h1M28 6.5h1M27 7.5h1M3 33.5h1"/><path stroke="#dee5fa" d="M11 6.5h1M22 23.5h1M7 24.5h1M21 24.5h1M24 24.5h1M29 24.5h1M34 24.5h1M0 25.5h1M4 25.5h1M19 25.5h1M28 25.5h1M0 26.5h1M21 26.5h1M30 26.5h1M22 27.5h2M17 29.5h1M31 29.5h1M16 30.5h2M21 30.5h1M29 30.5h1M22 31.5h1M29 31.5h1M28 32.5h1M32 32.5h1M29 33.5h1M20 34.5h2M27 34.5h1"/><path stroke="#385fdf" d="M2 8.5h1M1 15.5h1"/><path stroke="#f3cccc" d="M26 8.5h1M25 9.5h1M1 31.5h1"/><path stroke="#b5c3f3" d="M9 9.5h2M9 10.5h1M9 11.5h1M10 16.5h1M10 18.5h1M3 20.5h1M0 23.5h1M30 23.5h3M4 24.5h1M23 25.5h1M25 25.5h1M27 25.5h1M31 26.5h1M33 26.5h1M21 27.5h1M22 29.5h2M29 29.5h1M33 29.5h1M22 30.5h1M28 30.5h1M16 31.5h1M24 31.5h1M26 33.5h1M16 34.5h2M19 34.5h1"/><path stroke="#f2c5c5" d="M24 10.5h1M23 11.5h1M1 32.5h1M3 32.5h1"/><path stroke="#ced8f7" d="M11 11.5h1M11 13.5h1M11 16.5h1M11 18.5h1M2 21.5h1M8 23.5h1M23 23.5h1M26 23.5h1M28 23.5h1M28 24.5h1M20 25.5h1M18 26.5h1M27 26.5h1M34 27.5h1M18 28.5h5M24 28.5h1M29 28.5h1M33 28.5h1M26 30.5h1M32 30.5h1M34 30.5h1M19 31.5h1M26 31.5h2M32 31.5h1M16 32.5h1M22 32.5h2M27 32.5h1M17 33.5h1M19 33.5h1M21 33.5h1M30 33.5h4M15 34.5h1M18 34.5h1M23 34.5h1M34 34.5h1"/><path stroke="#f0bebe" d="M22 12.5h1M21 13.5h1M20 14.5h1M2 33.5h1"/><path stroke="#fae9e9" d="M28 12.5h1M1 26.5h1M2 30.5h1M11 31.5h1M1 34.5h1M3 34.5h1"/><path stroke="#efb7b7" d="M19 15.5h1M18 16.5h1"/><path stroke="#eeb0b0" d="M17 17.5h1M16 18.5h1"/><path stroke="#eca9a9" d="M15 19.5h1M2 31.5h1"/><path stroke="#cd2f2f" d="M14 20.5h1M13 21.5h1M12 22.5h1M11 23.5h1M10 24.5h1M9 25.5h1M8 26.5h1M7 27.5h1M6 28.5h1M5 29.5h1M4 30.5h1M3 31.5h1M2 32.5h1M1 33.5h1M0 34.5h1"/></g>
<rect x="14" y="1714.2" width="15" height="188.6" fill="#00BCD8"/>
<rect x="14" y="1902.8" width="15" height="141.5" fill="#BE9C00"/>
<defs><linearGradient id="cgrad" x1="0" x2="0" y1="0" y2="1"><stop offset="0" stop-color="#C00000"/><stop offset="0.25" stop-color="#DC6464"/><stop offset="0.5" stop-color="#FFFFFF"/><stop offset="0.75" stop-color="#A8BCE6"/><stop offset="1" stop-color="#4472C4"/></linearGradient></defs>
<text x="3.0" y="1275.0" font-size="24" text-anchor="start" fill="#000">c</text>
<text x="91.0" y="1283.6" font-size="22.3" text-anchor="start" fill="#000">Plasma vs Memory B</text>
<rect x="371.6" y="1322" width="36" height="17" fill="#00BFA6"/>
<rect x="371.6" y="1352" width="36" height="17" fill="#00AEFA"/>
<text x="419.0" y="1337.0" font-size="22.3" text-anchor="start" fill="#000">Plasma</text>
<text x="419.0" y="1368.0" font-size="22.3" text-anchor="start" fill="#000">Memory B</text>
<text x="387.0" y="1488.6" font-size="14.9" text-anchor="start" fill="#000">Spearman</text>
<text x="387.0" y="1506.8" font-size="14.9" text-anchor="start" fill="#000">correlation</text>
<rect x="385.5" y="1521.2" width="22" height="90.6" fill="url(#cgrad)"/>
<text x="414.0" y="1533.0" font-size="14.9" text-anchor="start" fill="#000">1.0</text>
<text x="413.5" y="1571.0" font-size="14.9" text-anchor="start" fill="#000">0</text>
<text x="414.0" y="1611.0" font-size="14.9" text-anchor="start" fill="#000">-1.0</text>
<text x="6.0" y="1690.0" font-size="24" text-anchor="start" fill="#000">f</text>
<text x="75.0" y="1680.7" font-size="22.3" text-anchor="start" fill="#000">EM CD8<tspan font-size="13.8" dy="-8.0">+</tspan><tspan dy="8.0"> T vs TRM CD8</tspan><tspan font-size="13.8" dy="-8">+</tspan></text>
<text x="203.0" y="1706.7" font-size="22.3" text-anchor="middle" fill="#000">T</text>
<rect x="373" y="1740" width="36.6" height="17" fill="#00BCD8"/>
<rect x="373" y="1771" width="36.6" height="16.5" fill="#BE9C00"/>
<text x="421.0" y="1755.0" font-size="22.3" text-anchor="start" fill="#000">CM CD8<tspan font-size="13.8" dy="-8.0">+</tspan><tspan dy="8.0"> T</tspan></text>
<text x="421.5" y="1785.0" font-size="22.3" text-anchor="start" fill="#000">TRM CD8<tspan font-size="13.8" dy="-8.0">+</tspan><tspan dy="8.0"> T</tspan></text>
<text x="387.0" y="1919.6" font-size="14.9" text-anchor="start" fill="#000">Spearman</text>
<text x="387.0" y="1937.5" font-size="14.9" text-anchor="start" fill="#000">correlation</text>
<rect x="385.5" y="1950.2" width="22" height="91" fill="url(#cgrad)"/>
<text x="414.0" y="1962.0" font-size="14.9" text-anchor="start" fill="#000">1.0</text>
<text x="413.5" y="1999.6" font-size="14.9" text-anchor="start" fill="#000">0</text>
<text x="414.0" y="2039.6" font-size="14.9" text-anchor="start" fill="#000">-1.0</text>
<g transform="matrix(0.585 0 0 0.533 517.0 1284.5)" stroke-width="3.22" stroke-linecap="round" fill="none"><use href="#q0_0" stroke="#EDED14"/><use href="#q0_1" stroke="#A8D23C"/><use href="#q0_2" stroke="#1B4F3A"/><use href="#q0_4" stroke="#EDED14"/><use href="#q0_5" stroke="#EDED14"/><use href="#q0_6" stroke="#EDED14"/><use href="#q1_0" stroke="#1B4F3A"/><use href="#q1_1" stroke="#EDED14"/><use href="#q1_2" stroke="#1B4F3A"/><use href="#q1_4" stroke="#A8D23C"/><use href="#q1_5" stroke="#173F5A"/><use href="#q1_6" stroke="#EDED14"/><use href="#q2_0" stroke="#EDED14"/><use href="#q2_1" stroke="#EDED14"/><use href="#q2_2" stroke="#A8D23C"/><use href="#q2_4" stroke="#EDED14"/><use href="#q2_5" stroke="#1B4F3A"/><use href="#q2_6" stroke="#EDED14"/><use href="#q3_0" stroke="#EDED14"/><use href="#q3_1" stroke="#1B4F3A"/><use href="#q3_2" stroke="#EDED14"/><use href="#q3_4" stroke="#EDED14"/><use href="#q3_5" stroke="#A8D23C"/><use href="#q3_6" stroke="#1B4F3A"/><use href="#q4_0" stroke="#2E9E4E"/><use href="#q4_1" stroke="#EDED14"/><use href="#q4_2" stroke="#1B4F3A"/><use href="#q4_4" stroke="#1B4F3A"/><use href="#q4_5" stroke="#1B4F3A"/><use href="#q4_6" stroke="#173F5A"/><use href="#q5_0" stroke="#173F5A"/><use href="#q5_1" stroke="#1B4F3A"/><use href="#q5_2" stroke="#1B4F3A"/><use href="#q5_4" stroke="#2E9E4E"/><use href="#q5_5" stroke="#EDED14"/><use href="#q5_6" stroke="#1B4F3A"/><use href="#q6_0" stroke="#1B4F3A"/><use href="#q6_1" stroke="#1B4F3A"/><use href="#q6_2" stroke="#173F5A"/><use href="#q6_4" stroke="#1B4F3A"/><use href="#q6_5" stroke="#173F5A"/><use href="#q6_6" stroke="#2E9E4E"/><use href="#q7_0" stroke="#1B4F3A"/><use href="#q7_1" stroke="#EDED14"/><use href="#q7_2" stroke="#1B4F3A"/><use href="#q7_4" stroke="#A8D23C"/><use href="#q7_5" stroke="#1B4F3A"/><use href="#q7_6" stroke="#173F5A"/><use href="#q8_0" stroke="#EDED14"/><use href="#q8_1" stroke="#EDED14"/><use href="#q8_2" stroke="#1B4F3A"/><use href="#q8_4" stroke="#EDED14"/><use href="#q8_5" stroke="#A8D23C"/><use href="#q8_6" stroke="#EDED14"/><use href="#q9_0" stroke="#EDED14"/><use href="#q9_1" stroke="#A8D23C"/><use href="#q9_2" stroke="#1B4F3A"/><use href="#q9_4" stroke="#EDED14"/><use href="#q9_5" stroke="#EDED14"/><use href="#q9_6" stroke="#1B4F3A"/><use href="#q10_0" stroke="#1B4F3A"/><use href="#q10_1" stroke="#EDED14"/><use href="#q10_2" stroke="#EDED14"/><use href="#q10_4" stroke="#1B4F3A"/><use href="#q10_5" stroke="#173F5A"/><use href="#q10_6" stroke="#EDED14"/><use href="#q11_0" stroke="#A8D23C"/><use href="#q11_1" stroke="#1B4F3A"/><use href="#q11_2" stroke="#1B4F3A"/><use href="#q11_4" stroke="#EDED14"/><use href="#q11_5" stroke="#EDED14"/><use href="#q11_6" stroke="#EDED14"/><use href="#q12_0" stroke="#1B4F3A"/><use href="#q12_1" stroke="#173F5A"/><use href="#q12_2" stroke="#1B4F3A"/><use href="#q12_4" stroke="#2E9E4E"/><use href="#q12_5" stroke="#1B4F3A"/><use href="#q12_6" stroke="#EDED14"/><use href="#q13_0" stroke="#173F5A"/><use href="#q13_1" stroke="#1B4F3A"/><use href="#q13_2" stroke="#1A2496"/><use href="#q13_4" stroke="#173F5A"/><use href="#q13_5" stroke="#1B4F3A"/><use href="#q13_6" stroke="#1B4F3A"/><use href="#q14_0" stroke="#173F5A"/><use href="#q14_1" stroke="#1A2496"/><use href="#q14_2" stroke="#1A2496"/><use href="#q14_4" stroke="#1A2496"/><use href="#q14_5" stroke="#1B4F3A"/><use href="#q14_6" stroke="#173F5A"/><use href="#q15_0" stroke="#1A2496"/><use href="#q15_1" stroke="#1A2496"/><use href="#q15_2" stroke="#173F5A"/><use href="#q15_4" stroke="#173F5A"/><use href="#q15_5" stroke="#1B4F3A"/><use href="#q15_6" stroke="#1B4F3A"/><use href="#q16_0" stroke="#1B4F3A"/><use href="#q16_1" stroke="#173F5A"/><use href="#q16_2" stroke="#1B4F3A"/><use href="#q16_4" stroke="#1A2496"/><use href="#q16_5" stroke="#1A2496"/><use href="#q16_6" stroke="#173F5A"/><use href="#q17_0" stroke="#173F5A"/><use href="#q17_1" stroke="#2E9E4E"/><use href="#q17_2" stroke="#EDED14"/><use href="#q17_4" stroke="#1B4F3A"/><use href="#q17_5" stroke="#1B4F3A"/><use href="#q17_6" stroke="#1B4F3A"/><use href="#q18_0" stroke="#173F5A"/><use href="#q18_1" stroke="#173F5A"/><use href="#q18_2" stroke="#1B4F3A"/><use href="#q18_4" stroke="#1B4F3A"/><use href="#q18_5" stroke="#1B4F3A"/><use href="#q18_6" stroke="#2E9E4E"/><use href="#q19_0" stroke="#173F5A"/><use href="#q19_1" stroke="#1B4F3A"/><use href="#q19_2" stroke="#1B4F3A"/><use href="#q19_4" stroke="#1B4F3A"/><use href="#q19_5" stroke="#173F5A"/><use href="#q19_6" stroke="#2E9E4E"/><use href="#q20_0" stroke="#1B4F3A"/><use href="#q20_1" stroke="#1B4F3A"/><use href="#q20_2" stroke="#1B4F3A"/><use href="#q20_4" stroke="#1B4F3A"/><use href="#q20_5" stroke="#2E9E4E"/><use href="#q20_6" stroke="#173F5A"/></g>
<g transform="matrix(0.561 0 0 0.548 519.9 1695.9)" stroke-width="3.07" stroke-linecap="round" fill="none"><use href="#q0_0" stroke="#237A6A"/><use href="#q0_1" stroke="#3AA860"/><use href="#q0_2" stroke="#9CCB3A"/><use href="#q0_4" stroke="#3AA860"/><use href="#q0_5" stroke="#3AA860"/><use href="#q0_6" stroke="#E8E820"/><use href="#q1_0" stroke="#9CCB3A"/><use href="#q1_1" stroke="#237A6A"/><use href="#q1_2" stroke="#3AA860"/><use href="#q1_4" stroke="#3AA860"/><use href="#q1_5" stroke="#3AA860"/><use href="#q1_6" stroke="#237A6A"/><use href="#q2_0" stroke="#3AA860"/><use href="#q2_1" stroke="#3AA860"/><use href="#q2_2" stroke="#237A6A"/><use href="#q2_4" stroke="#9CCB3A"/><use href="#q2_5" stroke="#3AA860"/><use href="#q2_6" stroke="#237A6A"/><use href="#q3_0" stroke="#3AA860"/><use href="#q3_1" stroke="#2438B0"/><use href="#q3_2" stroke="#3AA860"/><use href="#q3_4" stroke="#237A6A"/><use href="#q3_5" stroke="#237A6A"/><use href="#q3_6" stroke="#3AA860"/><use href="#q4_0" stroke="#3AA860"/><use href="#q4_1" stroke="#2438B0"/><use href="#q4_2" stroke="#3AA860"/><use href="#q4_4" stroke="#237A6A"/><use href="#q4_5" stroke="#3AA860"/><use href="#q4_6" stroke="#237A6A"/><use href="#q5_0" stroke="#3AA860"/><use href="#q5_1" stroke="#2438B0"/><use href="#q5_2" stroke="#237A6A"/><use href="#q5_4" stroke="#237A6A"/><use href="#q5_5" stroke="#3AA860"/><use href="#q5_6" stroke="#3AA860"/><use href="#q6_0" stroke="#3AA860"/><use href="#q6_1" stroke="#3AA860"/><use href="#q6_2" stroke="#1A1A90"/><use href="#q6_4" stroke="#237A6A"/><use href="#q6_5" stroke="#2438B0"/><use href="#q6_6" stroke="#2438B0"/><use href="#q7_0" stroke="#237A6A"/><use href="#q7_1" stroke="#3AA860"/><use href="#q7_2" stroke="#9CCB3A"/><use href="#q7_4" stroke="#3AA860"/><use href="#q7_5" stroke="#3AA860"/><use href="#q7_6" stroke="#237A6A"/><use href="#q8_0" stroke="#237A6A"/><use href="#q8_1" stroke="#3AA860"/><use href="#q8_2" stroke="#9CCB3A"/><use href="#q8_4" stroke="#3AA860"/><use href="#q8_5" stroke="#3AA860"/><use href="#q8_6" stroke="#237A6A"/><use href="#q9_0" stroke="#237A6A"/><use href="#q9_1" stroke="#3AA860"/><use href="#q9_2" stroke="#3AA860"/><use href="#q9_4" stroke="#237A6A"/><use href="#q9_5" stroke="#9CCB3A"/><use href="#q9_6" stroke="#3AA860"/><use href="#q10_0" stroke="#E8E820"/><use href="#q10_1" stroke="#3AA860"/><use href="#q10_2" stroke="#9CCB3A"/><use href="#q10_4" stroke="#237A6A"/><use href="#q10_5" stroke="#3AA860"/><use href="#q10_6" stroke="#3AA860"/><use href="#q11_0" stroke="#3AA860"/><use href="#q11_1" stroke="#3AA860"/><use href="#q11_2" stroke="#2438B0"/><use href="#q11_4" stroke="#237A6A"/><use href="#q11_5" stroke="#237A6A"/><use href="#q11_6" stroke="#3AA860"/><use href="#q12_0" stroke="#2438B0"/><use href="#q12_1" stroke="#3AA860"/><use href="#q12_2" stroke="#1A1A90"/><use href="#q12_4" stroke="#1A1A90"/><use href="#q12_5" stroke="#2438B0"/><use href="#q12_6" stroke="#2438B0"/><use href="#q13_0" stroke="#9CCB3A"/><use href="#q13_1" stroke="#3AA860"/><use href="#q13_2" stroke="#E8E820"/><use href="#q13_4" stroke="#237A6A"/><use href="#q13_5" stroke="#3AA860"/><use href="#q13_6" stroke="#3AA860"/><use href="#q14_0" stroke="#3AA860"/><use href="#q14_1" stroke="#3AA860"/><use href="#q14_2" stroke="#3AA860"/><use href="#q14_4" stroke="#E8E820"/><use href="#q14_5" stroke="#237A6A"/><use href="#q14_6" stroke="#9CCB3A"/><use href="#q15_0" stroke="#237A6A"/><use href="#q15_1" stroke="#2438B0"/><use href="#q15_2" stroke="#3AA860"/><use href="#q15_4" stroke="#2438B0"/><use href="#q15_5" stroke="#1A1A90"/><use href="#q15_6" stroke="#2438B0"/><use href="#q16_0" stroke="#1A1A90"/><use href="#q16_1" stroke="#3AA860"/><use href="#q16_2" stroke="#2438B0"/><use href="#q16_4" stroke="#237A6A"/><use href="#q16_5" stroke="#2438B0"/><use href="#q16_6" stroke="#2438B0"/><use href="#q17_0" stroke="#2438B0"/><use href="#q17_1" stroke="#9CCB3A"/><use href="#q17_2" stroke="#3AA860"/><use href="#q17_4" stroke="#237A6A"/><use href="#q17_5" stroke="#3AA860"/><use href="#q17_6" stroke="#3AA860"/><use href="#q18_0" stroke="#3AA860"/><use href="#q18_1" stroke="#3AA860"/><use href="#q18_2" stroke="#237A6A"/><use href="#q18_4" stroke="#237A6A"/><use href="#q18_5" stroke="#2438B0"/><use href="#q18_6" stroke="#2438B0"/><use href="#q19_0" stroke="#3AA860"/><use href="#q19_1" stroke="#3AA860"/><use href="#q19_2" stroke="#3AA860"/><use href="#q19_4" stroke="#237A6A"/><use href="#q19_5" stroke="#237A6A"/><use href="#q19_6" stroke="#2438B0"/><use href="#q20_0" stroke="#3AA860"/><use href="#q20_1" stroke="#2438B0"/><use href="#q20_2" stroke="#237A6A"/><use href="#q20_4" stroke="#237A6A"/><use href="#q20_5" stroke="#3AA860"/><use href="#q20_6" stroke="#3AA860"/></g>
<ellipse cx="836.6" cy="1437.5" rx="70.6" ry="36.2" transform="rotate(8 836.6 1437.5)" fill="none" stroke="#C00000" stroke-width="2"/>
<ellipse cx="708.4" cy="1949" rx="32.6" ry="64.7" fill="none" stroke="#C00000" stroke-width="2"/>
<defs><linearGradient id="vgrad" x1="0" x2="0" y1="0" y2="1"><stop offset="0" stop-color="#000C8C"/><stop offset="0.25" stop-color="#0C5A6E"/><stop offset="0.5" stop-color="#1CB050"/><stop offset="0.75" stop-color="#80C832"/><stop offset="1" stop-color="#FFFF00"/></linearGradient></defs>
<text x="565.6" y="1274.0" font-size="24" text-anchor="start" fill="#000">d</text>
<text x="640.0" y="1286.5" font-size="22.3" text-anchor="start" fill="#000">HGT embedding 51</text>
<text x="811.0" y="1489.7" font-size="14.9" text-anchor="start" fill="#000">HGT</text>
<text x="811.0" y="1506.8" font-size="14.9" text-anchor="start" fill="#000">embedding</text>
<rect x="809.7" y="1520.6" width="21.3" height="90.4" fill="url(#vgrad)"/>
<text x="837.0" y="1533.4" font-size="14.9" text-anchor="start" fill="#000">0.10</text>
<text x="837.0" y="1570.7" font-size="14.9" text-anchor="start" fill="#000">0.05</text>
<text x="837.0" y="1610.0" font-size="14.9" text-anchor="start" fill="#000">0</text>
<path d="M580.5 1600.6V1533.6M580.5 1600.6H652.0" stroke="#000" stroke-width="1.7" fill="none"/>
<path d="M573.5 1533.6L580.5 1518.6L587.5 1533.6Z" fill="#000"/>
<path d="M652.0 1593.6L667.0 1600.6L652.0 1607.6Z" fill="#000"/>
<text transform="translate(571 1589) rotate(-90)" font-size="14.3">UMAP 2</text>
<text x="596.0" y="1623.0" font-size="14.3" text-anchor="start" fill="#000">UMAP 1</text>
<text x="559.0" y="1682.4" font-size="24" text-anchor="start" fill="#000">g</text>
<text x="640.5" y="1712.3" font-size="22.3" text-anchor="start" fill="#000">HGT embedding 56</text>
<text x="811.0" y="1917.5" font-size="14.9" text-anchor="start" fill="#000">HGT</text>
<text x="811.0" y="1936.0" font-size="14.9" text-anchor="start" fill="#000">embedding</text>
<rect x="809.8" y="1950.6" width="21.2" height="90.9" fill="url(#vgrad)"/>
<text x="842.5" y="1962.4" font-size="14.9" text-anchor="start" fill="#000">0.04</text>
<text x="842.5" y="1987.4" font-size="14.9" text-anchor="start" fill="#000">0.02</text>
<text x="842.5" y="2012.6" font-size="14.9" text-anchor="start" fill="#000">0.00</text>
<text x="837.5" y="2039.4" font-size="14.9" text-anchor="start" fill="#000">-0.02</text>
<path d="M580.6 2022V1954M580.6 2022H651.6" stroke="#000" stroke-width="1.7" fill="none"/>
<path d="M573.6 1954L580.6 1939L587.6 1954Z" fill="#000"/>
<path d="M651.6 2015L666.6 2022L651.6 2029Z" fill="#000"/>
<text transform="translate(571 2010.5) rotate(-90)" font-size="14.3">UMAP 2</text>
<text x="595.0" y="2044.7" font-size="14.3" text-anchor="start" fill="#000">UMAP 1</text>
<path d="M1014.3 1500.9l11.9-1.8 11.9-2.2 11.9-2.6 11.9-3.3 11.9-4.3 11.9-5.4 11.9-6.9 11.9-7.8 11.9-8.6 11.9-8.8 12-8.8 11.9-8.3 11.9-7.6 11.9-6.9 11.9-6.3 11.9-5.6 11.9-4.8 11.9-4.2 11.9-3.3 11.9-2.6 11.9-1.9 11.9-1.3 11.9-0.8 11.9-0.5 12-0.4M1014.3 1510.2l11.9-2.1 11.9-2.4 11.9-3 11.9-3.8 11.9-5 11.9-6.5 11.9-8.1 11.9-9.3 11.9-10.1 11.9-10.3 12-10 11.9-9.2 11.9-8.1 11.9-7.2 11.9-6.1 11.9-5.1 11.9-4 11.9-3 11.9-2 11.9-0.9 11.9 0 11.9 0.9 11.9 1.5 11.9 1.9 12 2M1014.3 1494.9l11.9-2.1 11.9-2.4 11.9-2.7 11.9-3.4 11.9-4.1 11.9-5.2 11.9-6.4 11.9-7.3 11.9-8 11.9-8.5 12-8.6 11.9-8.5 11.9-8.2 11.9-7.8 11.9-7 11.9-6.2 11.9-5.1 11.9-3.9 11.9-2.5 11.9-0.9 11.9 0.8 11.9 2.2 11.9 3.1 11.9 3.8 12 4.2M1014.3 1527.9l11.9-6 11.9-6.2 11.9-6.5 11.9-7.1 11.9-7.8 11.9-8.6 11.9-9.7 11.9-10.3 11.9-10.6 11.9-10.4 12-10 11.9-9 11.9-8 11.9-7 11.9-5.9 11.9-5 11.9-4.1 11.9-3.1 11.9-2.3 11.9-1.4 11.9-0.7 11.9 0 11.9 0.5 11.9 0.8 12 0.9M1014.3 1518.5l11.9-1.5 11.9-2 11.9-2.8 11.9-4.2 11.9-5.9 11.9-8.1 11.9-10.5 11.9-12.3 11.9-13.3 11.9-13.3 12-12.6 11.9-11.1 11.9-9.2 11.9-7.7 11.9-6.3 11.9-5.2 11.9-4.3 11.9-3.7 11.9-3.3 11.9-3 11.9-3 11.9-3.1 11.9-3 11.9-3 12-3M1014.3 1525.1l11.9-4.9 11.9-5 11.9-5.4 11.9-6 11.9-6.8 11.9-7.9 11.9-8.9 11.9-9.8 11.9-10.1 11.9-10.3 12-9.8 11.9-9.1 11.9-8.2 11.9-7.3 11.9-6.5 11.9-5.8 11.9-5 11.9-4.4 11.9-3.8 11.9-3.2 11.9-2.6 11.9-2.3 11.9-1.9 11.9-1.8 12-1.6M1014.3 1515.4l11.9-3.7 11.9-4 11.9-4.5 11.9-5.2 11.9-6.1 11.9-7.3 11.9-8.6 11.9-9.5 11.9-10 11.9-10 12-9.5 11.9-8.4 11.9-7.3 11.9-6.3 11.9-5.2 11.9-4.2 11.9-3.3 11.9-2.4 11.9-1.7 11.9-0.9 11.9-0.3 11.9 0.2 11.9 0.7 11.9 0.9 12 1M1014.3 1527.6l11.9-4.4 11.9-4.7 11.9-5.1 11.9-5.8 11.9-6.7 11.9-7.7 11.9-8.9 11.9-9.9 11.9-10.4 11.9-10.7 12-10.6 11.9-10.1 11.9-9.4 11.9-8.6 11.9-7.7 11.9-6.6 11.9-5.5 11.9-4.2 11.9-2.8 11.9-1.3 11.9 0.2 11.9 1.4 11.9 2.4 11.9 3 12 3.3M1014.3 1501.1l11.9-1.1 11.9-1.4 11.9-1.9 11.9-2.8 11.9-3.8 11.9-5.3 11.9-6.8 11.9-8 11.9-9 11.9-9.4 12-9.5 11.9-9.2 11.9-8.6 11.9-8.1 11.9-7.2 11.9-6.4 11.9-5.5 11.9-4.4 11.9-3.2 11.9-2 11.9-0.7 11.9 0.4 11.9 1.1 11.9 1.6 12 2M1014.3 1524.6l11.9-4.6 11.9-4.9 11.9-5.3 11.9-6 11.9-7 11.9-8.1 11.9-9.5 11.9-10.4 11.9-10.9 11.9-11 12-10.4 11.9-9.5 11.9-8.4 11.9-7.3 11.9-6.1 11.9-5 11.9-4 11.9-2.8 11.9-1.7 11.9-0.7 11.9 0.4 11.9 1.1 11.9 1.8 11.9 2.3 12 2.4M1014.3 1518l11.9-4 11.9-4.2 11.9-4.6 11.9-5.3 11.9-6.2 11.9-7.3 11.9-8.6 11.9-9.4 11.9-9.8 11.9-9.8 12-9.4 11.9-8.3 11.9-7.3 11.9-6.3 11.9-5.5 11.9-4.6 11.9-4.1 11.9-3.4 11.9-3 11.9-2.7 11.9-2.5 11.9-2.2 11.9-2.1 11.9-2 12-2M1014.3 1510.9l11.9-1 11.9-1.5 11.9-2.4 11.9-3.7 11.9-5.5 11.9-7.8 11.9-10.2 11.9-12 11.9-13 11.9-13 12-12.3 11.9-10.6 11.9-8.7 11.9-7.1 11.9-5.5 11.9-4.2 11.9-3.1 11.9-2.2 11.9-1.5 11.9-0.9 11.9-0.6 11.9-0.3 11.9-0.1 11.9 0 12 0.1M1014.3 1514.1l11.9-3.4 11.9-3.7 11.9-4.1 11.9-4.7 11.9-5.6 11.9-6.8 11.9-7.9 11.9-8.9 11.9-9.4 11.9-9.5 12-9.2 11.9-8.4 11.9-7.6 11.9-6.8 11.9-6.1 11.9-5.4 11.9-4.7 11.9-4.2 11.9-3.7 11.9-3.2 11.9-2.8 11.9-2.4 11.9-2.3 11.9-2.1 12-2M1014.3 1530.9l11.9-4.6 11.9-4.8 11.9-5.4 11.9-6.3 11.9-7.4 11.9-8.9 11.9-10.4 11.9-11.5 11.9-12 11.9-11.8 12-10.9 11.9-9.4 11.9-7.8 11.9-6.4 11.9-5.1 11.9-4.2 11.9-3.3 11.9-2.7 11.9-2.4 11.9-2.1 11.9-2.1 11.9-2 11.9-2.1 11.9-2 12-2M1014.3 1509.7l11.9-2 11.9-2.3 11.9-3 11.9-4 11.9-5.4 11.9-7.2 11.9-9 11.9-10.3 11.9-10.9 11.9-10.8 12-9.8 11.9-8.1 11.9-6.3 11.9-5 11.9-3.9 11.9-3.1 11.9-2.9 11.9-2.8 11.9-3.3 11.9-3.9 11.9-5 11.9-5.7 11.9-6.3 11.9-6.7 12-6.8M1014.3 1508.2l11.9-4.7 11.9-4.8 11.9-5 11.9-5.2 11.9-5.6 11.9-5.9 11.9-6.5 11.9-6.9 11.9-7.4 11.9-7.9 12-8.4 11.9-8.9 11.9-9.2 11.9-9.1 11.9-8.6 11.9-7.8 11.9-6.6 11.9-5 11.9-3.1 11.9-0.8 11.9 1.7 11.9 3.7 11.9 5.3 11.9 6.2 12 6.7M1014.3 1497.8l11.9-2.1 11.9-2.3 11.9-2.8 11.9-3.4 11.9-4.3 11.9-5.4 11.9-6.7 11.9-7.6 11.9-8.3 11.9-8.6 12-8.7 11.9-8.3 11.9-7.9 11.9-7.2 11.9-6.5 11.9-5.7 11.9-4.7 11.9-3.7 11.9-2.5 11.9-1.2 11.9 0 11.9 1.2 11.9 1.9 11.9 2.4 12 2.7M1014.3 1506.6l11.9-1.9 11.9-2.2 11.9-2.8 11.9-3.9 11.9-5 11.9-6.7 11.9-8.4 11.9-9.7 11.9-10.6 11.9-11 12-10.6 11.9-9.9 11.9-8.9 11.9-7.7 11.9-6.6 11.9-5.4 11.9-4.1 11.9-2.7 11.9-1.2 11.9 0.3 11.9 1.7 11.9 2.9 11.9 3.8 11.9 4.5 12 4.7M1014.3 1523.8l11.9-2.4 11.9-2.8 11.9-3.5 11.9-4.6 11.9-6.2 11.9-7.9 11.9-10 11.9-11.5 11.9-12.3 11.9-12.4 12-11.7 11.9-10.4 11.9-8.8 11.9-7.3 11.9-6 11.9-4.8 11.9-3.7 11.9-2.8 11.9-1.9 11.9-1.1 11.9-0.6 11.9-0.1 11.9 0.2 11.9 0.5 12 0.6M1014.3 1518.5l11.9-3.4 11.9-3.7 11.9-4.2 11.9-5 11.9-6.1 11.9-7.4 11.9-9 11.9-10 11.9-10.7 11.9-10.7 12-10.2 11.9-9.3 11.9-8.2 11.9-7 11.9-6.1 11.9-5.1 11.9-4.3 11.9-3.4 11.9-2.8 11.9-2 11.9-1.5 11.9-1 11.9-0.7 11.9-0.5 12-0.3M1014.3 1530.3l11.9-5.7 11.9-6 11.9-6.3 11.9-6.9 11.9-7.7 11.9-8.6 11.9-9.7 11.9-10.4 11.9-10.6 11.9-10.4 12-9.7 11.9-8.6 11.9-7.3 11.9-6.4 11.9-5.4 11.9-4.8 11.9-4.3 11.9-4 11.9-3.8 11.9-3.8 11.9-4 11.9-4.1 11.9-4.2 11.9-4.3 12-4.3M1014.3 1500.2l11.9-0.6 11.9-1 11.9-1.7 11.9-2.7 11.9-4.1 11.9-5.9 11.9-7.7 11.9-9.2 11.9-9.9 11.9-9.9 12-9.3 11.9-7.9 11.9-6.5 11.9-5.2 11.9-4.3 11.9-3.4 11.9-3 11.9-2.6 11.9-2.7 11.9-2.8 11.9-3.1 11.9-3.5 11.9-3.6 11.9-3.9 12-3.9M1014.3 1503.1l11.9-4.2 11.9-4.3 11.9-4.5 11.9-4.8 11.9-5.1 11.9-5.7 11.9-6.1 11.9-6.7 11.9-7 11.9-7.3 12-7.5 11.9-7.6 11.9-7.5 11.9-7.2 11.9-6.7 11.9-6.1 11.9-5.2 11.9-4.2 11.9-2.9 11.9-1.4 11.9 0.1 11.9 1.4 11.9 2.2 11.9 2.9 12 3.3M1014.3 1521.7l11.9-5.5 11.9-5.7 11.9-5.9 11.9-6.3 11.9-6.6 11.9-7.1 11.9-7.8 11.9-8.2 11.9-8.4 11.9-8.5 12-8.4 11.9-8.1 11.9-7.6 11.9-7 11.9-6.4 11.9-5.7 11.9-4.7 11.9-3.7 11.9-2.7 11.9-1.4 11.9-0.2 11.9 0.8 11.9 1.5 11.9 2 12 2.3M1014.3 1519.2l11.9-3.7 11.9-4.1 11.9-4.6 11.9-5.4 11.9-6.6 11.9-8 11.9-9.5 11.9-10.7 11.9-11.3 11.9-11.3 12-10.9 11.9-9.9 11.9-8.6 11.9-7.5 11.9-6.2 11.9-5 11.9-3.9 11.9-2.7 11.9-1.6 11.9-0.4 11.9 0.6 11.9 1.5 11.9 2.1 11.9 2.6 12 2.8M1014.3 1499.5l11.9 0.3 11.9-0.1 11.9-0.8 11.9-2.1 11.9-3.6 11.9-5.5 11.9-7.7 11.9-9.5 11.9-10.6 11.9-11.1 12-11.1 11.9-10.3 11.9-9.5 11.9-8.4 11.9-7.4 11.9-6.2 11.9-5.2 11.9-3.9 11.9-2.6 11.9-1.4 11.9-0.1 11.9 0.9 11.9 1.7 11.9 2.3 12 2.4M1014.3 1525l11.9-4.9 11.9-5.1 11.9-5.5 11.9-6.1 11.9-6.8 11.9-7.9 11.9-8.9 11.9-9.7 11.9-10.1 11.9-10 12-9.5 11.9-8.7 11.9-7.7 11.9-7 11.9-6.6 11.9-6.3 11.9-6.2 11.9-6.5 11.9-7 11.9-7.6 11.9-8.4 11.9-9 11.9-9.6 11.9-9.8 12-10.1M1014.3 1530.7l11.9-6.1 11.9-6.3 11.9-6.6 11.9-7 11.9-7.6 11.9-8.4 11.9-9.1 11.9-9.8 11.9-10 11.9-9.8 12-9.5 11.9-8.8 11.9-7.9 11.9-7.4 11.9-6.9 11.9-6.5 11.9-6.4 11.9-6.3 11.9-6.4 11.9-6.8 11.9-7.1 11.9-7.3 11.9-7.7 11.9-7.7 12-7.9M1014.3 1529.7l11.9-6 11.9-6 11.9-6.4 11.9-6.9 11.9-7.4 11.9-8.3 11.9-9.1 11.9-9.7 11.9-10 11.9-9.9 12-9.5 11.9-8.8 11.9-8 11.9-7.4 11.9-7 11.9-6.5 11.9-6.4 11.9-6.3 11.9-6.3 11.9-6.6 11.9-6.9 11.9-7.2 11.9-7.4 11.9-7.4 12-7.6M1014.3 1529.8l11.9-6 11.9-6.1 11.9-6.5 11.9-6.9 11.9-7.4 11.9-8.2 11.9-9 11.9-9.6 11.9-9.9 11.9-9.9 12-9.7 11.9-9.1 11.9-8.6 11.9-7.9 11.9-7.4 11.9-6.9 11.9-6.4 11.9-6 11.9-5.6 11.9-5.2 11.9-5 11.9-4.7 11.9-4.5 11.9-4.4 12-4.4M1014.3 1460.5l11.9 3.4 11.9 3.1 11.9 2.5 11.9 1.6 11.9 0.5 11.9-1 11.9-2.2 11.9-3.3 11.9-4.3 11.9-4.9 12-5.6 11.9-6.2 11.9-6.9 11.9-7.6 11.9-8.1 11.9-7.8 11.9-6.8 11.9-5 11.9-3 11.9-1 11.9 0.5 11.9 1.8 11.9 2.7 11.9 3.3 12 3.7" fill="none" stroke="#14B99A" stroke-width="1.05" stroke-opacity="0.8" stroke-linejoin="round"/>
<path d="M1014.3 1361.6l11.9 6 11.9 6.2 11.9 6.2 11.9 6.4 11.9 6.7 11.9 7 11.9 7.3 11.9 7.5 11.9 7.6 11.9 7.6 12 7.4 11.9 7.1 11.9 6.6 11.9 6.1 11.9 5.4 11.9 4.5 11.9 3.5 11.9 2.3 11.9 1 11.9-0.5 11.9-1.9 11.9-3.1 11.9-4 11.9-4.7 12-4.9M1014.3 1358.1l11.9 7.7 11.9 7.7 11.9 7.5 11.9 7.1 11.9 6.9 11.9 6.3 11.9 5.9 11.9 5.5 11.9 5.4 11.9 5.6 12 5.9 11.9 6.6 11.9 7 11.9 7.1 11.9 6.9 11.9 6.2 11.9 5.1 11.9 3.7 11.9 1.8 11.9-0.3 11.9-2.7 11.9-4.6 11.9-6.1 11.9-7 12-7.5M1014.3 1361.1l11.9 6.2 11.9 6.3 11.9 6.3 11.9 6.5 11.9 6.6 11.9 6.8 11.9 7.1 11.9 7.2 11.9 7.4 11.9 7.6 12 7.6 11.9 7.8 11.9 7.6 11.9 7.3 11.9 6.6 11.9 5.8 11.9 4.7 11.9 3.3 11.9 1.6 11.9-0.2 11.9-2.2 11.9-3.8 11.9-5 11.9-5.9 12-6.2M1014.3 1357.5l11.9 6 11.9 6 11.9 6.3 11.9 6.4 11.9 6.8 11.9 7.3 11.9 7.7 11.9 8.1 11.9 8.4 11.9 8.5 12 8.6 11.9 8.4 11.9 8.2 11.9 7.8 11.9 7.2 11.9 6.3 11.9 5.4 11.9 4.2 11.9 2.8 11.9 1.2 11.9-0.3 11.9-1.7 11.9-2.7 11.9-3.3 12-3.6M1014.3 1357.1l11.9 6.2 11.9 6.3 11.9 6.3 11.9 6.4 11.9 6.6 11.9 6.7 11.9 6.9 11.9 7.1 11.9 7.3 11.9 7.5 12 7.7 11.9 7.8 11.9 7.8 11.9 7.5 11.9 7.1 11.9 6.3 11.9 5.2 11.9 4 11.9 2.5 11.9 0.6 11.9-1.2 11.9-2.7 11.9-4 11.9-4.6 12-5.1M1014.3 1352.9l11.9 8.8 11.9 8.7 11.9 8.5 11.9 8.3 11.9 8 11.9 7.6 11.9 7.2 11.9 6.8 11.9 6.6 11.9 6.6 12 6.6 11.9 6.9 11.9 6.8 11.9 6.7 11.9 6.2 11.9 5.3 11.9 4.3 11.9 2.9 11.9 1.3 11.9-0.8 11.9-2.8 11.9-4.4 11.9-5.8 11.9-6.6 12-7M1014.3 1355.6l11.9 7.2 11.9 7.1 11.9 7.2 11.9 7.3 11.9 7.3 11.9 7.5 11.9 7.6 11.9 7.8 11.9 8 11.9 8.1 12 8.3 11.9 8.5 11.9 8.5 11.9 8.2 11.9 7.6 11.9 6.7 11.9 5.6 11.9 4 11.9 2.3 11.9 0.1 11.9-2 11.9-3.9 11.9-5.2 11.9-6.1 12-6.6M1014.3 1361.8l11.9 5.4 11.9 5.6 11.9 5.8 11.9 6.1 11.9 6.5 11.9 7.1 11.9 7.7 11.9 8.2 11.9 8.5 11.9 8.8 12 8.7 11.9 8.7 11.9 8.4 11.9 7.9 11.9 7.3 11.9 6.4 11.9 5.4 11.9 4.2 11.9 2.8 11.9 1.2 11.9-0.5 11.9-1.8 11.9-2.8 11.9-3.4 12-3.8M1014.3 1358.8l11.9 6 11.9 6.1 11.9 6.2 11.9 6.3 11.9 6.7 11.9 7 11.9 7.4 11.9 7.7 11.9 7.9 11.9 8.1 12 8.3 11.9 8.2 11.9 8.1 11.9 7.7 11.9 7.1 11.9 6.3 11.9 5.2 11.9 3.9 11.9 2.3 11.9 0.6 11.9-1.3 11.9-2.8 11.9-4 11.9-4.7 12-5M1014.3 1361.6l11.9 6.3 11.9 6.3 11.9 6.4 11.9 6.4 11.9 6.6 11.9 6.8 11.9 6.9 11.9 7.2 11.9 7.3 11.9 7.5 12 7.6 11.9 7.8 11.9 7.8 11.9 7.5 11.9 7.2 11.9 6.5 11.9 5.7 11.9 4.6 11.9 3.4 11.9 1.9 11.9 0.3 11.9-0.9 11.9-1.8 11.9-2.5 12-2.8M1014.3 1357.4l11.9 7.6 11.9 7.6 11.9 7.6 11.9 7.7 11.9 7.6 11.9 7.6 11.9 7.7 11.9 7.6 11.9 7.8 11.9 7.8 12 7.9 11.9 8 11.9 7.9 11.9 7.6 11.9 7.1 11.9 6.2 11.9 5.2 11.9 3.8 11.9 2.2 11.9 0.3 11.9-1.6 11.9-3.3 11.9-4.4 11.9-5.2 12-5.6M1014.3 1353.9l11.9 7.3 11.9 7.5 11.9 7.5 11.9 7.7 11.9 8 11.9 8.2 11.9 8.5 11.9 8.7 11.9 8.7 11.9 8.6 12 8.3 11.9 7.9 11.9 7.2 11.9 6.6 11.9 5.7 11.9 4.8 11.9 3.8 11.9 2.6 11.9 1.3 11.9-0.1 11.9-1.5 11.9-2.7 11.9-3.5 11.9-4 12-4.4M1014.3 1355.9l11.9 7.5 11.9 7.5 11.9 7.5 11.9 7.4 11.9 7.3 11.9 7.2 11.9 7.2 11.9 7.1 11.9 7.2 11.9 7.3 12 7.7 11.9 8 11.9 8.2 11.9 8.3 11.9 7.9 11.9 7.4 11.9 6.6 11.9 5.5 11.9 4.1 11.9 2.5 11.9 0.8 11.9-0.6 11.9-1.7 11.9-2.4 12-2.8M1014.3 1360.4l11.9 6.9 11.9 6.9 11.9 6.8 11.9 6.7 11.9 6.7 11.9 6.5 11.9 6.5 11.9 6.4 11.9 6.5 11.9 6.7 12 7.2 11.9 7.7 11.9 7.9 11.9 8 11.9 7.6 11.9 6.9 11.9 5.7 11.9 4.3 11.9 2.4 11.9 0.3 11.9-2.1 11.9-4 11.9-5.4 11.9-6.4 12-6.9M1014.3 1351.1l11.9 8.8 11.9 8.7 11.9 8.4 11.9 8.2 11.9 7.8 11.9 7.3 11.9 6.7 11.9 6.2 11.9 6.1 11.9 5.9 12 6.1 11.9 6.4 11.9 6.7 11.9 6.5 11.9 6.2 11.9 5.6 11.9 4.6 11.9 3.5 11.9 1.9 11.9 0.2 11.9-1.7 11.9-3.2 11.9-4.4 11.9-5.1 12-5.6M1014.3 1361.5l11.9 6.5 11.9 6.4 11.9 6.4 11.9 6.4 11.9 6.4 11.9 6.4 11.9 6.3 11.9 6.5 11.9 6.6 11.9 6.9 12 7.4 11.9 7.9 11.9 8.3 11.9 8.2 11.9 7.9 11.9 7 11.9 5.9 11.9 4.4 11.9 2.4 11.9 0.1 11.9-2.3 11.9-4.3 11.9-5.8 11.9-6.8 12-7.3M1014.3 1359.4l11.9 6 11.9 6.1 11.9 6.1 11.9 6.3 11.9 6.5 11.9 6.7 11.9 7 11.9 7.3 11.9 7.4 11.9 7.4 12 7.6 11.9 7.4 11.9 7.3 11.9 7 11.9 6.4 11.9 5.7 11.9 4.8 11.9 3.7 11.9 2.4 11.9 1 11.9-0.4 11.9-1.7 11.9-2.6 11.9-3.2 12-3.5M1014.3 1358.4l11.9 6.9 11.9 6.8 11.9 6.9 11.9 6.9 11.9 7 11.9 7 11.9 7.1 11.9 7.3 11.9 7.4 11.9 7.5 12 7.9 11.9 8.1 11.9 8.2 11.9 8 11.9 7.5 11.9 6.6 11.9 5.3 11.9 3.9 11.9 1.9 11.9-0.2 11.9-2.6 11.9-4.4 11.9-5.9 11.9-6.8 12-7.4M1014.3 1344.5l11.9 8.8 11.9 8.7 11.9 8.6 11.9 8.5 11.9 8.2 11.9 8 11.9 7.6 11.9 7.4 11.9 7.3 11.9 7.3 12 7.3 11.9 7.4 11.9 7.4 11.9 7 11.9 6.5 11.9 5.5 11.9 4.2 11.9 2.7 11.9 0.8 11.9-1.4 11.9-3.6 11.9-5.5 11.9-6.9 11.9-7.9 12-8.3M1014.3 1370.3l11.9 4.1 11.9 4.2 11.9 4.5 11.9 4.8 11.9 5.3 11.9 5.9 11.9 6.5 11.9 7 11.9 7.4 11.9 7.6 12 7.6 11.9 7.5 11.9 7.2 11.9 6.6 11.9 6 11.9 5.1 11.9 4 11.9 2.9 11.9 1.4 11.9-0.1 11.9-1.8 11.9-3 11.9-4.1 11.9-4.8 12-5M1014.3 1383.5l11.9 2 11.9 2.3 11.9 3 11.9 3.9 11.9 4.9 11.9 5.6 11.9 5.9 11.9 6 11.9 6 11.9 6.1 12 6.4 11.9 6.7 11.9 6.9 11.9 6.9 11.9 6.6 11.9 6.1 11.9 5.2 11.9 4.2 11.9 2.8 11.9 1.3 11.9-0.4 11.9-1.9 11.9-2.8 11.9-3.6 12-4M1014.3 1398.6l11.9-0.1 11.9 0.2 11.9 0.8 11.9 1.5 11.9 2.5 11.9 3.4 11.9 4.3 11.9 5.3 11.9 6.2 11.9 6.7 12 7.2 11.9 7.3 11.9 7.4 11.9 7.2 11.9 6.8 11.9 6.1 11.9 5.3 11.9 4.2 11.9 3.1 11.9 1.5 11.9 0 11.9-1.3 11.9-2.2 11.9-2.9 12-3.2M1014.3 1404.9l11.9-0.5 11.9-0.3 11.9 0.1 11.9 0.8 11.9 1.6 11.9 2.5 11.9 3.5 11.9 4.5 11.9 5.4 11.9 6.1 12 6.8 11.9 7.2 11.9 7.5 11.9 7.5 11.9 7.3 11.9 6.7 11.9 6 11.9 5.1 11.9 3.8 11.9 2.2 11.9 0.7 11.9-0.6 11.9-1.6 11.9-2.3 12-2.7M1014.3 1441.3l11.9-6.1 11.9-5.9 11.9-5.3 11.9-4.3 11.9-3.1 11.9-1.6 11.9 0.3 11.9 2.3 11.9 4.3 11.9 6 12 7.3 11.9 7.8 11.9 8 11.9 8 11.9 7.7 11.9 7.2 11.9 6.3 11.9 5.3 11.9 4 11.9 2.4 11.9 0.8 11.9-0.6 11.9-1.7 11.9-2.3 12-2.7" fill="none" stroke="#08A8F5" stroke-width="1.05" stroke-opacity="0.8" stroke-linejoin="round"/>
<rect x="1003.4" y="1302.9" width="320.0" height="270.7" fill="none" stroke="#444" stroke-width="1.3"/>
<path d="M992.9 1564.0H1003.4M992.9 1501.1H1003.4M992.9 1438.2H1003.4M992.9 1375.3H1003.4M992.9 1312.4H1003.4M1066.6 1573.6V1580.1M1163.5 1573.6V1580.1M1260.4 1573.6V1580.1" stroke="#444" stroke-width="1.3" fill="none"/>
<text transform="translate(981.4 1564.0) rotate(-90)" font-size="14.9" text-anchor="middle">-2</text>
<text transform="translate(981.4 1501.1) rotate(-90)" font-size="14.9" text-anchor="middle">-1</text>
<text transform="translate(981.4 1438.2) rotate(-90)" font-size="14.9" text-anchor="middle">0</text>
<text transform="translate(981.4 1375.3) rotate(-90)" font-size="14.9" text-anchor="middle">1</text>
<text transform="translate(981.4 1312.4) rotate(-90)" font-size="14.9" text-anchor="middle">2</text>
<text x="1066.6" y="1598.9" font-size="14.9" text-anchor="middle" fill="#000">0.00</text>
<text x="1163.5" y="1598.9" font-size="14.9" text-anchor="middle" fill="#000">0.05</text>
<text x="1260.4" y="1598.9" font-size="14.9" text-anchor="middle" fill="#000">0.10</text>
<path d="M1087.5 1323.5H1129" stroke="#14B99A" stroke-width="4.5" stroke-linecap="round"/>
<path d="M1087.5 1353.6H1129" stroke="#08A8F5" stroke-width="4.5" stroke-linecap="round"/>
<text x="1138.0" y="1330.3" font-size="22.3" text-anchor="start" fill="#000">Plasma</text>
<text x="1138.0" y="1361.0" font-size="22.3" text-anchor="start" fill="#000">Memory B</text>
<text x="944.0" y="1272.0" font-size="24" text-anchor="start" fill="#000">e</text>
<text x="1066.0" y="1285.7" font-size="22.3" text-anchor="start" fill="#000">HGT embedding 51</text>
<text transform="translate(963 1439.4) rotate(-90)" font-size="19.8" text-anchor="middle">Gene expressions</text>
<text x="1150.0" y="1625.8" font-size="19.8" text-anchor="middle" fill="#000">HGT embedding</text>
<path d="M1013.2 1820.3l11.9 2.7 11.9 2.5 11.8 2.3 11.9 1.9 11.9 1.6 11.9 1.8 11.9 2.6 11.9 3.8 11.9 5.6 11.9 7.2 11.9 6.8 11.9 5.3 11.9 4 11.9 3 11.9 1.8 11.9 0.8 11.8-0.4 11.9-1.7 11.9-2.8 11.9-4.2 11.9-5.5 11.9-6.8 11.9-7.7 11.9-8.3 11.9-8.6M1013.2 1812.1l11.9 3.6 11.9 3.5 11.8 3.1 11.9 2.5 11.9 2.2 11.9 2.3 11.9 3.1 11.9 4.4 11.9 6.2 11.9 8 11.9 7.5 11.9 5.8 11.9 4.4 11.9 3.5 11.9 2.3 11.9 1.2 11.8-0.1 11.9-1.2 11.9-2.2 11.9-3 11.9-3.7 11.9-4.2 11.9-4.7 11.9-4.9 11.9-5.1M1013.2 1809.8l11.9 3.8 11.9 3.7 11.8 3.4 11.9 2.8 11.9 2.3 11.9 2.5 11.9 3.2 11.9 4.5 11.9 6.4 11.9 8.2 11.9 7.8 11.9 5.9 11.9 4 11.9 2.3 11.9 1 11.9-0.1 11.8-0.9 11.9-1.8 11.9-2.8 11.9-4 11.9-5.3 11.9-6.4 11.9-7.4 11.9-8 11.9-8.4M1013.2 1806l11.9 4.3 11.9 4.1 11.8 3.7 11.9 3.1 11.9 2.6 11.9 2.7 11.9 3.5 11.9 4.7 11.9 6.7 11.9 8.6 11.9 8.1 11.9 6.1 11.9 4.3 11.9 2.6 11.9 1.2 11.9 0.2 11.8-0.7 11.9-1.4 11.9-2 11.9-2.5 11.9-3.1 11.9-3.4 11.9-3.7 11.9-4 11.9-4M1013.2 1802.9l11.9 4.7 11.9 4.4 11.8 4 11.9 3.4 11.9 2.8 11.9 2.9 11.9 3.6 11.9 5 11.9 6.9 11.9 8.9 11.9 8.4 11.9 6.3 11.9 4.4 11.9 2.8 11.9 1.4 11.9 0.2 11.8-0.6 11.9-1.7 11.9-2.6 11.9-3.6 11.9-4.8 11.9-5.7 11.9-6.6 11.9-7.1 11.9-7.3M1013.2 1801.8l11.9 4.8 11.9 4.6 11.8 4.1 11.9 3.4 11.9 2.9 11.9 3 11.9 3.6 11.9 5.1 11.9 7 11.9 9 11.9 8.5 11.9 6.4 11.9 4.3 11.9 2.6 11.9 1.1 11.9 0 11.8-0.9 11.9-2 11.9-3.2 11.9-4.8 11.9-6.5 11.9-8.3 11.9-9.5 11.9-10.4 11.9-10.8M1013.2 1794.7l11.9 5.6 11.9 5.4 11.8 4.8 11.9 4 11.9 3.4 11.9 3.4 11.9 4.1 11.9 5.5 11.9 7.6 11.9 9.6 11.9 9.1 11.9 6.9 11.9 4.8 11.9 3.1 11.9 1.7 11.9 0.5 11.8-0.5 11.9-1.5 11.9-2.4 11.9-3.3 11.9-4.4 11.9-5.2 11.9-5.8 11.9-6.3 11.9-6.6M1013.2 1794.6l11.9 5.7 11.9 5.3 11.8 4.9 11.9 4 11.9 3.4 11.9 3.3 11.9 4.1 11.9 5.5 11.9 7.7 11.9 9.6 11.9 9.1 11.9 6.8 11.9 5.2 11.9 3.7 11.9 2.4 11.9 1.1 11.8-0.3 11.9-1.7 11.9-3.3 11.9-4.9 11.9-6.8 11.9-8.6 11.9-9.9 11.9-10.7 11.9-11.2M1013.2 1789l11.9 6.3 11.9 6 11.8 5.4 11.9 4.5 11.9 3.7 11.9 3.7 11.9 4.5 11.9 5.8 11.9 8.2 11.9 10.1 11.9 9.6 11.9 7.2 11.9 5.1 11.9 3.4 11.9 2 11.9 0.7 11.8-0.3 11.9-1.2 11.9-1.9 11.9-2.5 11.9-2.9 11.9-3.3 11.9-3.6 11.9-3.8 11.9-3.8M1013.2 1787.8l11.9 6.4 11.9 6.1 11.8 5.5 11.9 4.6 11.9 3.9 11.9 3.8 11.9 4.5 11.9 5.9 11.9 8.2 11.9 10.3 11.9 9.7 11.9 7.3 11.9 5.1 11.9 3.2 11.9 1.7 11.9 0.5 11.8-0.5 11.9-1.4 11.9-2.4 11.9-3.3 11.9-4.2 11.9-5 11.9-5.7 11.9-6.2 11.9-6.3M1013.2 1785.5l11.9 6.7 11.9 6.4 11.8 5.7 11.9 4.8 11.9 4 11.9 3.9 11.9 4.6 11.9 6.2 11.9 8.4 11.9 10.4 11.9 9.9 11.9 7.4 11.9 5.3 11.9 3.6 11.9 1.9 11.9 0.7 11.8-0.5 11.9-1.8 11.9-3.3 11.9-5 11.9-6.8 11.9-8.7 11.9-10 11.9-11 11.9-11.4M1013.2 1784.1l11.9 6.8 11.9 6.6 11.8 5.8 11.9 5 11.9 4.1 11.9 4 11.9 4.7 11.9 6.2 11.9 8.5 11.9 10.6 11.9 10 11.9 7.5 11.9 5.3 11.9 3.5 11.9 1.9 11.9 0.6 11.8-0.4 11.9-1.4 11.9-2.5 11.9-3.4 11.9-4.5 11.9-5.5 11.9-6.2 11.9-6.6 11.9-6.9M1013.2 1778.8l11.9 7.4 11.9 7.2 11.8 6.4 11.9 5.3 11.9 4.5 11.9 4.3 11.9 5 11.9 6.6 11.9 8.9 11.9 11.1 11.9 10.5 11.9 7.9 11.9 5.5 11.9 3.7 11.9 2.1 11.9 0.7 11.8-0.4 11.9-1.6 11.9-3 11.9-4.5 11.9-6 11.9-7.6 11.9-8.7 11.9-9.5 11.9-9.9M1013.2 1775.1l11.9 7.9 11.9 7.5 11.8 6.8 11.9 5.6 11.9 4.7 11.9 4.6 11.9 5.2 11.9 6.8 11.9 9.3 11.9 11.4 11.9 10.8 11.9 8.1 11.9 5.8 11.9 3.9 11.9 2.3 11.9 1 11.8-0.3 11.9-1.3 11.9-2.5 11.9-3.6 11.9-4.7 11.9-5.7 11.9-6.6 11.9-7 11.9-7.3M1013.2 1773.9l11.9 8.1 11.9 7.6 11.8 6.9 11.9 5.8 11.9 4.7 11.9 4.6 11.9 5.4 11.9 6.8 11.9 9.4 11.9 11.6 11.9 10.8 11.9 8.2 11.9 5.9 11.9 4 11.9 2.5 11.9 1 11.8-0.3 11.9-1.6 11.9-3.1 11.9-4.8 11.9-6.5 11.9-8.2 11.9-9.5 11.9-10.4 11.9-10.8" fill="none" stroke="#1BB8D4" stroke-width="1.25" stroke-opacity="0.85" stroke-linejoin="round"/>
<path d="M1013.2 1876.2l11.9-0.2 11.9-0.3 11.8-0.3 11.9-0.4 11.9-0.3 11.9-0.4 11.9-0.4 11.9-0.7 11.9-1.2 11.9-1.9 11.9-2.9 11.9-4.1 11.9-5.5 11.9-6.5 11.9-7 11.9-7.3 11.8-7.1 11.9-6.5 11.9-5.7 11.9-4.9 11.9-4.2 11.9-3.7 11.9-3.2 11.9-3 11.9-2.9M1013.2 1883.2l11.9-0.5 11.9-0.5 11.8-0.6 11.9-0.8 11.9-1.1 11.9-1.3 11.9-1.7 11.9-2 11.9-2.3 11.9-2.7 11.9-3 11.9-3.3 11.9-3.5 11.9-3.7 11.9-3.8 11.9-3.6 11.8-3.5 11.9-3.3 11.9-2.8 11.9-2.5 11.9-2.3 11.9-2 11.9-1.9 11.9-1.7 11.9-1.7M1013.2 1893.9l11.9-1.2 11.9-1.3 11.8-1.4 11.9-1.6 11.9-1.8 11.9-2.1 11.9-2.5 11.9-2.8 11.9-3.4 11.9-3.7 11.9-4.3 11.9-4.8 11.9-5.3 11.9-5.7 11.9-5.8 11.9-5.7 11.8-5.5 11.9-5 11.9-4.5 11.9-3.9 11.9-3.5 11.9-3.1 11.9-2.8 11.9-2.7 11.9-2.5M1013.2 1896.4l11.9-1.1 11.9-1.2 11.8-1.4 11.9-1.8 11.9-2.1 11.9-2.7 11.9-3.3 11.9-3.8 11.9-4.1 11.9-4.1 11.9-3.9 11.9-3.5 11.9-2.9 11.9-2.4 11.9-2 11.9-1.8 11.8-1.5 11.9-1.3 11.9-1.4 11.9-1.2 11.9-1.3 11.9-1.2 11.9-1.2 11.9-1.2 11.9-1.1M1013.2 1904.6l11.9-1.8 11.9-1.9 11.8-2.1 11.9-2.3 11.9-2.7 11.9-3.1 11.9-3.7 11.9-4.2 11.9-4.5 11.9-4.9 11.9-5.2 11.9-5.3 11.9-5.4 11.9-5.4 11.9-5.3 11.9-5 11.8-4.8 11.9-4.4 11.9-3.9 11.9-3.6 11.9-3.1 11.9-2.9 11.9-2.7 11.9-2.6 11.9-2.4M1013.2 1907.8l11.9-2.1 11.9-2.2 11.8-2.3 11.9-2.6 11.9-2.9 11.9-3.3 11.9-3.7 11.9-4.3 11.9-4.8 11.9-5.2 11.9-5.6 11.9-6.1 11.9-6.5 11.9-6.7 11.9-6.7 11.9-6.5 11.8-6.3 11.9-5.7 11.9-5.1 11.9-4.5 11.9-4 11.9-3.7 11.9-3.3 11.9-3.1 11.9-3.1M1013.2 1910.9l11.9-1.9 11.9-2.1 11.8-2.3 11.9-2.8 11.9-3.4 11.9-4 11.9-4.9 11.9-5.4 11.9-5.8 11.9-5.6 11.9-5.1 11.9-4.3 11.9-3.3 11.9-2.5 11.9-1.7 11.9-1.3 11.8-1 11.9-0.9 11.9-1 11.9-1 11.9-1.1 11.9-1.1 11.9-1.2 11.9-1.2 11.9-1.2M1013.2 1915.3l11.9-2.3 11.9-2.4 11.8-2.7 11.9-3.1 11.9-3.6 11.9-4.3 11.9-5.1 11.9-5.7 11.9-6 11.9-6 11.9-5.8 11.9-5.3 11.9-4.6 11.9-4 11.9-3.4 11.9-3.1 11.8-2.7 11.9-2.4 11.9-2.3 11.9-2.2 11.9-2.1 11.9-2 11.9-2 11.9-1.9 11.9-1.9M1013.2 1944.3l11.9-6.8 11.9-6.9 11.8-6.8 11.9-6.9 11.9-6.8 11.9-6.9 11.9-6.9 11.9-6.9 11.9-6.9 11.9-6.7 11.9-6.7 11.9-6.5 11.9-6.3 11.9-6.2 11.9-6.1 11.9-6 11.8-6 11.9-6 11.9-6.1 11.9-6.1 11.9-6.1 11.9-6.2 11.9-6.1 11.9-6.2 11.9-6.2M1013.2 1948.1l11.9-6.8 11.9-6.8 11.8-6.9 11.9-6.9 11.9-7.1 11.9-7.2 11.9-7.3 11.9-7.5 11.9-7.5 11.9-7.4 11.9-7.2 11.9-7 11.9-6.6 11.9-6.2 11.9-5.9 11.9-5.3 11.8-5 11.9-4.4 11.9-4 11.9-3.5 11.9-3.1 11.9-2.8 11.9-2.6 11.9-2.5 11.9-2.4M1013.2 1960.7l11.9-7.8 11.9-7.8 11.8-7.8 11.9-8 11.9-8.1 11.9-8.2 11.9-8.4 11.9-8.6 11.9-8.6 11.9-8.6 11.9-8.4 11.9-8.2 11.9-7.9 11.9-7.5 11.9-7.1 11.9-6.6 11.8-6.1 11.9-5.5 11.9-4.8 11.9-4.3 11.9-3.8 11.9-3.4 11.9-3.1 11.9-3 11.9-2.9M1013.2 1997.2l11.9-10.9 11.9-11 11.8-11.1 11.9-11.1 11.9-11.3 11.9-11.4 11.9-11.7 11.9-11.8 11.9-12 11.9-11.8 11.9-11.4 11.9-10.7 11.9-9.8 11.9-9 11.9-8.2 11.9-7.4 11.8-6.9 11.9-6.3 11.9-5.9 11.9-5.4 11.9-5.1 11.9-4.9 11.9-4.6 11.9-4.5 11.9-4.4M1013.2 1888.8l11.9-1.6 11.9-1.7 11.8-1.6 11.9-1.5 11.9-1.4 11.9-1.3 11.9-1.2 11.9-1.3 11.9-1.9 11.9-2.7 11.9-4.2 11.9-5.8 11.9-7.6 11.9-8.5 11.9-8.6 11.9-8 11.8-6.3 11.9-4 11.9-0.9 11.9 1.8 11.9 4.2 11.9 6.1 11.9 7.4 11.9 8.4 11.9 8.9M1013.2 1898.3l11.9-2.4 11.9-2.5 11.8-2.4 11.9-2.5 11.9-2.6 11.9-2.7 11.9-2.7 11.9-2.9 11.9-3.1 11.9-3.4 11.9-3.8 11.9-4.1 11.9-4.6 11.9-4.5 11.9-4.3 11.9-3.5 11.8-2.4 11.9-1 11.9 0.7 11.9 2.2 11.9 3.5 11.9 4.6 11.9 5.3 11.9 5.9 11.9 6.1M1013.2 1910.9l11.9-3.6 11.9-3.5 11.8-3.5 11.9-3.6 11.9-3.5 11.9-3.5 11.9-3.5 11.9-3.6 11.9-3.9 11.9-4.6 11.9-5.3 11.9-6.2 11.9-7.3 11.9-8 11.9-8.2 11.9-8.1 11.8-7.7 11.9-6.8 11.9-5.6 11.9-4.1 11.9-2.4 11.9-0.6 11.9 1.4 11.9 2.7 11.9 3.5" fill="none" stroke="#BC9A00" stroke-width="1.25" stroke-opacity="0.85" stroke-linejoin="round"/>
<rect x="1001.7" y="1724" width="320.9" height="272.6" fill="none" stroke="#444" stroke-width="1.3"/>
<path d="M991.2 1986.5H1001.7M991.2 1923.5H1001.7M991.2 1860.5H1001.7M991.2 1797.5H1001.7M991.2 1734.5H1001.7M1056.4 1996.6V2003.1M1118.6 1996.6V2003.1M1180.8 1996.6V2003.1M1243.0 1996.6V2003.1M1305.2 1996.6V2003.1" stroke="#444" stroke-width="1.3" fill="none"/>
<text transform="translate(979.7 1986.5) rotate(-90)" font-size="14.9" text-anchor="middle">-2</text>
<text transform="translate(979.7 1923.5) rotate(-90)" font-size="14.9" text-anchor="middle">-1</text>
<text transform="translate(979.7 1860.5) rotate(-90)" font-size="14.9" text-anchor="middle">0</text>
<text transform="translate(979.7 1797.5) rotate(-90)" font-size="14.9" text-anchor="middle">1</text>
<text transform="translate(979.7 1734.5) rotate(-90)" font-size="14.9" text-anchor="middle">2</text>
<text x="1056.4" y="2020.0" font-size="14.9" text-anchor="middle" fill="#000">-0.02</text>
<text x="1118.6" y="2020.0" font-size="14.9" text-anchor="middle" fill="#000">0.00</text>
<text x="1180.8" y="2020.0" font-size="14.9" text-anchor="middle" fill="#000">0.02</text>
<text x="1243.0" y="2020.0" font-size="14.9" text-anchor="middle" fill="#000">0.04</text>
<text x="1305.2" y="2020.0" font-size="14.9" text-anchor="middle" fill="#000">0.06</text>
<path d="M1090 1758H1130" stroke="#1BB8D4" stroke-width="4.5" stroke-linecap="round"/>
<path d="M1090 1788H1130" stroke="#BC9A00" stroke-width="4.5" stroke-linecap="round"/>
<text x="1139.0" y="1764.4" font-size="22.3" text-anchor="start" fill="#000">CM CD8<tspan font-size="13.8" dy="-8.0">+</tspan><tspan dy="8.0"> T</tspan></text>
<text x="1140.7" y="1795.5" font-size="22.3" text-anchor="start" fill="#000">TRM CD8<tspan font-size="13.8" dy="-8.0">+</tspan><tspan dy="8.0"> T</tspan></text>
<text x="937.0" y="1685.2" font-size="24" text-anchor="start" fill="#000">h</text>
<text x="1060.0" y="1711.0" font-size="22.3" text-anchor="start" fill="#000">HGT embedding 56</text>
<text transform="translate(959 1866.5) rotate(-90)" font-size="19.8" text-anchor="middle">Gene expressions</text>
<text x="1164.8" y="2048.0" font-size="19.8" text-anchor="middle" fill="#000">HGT embedding</text>
<defs><linearGradient id="mgrad" x1="0" x2="1" y1="0" y2="0"><stop offset="0" stop-color="#1DB80A"/><stop offset="0.55" stop-color="#26B605"/><stop offset="1" stop-color="#D98A00"/></linearGradient></defs>
<text x="1383.0" y="1274.3" font-size="24" text-anchor="start" fill="#000">i</text>
<text x="1558.0" y="1273.7" font-size="22.3" text-anchor="start" fill="#000">Resource</text>
<path d="M1666.6 1265.9H1826" stroke="#000" stroke-width="2"/>
<path d="M1824 1257.6L1850.7 1265.9L1824 1274.2Z" fill="#000"/>
<text x="1857.0" y="1273.7" font-size="22.3" text-anchor="start" fill="#000">Target</text>
<path d="M1606.3 1847L1892.3 1514.8M1606.3 1888.9L1892.3 1514.8" stroke="#F4504B" stroke-width="3.3" fill="none"/>
<path d="M1606.3 1465L1892.3 1888.9" stroke="#9650C8" stroke-width="3.1" fill="none"/>
<circle cx="1606.3" cy="1309.6" r="14.2" fill="#00BB6C"/>
<circle cx="1892.3" cy="1309.6" r="12.85" fill="#fff" stroke="#00BB6C" stroke-width="2.7"/>
<text x="1570.0" y="1317.0" font-size="22.3" text-anchor="end" fill="#000">Na<tspan dx="3.1">ï</tspan><tspan dx="-8.1">ve</tspan> CD4 <tspan font-size="13.8" dy="-8">+</tspan><tspan dy="8"> T</tspan></text>
<circle cx="1606.3" cy="1364.0" r="15.0" fill="#9DB52F"/>
<circle cx="1892.3" cy="1364.0" r="13.65" fill="#fff" stroke="#9DB52F" stroke-width="2.7"/>
<text x="1570.0" y="1372.4" font-size="22.3" text-anchor="end" fill="#000">CM CD4<tspan font-size="13.8" dy="-8.0">+</tspan><tspan dy="8.0"> T</tspan></text>
<circle cx="1606.3" cy="1416.7" r="13.3" fill="#00BBD8"/>
<circle cx="1892.3" cy="1416.7" r="11.95" fill="#fff" stroke="#00BBD8" stroke-width="2.7"/>
<text x="1570.0" y="1425.0" font-size="22.3" text-anchor="end" fill="#000">CM CD8<tspan font-size="13.8" dy="-8.0">+</tspan><tspan dy="8.0"> T</tspan></text>
<circle cx="1606.3" cy="1465.0" r="9.7" fill="#D575FA"/>
<circle cx="1892.3" cy="1465.0" r="8.70" fill="#fff" stroke="#D575FA" stroke-width="2.0"/>
<text x="1570.0" y="1474.0" font-size="22.3" text-anchor="end" fill="#000">TRM CD4<tspan font-size="13.8" dy="-8.0">+</tspan><tspan dy="8.0"> T</tspan></text>
<circle cx="1606.3" cy="1514.8" r="15.0" fill="#BE9C0A"/>
<circle cx="1892.3" cy="1514.8" r="13.65" fill="#fff" stroke="#BE9C0A" stroke-width="2.7"/>
<text x="1570.0" y="1523.2" font-size="22.3" text-anchor="end" fill="#000">TRM CD8<tspan font-size="13.8" dy="-8.0">+</tspan><tspan dy="8.0"> T</tspan></text>
<circle cx="1606.3" cy="1571.5" r="16.6" fill="#F5766E"/>
<circle cx="1892.3" cy="1571.5" r="15.25" fill="#fff" stroke="#F5766E" stroke-width="2.7"/>
<text x="1570.0" y="1577.5" font-size="22.3" text-anchor="end" fill="#000">Treg</text>
<circle cx="1606.3" cy="1625.0" r="12.0" fill="#8A93FB"/>
<circle cx="1892.3" cy="1625.0" r="10.65" fill="#fff" stroke="#8A93FB" stroke-width="2.7"/>
<text x="1570.0" y="1634.0" font-size="22.3" text-anchor="end" fill="#000">NK</text>
<circle cx="1606.3" cy="1675.9" r="13.6" fill="#00ABF6"/>
<circle cx="1892.3" cy="1675.9" r="12.25" fill="#fff" stroke="#00ABF6" stroke-width="2.7"/>
<text x="1570.0" y="1685.2" font-size="22.3" text-anchor="end" fill="#000">Memory B</text>
<circle cx="1606.3" cy="1728.0" r="13.6" fill="#00BFAD"/>
<circle cx="1892.3" cy="1728.0" r="12.25" fill="#fff" stroke="#00BFAD" stroke-width="2.7"/>
<text x="1570.0" y="1736.2" font-size="22.3" text-anchor="end" fill="#000">Plasma</text>
<circle cx="1606.3" cy="1790.0" r="23.0" fill="url(#mgrad)"/>
<circle cx="1892.3" cy="1790.0" r="21.20" fill="#fff" stroke="url(#mgrad)" stroke-width="3.6"/>
<text x="1570.0" y="1796.0" font-size="22.3" text-anchor="end" fill="#000">Monocytes 1&amp;2</text>
<circle cx="1606.3" cy="1847.0" r="9.4" fill="#F763E0"/>
<circle cx="1892.3" cy="1847.0" r="8.40" fill="#fff" stroke="#F763E0" stroke-width="2.0"/>
<text x="1570.0" y="1853.3" font-size="22.3" text-anchor="end" fill="#000">TAM</text>
<circle cx="1606.3" cy="1888.9" r="7.8" fill="#FA5FA8"/>
<circle cx="1892.3" cy="1888.9" r="6.80" fill="#fff" stroke="#FA5FA8" stroke-width="2.0"/>
<text x="1570.0" y="1897.0" font-size="22.3" text-anchor="end" fill="#000">DC</text>
<path d="M1447 1930.2H1537" stroke="#F4504B" stroke-width="3.3" stroke-linecap="round"/>
<path d="M1447 1962.5H1537" stroke="#9650C8" stroke-width="3.1" stroke-linecap="round"/>
<text x="1564.0" y="1937.7" font-size="22.3" text-anchor="start" fill="#000">NECTIN-TIGIT signaling pathway</text>
<text x="1564.0" y="1968.5" font-size="22.3" text-anchor="start" fill="#000">CD6-ALCAM signaling pathway</text>
<circle cx="1497.7" cy="2033.4" r="11.2" fill="#BDBDBD"/>
<circle cx="1548.4" cy="2028.9" r="15" fill="#BDBDBD"/>
<circle cx="1610.2" cy="2022.2" r="22" fill="#BDBDBD"/>
<text x="1674.0" y="2035.8" font-size="22.3" text-anchor="start" fill="#000">Number of cells</text>
</svg>
</body></html>
